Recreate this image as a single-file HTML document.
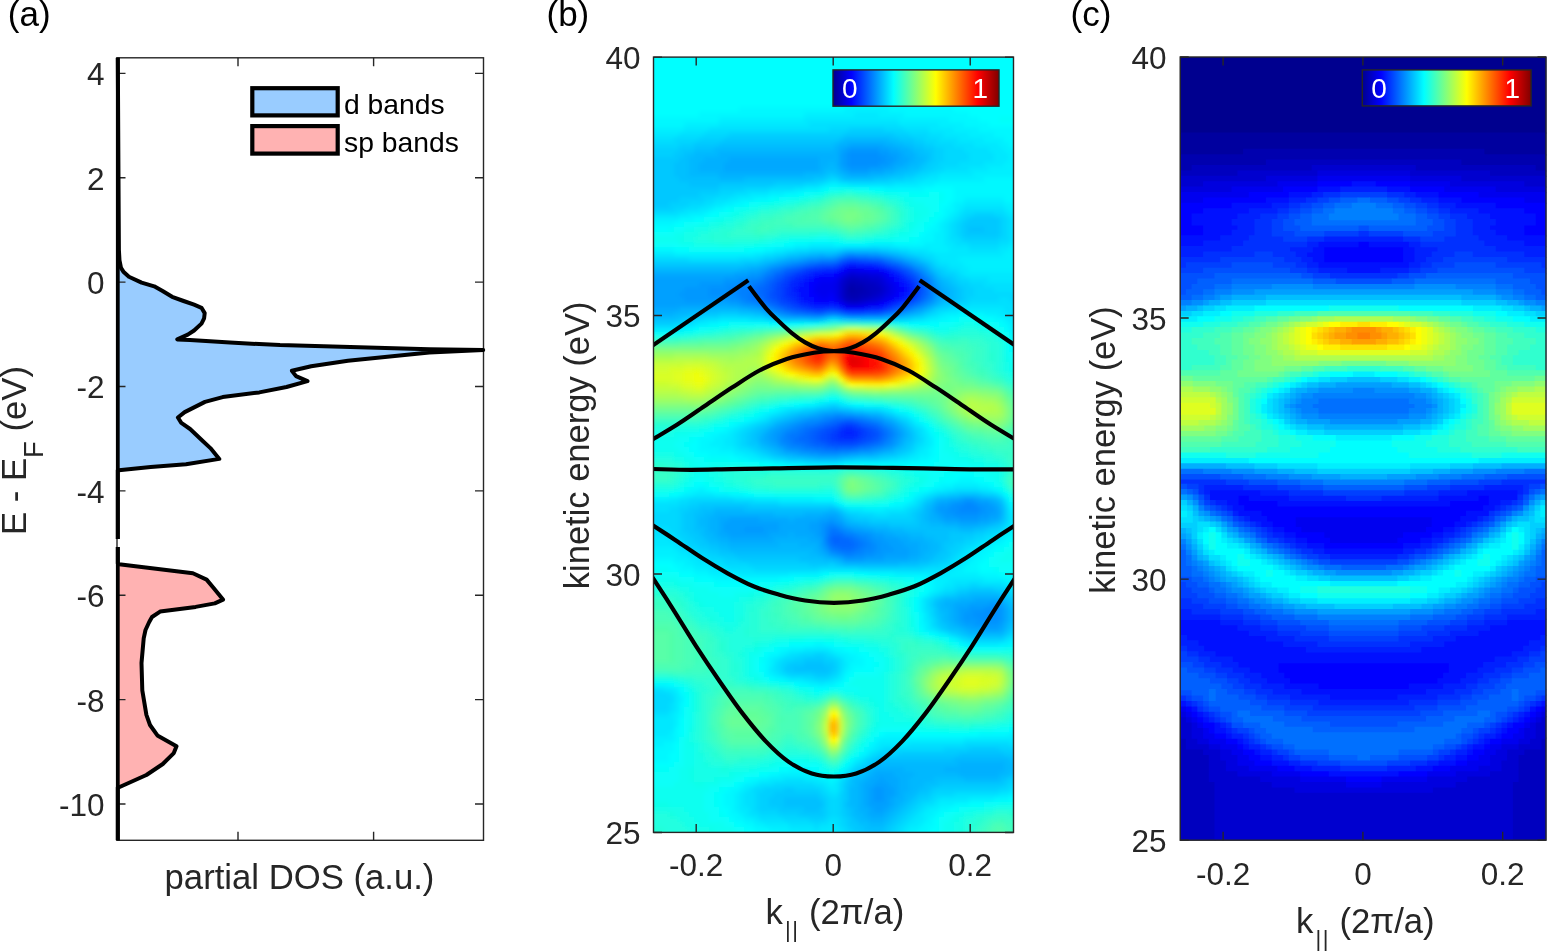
<!DOCTYPE html><html><head><meta charset="utf-8"><style>html,body{margin:0;padding:0;background:#fff;width:1547px;height:951px;overflow:hidden}svg{display:block}</style></head><body>
<svg width="1547" height="951" viewBox="0 0 1547 951">
<defs><clipPath id="cb"><rect x="653.5" y="57.1" width="360" height="775.3"/></clipPath><clipPath id="cc"><rect x="1180.2" y="57" width="366" height="783.2"/></clipPath><filter id="blb" x="0" y="0" width="1" height="1"><feGaussianBlur stdDeviation="2"/></filter><linearGradient id="jet"><stop offset="0" stop-color="#000090"/><stop offset="0.111" stop-color="#0000ff"/><stop offset="0.365" stop-color="#00ffff"/><stop offset="0.619" stop-color="#ffff00"/><stop offset="0.873" stop-color="#ff0000"/><stop offset="1" stop-color="#800000"/></linearGradient></defs>
<g clip-path="url(#cb)"><g filter="url(#blb)"><path fill="#00ffff" d="M644.0 47.0h380.0v5.0h-380.0zM644.0 52.0h380.0v5.0h-380.0zM644.0 57.0h380.0v5.0h-380.0zM644.0 62.0h380.0v5.0h-380.0zM644.0 67.0h380.0v5.0h-380.0zM644.0 72.0h380.0v5.0h-380.0zM644.0 77.0h380.0v5.0h-380.0zM644.0 82.0h380.0v5.0h-380.0zM644.0 87.0h380.0v5.0h-380.0zM644.0 92.0h380.0v5.0h-380.0zM644.0 97.0h380.0v5.0h-380.0zM644.0 102.0h190.0v5.0h-190.0zM909.0 102.0h115.0v5.0h-115.0zM644.0 107.0h95.0v5.0h-95.0zM954.0 107.0h70.0v5.0h-70.0zM644.0 112.0h55.0v5.0h-55.0zM969.0 112.0h55.0v5.0h-55.0zM979.0 117.0h20.0v5.0h-20.0zM989.0 122.0h35.0v5.0h-35.0zM824.0 187.0h5.0v5.0h-5.0zM869.0 187.0h15.0v5.0h-15.0zM924.0 187.0h30.0v5.0h-30.0zM799.0 192.0h5.0v5.0h-5.0zM944.0 192.0h10.0v5.0h-10.0zM769.0 197.0h5.0v5.0h-5.0zM944.0 197.0h10.0v5.0h-10.0zM744.0 202.0h5.0v5.0h-5.0zM939.0 202.0h10.0v5.0h-10.0zM724.0 207.0h5.0v5.0h-5.0zM939.0 207.0h5.0v5.0h-5.0zM709.0 212.0h10.0v5.0h-10.0zM939.0 212.0h5.0v5.0h-5.0zM694.0 217.0h10.0v5.0h-10.0zM934.0 217.0h5.0v5.0h-5.0zM674.0 222.0h10.0v5.0h-10.0zM929.0 222.0h5.0v5.0h-5.0zM644.0 227.0h25.0v5.0h-25.0zM924.0 227.0h5.0v5.0h-5.0zM919.0 232.0h5.0v5.0h-5.0zM914.0 237.0h5.0v5.0h-5.0zM784.0 242.0h10.0v5.0h-10.0zM674.0 247.0h15.0v5.0h-15.0zM749.0 247.0h15.0v5.0h-15.0zM949.0 317.0h10.0v5.0h-10.0zM984.0 317.0h10.0v5.0h-10.0zM719.0 322.0h10.0v5.0h-10.0zM769.0 322.0h15.0v5.0h-15.0zM789.0 322.0h10.0v5.0h-10.0zM909.0 322.0h30.0v5.0h-30.0zM999.0 322.0h5.0v5.0h-5.0zM694.0 327.0h5.0v5.0h-5.0zM1004.0 327.0h5.0v5.0h-5.0zM1009.0 337.0h5.0v5.0h-5.0zM1009.0 342.0h5.0v5.0h-5.0zM1009.0 347.0h5.0v5.0h-5.0zM1014.0 352.0h10.0v5.0h-10.0zM829.0 397.0h5.0v5.0h-5.0zM794.0 402.0h10.0v5.0h-10.0zM854.0 402.0h10.0v5.0h-10.0zM769.0 407.0h5.0v5.0h-5.0zM894.0 407.0h5.0v5.0h-5.0zM909.0 412.0h5.0v5.0h-5.0zM744.0 417.0h5.0v5.0h-5.0zM729.0 422.0h5.0v5.0h-5.0zM924.0 422.0h5.0v5.0h-5.0zM714.0 427.0h10.0v5.0h-10.0zM929.0 427.0h5.0v5.0h-5.0zM704.0 432.0h5.0v5.0h-5.0zM694.0 437.0h5.0v5.0h-5.0zM934.0 437.0h5.0v5.0h-5.0zM689.0 442.0h10.0v5.0h-10.0zM934.0 442.0h5.0v5.0h-5.0zM689.0 447.0h10.0v5.0h-10.0zM934.0 447.0h5.0v5.0h-5.0zM694.0 452.0h15.0v5.0h-15.0zM934.0 452.0h5.0v5.0h-5.0zM729.0 457.0h10.0v5.0h-10.0zM929.0 457.0h10.0v5.0h-10.0zM764.0 462.0h10.0v5.0h-10.0zM909.0 462.0h25.0v5.0h-25.0zM954.0 472.0h20.0v5.0h-20.0zM944.0 477.0h15.0v5.0h-15.0zM974.0 477.0h10.0v5.0h-10.0zM694.0 482.0h10.0v5.0h-10.0zM934.0 482.0h5.0v5.0h-5.0zM989.0 482.0h5.0v5.0h-5.0zM709.0 487.0h10.0v5.0h-10.0zM924.0 487.0h5.0v5.0h-5.0zM669.0 492.0h10.0v5.0h-10.0zM744.0 492.0h10.0v5.0h-10.0zM1004.0 492.0h5.0v5.0h-5.0zM904.0 497.0h5.0v5.0h-5.0zM889.0 502.0h5.0v5.0h-5.0zM1019.0 507.0h5.0v5.0h-5.0zM1014.0 532.0h10.0v5.0h-10.0zM1009.0 537.0h5.0v5.0h-5.0zM1004.0 542.0h5.0v5.0h-5.0zM994.0 547.0h5.0v5.0h-5.0zM989.0 552.0h5.0v5.0h-5.0zM984.0 557.0h5.0v5.0h-5.0zM644.0 562.0h30.0v5.0h-30.0zM979.0 562.0h10.0v5.0h-10.0zM669.0 567.0h10.0v5.0h-10.0zM979.0 567.0h15.0v5.0h-15.0zM679.0 572.0h15.0v5.0h-15.0zM824.0 572.0h5.0v5.0h-5.0zM859.0 572.0h10.0v5.0h-10.0zM999.0 572.0h25.0v5.0h-25.0zM699.0 577.0h15.0v5.0h-15.0zM779.0 577.0h15.0v5.0h-15.0zM914.0 577.0h10.0v5.0h-10.0zM719.0 582.0h40.0v5.0h-40.0zM924.0 582.0h5.0v5.0h-5.0zM924.0 587.0h5.0v5.0h-5.0zM919.0 592.0h5.0v5.0h-5.0zM914.0 597.0h5.0v5.0h-5.0zM914.0 602.0h5.0v5.0h-5.0zM914.0 607.0h5.0v5.0h-5.0zM919.0 627.0h5.0v5.0h-5.0zM929.0 632.0h5.0v5.0h-5.0zM789.0 642.0h25.0v5.0h-25.0zM824.0 642.0h10.0v5.0h-10.0zM774.0 647.0h5.0v5.0h-5.0zM844.0 647.0h10.0v5.0h-10.0zM764.0 652.0h5.0v5.0h-5.0zM859.0 652.0h10.0v5.0h-10.0zM864.0 657.0h10.0v5.0h-10.0zM759.0 662.0h5.0v5.0h-5.0zM864.0 662.0h10.0v5.0h-10.0zM759.0 667.0h5.0v5.0h-5.0zM854.0 667.0h20.0v5.0h-20.0zM849.0 672.0h5.0v5.0h-5.0zM769.0 677.0h5.0v5.0h-5.0zM844.0 677.0h5.0v5.0h-5.0zM669.0 682.0h5.0v5.0h-5.0zM794.0 682.0h5.0v5.0h-5.0zM839.0 682.0h5.0v5.0h-5.0zM679.0 687.0h5.0v5.0h-5.0zM814.0 687.0h15.0v5.0h-15.0zM684.0 697.0h5.0v5.0h-5.0zM684.0 702.0h5.0v5.0h-5.0zM679.0 717.0h5.0v5.0h-5.0zM679.0 722.0h5.0v5.0h-5.0zM679.0 727.0h5.0v5.0h-5.0zM1009.0 727.0h15.0v5.0h-15.0zM679.0 732.0h5.0v5.0h-5.0zM879.0 732.0h5.0v5.0h-5.0zM909.0 732.0h70.0v5.0h-70.0zM674.0 742.0h5.0v5.0h-5.0zM674.0 747.0h5.0v5.0h-5.0zM669.0 752.0h10.0v5.0h-10.0zM669.0 757.0h10.0v5.0h-10.0zM849.0 757.0h5.0v5.0h-5.0zM644.0 762.0h30.0v5.0h-30.0zM844.0 762.0h5.0v5.0h-5.0zM779.0 767.0h10.0v5.0h-10.0zM809.0 767.0h10.0v5.0h-10.0zM839.0 767.0h5.0v5.0h-5.0zM759.0 772.0h10.0v5.0h-10.0zM824.0 772.0h5.0v5.0h-5.0zM834.0 772.0h5.0v5.0h-5.0zM744.0 777.0h5.0v5.0h-5.0zM734.0 782.0h5.0v5.0h-5.0zM724.0 787.0h5.0v5.0h-5.0zM719.0 792.0h5.0v5.0h-5.0zM719.0 797.0h5.0v5.0h-5.0zM1009.0 797.0h15.0v5.0h-15.0zM719.0 802.0h5.0v5.0h-5.0zM969.0 802.0h15.0v5.0h-15.0zM719.0 807.0h10.0v5.0h-10.0zM949.0 807.0h10.0v5.0h-10.0zM724.0 812.0h5.0v5.0h-5.0zM939.0 812.0h5.0v5.0h-5.0zM729.0 817.0h5.0v5.0h-5.0zM934.0 817.0h5.0v5.0h-5.0zM734.0 822.0h10.0v5.0h-10.0zM934.0 822.0h5.0v5.0h-5.0zM744.0 827.0h10.0v5.0h-10.0zM929.0 827.0h10.0v5.0h-10.0zM749.0 832.0h5.0v5.0h-5.0zM929.0 832.0h10.0v5.0h-10.0zM749.0 837.0h5.0v5.0h-5.0zM929.0 837.0h5.0v5.0h-5.0z"/><path fill="#00f8ff" d="M834.0 102.0h75.0v5.0h-75.0zM739.0 107.0h105.0v5.0h-105.0zM889.0 107.0h65.0v5.0h-65.0zM699.0 112.0h105.0v5.0h-105.0zM904.0 112.0h65.0v5.0h-65.0zM644.0 117.0h75.0v5.0h-75.0zM949.0 117.0h30.0v5.0h-30.0zM644.0 122.0h40.0v5.0h-40.0zM964.0 122.0h25.0v5.0h-25.0zM979.0 127.0h45.0v5.0h-45.0zM994.0 132.0h30.0v5.0h-30.0zM1004.0 137.0h20.0v5.0h-20.0zM1009.0 142.0h15.0v5.0h-15.0zM984.0 177.0h40.0v5.0h-40.0zM934.0 182.0h90.0v5.0h-90.0zM819.0 187.0h5.0v5.0h-5.0zM884.0 187.0h40.0v5.0h-40.0zM954.0 187.0h70.0v5.0h-70.0zM784.0 192.0h15.0v5.0h-15.0zM954.0 192.0h70.0v5.0h-70.0zM754.0 197.0h15.0v5.0h-15.0zM954.0 197.0h10.0v5.0h-10.0zM1004.0 197.0h20.0v5.0h-20.0zM734.0 202.0h10.0v5.0h-10.0zM949.0 202.0h5.0v5.0h-5.0zM1014.0 202.0h10.0v5.0h-10.0zM714.0 207.0h10.0v5.0h-10.0zM944.0 207.0h10.0v5.0h-10.0zM704.0 212.0h5.0v5.0h-5.0zM944.0 212.0h5.0v5.0h-5.0zM679.0 217.0h15.0v5.0h-15.0zM939.0 217.0h5.0v5.0h-5.0zM644.0 222.0h30.0v5.0h-30.0zM934.0 222.0h5.0v5.0h-5.0zM929.0 227.0h10.0v5.0h-10.0zM924.0 232.0h10.0v5.0h-10.0zM919.0 237.0h15.0v5.0h-15.0zM794.0 242.0h15.0v5.0h-15.0zM834.0 242.0h35.0v5.0h-35.0zM894.0 242.0h30.0v5.0h-30.0zM644.0 247.0h30.0v5.0h-30.0zM764.0 247.0h10.0v5.0h-10.0zM959.0 312.0h25.0v5.0h-25.0zM939.0 317.0h10.0v5.0h-10.0zM994.0 317.0h10.0v5.0h-10.0zM709.0 322.0h10.0v5.0h-10.0zM784.0 322.0h5.0v5.0h-5.0zM1004.0 322.0h5.0v5.0h-5.0zM684.0 327.0h10.0v5.0h-10.0zM1009.0 332.0h10.0v5.0h-10.0zM1014.0 337.0h10.0v5.0h-10.0zM1014.0 342.0h10.0v5.0h-10.0zM1014.0 347.0h10.0v5.0h-10.0zM804.0 402.0h10.0v5.0h-10.0zM849.0 402.0h5.0v5.0h-5.0zM774.0 407.0h5.0v5.0h-5.0zM759.0 412.0h5.0v5.0h-5.0zM749.0 417.0h5.0v5.0h-5.0zM914.0 417.0h5.0v5.0h-5.0zM734.0 422.0h5.0v5.0h-5.0zM724.0 427.0h5.0v5.0h-5.0zM709.0 432.0h10.0v5.0h-10.0zM929.0 432.0h5.0v5.0h-5.0zM699.0 437.0h15.0v5.0h-15.0zM699.0 442.0h10.0v5.0h-10.0zM699.0 447.0h20.0v5.0h-20.0zM929.0 447.0h5.0v5.0h-5.0zM709.0 452.0h25.0v5.0h-25.0zM929.0 452.0h5.0v5.0h-5.0zM739.0 457.0h10.0v5.0h-10.0zM919.0 457.0h10.0v5.0h-10.0zM774.0 462.0h10.0v5.0h-10.0zM844.0 462.0h65.0v5.0h-65.0zM959.0 477.0h15.0v5.0h-15.0zM939.0 482.0h15.0v5.0h-15.0zM979.0 482.0h10.0v5.0h-10.0zM689.0 487.0h10.0v5.0h-10.0zM704.0 487.0h5.0v5.0h-5.0zM929.0 487.0h5.0v5.0h-5.0zM994.0 487.0h5.0v5.0h-5.0zM679.0 492.0h5.0v5.0h-5.0zM729.0 492.0h15.0v5.0h-15.0zM914.0 492.0h5.0v5.0h-5.0zM814.0 497.0h20.0v5.0h-20.0zM909.0 497.0h5.0v5.0h-5.0zM839.0 502.0h5.0v5.0h-5.0zM894.0 502.0h10.0v5.0h-10.0zM1009.0 502.0h5.0v5.0h-5.0zM1014.0 507.0h5.0v5.0h-5.0zM1014.0 512.0h10.0v5.0h-10.0zM1019.0 522.0h5.0v5.0h-5.0zM1014.0 527.0h10.0v5.0h-10.0zM1009.0 532.0h5.0v5.0h-5.0zM1004.0 537.0h5.0v5.0h-5.0zM994.0 542.0h10.0v5.0h-10.0zM984.0 547.0h10.0v5.0h-10.0zM979.0 552.0h10.0v5.0h-10.0zM644.0 557.0h30.0v5.0h-30.0zM974.0 557.0h10.0v5.0h-10.0zM674.0 562.0h10.0v5.0h-10.0zM969.0 562.0h10.0v5.0h-10.0zM679.0 567.0h15.0v5.0h-15.0zM964.0 567.0h15.0v5.0h-15.0zM694.0 572.0h15.0v5.0h-15.0zM819.0 572.0h5.0v5.0h-5.0zM869.0 572.0h25.0v5.0h-25.0zM979.0 572.0h20.0v5.0h-20.0zM714.0 577.0h65.0v5.0h-65.0zM924.0 577.0h10.0v5.0h-10.0zM1004.0 577.0h20.0v5.0h-20.0zM929.0 582.0h5.0v5.0h-5.0zM929.0 587.0h5.0v5.0h-5.0zM924.0 592.0h5.0v5.0h-5.0zM919.0 612.0h5.0v5.0h-5.0zM919.0 617.0h5.0v5.0h-5.0zM919.0 622.0h5.0v5.0h-5.0zM934.0 632.0h5.0v5.0h-5.0zM949.0 637.0h5.0v5.0h-5.0zM814.0 642.0h10.0v5.0h-10.0zM959.0 642.0h5.0v5.0h-5.0zM1009.0 642.0h15.0v5.0h-15.0zM779.0 647.0h10.0v5.0h-10.0zM834.0 647.0h10.0v5.0h-10.0zM769.0 652.0h10.0v5.0h-10.0zM849.0 652.0h10.0v5.0h-10.0zM764.0 657.0h5.0v5.0h-5.0zM854.0 657.0h10.0v5.0h-10.0zM764.0 662.0h5.0v5.0h-5.0zM849.0 662.0h15.0v5.0h-15.0zM764.0 667.0h5.0v5.0h-5.0zM849.0 667.0h5.0v5.0h-5.0zM764.0 672.0h5.0v5.0h-5.0zM844.0 672.0h5.0v5.0h-5.0zM774.0 677.0h10.0v5.0h-10.0zM644.0 682.0h25.0v5.0h-25.0zM799.0 682.0h10.0v5.0h-10.0zM834.0 682.0h5.0v5.0h-5.0zM679.0 692.0h5.0v5.0h-5.0zM679.0 702.0h5.0v5.0h-5.0zM679.0 707.0h5.0v5.0h-5.0zM679.0 712.0h5.0v5.0h-5.0zM674.0 727.0h5.0v5.0h-5.0zM674.0 732.0h5.0v5.0h-5.0zM884.0 732.0h25.0v5.0h-25.0zM979.0 732.0h30.0v5.0h-30.0zM674.0 737.0h5.0v5.0h-5.0zM874.0 737.0h5.0v5.0h-5.0zM664.0 742.0h10.0v5.0h-10.0zM869.0 742.0h5.0v5.0h-5.0zM644.0 747.0h30.0v5.0h-30.0zM864.0 747.0h5.0v5.0h-5.0zM644.0 752.0h25.0v5.0h-25.0zM859.0 752.0h5.0v5.0h-5.0zM644.0 757.0h25.0v5.0h-25.0zM789.0 767.0h20.0v5.0h-20.0zM769.0 772.0h10.0v5.0h-10.0zM819.0 772.0h5.0v5.0h-5.0zM749.0 777.0h10.0v5.0h-10.0zM829.0 777.0h5.0v5.0h-5.0zM739.0 782.0h5.0v5.0h-5.0zM729.0 787.0h10.0v5.0h-10.0zM724.0 792.0h10.0v5.0h-10.0zM724.0 797.0h10.0v5.0h-10.0zM994.0 797.0h15.0v5.0h-15.0zM724.0 802.0h10.0v5.0h-10.0zM954.0 802.0h15.0v5.0h-15.0zM729.0 807.0h5.0v5.0h-5.0zM939.0 807.0h10.0v5.0h-10.0zM729.0 812.0h10.0v5.0h-10.0zM934.0 812.0h5.0v5.0h-5.0zM734.0 817.0h10.0v5.0h-10.0zM929.0 817.0h5.0v5.0h-5.0zM744.0 822.0h10.0v5.0h-10.0zM924.0 822.0h10.0v5.0h-10.0zM754.0 827.0h15.0v5.0h-15.0zM919.0 827.0h10.0v5.0h-10.0zM754.0 832.0h25.0v5.0h-25.0zM914.0 832.0h15.0v5.0h-15.0zM754.0 837.0h25.0v5.0h-25.0zM914.0 837.0h15.0v5.0h-15.0z"/><path fill="#00f0ff" d="M844.0 107.0h45.0v5.0h-45.0zM804.0 112.0h50.0v5.0h-50.0zM879.0 112.0h25.0v5.0h-25.0zM719.0 117.0h85.0v5.0h-85.0zM899.0 117.0h50.0v5.0h-50.0zM684.0 122.0h35.0v5.0h-35.0zM939.0 122.0h25.0v5.0h-25.0zM644.0 127.0h40.0v5.0h-40.0zM954.0 127.0h25.0v5.0h-25.0zM969.0 132.0h25.0v5.0h-25.0zM984.0 137.0h20.0v5.0h-20.0zM999.0 142.0h10.0v5.0h-10.0zM1004.0 147.0h20.0v5.0h-20.0zM1009.0 152.0h15.0v5.0h-15.0zM1009.0 157.0h15.0v5.0h-15.0zM1004.0 162.0h20.0v5.0h-20.0zM989.0 167.0h35.0v5.0h-35.0zM974.0 172.0h50.0v5.0h-50.0zM939.0 177.0h45.0v5.0h-45.0zM829.0 182.0h10.0v5.0h-10.0zM919.0 182.0h15.0v5.0h-15.0zM804.0 187.0h15.0v5.0h-15.0zM769.0 192.0h15.0v5.0h-15.0zM739.0 197.0h15.0v5.0h-15.0zM964.0 197.0h40.0v5.0h-40.0zM724.0 202.0h10.0v5.0h-10.0zM954.0 202.0h10.0v5.0h-10.0zM1004.0 202.0h10.0v5.0h-10.0zM709.0 207.0h5.0v5.0h-5.0zM954.0 207.0h5.0v5.0h-5.0zM1009.0 207.0h15.0v5.0h-15.0zM689.0 212.0h15.0v5.0h-15.0zM949.0 212.0h5.0v5.0h-5.0zM644.0 217.0h35.0v5.0h-35.0zM944.0 217.0h5.0v5.0h-5.0zM939.0 222.0h5.0v5.0h-5.0zM939.0 227.0h5.0v5.0h-5.0zM934.0 232.0h10.0v5.0h-10.0zM934.0 237.0h10.0v5.0h-10.0zM809.0 242.0h25.0v5.0h-25.0zM869.0 242.0h25.0v5.0h-25.0zM924.0 242.0h20.0v5.0h-20.0zM774.0 247.0h10.0v5.0h-10.0zM929.0 247.0h20.0v5.0h-20.0zM1009.0 247.0h15.0v5.0h-15.0zM674.0 252.0h80.0v5.0h-80.0zM1004.0 252.0h20.0v5.0h-20.0zM959.0 257.0h65.0v5.0h-65.0zM964.0 262.0h60.0v5.0h-60.0zM969.0 267.0h55.0v5.0h-55.0zM944.0 312.0h15.0v5.0h-15.0zM984.0 312.0h15.0v5.0h-15.0zM929.0 317.0h10.0v5.0h-10.0zM1004.0 317.0h5.0v5.0h-5.0zM699.0 322.0h10.0v5.0h-10.0zM1009.0 322.0h5.0v5.0h-5.0zM679.0 327.0h5.0v5.0h-5.0zM1009.0 327.0h15.0v5.0h-15.0zM1019.0 332.0h5.0v5.0h-5.0zM814.0 402.0h5.0v5.0h-5.0zM844.0 402.0h5.0v5.0h-5.0zM779.0 407.0h5.0v5.0h-5.0zM889.0 407.0h5.0v5.0h-5.0zM764.0 412.0h5.0v5.0h-5.0zM904.0 412.0h5.0v5.0h-5.0zM754.0 417.0h5.0v5.0h-5.0zM739.0 422.0h5.0v5.0h-5.0zM919.0 422.0h5.0v5.0h-5.0zM729.0 427.0h5.0v5.0h-5.0zM924.0 427.0h5.0v5.0h-5.0zM719.0 432.0h10.0v5.0h-10.0zM714.0 437.0h10.0v5.0h-10.0zM929.0 437.0h5.0v5.0h-5.0zM709.0 442.0h15.0v5.0h-15.0zM929.0 442.0h5.0v5.0h-5.0zM719.0 447.0h15.0v5.0h-15.0zM924.0 447.0h5.0v5.0h-5.0zM734.0 452.0h10.0v5.0h-10.0zM919.0 452.0h10.0v5.0h-10.0zM749.0 457.0h10.0v5.0h-10.0zM909.0 457.0h10.0v5.0h-10.0zM784.0 462.0h20.0v5.0h-20.0zM839.0 462.0h5.0v5.0h-5.0zM954.0 482.0h25.0v5.0h-25.0zM699.0 487.0h5.0v5.0h-5.0zM934.0 487.0h10.0v5.0h-10.0zM989.0 487.0h5.0v5.0h-5.0zM684.0 492.0h10.0v5.0h-10.0zM714.0 492.0h15.0v5.0h-15.0zM919.0 492.0h5.0v5.0h-5.0zM644.0 497.0h25.0v5.0h-25.0zM779.0 497.0h35.0v5.0h-35.0zM904.0 502.0h5.0v5.0h-5.0zM864.0 507.0h20.0v5.0h-20.0zM1009.0 507.0h5.0v5.0h-5.0zM1014.0 517.0h10.0v5.0h-10.0zM1014.0 522.0h5.0v5.0h-5.0zM1009.0 527.0h5.0v5.0h-5.0zM1004.0 532.0h5.0v5.0h-5.0zM999.0 537.0h5.0v5.0h-5.0zM989.0 542.0h5.0v5.0h-5.0zM644.0 547.0h30.0v5.0h-30.0zM979.0 547.0h5.0v5.0h-5.0zM644.0 552.0h35.0v5.0h-35.0zM974.0 552.0h5.0v5.0h-5.0zM674.0 557.0h15.0v5.0h-15.0zM969.0 557.0h5.0v5.0h-5.0zM684.0 562.0h10.0v5.0h-10.0zM964.0 562.0h5.0v5.0h-5.0zM694.0 567.0h15.0v5.0h-15.0zM954.0 567.0h10.0v5.0h-10.0zM709.0 572.0h30.0v5.0h-30.0zM789.0 572.0h30.0v5.0h-30.0zM894.0 572.0h35.0v5.0h-35.0zM949.0 572.0h30.0v5.0h-30.0zM934.0 577.0h15.0v5.0h-15.0zM984.0 577.0h20.0v5.0h-20.0zM934.0 582.0h10.0v5.0h-10.0zM1009.0 582.0h15.0v5.0h-15.0zM934.0 587.0h5.0v5.0h-5.0zM919.0 597.0h5.0v5.0h-5.0zM919.0 602.0h5.0v5.0h-5.0zM919.0 607.0h5.0v5.0h-5.0zM924.0 622.0h5.0v5.0h-5.0zM924.0 627.0h5.0v5.0h-5.0zM939.0 632.0h5.0v5.0h-5.0zM954.0 637.0h5.0v5.0h-5.0zM1014.0 637.0h10.0v5.0h-10.0zM964.0 642.0h5.0v5.0h-5.0zM999.0 642.0h10.0v5.0h-10.0zM789.0 647.0h15.0v5.0h-15.0zM829.0 647.0h5.0v5.0h-5.0zM779.0 652.0h5.0v5.0h-5.0zM839.0 652.0h10.0v5.0h-10.0zM769.0 657.0h5.0v5.0h-5.0zM844.0 657.0h10.0v5.0h-10.0zM769.0 662.0h5.0v5.0h-5.0zM844.0 667.0h5.0v5.0h-5.0zM769.0 672.0h5.0v5.0h-5.0zM784.0 677.0h5.0v5.0h-5.0zM839.0 677.0h5.0v5.0h-5.0zM809.0 682.0h10.0v5.0h-10.0zM824.0 682.0h10.0v5.0h-10.0zM674.0 687.0h5.0v5.0h-5.0zM679.0 697.0h5.0v5.0h-5.0zM674.0 712.0h5.0v5.0h-5.0zM674.0 717.0h5.0v5.0h-5.0zM674.0 722.0h5.0v5.0h-5.0zM669.0 732.0h5.0v5.0h-5.0zM1009.0 732.0h15.0v5.0h-15.0zM644.0 737.0h30.0v5.0h-30.0zM879.0 737.0h85.0v5.0h-85.0zM644.0 742.0h20.0v5.0h-20.0zM874.0 742.0h5.0v5.0h-5.0zM869.0 747.0h5.0v5.0h-5.0zM864.0 752.0h5.0v5.0h-5.0zM854.0 757.0h5.0v5.0h-5.0zM849.0 762.0h5.0v5.0h-5.0zM844.0 767.0h5.0v5.0h-5.0zM779.0 772.0h40.0v5.0h-40.0zM839.0 772.0h5.0v5.0h-5.0zM759.0 777.0h10.0v5.0h-10.0zM819.0 777.0h10.0v5.0h-10.0zM834.0 777.0h5.0v5.0h-5.0zM744.0 782.0h10.0v5.0h-10.0zM829.0 782.0h5.0v5.0h-5.0zM739.0 787.0h5.0v5.0h-5.0zM734.0 792.0h5.0v5.0h-5.0zM1009.0 792.0h15.0v5.0h-15.0zM734.0 797.0h5.0v5.0h-5.0zM969.0 797.0h25.0v5.0h-25.0zM734.0 802.0h5.0v5.0h-5.0zM939.0 802.0h15.0v5.0h-15.0zM734.0 807.0h5.0v5.0h-5.0zM929.0 807.0h10.0v5.0h-10.0zM739.0 812.0h5.0v5.0h-5.0zM924.0 812.0h10.0v5.0h-10.0zM744.0 817.0h10.0v5.0h-10.0zM924.0 817.0h5.0v5.0h-5.0zM754.0 822.0h10.0v5.0h-10.0zM919.0 822.0h5.0v5.0h-5.0zM769.0 827.0h20.0v5.0h-20.0zM909.0 827.0h10.0v5.0h-10.0zM779.0 832.0h20.0v5.0h-20.0zM829.0 832.0h5.0v5.0h-5.0zM909.0 832.0h5.0v5.0h-5.0zM779.0 837.0h20.0v5.0h-20.0zM829.0 837.0h5.0v5.0h-5.0zM909.0 837.0h5.0v5.0h-5.0z"/><path fill="#00e8ff" d="M854.0 112.0h25.0v5.0h-25.0zM804.0 117.0h95.0v5.0h-95.0zM719.0 122.0h90.0v5.0h-90.0zM899.0 122.0h40.0v5.0h-40.0zM684.0 127.0h25.0v5.0h-25.0zM929.0 127.0h25.0v5.0h-25.0zM644.0 132.0h35.0v5.0h-35.0zM944.0 132.0h25.0v5.0h-25.0zM959.0 137.0h25.0v5.0h-25.0zM974.0 142.0h25.0v5.0h-25.0zM989.0 147.0h15.0v5.0h-15.0zM994.0 152.0h15.0v5.0h-15.0zM994.0 157.0h15.0v5.0h-15.0zM984.0 162.0h20.0v5.0h-20.0zM969.0 167.0h20.0v5.0h-20.0zM939.0 172.0h35.0v5.0h-35.0zM924.0 177.0h15.0v5.0h-15.0zM824.0 182.0h5.0v5.0h-5.0zM839.0 182.0h10.0v5.0h-10.0zM894.0 182.0h25.0v5.0h-25.0zM794.0 187.0h10.0v5.0h-10.0zM749.0 192.0h20.0v5.0h-20.0zM729.0 197.0h10.0v5.0h-10.0zM714.0 202.0h10.0v5.0h-10.0zM964.0 202.0h40.0v5.0h-40.0zM699.0 207.0h10.0v5.0h-10.0zM959.0 207.0h5.0v5.0h-5.0zM1004.0 207.0h5.0v5.0h-5.0zM679.0 212.0h10.0v5.0h-10.0zM954.0 212.0h5.0v5.0h-5.0zM1009.0 212.0h15.0v5.0h-15.0zM949.0 217.0h5.0v5.0h-5.0zM1014.0 217.0h10.0v5.0h-10.0zM944.0 222.0h5.0v5.0h-5.0zM1014.0 222.0h10.0v5.0h-10.0zM944.0 227.0h5.0v5.0h-5.0zM1014.0 227.0h10.0v5.0h-10.0zM944.0 232.0h5.0v5.0h-5.0zM1014.0 232.0h10.0v5.0h-10.0zM944.0 237.0h5.0v5.0h-5.0zM1014.0 237.0h10.0v5.0h-10.0zM944.0 242.0h10.0v5.0h-10.0zM1009.0 242.0h15.0v5.0h-15.0zM784.0 247.0h10.0v5.0h-10.0zM909.0 247.0h20.0v5.0h-20.0zM949.0 247.0h20.0v5.0h-20.0zM999.0 247.0h10.0v5.0h-10.0zM644.0 252.0h30.0v5.0h-30.0zM754.0 252.0h10.0v5.0h-10.0zM934.0 252.0h70.0v5.0h-70.0zM939.0 257.0h20.0v5.0h-20.0zM949.0 262.0h15.0v5.0h-15.0zM959.0 267.0h10.0v5.0h-10.0zM964.0 272.0h60.0v5.0h-60.0zM989.0 277.0h35.0v5.0h-35.0zM959.0 307.0h45.0v5.0h-45.0zM939.0 312.0h5.0v5.0h-5.0zM999.0 312.0h10.0v5.0h-10.0zM719.0 317.0h30.0v5.0h-30.0zM924.0 317.0h5.0v5.0h-5.0zM1009.0 317.0h15.0v5.0h-15.0zM694.0 322.0h5.0v5.0h-5.0zM1014.0 322.0h10.0v5.0h-10.0zM644.0 327.0h35.0v5.0h-35.0zM819.0 402.0h5.0v5.0h-5.0zM839.0 402.0h5.0v5.0h-5.0zM784.0 407.0h5.0v5.0h-5.0zM884.0 407.0h5.0v5.0h-5.0zM769.0 412.0h5.0v5.0h-5.0zM899.0 412.0h5.0v5.0h-5.0zM759.0 417.0h5.0v5.0h-5.0zM909.0 417.0h5.0v5.0h-5.0zM744.0 422.0h5.0v5.0h-5.0zM914.0 422.0h5.0v5.0h-5.0zM734.0 427.0h5.0v5.0h-5.0zM729.0 432.0h5.0v5.0h-5.0zM924.0 432.0h5.0v5.0h-5.0zM724.0 437.0h10.0v5.0h-10.0zM924.0 437.0h5.0v5.0h-5.0zM724.0 442.0h10.0v5.0h-10.0zM924.0 442.0h5.0v5.0h-5.0zM734.0 447.0h5.0v5.0h-5.0zM919.0 447.0h5.0v5.0h-5.0zM744.0 452.0h10.0v5.0h-10.0zM914.0 452.0h5.0v5.0h-5.0zM759.0 457.0h10.0v5.0h-10.0zM899.0 457.0h10.0v5.0h-10.0zM804.0 462.0h35.0v5.0h-35.0zM944.0 487.0h10.0v5.0h-10.0zM979.0 487.0h10.0v5.0h-10.0zM694.0 492.0h20.0v5.0h-20.0zM924.0 492.0h5.0v5.0h-5.0zM999.0 492.0h5.0v5.0h-5.0zM669.0 497.0h10.0v5.0h-10.0zM754.0 497.0h25.0v5.0h-25.0zM914.0 497.0h5.0v5.0h-5.0zM1004.0 497.0h5.0v5.0h-5.0zM834.0 502.0h5.0v5.0h-5.0zM909.0 502.0h5.0v5.0h-5.0zM849.0 507.0h15.0v5.0h-15.0zM884.0 507.0h20.0v5.0h-20.0zM1009.0 512.0h5.0v5.0h-5.0zM1009.0 517.0h5.0v5.0h-5.0zM1009.0 522.0h5.0v5.0h-5.0zM1004.0 527.0h5.0v5.0h-5.0zM999.0 532.0h5.0v5.0h-5.0zM644.0 537.0h25.0v5.0h-25.0zM989.0 537.0h10.0v5.0h-10.0zM644.0 542.0h30.0v5.0h-30.0zM979.0 542.0h10.0v5.0h-10.0zM674.0 547.0h5.0v5.0h-5.0zM969.0 547.0h10.0v5.0h-10.0zM679.0 552.0h10.0v5.0h-10.0zM964.0 552.0h10.0v5.0h-10.0zM689.0 557.0h10.0v5.0h-10.0zM959.0 557.0h10.0v5.0h-10.0zM694.0 562.0h15.0v5.0h-15.0zM954.0 562.0h10.0v5.0h-10.0zM709.0 567.0h20.0v5.0h-20.0zM944.0 567.0h10.0v5.0h-10.0zM739.0 572.0h50.0v5.0h-50.0zM929.0 572.0h20.0v5.0h-20.0zM949.0 577.0h35.0v5.0h-35.0zM944.0 582.0h10.0v5.0h-10.0zM1004.0 582.0h5.0v5.0h-5.0zM939.0 587.0h5.0v5.0h-5.0zM1014.0 587.0h10.0v5.0h-10.0zM929.0 592.0h5.0v5.0h-5.0zM924.0 612.0h5.0v5.0h-5.0zM924.0 617.0h5.0v5.0h-5.0zM929.0 627.0h5.0v5.0h-5.0zM944.0 632.0h5.0v5.0h-5.0zM1009.0 637.0h5.0v5.0h-5.0zM969.0 642.0h30.0v5.0h-30.0zM804.0 647.0h25.0v5.0h-25.0zM784.0 652.0h5.0v5.0h-5.0zM834.0 652.0h5.0v5.0h-5.0zM774.0 657.0h5.0v5.0h-5.0zM844.0 662.0h5.0v5.0h-5.0zM769.0 667.0h5.0v5.0h-5.0zM774.0 672.0h5.0v5.0h-5.0zM839.0 672.0h5.0v5.0h-5.0zM789.0 677.0h15.0v5.0h-15.0zM834.0 677.0h5.0v5.0h-5.0zM819.0 682.0h5.0v5.0h-5.0zM664.0 687.0h10.0v5.0h-10.0zM674.0 692.0h5.0v5.0h-5.0zM674.0 697.0h5.0v5.0h-5.0zM674.0 702.0h5.0v5.0h-5.0zM674.0 707.0h5.0v5.0h-5.0zM669.0 712.0h5.0v5.0h-5.0zM644.0 717.0h30.0v5.0h-30.0zM644.0 722.0h30.0v5.0h-30.0zM644.0 727.0h30.0v5.0h-30.0zM644.0 732.0h25.0v5.0h-25.0zM964.0 737.0h60.0v5.0h-60.0zM879.0 742.0h30.0v5.0h-30.0zM874.0 747.0h5.0v5.0h-5.0zM859.0 757.0h5.0v5.0h-5.0zM769.0 777.0h15.0v5.0h-15.0zM804.0 777.0h15.0v5.0h-15.0zM754.0 782.0h5.0v5.0h-5.0zM824.0 782.0h5.0v5.0h-5.0zM834.0 782.0h5.0v5.0h-5.0zM744.0 787.0h5.0v5.0h-5.0zM829.0 787.0h10.0v5.0h-10.0zM1014.0 787.0h10.0v5.0h-10.0zM739.0 792.0h5.0v5.0h-5.0zM999.0 792.0h10.0v5.0h-10.0zM739.0 797.0h5.0v5.0h-5.0zM939.0 797.0h30.0v5.0h-30.0zM739.0 802.0h5.0v5.0h-5.0zM934.0 802.0h5.0v5.0h-5.0zM739.0 807.0h10.0v5.0h-10.0zM924.0 807.0h5.0v5.0h-5.0zM744.0 812.0h5.0v5.0h-5.0zM919.0 812.0h5.0v5.0h-5.0zM754.0 817.0h5.0v5.0h-5.0zM914.0 817.0h10.0v5.0h-10.0zM764.0 822.0h25.0v5.0h-25.0zM829.0 822.0h5.0v5.0h-5.0zM909.0 822.0h10.0v5.0h-10.0zM789.0 827.0h25.0v5.0h-25.0zM819.0 827.0h20.0v5.0h-20.0zM904.0 827.0h5.0v5.0h-5.0zM799.0 832.0h30.0v5.0h-30.0zM834.0 832.0h5.0v5.0h-5.0zM904.0 832.0h5.0v5.0h-5.0zM799.0 837.0h30.0v5.0h-30.0zM834.0 837.0h5.0v5.0h-5.0zM904.0 837.0h5.0v5.0h-5.0z"/><path fill="#00fff8" d="M999.0 117.0h25.0v5.0h-25.0zM909.0 192.0h20.0v5.0h-20.0zM939.0 192.0h5.0v5.0h-5.0zM774.0 197.0h5.0v5.0h-5.0zM939.0 197.0h5.0v5.0h-5.0zM729.0 207.0h5.0v5.0h-5.0zM934.0 212.0h5.0v5.0h-5.0zM929.0 217.0h5.0v5.0h-5.0zM924.0 222.0h5.0v5.0h-5.0zM669.0 227.0h5.0v5.0h-5.0zM909.0 237.0h5.0v5.0h-5.0zM744.0 247.0h5.0v5.0h-5.0zM979.0 317.0h5.0v5.0h-5.0zM799.0 322.0h5.0v5.0h-5.0zM1019.0 357.0h5.0v5.0h-5.0zM834.0 397.0h5.0v5.0h-5.0zM754.0 412.0h5.0v5.0h-5.0zM934.0 432.0h5.0v5.0h-5.0zM689.0 437.0h5.0v5.0h-5.0zM684.0 442.0h5.0v5.0h-5.0zM704.0 457.0h25.0v5.0h-25.0zM759.0 462.0h5.0v5.0h-5.0zM944.0 472.0h10.0v5.0h-10.0zM939.0 477.0h5.0v5.0h-5.0zM704.0 482.0h5.0v5.0h-5.0zM684.0 487.0h5.0v5.0h-5.0zM919.0 487.0h5.0v5.0h-5.0zM999.0 487.0h5.0v5.0h-5.0zM909.0 492.0h5.0v5.0h-5.0zM1014.0 537.0h10.0v5.0h-10.0zM999.0 547.0h5.0v5.0h-5.0zM644.0 567.0h25.0v5.0h-25.0zM994.0 567.0h5.0v5.0h-5.0zM854.0 572.0h5.0v5.0h-5.0zM694.0 577.0h5.0v5.0h-5.0zM714.0 582.0h5.0v5.0h-5.0zM854.0 647.0h5.0v5.0h-5.0zM759.0 657.0h5.0v5.0h-5.0zM874.0 662.0h5.0v5.0h-5.0zM684.0 692.0h5.0v5.0h-5.0zM644.0 767.0h25.0v5.0h-25.0zM719.0 787.0h5.0v5.0h-5.0zM714.0 792.0h5.0v5.0h-5.0zM714.0 797.0h5.0v5.0h-5.0zM714.0 802.0h5.0v5.0h-5.0zM719.0 812.0h5.0v5.0h-5.0zM744.0 832.0h5.0v5.0h-5.0zM744.0 837.0h5.0v5.0h-5.0zM934.0 837.0h5.0v5.0h-5.0z"/><path fill="#00e0ff" d="M809.0 122.0h90.0v5.0h-90.0zM709.0 127.0h120.0v5.0h-120.0zM904.0 127.0h25.0v5.0h-25.0zM679.0 132.0h25.0v5.0h-25.0zM929.0 132.0h15.0v5.0h-15.0zM644.0 137.0h30.0v5.0h-30.0zM939.0 137.0h20.0v5.0h-20.0zM954.0 142.0h20.0v5.0h-20.0zM964.0 147.0h25.0v5.0h-25.0zM969.0 152.0h25.0v5.0h-25.0zM969.0 157.0h25.0v5.0h-25.0zM959.0 162.0h25.0v5.0h-25.0zM944.0 167.0h25.0v5.0h-25.0zM929.0 172.0h10.0v5.0h-10.0zM914.0 177.0h10.0v5.0h-10.0zM819.0 182.0h5.0v5.0h-5.0zM849.0 182.0h45.0v5.0h-45.0zM769.0 187.0h25.0v5.0h-25.0zM734.0 192.0h15.0v5.0h-15.0zM714.0 197.0h15.0v5.0h-15.0zM704.0 202.0h10.0v5.0h-10.0zM684.0 207.0h15.0v5.0h-15.0zM964.0 207.0h40.0v5.0h-40.0zM644.0 212.0h35.0v5.0h-35.0zM959.0 212.0h5.0v5.0h-5.0zM1004.0 212.0h5.0v5.0h-5.0zM954.0 217.0h5.0v5.0h-5.0zM1009.0 217.0h5.0v5.0h-5.0zM949.0 222.0h5.0v5.0h-5.0zM1009.0 222.0h5.0v5.0h-5.0zM949.0 227.0h5.0v5.0h-5.0zM1009.0 227.0h5.0v5.0h-5.0zM949.0 232.0h5.0v5.0h-5.0zM1009.0 232.0h5.0v5.0h-5.0zM949.0 237.0h10.0v5.0h-10.0zM1009.0 237.0h5.0v5.0h-5.0zM954.0 242.0h15.0v5.0h-15.0zM999.0 242.0h10.0v5.0h-10.0zM794.0 247.0h15.0v5.0h-15.0zM899.0 247.0h10.0v5.0h-10.0zM969.0 247.0h30.0v5.0h-30.0zM764.0 252.0h10.0v5.0h-10.0zM924.0 252.0h10.0v5.0h-10.0zM689.0 257.0h50.0v5.0h-50.0zM934.0 257.0h5.0v5.0h-5.0zM939.0 262.0h10.0v5.0h-10.0zM949.0 267.0h10.0v5.0h-10.0zM959.0 272.0h5.0v5.0h-5.0zM969.0 277.0h20.0v5.0h-20.0zM984.0 282.0h40.0v5.0h-40.0zM994.0 287.0h30.0v5.0h-30.0zM999.0 297.0h10.0v5.0h-10.0zM969.0 302.0h45.0v5.0h-45.0zM949.0 307.0h10.0v5.0h-10.0zM1004.0 307.0h20.0v5.0h-20.0zM934.0 312.0h5.0v5.0h-5.0zM1009.0 312.0h15.0v5.0h-15.0zM704.0 317.0h15.0v5.0h-15.0zM749.0 317.0h15.0v5.0h-15.0zM914.0 317.0h10.0v5.0h-10.0zM684.0 322.0h10.0v5.0h-10.0zM824.0 402.0h5.0v5.0h-5.0zM789.0 407.0h10.0v5.0h-10.0zM879.0 407.0h5.0v5.0h-5.0zM774.0 412.0h5.0v5.0h-5.0zM894.0 412.0h5.0v5.0h-5.0zM764.0 417.0h5.0v5.0h-5.0zM749.0 422.0h5.0v5.0h-5.0zM739.0 427.0h5.0v5.0h-5.0zM919.0 427.0h5.0v5.0h-5.0zM734.0 432.0h5.0v5.0h-5.0zM919.0 432.0h5.0v5.0h-5.0zM734.0 437.0h5.0v5.0h-5.0zM734.0 442.0h5.0v5.0h-5.0zM919.0 442.0h5.0v5.0h-5.0zM739.0 447.0h10.0v5.0h-10.0zM914.0 447.0h5.0v5.0h-5.0zM754.0 452.0h5.0v5.0h-5.0zM909.0 452.0h5.0v5.0h-5.0zM769.0 457.0h5.0v5.0h-5.0zM889.0 457.0h10.0v5.0h-10.0zM954.0 487.0h25.0v5.0h-25.0zM929.0 492.0h5.0v5.0h-5.0zM679.0 497.0h10.0v5.0h-10.0zM734.0 497.0h20.0v5.0h-20.0zM919.0 497.0h5.0v5.0h-5.0zM644.0 502.0h35.0v5.0h-35.0zM914.0 502.0h5.0v5.0h-5.0zM644.0 507.0h25.0v5.0h-25.0zM844.0 507.0h5.0v5.0h-5.0zM904.0 507.0h5.0v5.0h-5.0zM874.0 512.0h15.0v5.0h-15.0zM644.0 527.0h25.0v5.0h-25.0zM644.0 532.0h30.0v5.0h-30.0zM994.0 532.0h5.0v5.0h-5.0zM669.0 537.0h10.0v5.0h-10.0zM984.0 537.0h5.0v5.0h-5.0zM674.0 542.0h10.0v5.0h-10.0zM974.0 542.0h5.0v5.0h-5.0zM679.0 547.0h10.0v5.0h-10.0zM964.0 547.0h5.0v5.0h-5.0zM689.0 552.0h10.0v5.0h-10.0zM959.0 552.0h5.0v5.0h-5.0zM699.0 557.0h10.0v5.0h-10.0zM954.0 557.0h5.0v5.0h-5.0zM709.0 562.0h15.0v5.0h-15.0zM949.0 562.0h5.0v5.0h-5.0zM729.0 567.0h25.0v5.0h-25.0zM819.0 567.0h40.0v5.0h-40.0zM924.0 567.0h20.0v5.0h-20.0zM954.0 582.0h15.0v5.0h-15.0zM979.0 582.0h25.0v5.0h-25.0zM944.0 587.0h10.0v5.0h-10.0zM1009.0 587.0h5.0v5.0h-5.0zM934.0 592.0h5.0v5.0h-5.0zM1014.0 592.0h10.0v5.0h-10.0zM924.0 597.0h5.0v5.0h-5.0zM924.0 602.0h5.0v5.0h-5.0zM924.0 607.0h5.0v5.0h-5.0zM929.0 617.0h5.0v5.0h-5.0zM929.0 622.0h5.0v5.0h-5.0zM934.0 627.0h5.0v5.0h-5.0zM1014.0 632.0h10.0v5.0h-10.0zM959.0 637.0h5.0v5.0h-5.0zM1004.0 637.0h5.0v5.0h-5.0zM789.0 652.0h10.0v5.0h-10.0zM829.0 652.0h5.0v5.0h-5.0zM779.0 657.0h5.0v5.0h-5.0zM839.0 657.0h5.0v5.0h-5.0zM774.0 662.0h5.0v5.0h-5.0zM839.0 662.0h5.0v5.0h-5.0zM774.0 667.0h5.0v5.0h-5.0zM839.0 667.0h5.0v5.0h-5.0zM779.0 672.0h5.0v5.0h-5.0zM804.0 677.0h10.0v5.0h-10.0zM829.0 677.0h5.0v5.0h-5.0zM644.0 687.0h20.0v5.0h-20.0zM669.0 692.0h5.0v5.0h-5.0zM669.0 702.0h5.0v5.0h-5.0zM669.0 707.0h5.0v5.0h-5.0zM644.0 712.0h25.0v5.0h-25.0zM909.0 742.0h55.0v5.0h-55.0zM1009.0 742.0h15.0v5.0h-15.0zM879.0 747.0h5.0v5.0h-5.0zM869.0 752.0h5.0v5.0h-5.0zM854.0 762.0h5.0v5.0h-5.0zM849.0 767.0h5.0v5.0h-5.0zM844.0 772.0h5.0v5.0h-5.0zM784.0 777.0h20.0v5.0h-20.0zM839.0 777.0h5.0v5.0h-5.0zM759.0 782.0h15.0v5.0h-15.0zM814.0 782.0h10.0v5.0h-10.0zM749.0 787.0h5.0v5.0h-5.0zM824.0 787.0h5.0v5.0h-5.0zM1009.0 787.0h5.0v5.0h-5.0zM744.0 792.0h10.0v5.0h-10.0zM829.0 792.0h10.0v5.0h-10.0zM954.0 792.0h45.0v5.0h-45.0zM744.0 797.0h10.0v5.0h-10.0zM934.0 797.0h5.0v5.0h-5.0zM744.0 802.0h10.0v5.0h-10.0zM924.0 802.0h10.0v5.0h-10.0zM749.0 807.0h5.0v5.0h-5.0zM919.0 807.0h5.0v5.0h-5.0zM749.0 812.0h10.0v5.0h-10.0zM914.0 812.0h5.0v5.0h-5.0zM759.0 817.0h25.0v5.0h-25.0zM829.0 817.0h10.0v5.0h-10.0zM909.0 817.0h5.0v5.0h-5.0zM789.0 822.0h25.0v5.0h-25.0zM819.0 822.0h10.0v5.0h-10.0zM834.0 822.0h5.0v5.0h-5.0zM904.0 822.0h5.0v5.0h-5.0zM814.0 827.0h5.0v5.0h-5.0zM839.0 827.0h5.0v5.0h-5.0zM899.0 827.0h5.0v5.0h-5.0zM839.0 832.0h5.0v5.0h-5.0zM899.0 832.0h5.0v5.0h-5.0zM839.0 837.0h5.0v5.0h-5.0zM899.0 837.0h5.0v5.0h-5.0z"/><path fill="#00d8ff" d="M829.0 127.0h20.0v5.0h-20.0zM884.0 127.0h20.0v5.0h-20.0zM704.0 132.0h25.0v5.0h-25.0zM909.0 132.0h20.0v5.0h-20.0zM674.0 137.0h25.0v5.0h-25.0zM924.0 137.0h15.0v5.0h-15.0zM644.0 142.0h35.0v5.0h-35.0zM934.0 142.0h20.0v5.0h-20.0zM944.0 147.0h20.0v5.0h-20.0zM944.0 152.0h25.0v5.0h-25.0zM944.0 157.0h25.0v5.0h-25.0zM939.0 162.0h20.0v5.0h-20.0zM934.0 167.0h10.0v5.0h-10.0zM919.0 172.0h10.0v5.0h-10.0zM829.0 177.0h10.0v5.0h-10.0zM904.0 177.0h10.0v5.0h-10.0zM804.0 182.0h15.0v5.0h-15.0zM744.0 187.0h25.0v5.0h-25.0zM719.0 192.0h15.0v5.0h-15.0zM704.0 197.0h10.0v5.0h-10.0zM689.0 202.0h15.0v5.0h-15.0zM674.0 207.0h10.0v5.0h-10.0zM964.0 212.0h10.0v5.0h-10.0zM994.0 212.0h10.0v5.0h-10.0zM959.0 217.0h5.0v5.0h-5.0zM1004.0 217.0h5.0v5.0h-5.0zM954.0 222.0h5.0v5.0h-5.0zM1004.0 222.0h5.0v5.0h-5.0zM954.0 227.0h5.0v5.0h-5.0zM1004.0 227.0h5.0v5.0h-5.0zM954.0 232.0h5.0v5.0h-5.0zM1004.0 232.0h5.0v5.0h-5.0zM959.0 237.0h5.0v5.0h-5.0zM999.0 237.0h10.0v5.0h-10.0zM969.0 242.0h30.0v5.0h-30.0zM809.0 247.0h30.0v5.0h-30.0zM889.0 247.0h10.0v5.0h-10.0zM774.0 252.0h10.0v5.0h-10.0zM914.0 252.0h10.0v5.0h-10.0zM644.0 257.0h45.0v5.0h-45.0zM739.0 257.0h20.0v5.0h-20.0zM929.0 257.0h5.0v5.0h-5.0zM934.0 262.0h5.0v5.0h-5.0zM944.0 267.0h5.0v5.0h-5.0zM954.0 272.0h5.0v5.0h-5.0zM959.0 277.0h10.0v5.0h-10.0zM969.0 282.0h15.0v5.0h-15.0zM974.0 287.0h20.0v5.0h-20.0zM974.0 292.0h50.0v5.0h-50.0zM969.0 297.0h30.0v5.0h-30.0zM1009.0 297.0h15.0v5.0h-15.0zM959.0 302.0h10.0v5.0h-10.0zM1014.0 302.0h10.0v5.0h-10.0zM939.0 307.0h10.0v5.0h-10.0zM929.0 312.0h5.0v5.0h-5.0zM694.0 317.0h10.0v5.0h-10.0zM764.0 317.0h5.0v5.0h-5.0zM829.0 317.0h10.0v5.0h-10.0zM909.0 317.0h5.0v5.0h-5.0zM674.0 322.0h10.0v5.0h-10.0zM829.0 402.0h10.0v5.0h-10.0zM799.0 407.0h5.0v5.0h-5.0zM864.0 407.0h15.0v5.0h-15.0zM779.0 412.0h5.0v5.0h-5.0zM904.0 417.0h5.0v5.0h-5.0zM754.0 422.0h5.0v5.0h-5.0zM909.0 422.0h5.0v5.0h-5.0zM744.0 427.0h5.0v5.0h-5.0zM914.0 427.0h5.0v5.0h-5.0zM739.0 432.0h5.0v5.0h-5.0zM739.0 437.0h5.0v5.0h-5.0zM919.0 437.0h5.0v5.0h-5.0zM739.0 442.0h5.0v5.0h-5.0zM914.0 442.0h5.0v5.0h-5.0zM749.0 447.0h5.0v5.0h-5.0zM759.0 452.0h5.0v5.0h-5.0zM904.0 452.0h5.0v5.0h-5.0zM774.0 457.0h10.0v5.0h-10.0zM879.0 457.0h10.0v5.0h-10.0zM934.0 492.0h5.0v5.0h-5.0zM994.0 492.0h5.0v5.0h-5.0zM689.0 497.0h45.0v5.0h-45.0zM679.0 502.0h10.0v5.0h-10.0zM779.0 502.0h55.0v5.0h-55.0zM1004.0 502.0h5.0v5.0h-5.0zM669.0 507.0h10.0v5.0h-10.0zM909.0 507.0h5.0v5.0h-5.0zM644.0 512.0h35.0v5.0h-35.0zM859.0 512.0h15.0v5.0h-15.0zM889.0 512.0h20.0v5.0h-20.0zM644.0 517.0h35.0v5.0h-35.0zM644.0 522.0h35.0v5.0h-35.0zM1004.0 522.0h5.0v5.0h-5.0zM669.0 527.0h10.0v5.0h-10.0zM999.0 527.0h5.0v5.0h-5.0zM674.0 532.0h5.0v5.0h-5.0zM984.0 532.0h10.0v5.0h-10.0zM679.0 537.0h5.0v5.0h-5.0zM974.0 537.0h10.0v5.0h-10.0zM684.0 542.0h5.0v5.0h-5.0zM964.0 542.0h10.0v5.0h-10.0zM689.0 547.0h10.0v5.0h-10.0zM959.0 547.0h5.0v5.0h-5.0zM699.0 552.0h10.0v5.0h-10.0zM954.0 552.0h5.0v5.0h-5.0zM709.0 557.0h15.0v5.0h-15.0zM949.0 557.0h5.0v5.0h-5.0zM724.0 562.0h25.0v5.0h-25.0zM939.0 562.0h10.0v5.0h-10.0zM754.0 567.0h65.0v5.0h-65.0zM859.0 567.0h65.0v5.0h-65.0zM969.0 582.0h10.0v5.0h-10.0zM954.0 587.0h5.0v5.0h-5.0zM1004.0 587.0h5.0v5.0h-5.0zM939.0 592.0h5.0v5.0h-5.0zM1009.0 592.0h5.0v5.0h-5.0zM929.0 597.0h5.0v5.0h-5.0zM929.0 607.0h5.0v5.0h-5.0zM929.0 612.0h5.0v5.0h-5.0zM949.0 632.0h5.0v5.0h-5.0zM1009.0 632.0h5.0v5.0h-5.0zM964.0 637.0h5.0v5.0h-5.0zM799.0 652.0h15.0v5.0h-15.0zM824.0 652.0h5.0v5.0h-5.0zM784.0 657.0h10.0v5.0h-10.0zM834.0 657.0h5.0v5.0h-5.0zM779.0 662.0h5.0v5.0h-5.0zM779.0 667.0h5.0v5.0h-5.0zM784.0 672.0h5.0v5.0h-5.0zM834.0 672.0h5.0v5.0h-5.0zM814.0 677.0h15.0v5.0h-15.0zM644.0 692.0h25.0v5.0h-25.0zM644.0 697.0h30.0v5.0h-30.0zM644.0 702.0h25.0v5.0h-25.0zM644.0 707.0h25.0v5.0h-25.0zM964.0 742.0h45.0v5.0h-45.0zM884.0 747.0h60.0v5.0h-60.0zM874.0 752.0h5.0v5.0h-5.0zM864.0 757.0h5.0v5.0h-5.0zM859.0 762.0h5.0v5.0h-5.0zM774.0 782.0h40.0v5.0h-40.0zM839.0 782.0h5.0v5.0h-5.0zM1009.0 782.0h15.0v5.0h-15.0zM754.0 787.0h10.0v5.0h-10.0zM819.0 787.0h5.0v5.0h-5.0zM839.0 787.0h5.0v5.0h-5.0zM999.0 787.0h10.0v5.0h-10.0zM754.0 792.0h5.0v5.0h-5.0zM824.0 792.0h5.0v5.0h-5.0zM934.0 792.0h20.0v5.0h-20.0zM754.0 797.0h5.0v5.0h-5.0zM829.0 797.0h10.0v5.0h-10.0zM929.0 797.0h5.0v5.0h-5.0zM754.0 802.0h5.0v5.0h-5.0zM829.0 802.0h10.0v5.0h-10.0zM919.0 802.0h5.0v5.0h-5.0zM754.0 807.0h5.0v5.0h-5.0zM829.0 807.0h10.0v5.0h-10.0zM914.0 807.0h5.0v5.0h-5.0zM759.0 812.0h20.0v5.0h-20.0zM829.0 812.0h10.0v5.0h-10.0zM909.0 812.0h5.0v5.0h-5.0zM784.0 817.0h25.0v5.0h-25.0zM824.0 817.0h5.0v5.0h-5.0zM839.0 817.0h5.0v5.0h-5.0zM904.0 817.0h5.0v5.0h-5.0zM814.0 822.0h5.0v5.0h-5.0zM839.0 822.0h5.0v5.0h-5.0zM899.0 822.0h5.0v5.0h-5.0zM844.0 827.0h5.0v5.0h-5.0zM894.0 827.0h5.0v5.0h-5.0zM844.0 832.0h5.0v5.0h-5.0zM894.0 832.0h5.0v5.0h-5.0zM844.0 837.0h5.0v5.0h-5.0zM894.0 837.0h5.0v5.0h-5.0z"/><path fill="#00d0ff" d="M849.0 127.0h35.0v5.0h-35.0zM729.0 132.0h115.0v5.0h-115.0zM894.0 132.0h15.0v5.0h-15.0zM699.0 137.0h25.0v5.0h-25.0zM914.0 137.0h10.0v5.0h-10.0zM679.0 142.0h15.0v5.0h-15.0zM924.0 142.0h10.0v5.0h-10.0zM644.0 147.0h35.0v5.0h-35.0zM934.0 147.0h10.0v5.0h-10.0zM644.0 152.0h30.0v5.0h-30.0zM934.0 152.0h10.0v5.0h-10.0zM934.0 157.0h10.0v5.0h-10.0zM929.0 162.0h10.0v5.0h-10.0zM924.0 167.0h10.0v5.0h-10.0zM914.0 172.0h5.0v5.0h-5.0zM824.0 177.0h5.0v5.0h-5.0zM889.0 177.0h15.0v5.0h-15.0zM774.0 182.0h30.0v5.0h-30.0zM719.0 187.0h25.0v5.0h-25.0zM699.0 192.0h20.0v5.0h-20.0zM679.0 197.0h25.0v5.0h-25.0zM669.0 202.0h20.0v5.0h-20.0zM644.0 207.0h30.0v5.0h-30.0zM974.0 212.0h20.0v5.0h-20.0zM964.0 217.0h5.0v5.0h-5.0zM999.0 217.0h5.0v5.0h-5.0zM959.0 222.0h5.0v5.0h-5.0zM999.0 222.0h5.0v5.0h-5.0zM959.0 227.0h5.0v5.0h-5.0zM999.0 227.0h5.0v5.0h-5.0zM959.0 232.0h5.0v5.0h-5.0zM999.0 232.0h5.0v5.0h-5.0zM964.0 237.0h35.0v5.0h-35.0zM839.0 247.0h5.0v5.0h-5.0zM879.0 247.0h10.0v5.0h-10.0zM784.0 252.0h5.0v5.0h-5.0zM909.0 252.0h5.0v5.0h-5.0zM759.0 257.0h5.0v5.0h-5.0zM924.0 257.0h5.0v5.0h-5.0zM939.0 267.0h5.0v5.0h-5.0zM944.0 272.0h10.0v5.0h-10.0zM954.0 277.0h5.0v5.0h-5.0zM959.0 282.0h10.0v5.0h-10.0zM964.0 287.0h10.0v5.0h-10.0zM964.0 292.0h10.0v5.0h-10.0zM964.0 297.0h5.0v5.0h-5.0zM954.0 302.0h5.0v5.0h-5.0zM934.0 307.0h5.0v5.0h-5.0zM719.0 312.0h20.0v5.0h-20.0zM924.0 312.0h5.0v5.0h-5.0zM684.0 317.0h10.0v5.0h-10.0zM769.0 317.0h5.0v5.0h-5.0zM899.0 317.0h10.0v5.0h-10.0zM644.0 322.0h30.0v5.0h-30.0zM804.0 407.0h10.0v5.0h-10.0zM854.0 407.0h10.0v5.0h-10.0zM784.0 412.0h5.0v5.0h-5.0zM889.0 412.0h5.0v5.0h-5.0zM769.0 417.0h5.0v5.0h-5.0zM899.0 417.0h5.0v5.0h-5.0zM759.0 422.0h5.0v5.0h-5.0zM749.0 427.0h5.0v5.0h-5.0zM744.0 432.0h5.0v5.0h-5.0zM914.0 432.0h5.0v5.0h-5.0zM744.0 437.0h5.0v5.0h-5.0zM914.0 437.0h5.0v5.0h-5.0zM744.0 442.0h5.0v5.0h-5.0zM754.0 447.0h5.0v5.0h-5.0zM909.0 447.0h5.0v5.0h-5.0zM764.0 452.0h5.0v5.0h-5.0zM899.0 452.0h5.0v5.0h-5.0zM784.0 457.0h5.0v5.0h-5.0zM854.0 457.0h25.0v5.0h-25.0zM939.0 492.0h10.0v5.0h-10.0zM984.0 492.0h10.0v5.0h-10.0zM924.0 497.0h5.0v5.0h-5.0zM689.0 502.0h10.0v5.0h-10.0zM749.0 502.0h30.0v5.0h-30.0zM919.0 502.0h5.0v5.0h-5.0zM679.0 507.0h10.0v5.0h-10.0zM839.0 507.0h5.0v5.0h-5.0zM914.0 507.0h5.0v5.0h-5.0zM1004.0 507.0h5.0v5.0h-5.0zM679.0 512.0h5.0v5.0h-5.0zM849.0 512.0h10.0v5.0h-10.0zM909.0 512.0h5.0v5.0h-5.0zM1004.0 512.0h5.0v5.0h-5.0zM679.0 517.0h5.0v5.0h-5.0zM869.0 517.0h45.0v5.0h-45.0zM1004.0 517.0h5.0v5.0h-5.0zM679.0 522.0h5.0v5.0h-5.0zM679.0 527.0h5.0v5.0h-5.0zM989.0 527.0h10.0v5.0h-10.0zM679.0 532.0h10.0v5.0h-10.0zM974.0 532.0h10.0v5.0h-10.0zM684.0 537.0h10.0v5.0h-10.0zM964.0 537.0h10.0v5.0h-10.0zM689.0 542.0h10.0v5.0h-10.0zM954.0 542.0h10.0v5.0h-10.0zM699.0 547.0h10.0v5.0h-10.0zM949.0 547.0h10.0v5.0h-10.0zM709.0 552.0h10.0v5.0h-10.0zM949.0 552.0h5.0v5.0h-5.0zM724.0 557.0h15.0v5.0h-15.0zM944.0 557.0h5.0v5.0h-5.0zM749.0 562.0h60.0v5.0h-60.0zM829.0 562.0h5.0v5.0h-5.0zM929.0 562.0h10.0v5.0h-10.0zM959.0 587.0h10.0v5.0h-10.0zM994.0 587.0h10.0v5.0h-10.0zM944.0 592.0h10.0v5.0h-10.0zM1014.0 597.0h10.0v5.0h-10.0zM929.0 602.0h5.0v5.0h-5.0zM934.0 617.0h5.0v5.0h-5.0zM934.0 622.0h5.0v5.0h-5.0zM939.0 627.0h5.0v5.0h-5.0zM1014.0 627.0h10.0v5.0h-10.0zM954.0 632.0h5.0v5.0h-5.0zM969.0 637.0h35.0v5.0h-35.0zM814.0 652.0h10.0v5.0h-10.0zM794.0 657.0h10.0v5.0h-10.0zM824.0 657.0h10.0v5.0h-10.0zM784.0 662.0h5.0v5.0h-5.0zM834.0 662.0h5.0v5.0h-5.0zM834.0 667.0h5.0v5.0h-5.0zM789.0 672.0h25.0v5.0h-25.0zM829.0 672.0h5.0v5.0h-5.0zM944.0 747.0h25.0v5.0h-25.0zM999.0 747.0h25.0v5.0h-25.0zM879.0 752.0h20.0v5.0h-20.0zM869.0 757.0h5.0v5.0h-5.0zM864.0 762.0h5.0v5.0h-5.0zM854.0 767.0h5.0v5.0h-5.0zM849.0 772.0h5.0v5.0h-5.0zM844.0 777.0h5.0v5.0h-5.0zM1009.0 777.0h15.0v5.0h-15.0zM1004.0 782.0h5.0v5.0h-5.0zM764.0 787.0h20.0v5.0h-20.0zM794.0 787.0h25.0v5.0h-25.0zM934.0 787.0h65.0v5.0h-65.0zM759.0 792.0h15.0v5.0h-15.0zM819.0 792.0h5.0v5.0h-5.0zM839.0 792.0h5.0v5.0h-5.0zM929.0 792.0h5.0v5.0h-5.0zM759.0 797.0h10.0v5.0h-10.0zM824.0 797.0h5.0v5.0h-5.0zM839.0 797.0h5.0v5.0h-5.0zM919.0 797.0h10.0v5.0h-10.0zM759.0 802.0h10.0v5.0h-10.0zM824.0 802.0h5.0v5.0h-5.0zM839.0 802.0h5.0v5.0h-5.0zM914.0 802.0h5.0v5.0h-5.0zM759.0 807.0h20.0v5.0h-20.0zM824.0 807.0h5.0v5.0h-5.0zM839.0 807.0h5.0v5.0h-5.0zM909.0 807.0h5.0v5.0h-5.0zM779.0 812.0h20.0v5.0h-20.0zM824.0 812.0h5.0v5.0h-5.0zM839.0 812.0h5.0v5.0h-5.0zM904.0 812.0h5.0v5.0h-5.0zM809.0 817.0h15.0v5.0h-15.0zM844.0 817.0h5.0v5.0h-5.0zM899.0 817.0h5.0v5.0h-5.0zM844.0 822.0h5.0v5.0h-5.0zM894.0 822.0h5.0v5.0h-5.0zM849.0 827.0h5.0v5.0h-5.0zM889.0 827.0h5.0v5.0h-5.0zM849.0 832.0h10.0v5.0h-10.0zM889.0 832.0h5.0v5.0h-5.0zM849.0 837.0h10.0v5.0h-10.0zM889.0 837.0h5.0v5.0h-5.0z"/><path fill="#00c8ff" d="M844.0 132.0h50.0v5.0h-50.0zM724.0 137.0h115.0v5.0h-115.0zM899.0 137.0h15.0v5.0h-15.0zM694.0 142.0h25.0v5.0h-25.0zM914.0 142.0h10.0v5.0h-10.0zM679.0 147.0h15.0v5.0h-15.0zM924.0 147.0h10.0v5.0h-10.0zM674.0 152.0h10.0v5.0h-10.0zM929.0 152.0h5.0v5.0h-5.0zM644.0 157.0h35.0v5.0h-35.0zM929.0 157.0h5.0v5.0h-5.0zM644.0 162.0h30.0v5.0h-30.0zM924.0 162.0h5.0v5.0h-5.0zM644.0 167.0h30.0v5.0h-30.0zM919.0 167.0h5.0v5.0h-5.0zM644.0 172.0h30.0v5.0h-30.0zM829.0 172.0h5.0v5.0h-5.0zM904.0 172.0h10.0v5.0h-10.0zM644.0 177.0h35.0v5.0h-35.0zM814.0 177.0h10.0v5.0h-10.0zM839.0 177.0h5.0v5.0h-5.0zM874.0 177.0h15.0v5.0h-15.0zM644.0 182.0h45.0v5.0h-45.0zM719.0 182.0h55.0v5.0h-55.0zM644.0 187.0h75.0v5.0h-75.0zM644.0 192.0h55.0v5.0h-55.0zM644.0 197.0h35.0v5.0h-35.0zM644.0 202.0h25.0v5.0h-25.0zM969.0 217.0h30.0v5.0h-30.0zM964.0 222.0h35.0v5.0h-35.0zM964.0 227.0h5.0v5.0h-5.0zM984.0 227.0h15.0v5.0h-15.0zM964.0 232.0h35.0v5.0h-35.0zM844.0 247.0h35.0v5.0h-35.0zM789.0 252.0h10.0v5.0h-10.0zM904.0 252.0h5.0v5.0h-5.0zM764.0 257.0h10.0v5.0h-10.0zM919.0 257.0h5.0v5.0h-5.0zM644.0 262.0h100.0v5.0h-100.0zM929.0 262.0h5.0v5.0h-5.0zM934.0 267.0h5.0v5.0h-5.0zM939.0 272.0h5.0v5.0h-5.0zM949.0 277.0h5.0v5.0h-5.0zM954.0 282.0h5.0v5.0h-5.0zM959.0 287.0h5.0v5.0h-5.0zM959.0 292.0h5.0v5.0h-5.0zM959.0 297.0h5.0v5.0h-5.0zM944.0 302.0h10.0v5.0h-10.0zM699.0 312.0h20.0v5.0h-20.0zM739.0 312.0h15.0v5.0h-15.0zM679.0 317.0h5.0v5.0h-5.0zM774.0 317.0h5.0v5.0h-5.0zM824.0 317.0h5.0v5.0h-5.0zM839.0 317.0h5.0v5.0h-5.0zM894.0 317.0h5.0v5.0h-5.0zM814.0 407.0h5.0v5.0h-5.0zM849.0 407.0h5.0v5.0h-5.0zM789.0 412.0h5.0v5.0h-5.0zM884.0 412.0h5.0v5.0h-5.0zM774.0 417.0h5.0v5.0h-5.0zM764.0 422.0h5.0v5.0h-5.0zM904.0 422.0h5.0v5.0h-5.0zM754.0 427.0h5.0v5.0h-5.0zM909.0 427.0h5.0v5.0h-5.0zM749.0 432.0h5.0v5.0h-5.0zM749.0 437.0h5.0v5.0h-5.0zM749.0 442.0h10.0v5.0h-10.0zM909.0 442.0h5.0v5.0h-5.0zM759.0 447.0h5.0v5.0h-5.0zM904.0 447.0h5.0v5.0h-5.0zM769.0 452.0h5.0v5.0h-5.0zM894.0 452.0h5.0v5.0h-5.0zM789.0 457.0h15.0v5.0h-15.0zM844.0 457.0h10.0v5.0h-10.0zM949.0 492.0h10.0v5.0h-10.0zM979.0 492.0h5.0v5.0h-5.0zM929.0 497.0h5.0v5.0h-5.0zM999.0 497.0h5.0v5.0h-5.0zM699.0 502.0h50.0v5.0h-50.0zM689.0 507.0h10.0v5.0h-10.0zM919.0 507.0h5.0v5.0h-5.0zM684.0 512.0h10.0v5.0h-10.0zM844.0 512.0h5.0v5.0h-5.0zM914.0 512.0h5.0v5.0h-5.0zM684.0 517.0h10.0v5.0h-10.0zM854.0 517.0h15.0v5.0h-15.0zM914.0 517.0h5.0v5.0h-5.0zM684.0 522.0h10.0v5.0h-10.0zM889.0 522.0h30.0v5.0h-30.0zM999.0 522.0h5.0v5.0h-5.0zM684.0 527.0h10.0v5.0h-10.0zM984.0 527.0h5.0v5.0h-5.0zM689.0 532.0h10.0v5.0h-10.0zM949.0 532.0h25.0v5.0h-25.0zM694.0 537.0h10.0v5.0h-10.0zM949.0 537.0h15.0v5.0h-15.0zM699.0 542.0h10.0v5.0h-10.0zM944.0 542.0h10.0v5.0h-10.0zM709.0 547.0h10.0v5.0h-10.0zM944.0 547.0h5.0v5.0h-5.0zM719.0 552.0h15.0v5.0h-15.0zM939.0 552.0h10.0v5.0h-10.0zM739.0 557.0h60.0v5.0h-60.0zM934.0 557.0h10.0v5.0h-10.0zM809.0 562.0h20.0v5.0h-20.0zM834.0 562.0h5.0v5.0h-5.0zM919.0 562.0h10.0v5.0h-10.0zM969.0 587.0h25.0v5.0h-25.0zM954.0 592.0h5.0v5.0h-5.0zM1004.0 592.0h5.0v5.0h-5.0zM934.0 597.0h5.0v5.0h-5.0zM1009.0 597.0h5.0v5.0h-5.0zM1014.0 602.0h10.0v5.0h-10.0zM934.0 607.0h5.0v5.0h-5.0zM934.0 612.0h5.0v5.0h-5.0zM939.0 622.0h5.0v5.0h-5.0zM1014.0 622.0h10.0v5.0h-10.0zM944.0 627.0h5.0v5.0h-5.0zM1009.0 627.0h5.0v5.0h-5.0zM959.0 632.0h5.0v5.0h-5.0zM1004.0 632.0h5.0v5.0h-5.0zM804.0 657.0h20.0v5.0h-20.0zM789.0 662.0h15.0v5.0h-15.0zM824.0 662.0h10.0v5.0h-10.0zM784.0 667.0h10.0v5.0h-10.0zM829.0 667.0h5.0v5.0h-5.0zM814.0 672.0h15.0v5.0h-15.0zM969.0 747.0h30.0v5.0h-30.0zM899.0 752.0h60.0v5.0h-60.0zM1004.0 752.0h20.0v5.0h-20.0zM874.0 757.0h5.0v5.0h-5.0zM869.0 762.0h5.0v5.0h-5.0zM859.0 767.0h5.0v5.0h-5.0zM854.0 772.0h5.0v5.0h-5.0zM1014.0 772.0h10.0v5.0h-10.0zM1004.0 777.0h5.0v5.0h-5.0zM844.0 782.0h5.0v5.0h-5.0zM939.0 782.0h65.0v5.0h-65.0zM784.0 787.0h10.0v5.0h-10.0zM844.0 787.0h5.0v5.0h-5.0zM929.0 787.0h5.0v5.0h-5.0zM774.0 792.0h45.0v5.0h-45.0zM844.0 792.0h5.0v5.0h-5.0zM919.0 792.0h10.0v5.0h-10.0zM769.0 797.0h15.0v5.0h-15.0zM819.0 797.0h5.0v5.0h-5.0zM844.0 797.0h5.0v5.0h-5.0zM914.0 797.0h5.0v5.0h-5.0zM769.0 802.0h15.0v5.0h-15.0zM909.0 802.0h5.0v5.0h-5.0zM779.0 807.0h25.0v5.0h-25.0zM819.0 807.0h5.0v5.0h-5.0zM844.0 807.0h5.0v5.0h-5.0zM904.0 807.0h5.0v5.0h-5.0zM799.0 812.0h25.0v5.0h-25.0zM844.0 812.0h5.0v5.0h-5.0zM899.0 812.0h5.0v5.0h-5.0zM849.0 817.0h5.0v5.0h-5.0zM894.0 817.0h5.0v5.0h-5.0zM849.0 822.0h10.0v5.0h-10.0zM889.0 822.0h5.0v5.0h-5.0zM854.0 827.0h10.0v5.0h-10.0zM884.0 827.0h5.0v5.0h-5.0zM859.0 832.0h10.0v5.0h-10.0zM884.0 832.0h5.0v5.0h-5.0zM859.0 837.0h10.0v5.0h-10.0zM884.0 837.0h5.0v5.0h-5.0z"/><path fill="#00c0ff" d="M839.0 137.0h5.0v5.0h-5.0zM889.0 137.0h10.0v5.0h-10.0zM719.0 142.0h115.0v5.0h-115.0zM904.0 142.0h10.0v5.0h-10.0zM694.0 147.0h20.0v5.0h-20.0zM914.0 147.0h10.0v5.0h-10.0zM684.0 152.0h10.0v5.0h-10.0zM919.0 152.0h10.0v5.0h-10.0zM679.0 157.0h10.0v5.0h-10.0zM924.0 157.0h5.0v5.0h-5.0zM674.0 162.0h15.0v5.0h-15.0zM919.0 162.0h5.0v5.0h-5.0zM674.0 167.0h15.0v5.0h-15.0zM909.0 167.0h10.0v5.0h-10.0zM674.0 172.0h15.0v5.0h-15.0zM824.0 172.0h5.0v5.0h-5.0zM834.0 172.0h5.0v5.0h-5.0zM894.0 172.0h10.0v5.0h-10.0zM679.0 177.0h40.0v5.0h-40.0zM744.0 177.0h70.0v5.0h-70.0zM844.0 177.0h30.0v5.0h-30.0zM689.0 182.0h30.0v5.0h-30.0zM969.0 227.0h15.0v5.0h-15.0zM799.0 252.0h10.0v5.0h-10.0zM899.0 252.0h5.0v5.0h-5.0zM774.0 257.0h5.0v5.0h-5.0zM744.0 262.0h15.0v5.0h-15.0zM944.0 277.0h5.0v5.0h-5.0zM949.0 282.0h5.0v5.0h-5.0zM954.0 287.0h5.0v5.0h-5.0zM954.0 292.0h5.0v5.0h-5.0zM954.0 297.0h5.0v5.0h-5.0zM939.0 302.0h5.0v5.0h-5.0zM929.0 307.0h5.0v5.0h-5.0zM689.0 312.0h10.0v5.0h-10.0zM754.0 312.0h10.0v5.0h-10.0zM919.0 312.0h5.0v5.0h-5.0zM644.0 317.0h35.0v5.0h-35.0zM779.0 317.0h5.0v5.0h-5.0zM844.0 317.0h5.0v5.0h-5.0zM884.0 317.0h10.0v5.0h-10.0zM819.0 407.0h10.0v5.0h-10.0zM839.0 407.0h10.0v5.0h-10.0zM794.0 412.0h5.0v5.0h-5.0zM779.0 417.0h5.0v5.0h-5.0zM894.0 417.0h5.0v5.0h-5.0zM769.0 422.0h5.0v5.0h-5.0zM759.0 427.0h5.0v5.0h-5.0zM754.0 432.0h5.0v5.0h-5.0zM909.0 432.0h5.0v5.0h-5.0zM754.0 437.0h5.0v5.0h-5.0zM909.0 437.0h5.0v5.0h-5.0zM904.0 442.0h5.0v5.0h-5.0zM764.0 447.0h5.0v5.0h-5.0zM899.0 447.0h5.0v5.0h-5.0zM774.0 452.0h5.0v5.0h-5.0zM884.0 452.0h10.0v5.0h-10.0zM804.0 457.0h10.0v5.0h-10.0zM839.0 457.0h5.0v5.0h-5.0zM959.0 492.0h20.0v5.0h-20.0zM924.0 502.0h5.0v5.0h-5.0zM699.0 507.0h15.0v5.0h-15.0zM744.0 507.0h85.0v5.0h-85.0zM834.0 507.0h5.0v5.0h-5.0zM694.0 512.0h10.0v5.0h-10.0zM919.0 512.0h5.0v5.0h-5.0zM694.0 517.0h5.0v5.0h-5.0zM849.0 517.0h5.0v5.0h-5.0zM919.0 517.0h5.0v5.0h-5.0zM694.0 522.0h5.0v5.0h-5.0zM869.0 522.0h20.0v5.0h-20.0zM919.0 522.0h10.0v5.0h-10.0zM994.0 522.0h5.0v5.0h-5.0zM694.0 527.0h10.0v5.0h-10.0zM904.0 527.0h55.0v5.0h-55.0zM974.0 527.0h10.0v5.0h-10.0zM699.0 532.0h5.0v5.0h-5.0zM924.0 532.0h25.0v5.0h-25.0zM704.0 537.0h5.0v5.0h-5.0zM934.0 537.0h15.0v5.0h-15.0zM709.0 542.0h10.0v5.0h-10.0zM939.0 542.0h5.0v5.0h-5.0zM719.0 547.0h10.0v5.0h-10.0zM939.0 547.0h5.0v5.0h-5.0zM734.0 552.0h75.0v5.0h-75.0zM934.0 552.0h5.0v5.0h-5.0zM799.0 557.0h25.0v5.0h-25.0zM929.0 557.0h5.0v5.0h-5.0zM839.0 562.0h5.0v5.0h-5.0zM899.0 562.0h20.0v5.0h-20.0zM959.0 592.0h10.0v5.0h-10.0zM999.0 592.0h5.0v5.0h-5.0zM939.0 597.0h5.0v5.0h-5.0zM1004.0 597.0h5.0v5.0h-5.0zM934.0 602.0h5.0v5.0h-5.0zM1009.0 602.0h5.0v5.0h-5.0zM1014.0 607.0h10.0v5.0h-10.0zM939.0 612.0h5.0v5.0h-5.0zM1014.0 612.0h10.0v5.0h-10.0zM939.0 617.0h5.0v5.0h-5.0zM1014.0 617.0h10.0v5.0h-10.0zM944.0 622.0h5.0v5.0h-5.0zM1009.0 622.0h5.0v5.0h-5.0zM949.0 627.0h10.0v5.0h-10.0zM964.0 632.0h5.0v5.0h-5.0zM804.0 662.0h20.0v5.0h-20.0zM794.0 667.0h35.0v5.0h-35.0zM959.0 752.0h45.0v5.0h-45.0zM879.0 757.0h75.0v5.0h-75.0zM1009.0 757.0h15.0v5.0h-15.0zM1014.0 762.0h10.0v5.0h-10.0zM864.0 767.0h5.0v5.0h-5.0zM1014.0 767.0h10.0v5.0h-10.0zM859.0 772.0h5.0v5.0h-5.0zM1009.0 772.0h5.0v5.0h-5.0zM849.0 777.0h5.0v5.0h-5.0zM934.0 777.0h30.0v5.0h-30.0zM999.0 777.0h5.0v5.0h-5.0zM849.0 782.0h5.0v5.0h-5.0zM924.0 782.0h15.0v5.0h-15.0zM919.0 787.0h10.0v5.0h-10.0zM914.0 792.0h5.0v5.0h-5.0zM784.0 797.0h35.0v5.0h-35.0zM909.0 797.0h5.0v5.0h-5.0zM784.0 802.0h40.0v5.0h-40.0zM844.0 802.0h5.0v5.0h-5.0zM904.0 802.0h5.0v5.0h-5.0zM804.0 807.0h15.0v5.0h-15.0zM849.0 807.0h5.0v5.0h-5.0zM899.0 807.0h5.0v5.0h-5.0zM849.0 812.0h5.0v5.0h-5.0zM894.0 812.0h5.0v5.0h-5.0zM854.0 817.0h5.0v5.0h-5.0zM889.0 817.0h5.0v5.0h-5.0zM859.0 822.0h10.0v5.0h-10.0zM884.0 822.0h5.0v5.0h-5.0zM864.0 827.0h20.0v5.0h-20.0zM869.0 832.0h15.0v5.0h-15.0zM869.0 837.0h15.0v5.0h-15.0z"/><path fill="#00b8ff" d="M844.0 137.0h45.0v5.0h-45.0zM834.0 142.0h5.0v5.0h-5.0zM894.0 142.0h10.0v5.0h-10.0zM714.0 147.0h120.0v5.0h-120.0zM909.0 147.0h5.0v5.0h-5.0zM694.0 152.0h25.0v5.0h-25.0zM914.0 152.0h5.0v5.0h-5.0zM689.0 157.0h15.0v5.0h-15.0zM914.0 157.0h10.0v5.0h-10.0zM689.0 162.0h10.0v5.0h-10.0zM829.0 162.0h5.0v5.0h-5.0zM909.0 162.0h10.0v5.0h-10.0zM689.0 167.0h10.0v5.0h-10.0zM824.0 167.0h15.0v5.0h-15.0zM899.0 167.0h10.0v5.0h-10.0zM689.0 172.0h30.0v5.0h-30.0zM804.0 172.0h20.0v5.0h-20.0zM839.0 172.0h5.0v5.0h-5.0zM884.0 172.0h10.0v5.0h-10.0zM719.0 177.0h25.0v5.0h-25.0zM809.0 252.0h10.0v5.0h-10.0zM824.0 252.0h10.0v5.0h-10.0zM894.0 252.0h5.0v5.0h-5.0zM779.0 257.0h5.0v5.0h-5.0zM914.0 257.0h5.0v5.0h-5.0zM759.0 262.0h5.0v5.0h-5.0zM924.0 262.0h5.0v5.0h-5.0zM644.0 267.0h95.0v5.0h-95.0zM929.0 267.0h5.0v5.0h-5.0zM934.0 272.0h5.0v5.0h-5.0zM939.0 277.0h5.0v5.0h-5.0zM944.0 282.0h5.0v5.0h-5.0zM949.0 287.0h5.0v5.0h-5.0zM949.0 292.0h5.0v5.0h-5.0zM944.0 297.0h10.0v5.0h-10.0zM709.0 307.0h30.0v5.0h-30.0zM674.0 312.0h15.0v5.0h-15.0zM914.0 312.0h5.0v5.0h-5.0zM784.0 317.0h25.0v5.0h-25.0zM819.0 317.0h5.0v5.0h-5.0zM849.0 317.0h35.0v5.0h-35.0zM829.0 407.0h10.0v5.0h-10.0zM799.0 412.0h10.0v5.0h-10.0zM879.0 412.0h5.0v5.0h-5.0zM784.0 417.0h5.0v5.0h-5.0zM899.0 422.0h5.0v5.0h-5.0zM764.0 427.0h5.0v5.0h-5.0zM904.0 427.0h5.0v5.0h-5.0zM759.0 432.0h5.0v5.0h-5.0zM904.0 437.0h5.0v5.0h-5.0zM759.0 442.0h5.0v5.0h-5.0zM769.0 447.0h5.0v5.0h-5.0zM894.0 447.0h5.0v5.0h-5.0zM779.0 452.0h5.0v5.0h-5.0zM879.0 452.0h5.0v5.0h-5.0zM814.0 457.0h25.0v5.0h-25.0zM934.0 497.0h5.0v5.0h-5.0zM994.0 497.0h5.0v5.0h-5.0zM929.0 502.0h5.0v5.0h-5.0zM999.0 502.0h5.0v5.0h-5.0zM714.0 507.0h30.0v5.0h-30.0zM829.0 507.0h5.0v5.0h-5.0zM924.0 507.0h5.0v5.0h-5.0zM704.0 512.0h10.0v5.0h-10.0zM774.0 512.0h30.0v5.0h-30.0zM839.0 512.0h5.0v5.0h-5.0zM924.0 512.0h5.0v5.0h-5.0zM699.0 517.0h10.0v5.0h-10.0zM844.0 517.0h5.0v5.0h-5.0zM924.0 517.0h5.0v5.0h-5.0zM999.0 517.0h5.0v5.0h-5.0zM699.0 522.0h10.0v5.0h-10.0zM859.0 522.0h10.0v5.0h-10.0zM929.0 522.0h15.0v5.0h-15.0zM989.0 522.0h5.0v5.0h-5.0zM704.0 527.0h5.0v5.0h-5.0zM889.0 527.0h15.0v5.0h-15.0zM959.0 527.0h15.0v5.0h-15.0zM704.0 532.0h10.0v5.0h-10.0zM909.0 532.0h15.0v5.0h-15.0zM709.0 537.0h10.0v5.0h-10.0zM924.0 537.0h10.0v5.0h-10.0zM719.0 542.0h10.0v5.0h-10.0zM779.0 542.0h20.0v5.0h-20.0zM929.0 542.0h10.0v5.0h-10.0zM729.0 547.0h85.0v5.0h-85.0zM929.0 547.0h10.0v5.0h-10.0zM809.0 552.0h10.0v5.0h-10.0zM924.0 552.0h10.0v5.0h-10.0zM824.0 557.0h10.0v5.0h-10.0zM919.0 557.0h10.0v5.0h-10.0zM844.0 562.0h55.0v5.0h-55.0zM969.0 592.0h30.0v5.0h-30.0zM944.0 597.0h15.0v5.0h-15.0zM939.0 602.0h5.0v5.0h-5.0zM939.0 607.0h10.0v5.0h-10.0zM1009.0 607.0h5.0v5.0h-5.0zM944.0 612.0h5.0v5.0h-5.0zM1009.0 612.0h5.0v5.0h-5.0zM944.0 617.0h5.0v5.0h-5.0zM1009.0 617.0h5.0v5.0h-5.0zM949.0 622.0h5.0v5.0h-5.0zM959.0 627.0h5.0v5.0h-5.0zM1004.0 627.0h5.0v5.0h-5.0zM969.0 632.0h35.0v5.0h-35.0zM954.0 757.0h55.0v5.0h-55.0zM874.0 762.0h85.0v5.0h-85.0zM1004.0 762.0h10.0v5.0h-10.0zM869.0 767.0h5.0v5.0h-5.0zM904.0 767.0h40.0v5.0h-40.0zM1004.0 767.0h10.0v5.0h-10.0zM864.0 772.0h5.0v5.0h-5.0zM914.0 772.0h45.0v5.0h-45.0zM999.0 772.0h10.0v5.0h-10.0zM854.0 777.0h10.0v5.0h-10.0zM909.0 777.0h25.0v5.0h-25.0zM964.0 777.0h35.0v5.0h-35.0zM854.0 782.0h5.0v5.0h-5.0zM909.0 782.0h15.0v5.0h-15.0zM849.0 787.0h10.0v5.0h-10.0zM909.0 787.0h10.0v5.0h-10.0zM849.0 792.0h10.0v5.0h-10.0zM904.0 792.0h10.0v5.0h-10.0zM849.0 797.0h10.0v5.0h-10.0zM904.0 797.0h5.0v5.0h-5.0zM849.0 802.0h10.0v5.0h-10.0zM899.0 802.0h5.0v5.0h-5.0zM854.0 807.0h5.0v5.0h-5.0zM894.0 807.0h5.0v5.0h-5.0zM854.0 812.0h10.0v5.0h-10.0zM889.0 812.0h5.0v5.0h-5.0zM859.0 817.0h10.0v5.0h-10.0zM884.0 817.0h5.0v5.0h-5.0zM869.0 822.0h15.0v5.0h-15.0z"/><path fill="#00b0ff" d="M839.0 142.0h10.0v5.0h-10.0zM884.0 142.0h10.0v5.0h-10.0zM834.0 147.0h5.0v5.0h-5.0zM899.0 147.0h10.0v5.0h-10.0zM719.0 152.0h120.0v5.0h-120.0zM904.0 152.0h10.0v5.0h-10.0zM704.0 157.0h25.0v5.0h-25.0zM819.0 157.0h20.0v5.0h-20.0zM909.0 157.0h5.0v5.0h-5.0zM699.0 162.0h25.0v5.0h-25.0zM819.0 162.0h10.0v5.0h-10.0zM834.0 162.0h5.0v5.0h-5.0zM904.0 162.0h5.0v5.0h-5.0zM699.0 167.0h25.0v5.0h-25.0zM819.0 167.0h5.0v5.0h-5.0zM894.0 167.0h5.0v5.0h-5.0zM719.0 172.0h85.0v5.0h-85.0zM844.0 172.0h5.0v5.0h-5.0zM869.0 172.0h15.0v5.0h-15.0zM819.0 252.0h5.0v5.0h-5.0zM834.0 252.0h5.0v5.0h-5.0zM889.0 252.0h5.0v5.0h-5.0zM784.0 257.0h5.0v5.0h-5.0zM909.0 257.0h5.0v5.0h-5.0zM764.0 262.0h5.0v5.0h-5.0zM739.0 267.0h10.0v5.0h-10.0zM939.0 282.0h5.0v5.0h-5.0zM944.0 287.0h5.0v5.0h-5.0zM944.0 292.0h5.0v5.0h-5.0zM939.0 297.0h5.0v5.0h-5.0zM934.0 302.0h5.0v5.0h-5.0zM679.0 307.0h30.0v5.0h-30.0zM739.0 307.0h10.0v5.0h-10.0zM924.0 307.0h5.0v5.0h-5.0zM644.0 312.0h30.0v5.0h-30.0zM764.0 312.0h5.0v5.0h-5.0zM909.0 312.0h5.0v5.0h-5.0zM809.0 317.0h10.0v5.0h-10.0zM809.0 412.0h5.0v5.0h-5.0zM869.0 412.0h10.0v5.0h-10.0zM789.0 417.0h5.0v5.0h-5.0zM889.0 417.0h5.0v5.0h-5.0zM774.0 422.0h5.0v5.0h-5.0zM904.0 432.0h5.0v5.0h-5.0zM759.0 437.0h5.0v5.0h-5.0zM764.0 442.0h5.0v5.0h-5.0zM899.0 442.0h5.0v5.0h-5.0zM774.0 447.0h5.0v5.0h-5.0zM784.0 452.0h10.0v5.0h-10.0zM874.0 452.0h5.0v5.0h-5.0zM939.0 497.0h10.0v5.0h-10.0zM989.0 497.0h5.0v5.0h-5.0zM929.0 507.0h5.0v5.0h-5.0zM999.0 507.0h5.0v5.0h-5.0zM714.0 512.0h60.0v5.0h-60.0zM804.0 512.0h20.0v5.0h-20.0zM929.0 512.0h5.0v5.0h-5.0zM999.0 512.0h5.0v5.0h-5.0zM709.0 517.0h10.0v5.0h-10.0zM789.0 517.0h5.0v5.0h-5.0zM929.0 517.0h10.0v5.0h-10.0zM709.0 522.0h10.0v5.0h-10.0zM849.0 522.0h10.0v5.0h-10.0zM944.0 522.0h15.0v5.0h-15.0zM979.0 522.0h10.0v5.0h-10.0zM709.0 527.0h10.0v5.0h-10.0zM874.0 527.0h15.0v5.0h-15.0zM714.0 532.0h5.0v5.0h-5.0zM789.0 532.0h5.0v5.0h-5.0zM894.0 532.0h15.0v5.0h-15.0zM719.0 537.0h10.0v5.0h-10.0zM774.0 537.0h35.0v5.0h-35.0zM909.0 537.0h15.0v5.0h-15.0zM729.0 542.0h50.0v5.0h-50.0zM799.0 542.0h20.0v5.0h-20.0zM919.0 542.0h10.0v5.0h-10.0zM814.0 547.0h5.0v5.0h-5.0zM919.0 547.0h10.0v5.0h-10.0zM819.0 552.0h5.0v5.0h-5.0zM919.0 552.0h5.0v5.0h-5.0zM834.0 557.0h5.0v5.0h-5.0zM909.0 557.0h10.0v5.0h-10.0zM959.0 597.0h15.0v5.0h-15.0zM999.0 597.0h5.0v5.0h-5.0zM944.0 602.0h10.0v5.0h-10.0zM1004.0 602.0h5.0v5.0h-5.0zM949.0 607.0h5.0v5.0h-5.0zM949.0 612.0h5.0v5.0h-5.0zM949.0 617.0h5.0v5.0h-5.0zM954.0 622.0h5.0v5.0h-5.0zM1004.0 622.0h5.0v5.0h-5.0zM964.0 627.0h5.0v5.0h-5.0zM959.0 762.0h45.0v5.0h-45.0zM874.0 767.0h30.0v5.0h-30.0zM944.0 767.0h60.0v5.0h-60.0zM869.0 772.0h5.0v5.0h-5.0zM894.0 772.0h20.0v5.0h-20.0zM959.0 772.0h40.0v5.0h-40.0zM864.0 777.0h5.0v5.0h-5.0zM899.0 777.0h10.0v5.0h-10.0zM859.0 782.0h5.0v5.0h-5.0zM899.0 782.0h10.0v5.0h-10.0zM859.0 787.0h5.0v5.0h-5.0zM899.0 787.0h10.0v5.0h-10.0zM859.0 792.0h5.0v5.0h-5.0zM899.0 792.0h5.0v5.0h-5.0zM859.0 797.0h5.0v5.0h-5.0zM894.0 797.0h10.0v5.0h-10.0zM859.0 802.0h5.0v5.0h-5.0zM894.0 802.0h5.0v5.0h-5.0zM859.0 807.0h10.0v5.0h-10.0zM889.0 807.0h5.0v5.0h-5.0zM864.0 812.0h5.0v5.0h-5.0zM884.0 812.0h5.0v5.0h-5.0zM869.0 817.0h15.0v5.0h-15.0z"/><path fill="#00a8ff" d="M849.0 142.0h35.0v5.0h-35.0zM839.0 147.0h5.0v5.0h-5.0zM889.0 147.0h10.0v5.0h-10.0zM899.0 152.0h5.0v5.0h-5.0zM729.0 157.0h90.0v5.0h-90.0zM899.0 157.0h10.0v5.0h-10.0zM724.0 162.0h95.0v5.0h-95.0zM894.0 162.0h10.0v5.0h-10.0zM724.0 167.0h95.0v5.0h-95.0zM839.0 167.0h5.0v5.0h-5.0zM884.0 167.0h10.0v5.0h-10.0zM849.0 172.0h20.0v5.0h-20.0zM884.0 252.0h5.0v5.0h-5.0zM789.0 257.0h10.0v5.0h-10.0zM904.0 257.0h5.0v5.0h-5.0zM769.0 262.0h5.0v5.0h-5.0zM919.0 262.0h5.0v5.0h-5.0zM749.0 267.0h10.0v5.0h-10.0zM644.0 272.0h90.0v5.0h-90.0zM934.0 277.0h5.0v5.0h-5.0zM939.0 287.0h5.0v5.0h-5.0zM939.0 292.0h5.0v5.0h-5.0zM714.0 302.0h15.0v5.0h-15.0zM644.0 307.0h35.0v5.0h-35.0zM749.0 307.0h10.0v5.0h-10.0zM769.0 312.0h5.0v5.0h-5.0zM904.0 312.0h5.0v5.0h-5.0zM814.0 412.0h5.0v5.0h-5.0zM864.0 412.0h5.0v5.0h-5.0zM794.0 417.0h5.0v5.0h-5.0zM884.0 417.0h5.0v5.0h-5.0zM779.0 422.0h5.0v5.0h-5.0zM894.0 422.0h5.0v5.0h-5.0zM769.0 427.0h5.0v5.0h-5.0zM899.0 427.0h5.0v5.0h-5.0zM764.0 432.0h5.0v5.0h-5.0zM764.0 437.0h5.0v5.0h-5.0zM899.0 437.0h5.0v5.0h-5.0zM769.0 442.0h5.0v5.0h-5.0zM779.0 447.0h5.0v5.0h-5.0zM889.0 447.0h5.0v5.0h-5.0zM794.0 452.0h5.0v5.0h-5.0zM859.0 452.0h15.0v5.0h-15.0zM949.0 497.0h10.0v5.0h-10.0zM979.0 497.0h10.0v5.0h-10.0zM934.0 502.0h5.0v5.0h-5.0zM994.0 502.0h5.0v5.0h-5.0zM824.0 512.0h15.0v5.0h-15.0zM934.0 512.0h5.0v5.0h-5.0zM719.0 517.0h10.0v5.0h-10.0zM759.0 517.0h30.0v5.0h-30.0zM794.0 517.0h25.0v5.0h-25.0zM839.0 517.0h5.0v5.0h-5.0zM939.0 517.0h5.0v5.0h-5.0zM989.0 517.0h10.0v5.0h-10.0zM719.0 522.0h5.0v5.0h-5.0zM779.0 522.0h30.0v5.0h-30.0zM844.0 522.0h5.0v5.0h-5.0zM959.0 522.0h20.0v5.0h-20.0zM719.0 527.0h5.0v5.0h-5.0zM779.0 527.0h30.0v5.0h-30.0zM864.0 527.0h10.0v5.0h-10.0zM719.0 532.0h10.0v5.0h-10.0zM769.0 532.0h20.0v5.0h-20.0zM794.0 532.0h20.0v5.0h-20.0zM884.0 532.0h10.0v5.0h-10.0zM729.0 537.0h45.0v5.0h-45.0zM809.0 537.0h10.0v5.0h-10.0zM899.0 537.0h10.0v5.0h-10.0zM904.0 542.0h15.0v5.0h-15.0zM819.0 547.0h5.0v5.0h-5.0zM909.0 547.0h10.0v5.0h-10.0zM824.0 552.0h5.0v5.0h-5.0zM909.0 552.0h10.0v5.0h-10.0zM839.0 557.0h5.0v5.0h-5.0zM884.0 557.0h25.0v5.0h-25.0zM974.0 597.0h25.0v5.0h-25.0zM954.0 602.0h15.0v5.0h-15.0zM954.0 607.0h5.0v5.0h-5.0zM1004.0 607.0h5.0v5.0h-5.0zM954.0 612.0h5.0v5.0h-5.0zM1004.0 612.0h5.0v5.0h-5.0zM954.0 617.0h5.0v5.0h-5.0zM1004.0 617.0h5.0v5.0h-5.0zM959.0 622.0h5.0v5.0h-5.0zM969.0 627.0h15.0v5.0h-15.0zM999.0 627.0h5.0v5.0h-5.0zM874.0 772.0h20.0v5.0h-20.0zM869.0 777.0h10.0v5.0h-10.0zM884.0 777.0h15.0v5.0h-15.0zM864.0 782.0h10.0v5.0h-10.0zM889.0 782.0h10.0v5.0h-10.0zM864.0 787.0h5.0v5.0h-5.0zM894.0 787.0h5.0v5.0h-5.0zM864.0 792.0h5.0v5.0h-5.0zM894.0 792.0h5.0v5.0h-5.0zM864.0 797.0h5.0v5.0h-5.0zM889.0 797.0h5.0v5.0h-5.0zM864.0 802.0h5.0v5.0h-5.0zM889.0 802.0h5.0v5.0h-5.0zM869.0 807.0h5.0v5.0h-5.0zM884.0 807.0h5.0v5.0h-5.0zM869.0 812.0h15.0v5.0h-15.0z"/><path fill="#00a0ff" d="M844.0 147.0h5.0v5.0h-5.0zM879.0 147.0h10.0v5.0h-10.0zM839.0 152.0h5.0v5.0h-5.0zM889.0 152.0h10.0v5.0h-10.0zM839.0 157.0h5.0v5.0h-5.0zM894.0 157.0h5.0v5.0h-5.0zM839.0 162.0h5.0v5.0h-5.0zM889.0 162.0h5.0v5.0h-5.0zM844.0 167.0h5.0v5.0h-5.0zM869.0 167.0h15.0v5.0h-15.0zM839.0 252.0h5.0v5.0h-5.0zM879.0 252.0h5.0v5.0h-5.0zM799.0 257.0h5.0v5.0h-5.0zM774.0 262.0h5.0v5.0h-5.0zM914.0 262.0h5.0v5.0h-5.0zM759.0 267.0h5.0v5.0h-5.0zM924.0 267.0h5.0v5.0h-5.0zM734.0 272.0h15.0v5.0h-15.0zM929.0 272.0h5.0v5.0h-5.0zM644.0 277.0h80.0v5.0h-80.0zM644.0 282.0h55.0v5.0h-55.0zM934.0 282.0h5.0v5.0h-5.0zM644.0 287.0h40.0v5.0h-40.0zM644.0 292.0h35.0v5.0h-35.0zM644.0 297.0h40.0v5.0h-40.0zM934.0 297.0h5.0v5.0h-5.0zM644.0 302.0h70.0v5.0h-70.0zM729.0 302.0h10.0v5.0h-10.0zM929.0 302.0h5.0v5.0h-5.0zM759.0 307.0h5.0v5.0h-5.0zM919.0 307.0h5.0v5.0h-5.0zM774.0 312.0h5.0v5.0h-5.0zM819.0 412.0h5.0v5.0h-5.0zM854.0 412.0h10.0v5.0h-10.0zM799.0 417.0h5.0v5.0h-5.0zM784.0 422.0h5.0v5.0h-5.0zM774.0 427.0h5.0v5.0h-5.0zM769.0 432.0h5.0v5.0h-5.0zM899.0 432.0h5.0v5.0h-5.0zM769.0 437.0h5.0v5.0h-5.0zM774.0 442.0h5.0v5.0h-5.0zM894.0 442.0h5.0v5.0h-5.0zM884.0 447.0h5.0v5.0h-5.0zM799.0 452.0h10.0v5.0h-10.0zM849.0 452.0h10.0v5.0h-10.0zM959.0 497.0h5.0v5.0h-5.0zM974.0 497.0h5.0v5.0h-5.0zM939.0 502.0h10.0v5.0h-10.0zM989.0 502.0h5.0v5.0h-5.0zM934.0 507.0h5.0v5.0h-5.0zM994.0 507.0h5.0v5.0h-5.0zM939.0 512.0h5.0v5.0h-5.0zM989.0 512.0h10.0v5.0h-10.0zM729.0 517.0h30.0v5.0h-30.0zM819.0 517.0h10.0v5.0h-10.0zM834.0 517.0h5.0v5.0h-5.0zM944.0 517.0h15.0v5.0h-15.0zM979.0 517.0h10.0v5.0h-10.0zM724.0 522.0h55.0v5.0h-55.0zM809.0 522.0h10.0v5.0h-10.0zM724.0 527.0h20.0v5.0h-20.0zM764.0 527.0h15.0v5.0h-15.0zM809.0 527.0h10.0v5.0h-10.0zM854.0 527.0h10.0v5.0h-10.0zM729.0 532.0h40.0v5.0h-40.0zM814.0 532.0h5.0v5.0h-5.0zM874.0 532.0h10.0v5.0h-10.0zM819.0 537.0h5.0v5.0h-5.0zM884.0 537.0h15.0v5.0h-15.0zM819.0 542.0h5.0v5.0h-5.0zM889.0 542.0h15.0v5.0h-15.0zM894.0 547.0h15.0v5.0h-15.0zM884.0 552.0h25.0v5.0h-25.0zM864.0 557.0h20.0v5.0h-20.0zM969.0 602.0h20.0v5.0h-20.0zM999.0 602.0h5.0v5.0h-5.0zM959.0 607.0h10.0v5.0h-10.0zM959.0 612.0h5.0v5.0h-5.0zM959.0 617.0h5.0v5.0h-5.0zM964.0 622.0h10.0v5.0h-10.0zM999.0 622.0h5.0v5.0h-5.0zM984.0 627.0h15.0v5.0h-15.0zM879.0 777.0h5.0v5.0h-5.0zM874.0 782.0h15.0v5.0h-15.0zM869.0 787.0h5.0v5.0h-5.0zM884.0 787.0h10.0v5.0h-10.0zM869.0 792.0h5.0v5.0h-5.0zM884.0 792.0h10.0v5.0h-10.0zM869.0 797.0h5.0v5.0h-5.0zM884.0 797.0h5.0v5.0h-5.0zM869.0 802.0h20.0v5.0h-20.0zM874.0 807.0h10.0v5.0h-10.0z"/><path fill="#0098ff" d="M849.0 147.0h30.0v5.0h-30.0zM844.0 152.0h5.0v5.0h-5.0zM879.0 152.0h10.0v5.0h-10.0zM844.0 157.0h5.0v5.0h-5.0zM884.0 157.0h10.0v5.0h-10.0zM844.0 162.0h5.0v5.0h-5.0zM879.0 162.0h10.0v5.0h-10.0zM849.0 167.0h20.0v5.0h-20.0zM869.0 252.0h10.0v5.0h-10.0zM804.0 257.0h5.0v5.0h-5.0zM899.0 257.0h5.0v5.0h-5.0zM779.0 262.0h5.0v5.0h-5.0zM764.0 267.0h5.0v5.0h-5.0zM749.0 272.0h10.0v5.0h-10.0zM724.0 277.0h15.0v5.0h-15.0zM699.0 282.0h25.0v5.0h-25.0zM684.0 287.0h25.0v5.0h-25.0zM934.0 287.0h5.0v5.0h-5.0zM679.0 292.0h30.0v5.0h-30.0zM934.0 292.0h5.0v5.0h-5.0zM684.0 297.0h45.0v5.0h-45.0zM739.0 302.0h5.0v5.0h-5.0zM914.0 307.0h5.0v5.0h-5.0zM899.0 312.0h5.0v5.0h-5.0zM824.0 412.0h10.0v5.0h-10.0zM844.0 412.0h10.0v5.0h-10.0zM804.0 417.0h5.0v5.0h-5.0zM879.0 417.0h5.0v5.0h-5.0zM789.0 422.0h5.0v5.0h-5.0zM889.0 422.0h5.0v5.0h-5.0zM779.0 427.0h5.0v5.0h-5.0zM894.0 427.0h5.0v5.0h-5.0zM774.0 432.0h5.0v5.0h-5.0zM774.0 437.0h5.0v5.0h-5.0zM894.0 437.0h5.0v5.0h-5.0zM784.0 447.0h5.0v5.0h-5.0zM879.0 447.0h5.0v5.0h-5.0zM809.0 452.0h10.0v5.0h-10.0zM839.0 452.0h10.0v5.0h-10.0zM964.0 497.0h10.0v5.0h-10.0zM949.0 502.0h5.0v5.0h-5.0zM979.0 502.0h10.0v5.0h-10.0zM939.0 507.0h10.0v5.0h-10.0zM984.0 507.0h10.0v5.0h-10.0zM944.0 512.0h10.0v5.0h-10.0zM979.0 512.0h10.0v5.0h-10.0zM829.0 517.0h5.0v5.0h-5.0zM959.0 517.0h20.0v5.0h-20.0zM819.0 522.0h5.0v5.0h-5.0zM839.0 522.0h5.0v5.0h-5.0zM744.0 527.0h20.0v5.0h-20.0zM819.0 527.0h5.0v5.0h-5.0zM849.0 527.0h5.0v5.0h-5.0zM819.0 532.0h5.0v5.0h-5.0zM869.0 532.0h5.0v5.0h-5.0zM874.0 537.0h10.0v5.0h-10.0zM879.0 542.0h10.0v5.0h-10.0zM824.0 547.0h5.0v5.0h-5.0zM879.0 547.0h15.0v5.0h-15.0zM829.0 552.0h5.0v5.0h-5.0zM874.0 552.0h10.0v5.0h-10.0zM844.0 557.0h20.0v5.0h-20.0zM989.0 602.0h10.0v5.0h-10.0zM969.0 607.0h15.0v5.0h-15.0zM999.0 607.0h5.0v5.0h-5.0zM964.0 612.0h10.0v5.0h-10.0zM999.0 612.0h5.0v5.0h-5.0zM964.0 617.0h15.0v5.0h-15.0zM999.0 617.0h5.0v5.0h-5.0zM974.0 622.0h25.0v5.0h-25.0zM874.0 787.0h10.0v5.0h-10.0zM874.0 792.0h10.0v5.0h-10.0zM874.0 797.0h10.0v5.0h-10.0z"/><path fill="#0090ff" d="M849.0 152.0h30.0v5.0h-30.0zM849.0 157.0h35.0v5.0h-35.0zM849.0 162.0h30.0v5.0h-30.0zM844.0 252.0h5.0v5.0h-5.0zM854.0 252.0h15.0v5.0h-15.0zM809.0 257.0h10.0v5.0h-10.0zM894.0 257.0h5.0v5.0h-5.0zM784.0 262.0h5.0v5.0h-5.0zM909.0 262.0h5.0v5.0h-5.0zM919.0 267.0h5.0v5.0h-5.0zM759.0 272.0h5.0v5.0h-5.0zM924.0 272.0h5.0v5.0h-5.0zM739.0 277.0h10.0v5.0h-10.0zM929.0 277.0h5.0v5.0h-5.0zM724.0 282.0h15.0v5.0h-15.0zM709.0 287.0h20.0v5.0h-20.0zM709.0 292.0h25.0v5.0h-25.0zM729.0 297.0h10.0v5.0h-10.0zM744.0 302.0h10.0v5.0h-10.0zM924.0 302.0h5.0v5.0h-5.0zM764.0 307.0h5.0v5.0h-5.0zM779.0 312.0h5.0v5.0h-5.0zM894.0 312.0h5.0v5.0h-5.0zM834.0 412.0h10.0v5.0h-10.0zM809.0 417.0h10.0v5.0h-10.0zM874.0 417.0h5.0v5.0h-5.0zM794.0 422.0h5.0v5.0h-5.0zM884.0 422.0h5.0v5.0h-5.0zM784.0 427.0h5.0v5.0h-5.0zM779.0 432.0h5.0v5.0h-5.0zM894.0 432.0h5.0v5.0h-5.0zM779.0 442.0h5.0v5.0h-5.0zM889.0 442.0h5.0v5.0h-5.0zM789.0 447.0h10.0v5.0h-10.0zM874.0 447.0h5.0v5.0h-5.0zM819.0 452.0h20.0v5.0h-20.0zM954.0 502.0h10.0v5.0h-10.0zM974.0 502.0h5.0v5.0h-5.0zM949.0 507.0h10.0v5.0h-10.0zM979.0 507.0h5.0v5.0h-5.0zM954.0 512.0h25.0v5.0h-25.0zM824.0 522.0h5.0v5.0h-5.0zM834.0 522.0h5.0v5.0h-5.0zM844.0 527.0h5.0v5.0h-5.0zM859.0 532.0h10.0v5.0h-10.0zM869.0 537.0h5.0v5.0h-5.0zM874.0 542.0h5.0v5.0h-5.0zM874.0 547.0h5.0v5.0h-5.0zM834.0 552.0h5.0v5.0h-5.0zM864.0 552.0h10.0v5.0h-10.0zM984.0 607.0h15.0v5.0h-15.0zM974.0 612.0h25.0v5.0h-25.0zM979.0 617.0h20.0v5.0h-20.0z"/><path fill="#08fff8" d="M829.0 187.0h10.0v5.0h-10.0zM854.0 187.0h15.0v5.0h-15.0zM804.0 192.0h10.0v5.0h-10.0zM899.0 192.0h10.0v5.0h-10.0zM929.0 192.0h10.0v5.0h-10.0zM779.0 197.0h10.0v5.0h-10.0zM914.0 197.0h25.0v5.0h-25.0zM749.0 202.0h10.0v5.0h-10.0zM924.0 202.0h15.0v5.0h-15.0zM734.0 207.0h5.0v5.0h-5.0zM929.0 207.0h10.0v5.0h-10.0zM719.0 212.0h10.0v5.0h-10.0zM929.0 212.0h5.0v5.0h-5.0zM704.0 217.0h10.0v5.0h-10.0zM924.0 217.0h5.0v5.0h-5.0zM684.0 222.0h15.0v5.0h-15.0zM919.0 222.0h5.0v5.0h-5.0zM674.0 227.0h10.0v5.0h-10.0zM914.0 227.0h10.0v5.0h-10.0zM644.0 232.0h30.0v5.0h-30.0zM909.0 232.0h10.0v5.0h-10.0zM814.0 237.0h15.0v5.0h-15.0zM894.0 237.0h15.0v5.0h-15.0zM644.0 242.0h35.0v5.0h-35.0zM769.0 242.0h15.0v5.0h-15.0zM689.0 247.0h55.0v5.0h-55.0zM959.0 317.0h20.0v5.0h-20.0zM729.0 322.0h40.0v5.0h-40.0zM804.0 322.0h10.0v5.0h-10.0zM904.0 322.0h5.0v5.0h-5.0zM939.0 322.0h15.0v5.0h-15.0zM989.0 322.0h10.0v5.0h-10.0zM699.0 327.0h10.0v5.0h-10.0zM999.0 327.0h5.0v5.0h-5.0zM644.0 332.0h30.0v5.0h-30.0zM1004.0 332.0h5.0v5.0h-5.0zM1009.0 352.0h5.0v5.0h-5.0zM1009.0 357.0h10.0v5.0h-10.0zM1014.0 362.0h10.0v5.0h-10.0zM824.0 397.0h5.0v5.0h-5.0zM784.0 402.0h10.0v5.0h-10.0zM864.0 402.0h10.0v5.0h-10.0zM764.0 407.0h5.0v5.0h-5.0zM899.0 407.0h5.0v5.0h-5.0zM739.0 417.0h5.0v5.0h-5.0zM919.0 417.0h5.0v5.0h-5.0zM724.0 422.0h5.0v5.0h-5.0zM709.0 427.0h5.0v5.0h-5.0zM689.0 432.0h15.0v5.0h-15.0zM679.0 437.0h10.0v5.0h-10.0zM939.0 437.0h5.0v5.0h-5.0zM674.0 442.0h10.0v5.0h-10.0zM939.0 442.0h5.0v5.0h-5.0zM679.0 447.0h10.0v5.0h-10.0zM939.0 447.0h5.0v5.0h-5.0zM684.0 452.0h10.0v5.0h-10.0zM939.0 452.0h10.0v5.0h-10.0zM694.0 457.0h10.0v5.0h-10.0zM939.0 457.0h15.0v5.0h-15.0zM699.0 462.0h10.0v5.0h-10.0zM744.0 462.0h15.0v5.0h-15.0zM934.0 462.0h35.0v5.0h-35.0zM909.0 467.0h75.0v5.0h-75.0zM929.0 472.0h15.0v5.0h-15.0zM974.0 472.0h15.0v5.0h-15.0zM694.0 477.0h10.0v5.0h-10.0zM929.0 477.0h10.0v5.0h-10.0zM984.0 477.0h10.0v5.0h-10.0zM689.0 482.0h5.0v5.0h-5.0zM709.0 482.0h5.0v5.0h-5.0zM924.0 482.0h10.0v5.0h-10.0zM994.0 482.0h5.0v5.0h-5.0zM679.0 487.0h5.0v5.0h-5.0zM719.0 487.0h5.0v5.0h-5.0zM914.0 487.0h5.0v5.0h-5.0zM644.0 492.0h25.0v5.0h-25.0zM754.0 492.0h20.0v5.0h-20.0zM834.0 497.0h5.0v5.0h-5.0zM899.0 497.0h5.0v5.0h-5.0zM1009.0 497.0h5.0v5.0h-5.0zM844.0 502.0h5.0v5.0h-5.0zM879.0 502.0h10.0v5.0h-10.0zM1014.0 502.0h10.0v5.0h-10.0zM1009.0 542.0h15.0v5.0h-15.0zM1004.0 547.0h5.0v5.0h-5.0zM994.0 552.0h10.0v5.0h-10.0zM989.0 557.0h10.0v5.0h-10.0zM989.0 562.0h35.0v5.0h-35.0zM999.0 567.0h25.0v5.0h-25.0zM644.0 572.0h35.0v5.0h-35.0zM829.0 572.0h25.0v5.0h-25.0zM679.0 577.0h15.0v5.0h-15.0zM794.0 577.0h10.0v5.0h-10.0zM904.0 577.0h10.0v5.0h-10.0zM694.0 582.0h20.0v5.0h-20.0zM759.0 582.0h15.0v5.0h-15.0zM919.0 582.0h5.0v5.0h-5.0zM709.0 587.0h45.0v5.0h-45.0zM919.0 587.0h5.0v5.0h-5.0zM719.0 592.0h15.0v5.0h-15.0zM914.0 612.0h5.0v5.0h-5.0zM914.0 617.0h5.0v5.0h-5.0zM914.0 622.0h5.0v5.0h-5.0zM924.0 632.0h5.0v5.0h-5.0zM944.0 637.0h5.0v5.0h-5.0zM779.0 642.0h10.0v5.0h-10.0zM834.0 642.0h10.0v5.0h-10.0zM954.0 642.0h5.0v5.0h-5.0zM764.0 647.0h10.0v5.0h-10.0zM859.0 647.0h10.0v5.0h-10.0zM969.0 647.0h35.0v5.0h-35.0zM759.0 652.0h5.0v5.0h-5.0zM869.0 652.0h10.0v5.0h-10.0zM754.0 657.0h5.0v5.0h-5.0zM874.0 657.0h10.0v5.0h-10.0zM754.0 662.0h5.0v5.0h-5.0zM879.0 662.0h5.0v5.0h-5.0zM754.0 667.0h5.0v5.0h-5.0zM874.0 667.0h10.0v5.0h-10.0zM759.0 672.0h5.0v5.0h-5.0zM854.0 672.0h25.0v5.0h-25.0zM764.0 677.0h5.0v5.0h-5.0zM849.0 677.0h5.0v5.0h-5.0zM674.0 682.0h5.0v5.0h-5.0zM789.0 682.0h5.0v5.0h-5.0zM844.0 682.0h5.0v5.0h-5.0zM684.0 687.0h5.0v5.0h-5.0zM809.0 687.0h5.0v5.0h-5.0zM829.0 687.0h30.0v5.0h-30.0zM684.0 707.0h5.0v5.0h-5.0zM684.0 712.0h5.0v5.0h-5.0zM684.0 717.0h5.0v5.0h-5.0zM684.0 722.0h5.0v5.0h-5.0zM684.0 727.0h5.0v5.0h-5.0zM879.0 727.0h40.0v5.0h-40.0zM994.0 727.0h15.0v5.0h-15.0zM684.0 732.0h5.0v5.0h-5.0zM874.0 732.0h5.0v5.0h-5.0zM679.0 737.0h5.0v5.0h-5.0zM869.0 737.0h5.0v5.0h-5.0zM679.0 742.0h5.0v5.0h-5.0zM864.0 742.0h5.0v5.0h-5.0zM679.0 747.0h5.0v5.0h-5.0zM859.0 747.0h5.0v5.0h-5.0zM679.0 752.0h5.0v5.0h-5.0zM854.0 752.0h5.0v5.0h-5.0zM679.0 757.0h5.0v5.0h-5.0zM674.0 762.0h10.0v5.0h-10.0zM784.0 762.0h35.0v5.0h-35.0zM669.0 767.0h10.0v5.0h-10.0zM769.0 767.0h10.0v5.0h-10.0zM819.0 767.0h5.0v5.0h-5.0zM644.0 772.0h35.0v5.0h-35.0zM744.0 772.0h15.0v5.0h-15.0zM829.0 772.0h5.0v5.0h-5.0zM644.0 777.0h35.0v5.0h-35.0zM734.0 777.0h10.0v5.0h-10.0zM644.0 782.0h30.0v5.0h-30.0zM719.0 782.0h15.0v5.0h-15.0zM709.0 787.0h10.0v5.0h-10.0zM704.0 792.0h10.0v5.0h-10.0zM704.0 797.0h10.0v5.0h-10.0zM704.0 802.0h10.0v5.0h-10.0zM984.0 802.0h15.0v5.0h-15.0zM704.0 807.0h15.0v5.0h-15.0zM959.0 807.0h10.0v5.0h-10.0zM709.0 812.0h10.0v5.0h-10.0zM944.0 812.0h10.0v5.0h-10.0zM709.0 817.0h20.0v5.0h-20.0zM939.0 817.0h10.0v5.0h-10.0zM724.0 822.0h10.0v5.0h-10.0zM939.0 822.0h5.0v5.0h-5.0zM734.0 827.0h10.0v5.0h-10.0zM939.0 827.0h5.0v5.0h-5.0zM734.0 832.0h10.0v5.0h-10.0zM939.0 832.0h5.0v5.0h-5.0zM734.0 837.0h10.0v5.0h-10.0zM939.0 837.0h5.0v5.0h-5.0z"/><path fill="#10fff0" d="M839.0 187.0h15.0v5.0h-15.0zM814.0 192.0h10.0v5.0h-10.0zM889.0 192.0h10.0v5.0h-10.0zM789.0 197.0h10.0v5.0h-10.0zM904.0 197.0h10.0v5.0h-10.0zM759.0 202.0h10.0v5.0h-10.0zM909.0 202.0h15.0v5.0h-15.0zM739.0 207.0h10.0v5.0h-10.0zM914.0 207.0h15.0v5.0h-15.0zM729.0 212.0h5.0v5.0h-5.0zM919.0 212.0h5.0v5.0h-5.0zM714.0 217.0h10.0v5.0h-10.0zM914.0 217.0h10.0v5.0h-10.0zM699.0 222.0h10.0v5.0h-10.0zM914.0 222.0h5.0v5.0h-5.0zM684.0 227.0h10.0v5.0h-10.0zM909.0 227.0h5.0v5.0h-5.0zM674.0 232.0h10.0v5.0h-10.0zM899.0 232.0h10.0v5.0h-10.0zM669.0 237.0h10.0v5.0h-10.0zM789.0 237.0h25.0v5.0h-25.0zM834.0 237.0h5.0v5.0h-5.0zM874.0 237.0h15.0v5.0h-15.0zM679.0 242.0h15.0v5.0h-15.0zM759.0 242.0h10.0v5.0h-10.0zM814.0 322.0h5.0v5.0h-5.0zM899.0 322.0h5.0v5.0h-5.0zM954.0 322.0h10.0v5.0h-10.0zM974.0 322.0h10.0v5.0h-10.0zM709.0 327.0h10.0v5.0h-10.0zM934.0 327.0h15.0v5.0h-15.0zM989.0 327.0h10.0v5.0h-10.0zM674.0 332.0h10.0v5.0h-10.0zM999.0 332.0h5.0v5.0h-5.0zM1004.0 337.0h5.0v5.0h-5.0zM1004.0 342.0h5.0v5.0h-5.0zM1004.0 347.0h5.0v5.0h-5.0zM1004.0 352.0h5.0v5.0h-5.0zM1009.0 362.0h5.0v5.0h-5.0zM1009.0 367.0h15.0v5.0h-15.0zM839.0 397.0h5.0v5.0h-5.0zM779.0 402.0h5.0v5.0h-5.0zM874.0 402.0h10.0v5.0h-10.0zM759.0 407.0h5.0v5.0h-5.0zM904.0 407.0h5.0v5.0h-5.0zM914.0 412.0h5.0v5.0h-5.0zM729.0 417.0h5.0v5.0h-5.0zM714.0 422.0h10.0v5.0h-10.0zM929.0 422.0h5.0v5.0h-5.0zM699.0 427.0h10.0v5.0h-10.0zM934.0 427.0h5.0v5.0h-5.0zM674.0 432.0h15.0v5.0h-15.0zM939.0 432.0h5.0v5.0h-5.0zM644.0 437.0h35.0v5.0h-35.0zM944.0 437.0h5.0v5.0h-5.0zM644.0 442.0h30.0v5.0h-30.0zM944.0 442.0h5.0v5.0h-5.0zM644.0 447.0h30.0v5.0h-30.0zM944.0 447.0h10.0v5.0h-10.0zM674.0 452.0h10.0v5.0h-10.0zM949.0 452.0h10.0v5.0h-10.0zM684.0 457.0h5.0v5.0h-5.0zM954.0 457.0h15.0v5.0h-15.0zM689.0 462.0h10.0v5.0h-10.0zM709.0 462.0h35.0v5.0h-35.0zM969.0 462.0h15.0v5.0h-15.0zM694.0 467.0h15.0v5.0h-15.0zM894.0 467.0h15.0v5.0h-15.0zM984.0 467.0h15.0v5.0h-15.0zM694.0 472.0h15.0v5.0h-15.0zM914.0 472.0h15.0v5.0h-15.0zM994.0 472.0h5.0v5.0h-5.0zM689.0 477.0h5.0v5.0h-5.0zM709.0 477.0h5.0v5.0h-5.0zM924.0 477.0h5.0v5.0h-5.0zM994.0 477.0h5.0v5.0h-5.0zM684.0 482.0h5.0v5.0h-5.0zM714.0 482.0h10.0v5.0h-10.0zM919.0 482.0h5.0v5.0h-5.0zM999.0 482.0h5.0v5.0h-5.0zM674.0 487.0h5.0v5.0h-5.0zM729.0 487.0h10.0v5.0h-10.0zM909.0 487.0h5.0v5.0h-5.0zM774.0 492.0h60.0v5.0h-60.0zM904.0 492.0h5.0v5.0h-5.0zM894.0 497.0h5.0v5.0h-5.0zM849.0 502.0h25.0v5.0h-25.0zM1014.0 547.0h10.0v5.0h-10.0zM1009.0 552.0h15.0v5.0h-15.0zM999.0 557.0h25.0v5.0h-25.0zM644.0 577.0h30.0v5.0h-30.0zM809.0 577.0h10.0v5.0h-10.0zM894.0 577.0h10.0v5.0h-10.0zM679.0 582.0h15.0v5.0h-15.0zM774.0 582.0h10.0v5.0h-10.0zM914.0 582.0h5.0v5.0h-5.0zM689.0 587.0h15.0v5.0h-15.0zM754.0 587.0h10.0v5.0h-10.0zM914.0 587.0h5.0v5.0h-5.0zM694.0 592.0h20.0v5.0h-20.0zM734.0 592.0h15.0v5.0h-15.0zM699.0 597.0h40.0v5.0h-40.0zM909.0 597.0h5.0v5.0h-5.0zM704.0 602.0h30.0v5.0h-30.0zM909.0 602.0h5.0v5.0h-5.0zM714.0 607.0h20.0v5.0h-20.0zM909.0 607.0h5.0v5.0h-5.0zM719.0 612.0h15.0v5.0h-15.0zM909.0 612.0h5.0v5.0h-5.0zM724.0 617.0h10.0v5.0h-10.0zM919.0 632.0h5.0v5.0h-5.0zM804.0 637.0h20.0v5.0h-20.0zM939.0 637.0h5.0v5.0h-5.0zM769.0 642.0h10.0v5.0h-10.0zM849.0 642.0h15.0v5.0h-15.0zM949.0 642.0h5.0v5.0h-5.0zM759.0 647.0h5.0v5.0h-5.0zM869.0 647.0h10.0v5.0h-10.0zM964.0 647.0h5.0v5.0h-5.0zM1009.0 647.0h15.0v5.0h-15.0zM749.0 652.0h10.0v5.0h-10.0zM879.0 652.0h5.0v5.0h-5.0zM749.0 657.0h5.0v5.0h-5.0zM884.0 657.0h5.0v5.0h-5.0zM749.0 662.0h5.0v5.0h-5.0zM884.0 662.0h5.0v5.0h-5.0zM749.0 667.0h5.0v5.0h-5.0zM884.0 667.0h5.0v5.0h-5.0zM749.0 672.0h10.0v5.0h-10.0zM879.0 672.0h5.0v5.0h-5.0zM759.0 677.0h5.0v5.0h-5.0zM864.0 677.0h20.0v5.0h-20.0zM679.0 682.0h5.0v5.0h-5.0zM779.0 682.0h5.0v5.0h-5.0zM859.0 682.0h25.0v5.0h-25.0zM799.0 687.0h5.0v5.0h-5.0zM864.0 687.0h20.0v5.0h-20.0zM689.0 692.0h5.0v5.0h-5.0zM814.0 692.0h5.0v5.0h-5.0zM854.0 692.0h30.0v5.0h-30.0zM689.0 697.0h5.0v5.0h-5.0zM874.0 697.0h10.0v5.0h-10.0zM689.0 702.0h5.0v5.0h-5.0zM879.0 702.0h5.0v5.0h-5.0zM689.0 707.0h5.0v5.0h-5.0zM879.0 707.0h5.0v5.0h-5.0zM689.0 712.0h5.0v5.0h-5.0zM879.0 712.0h10.0v5.0h-10.0zM689.0 717.0h5.0v5.0h-5.0zM879.0 717.0h15.0v5.0h-15.0zM689.0 722.0h5.0v5.0h-5.0zM879.0 722.0h35.0v5.0h-35.0zM1009.0 722.0h15.0v5.0h-15.0zM874.0 727.0h5.0v5.0h-5.0zM919.0 727.0h20.0v5.0h-20.0zM974.0 727.0h20.0v5.0h-20.0zM869.0 732.0h5.0v5.0h-5.0zM684.0 737.0h5.0v5.0h-5.0zM864.0 737.0h5.0v5.0h-5.0zM684.0 742.0h5.0v5.0h-5.0zM684.0 747.0h10.0v5.0h-10.0zM689.0 752.0h5.0v5.0h-5.0zM684.0 757.0h10.0v5.0h-10.0zM789.0 757.0h15.0v5.0h-15.0zM684.0 762.0h10.0v5.0h-10.0zM774.0 762.0h10.0v5.0h-10.0zM819.0 762.0h5.0v5.0h-5.0zM684.0 767.0h5.0v5.0h-5.0zM754.0 767.0h10.0v5.0h-10.0zM824.0 767.0h5.0v5.0h-5.0zM679.0 772.0h10.0v5.0h-10.0zM734.0 772.0h10.0v5.0h-10.0zM679.0 777.0h10.0v5.0h-10.0zM719.0 777.0h15.0v5.0h-15.0zM679.0 782.0h15.0v5.0h-15.0zM704.0 782.0h15.0v5.0h-15.0zM644.0 787.0h65.0v5.0h-65.0zM644.0 792.0h60.0v5.0h-60.0zM644.0 797.0h60.0v5.0h-60.0zM669.0 802.0h35.0v5.0h-35.0zM1004.0 802.0h20.0v5.0h-20.0zM684.0 807.0h20.0v5.0h-20.0zM969.0 807.0h15.0v5.0h-15.0zM689.0 812.0h15.0v5.0h-15.0zM954.0 812.0h10.0v5.0h-10.0zM694.0 817.0h15.0v5.0h-15.0zM949.0 817.0h5.0v5.0h-5.0zM699.0 822.0h20.0v5.0h-20.0zM949.0 822.0h5.0v5.0h-5.0zM714.0 827.0h15.0v5.0h-15.0zM949.0 827.0h5.0v5.0h-5.0zM719.0 832.0h15.0v5.0h-15.0zM949.0 832.0h5.0v5.0h-5.0zM719.0 837.0h15.0v5.0h-15.0zM949.0 837.0h5.0v5.0h-5.0z"/><path fill="#18ffe0" d="M824.0 192.0h5.0v5.0h-5.0zM874.0 192.0h5.0v5.0h-5.0zM804.0 197.0h5.0v5.0h-5.0zM719.0 222.0h5.0v5.0h-5.0zM899.0 227.0h5.0v5.0h-5.0zM889.0 232.0h5.0v5.0h-5.0zM719.0 242.0h15.0v5.0h-15.0zM724.0 327.0h5.0v5.0h-5.0zM674.0 427.0h5.0v5.0h-5.0zM949.0 437.0h5.0v5.0h-5.0zM759.0 467.0h5.0v5.0h-5.0zM729.0 482.0h5.0v5.0h-5.0zM794.0 582.0h5.0v5.0h-5.0zM684.0 592.0h5.0v5.0h-5.0zM749.0 597.0h5.0v5.0h-5.0zM709.0 617.0h5.0v5.0h-5.0zM739.0 617.0h5.0v5.0h-5.0zM724.0 627.0h5.0v5.0h-5.0zM844.0 637.0h5.0v5.0h-5.0zM754.0 642.0h5.0v5.0h-5.0zM944.0 642.0h5.0v5.0h-5.0zM739.0 652.0h5.0v5.0h-5.0zM674.0 677.0h5.0v5.0h-5.0zM694.0 692.0h5.0v5.0h-5.0zM804.0 692.0h5.0v5.0h-5.0zM694.0 697.0h5.0v5.0h-5.0zM694.0 702.0h5.0v5.0h-5.0zM889.0 702.0h5.0v5.0h-5.0zM694.0 707.0h5.0v5.0h-5.0zM894.0 707.0h5.0v5.0h-5.0zM909.0 717.0h5.0v5.0h-5.0zM699.0 752.0h5.0v5.0h-5.0zM704.0 762.0h5.0v5.0h-5.0zM719.0 767.0h10.0v5.0h-10.0zM669.0 812.0h5.0v5.0h-5.0zM959.0 827.0h5.0v5.0h-5.0zM689.0 832.0h5.0v5.0h-5.0zM959.0 832.0h5.0v5.0h-5.0zM689.0 837.0h5.0v5.0h-5.0zM959.0 837.0h5.0v5.0h-5.0z"/><path fill="#20ffd8" d="M829.0 192.0h5.0v5.0h-5.0zM864.0 192.0h5.0v5.0h-5.0zM709.0 232.0h5.0v5.0h-5.0zM809.0 232.0h10.0v5.0h-10.0zM829.0 232.0h5.0v5.0h-5.0zM709.0 237.0h5.0v5.0h-5.0zM759.0 237.0h5.0v5.0h-5.0zM919.0 327.0h5.0v5.0h-5.0zM949.0 332.0h5.0v5.0h-5.0zM979.0 332.0h5.0v5.0h-5.0zM799.0 397.0h5.0v5.0h-5.0zM894.0 402.0h5.0v5.0h-5.0zM959.0 442.0h5.0v5.0h-5.0zM979.0 452.0h5.0v5.0h-5.0zM994.0 457.0h5.0v5.0h-5.0zM674.0 462.0h5.0v5.0h-5.0zM729.0 472.0h5.0v5.0h-5.0zM904.0 477.0h5.0v5.0h-5.0zM764.0 487.0h5.0v5.0h-5.0zM819.0 487.0h5.0v5.0h-5.0zM864.0 577.0h5.0v5.0h-5.0zM759.0 597.0h5.0v5.0h-5.0zM749.0 607.0h5.0v5.0h-5.0zM744.0 627.0h5.0v5.0h-5.0zM899.0 627.0h5.0v5.0h-5.0zM744.0 632.0h5.0v5.0h-5.0zM754.0 637.0h5.0v5.0h-5.0zM869.0 637.0h5.0v5.0h-5.0zM734.0 662.0h5.0v5.0h-5.0zM734.0 667.0h5.0v5.0h-5.0zM904.0 707.0h5.0v5.0h-5.0zM869.0 717.0h5.0v5.0h-5.0zM984.0 722.0h5.0v5.0h-5.0zM724.0 762.0h5.0v5.0h-5.0zM644.0 827.0h20.0v5.0h-20.0zM644.0 832.0h20.0v5.0h-20.0zM644.0 837.0h20.0v5.0h-20.0z"/><path fill="#28ffd8" d="M834.0 192.0h5.0v5.0h-5.0zM859.0 192.0h5.0v5.0h-5.0zM814.0 197.0h5.0v5.0h-5.0zM884.0 197.0h5.0v5.0h-5.0zM794.0 202.0h5.0v5.0h-5.0zM894.0 202.0h5.0v5.0h-5.0zM769.0 207.0h10.0v5.0h-10.0zM899.0 207.0h5.0v5.0h-5.0zM754.0 212.0h5.0v5.0h-5.0zM744.0 217.0h5.0v5.0h-5.0zM899.0 217.0h5.0v5.0h-5.0zM734.0 222.0h5.0v5.0h-5.0zM899.0 222.0h5.0v5.0h-5.0zM719.0 227.0h15.0v5.0h-15.0zM889.0 227.0h5.0v5.0h-5.0zM714.0 232.0h10.0v5.0h-10.0zM779.0 232.0h30.0v5.0h-30.0zM834.0 232.0h5.0v5.0h-5.0zM874.0 232.0h10.0v5.0h-10.0zM714.0 237.0h45.0v5.0h-45.0zM884.0 322.0h5.0v5.0h-5.0zM739.0 327.0h15.0v5.0h-15.0zM914.0 327.0h5.0v5.0h-5.0zM704.0 332.0h10.0v5.0h-10.0zM934.0 332.0h5.0v5.0h-5.0zM954.0 332.0h25.0v5.0h-25.0zM984.0 337.0h10.0v5.0h-10.0zM989.0 342.0h10.0v5.0h-10.0zM989.0 347.0h10.0v5.0h-10.0zM994.0 352.0h5.0v5.0h-5.0zM994.0 357.0h5.0v5.0h-5.0zM994.0 362.0h5.0v5.0h-5.0zM994.0 367.0h5.0v5.0h-5.0zM999.0 372.0h5.0v5.0h-5.0zM1004.0 377.0h5.0v5.0h-5.0zM1014.0 382.0h10.0v5.0h-10.0zM829.0 392.0h10.0v5.0h-10.0zM789.0 397.0h10.0v5.0h-10.0zM759.0 402.0h10.0v5.0h-10.0zM899.0 402.0h5.0v5.0h-5.0zM744.0 407.0h5.0v5.0h-5.0zM914.0 407.0h5.0v5.0h-5.0zM729.0 412.0h5.0v5.0h-5.0zM924.0 412.0h5.0v5.0h-5.0zM714.0 417.0h5.0v5.0h-5.0zM674.0 422.0h30.0v5.0h-30.0zM944.0 427.0h5.0v5.0h-5.0zM949.0 432.0h5.0v5.0h-5.0zM954.0 437.0h5.0v5.0h-5.0zM964.0 442.0h5.0v5.0h-5.0zM969.0 447.0h10.0v5.0h-10.0zM984.0 452.0h10.0v5.0h-10.0zM999.0 457.0h5.0v5.0h-5.0zM664.0 462.0h10.0v5.0h-10.0zM1004.0 462.0h5.0v5.0h-5.0zM674.0 467.0h10.0v5.0h-10.0zM844.0 467.0h20.0v5.0h-20.0zM1004.0 467.0h5.0v5.0h-5.0zM679.0 472.0h5.0v5.0h-5.0zM734.0 472.0h30.0v5.0h-30.0zM889.0 472.0h10.0v5.0h-10.0zM1004.0 472.0h5.0v5.0h-5.0zM674.0 477.0h5.0v5.0h-5.0zM734.0 477.0h10.0v5.0h-10.0zM899.0 477.0h5.0v5.0h-5.0zM644.0 482.0h30.0v5.0h-30.0zM744.0 482.0h10.0v5.0h-10.0zM899.0 482.0h5.0v5.0h-5.0zM1004.0 482.0h5.0v5.0h-5.0zM769.0 487.0h50.0v5.0h-50.0zM889.0 492.0h5.0v5.0h-5.0zM1014.0 492.0h10.0v5.0h-10.0zM874.0 497.0h10.0v5.0h-10.0zM829.0 577.0h5.0v5.0h-5.0zM854.0 577.0h10.0v5.0h-10.0zM804.0 582.0h10.0v5.0h-10.0zM889.0 582.0h10.0v5.0h-10.0zM784.0 587.0h10.0v5.0h-10.0zM899.0 587.0h5.0v5.0h-5.0zM664.0 592.0h15.0v5.0h-15.0zM769.0 592.0h10.0v5.0h-10.0zM679.0 597.0h5.0v5.0h-5.0zM764.0 597.0h5.0v5.0h-5.0zM899.0 597.0h5.0v5.0h-5.0zM684.0 602.0h5.0v5.0h-5.0zM754.0 602.0h10.0v5.0h-10.0zM899.0 602.0h5.0v5.0h-5.0zM684.0 607.0h5.0v5.0h-5.0zM754.0 607.0h5.0v5.0h-5.0zM899.0 607.0h5.0v5.0h-5.0zM689.0 612.0h5.0v5.0h-5.0zM749.0 612.0h10.0v5.0h-10.0zM899.0 612.0h5.0v5.0h-5.0zM694.0 617.0h5.0v5.0h-5.0zM749.0 617.0h10.0v5.0h-10.0zM899.0 617.0h5.0v5.0h-5.0zM699.0 622.0h10.0v5.0h-10.0zM749.0 622.0h10.0v5.0h-10.0zM899.0 622.0h5.0v5.0h-5.0zM709.0 627.0h10.0v5.0h-10.0zM749.0 627.0h10.0v5.0h-10.0zM894.0 627.0h5.0v5.0h-5.0zM714.0 632.0h10.0v5.0h-10.0zM749.0 632.0h90.0v5.0h-90.0zM894.0 632.0h15.0v5.0h-15.0zM719.0 637.0h10.0v5.0h-10.0zM874.0 637.0h20.0v5.0h-20.0zM919.0 637.0h5.0v5.0h-5.0zM724.0 642.0h5.0v5.0h-5.0zM889.0 642.0h10.0v5.0h-10.0zM939.0 642.0h5.0v5.0h-5.0zM724.0 647.0h5.0v5.0h-5.0zM894.0 647.0h5.0v5.0h-5.0zM949.0 647.0h5.0v5.0h-5.0zM724.0 652.0h10.0v5.0h-10.0zM894.0 652.0h5.0v5.0h-5.0zM999.0 652.0h10.0v5.0h-10.0zM729.0 657.0h5.0v5.0h-5.0zM899.0 657.0h5.0v5.0h-5.0zM729.0 662.0h5.0v5.0h-5.0zM899.0 662.0h5.0v5.0h-5.0zM729.0 667.0h5.0v5.0h-5.0zM899.0 667.0h5.0v5.0h-5.0zM729.0 672.0h10.0v5.0h-10.0zM894.0 672.0h5.0v5.0h-5.0zM684.0 677.0h10.0v5.0h-10.0zM734.0 677.0h5.0v5.0h-5.0zM894.0 677.0h5.0v5.0h-5.0zM694.0 682.0h10.0v5.0h-10.0zM749.0 682.0h10.0v5.0h-10.0zM894.0 682.0h5.0v5.0h-5.0zM699.0 687.0h10.0v5.0h-10.0zM779.0 687.0h10.0v5.0h-10.0zM894.0 687.0h5.0v5.0h-5.0zM699.0 692.0h5.0v5.0h-5.0zM794.0 692.0h5.0v5.0h-5.0zM894.0 692.0h5.0v5.0h-5.0zM699.0 697.0h5.0v5.0h-5.0zM804.0 697.0h15.0v5.0h-15.0zM849.0 697.0h5.0v5.0h-5.0zM894.0 697.0h5.0v5.0h-5.0zM699.0 702.0h5.0v5.0h-5.0zM859.0 702.0h5.0v5.0h-5.0zM899.0 702.0h5.0v5.0h-5.0zM699.0 707.0h5.0v5.0h-5.0zM864.0 707.0h5.0v5.0h-5.0zM909.0 707.0h5.0v5.0h-5.0zM699.0 712.0h5.0v5.0h-5.0zM914.0 712.0h5.0v5.0h-5.0zM1009.0 712.0h15.0v5.0h-15.0zM699.0 717.0h5.0v5.0h-5.0zM919.0 717.0h5.0v5.0h-5.0zM1004.0 717.0h5.0v5.0h-5.0zM699.0 722.0h5.0v5.0h-5.0zM934.0 722.0h25.0v5.0h-25.0zM974.0 722.0h10.0v5.0h-10.0zM699.0 727.0h5.0v5.0h-5.0zM864.0 727.0h5.0v5.0h-5.0zM699.0 732.0h5.0v5.0h-5.0zM699.0 737.0h5.0v5.0h-5.0zM704.0 742.0h5.0v5.0h-5.0zM704.0 747.0h10.0v5.0h-10.0zM784.0 747.0h15.0v5.0h-15.0zM849.0 747.0h5.0v5.0h-5.0zM709.0 752.0h5.0v5.0h-5.0zM769.0 752.0h10.0v5.0h-10.0zM809.0 752.0h5.0v5.0h-5.0zM714.0 757.0h10.0v5.0h-10.0zM744.0 757.0h20.0v5.0h-20.0zM819.0 757.0h5.0v5.0h-5.0zM729.0 762.0h5.0v5.0h-5.0zM984.0 812.0h10.0v5.0h-10.0zM1019.0 812.0h5.0v5.0h-5.0zM974.0 817.0h5.0v5.0h-5.0zM969.0 822.0h5.0v5.0h-5.0zM969.0 827.0h5.0v5.0h-5.0zM969.0 832.0h5.0v5.0h-5.0zM969.0 837.0h5.0v5.0h-5.0z"/><path fill="#28ffd0" d="M839.0 192.0h5.0v5.0h-5.0zM854.0 192.0h5.0v5.0h-5.0zM819.0 197.0h5.0v5.0h-5.0zM799.0 202.0h5.0v5.0h-5.0zM899.0 212.0h5.0v5.0h-5.0zM739.0 222.0h5.0v5.0h-5.0zM724.0 232.0h5.0v5.0h-5.0zM989.0 352.0h5.0v5.0h-5.0zM989.0 357.0h5.0v5.0h-5.0zM644.0 422.0h30.0v5.0h-30.0zM939.0 422.0h5.0v5.0h-5.0zM644.0 462.0h20.0v5.0h-20.0zM764.0 472.0h5.0v5.0h-5.0zM744.0 477.0h5.0v5.0h-5.0zM644.0 592.0h20.0v5.0h-20.0zM899.0 592.0h5.0v5.0h-5.0zM674.0 597.0h5.0v5.0h-5.0zM679.0 602.0h5.0v5.0h-5.0zM894.0 622.0h5.0v5.0h-5.0zM889.0 632.0h5.0v5.0h-5.0zM914.0 637.0h5.0v5.0h-5.0zM719.0 642.0h5.0v5.0h-5.0zM934.0 642.0h5.0v5.0h-5.0zM719.0 647.0h5.0v5.0h-5.0zM944.0 647.0h5.0v5.0h-5.0zM899.0 652.0h5.0v5.0h-5.0zM969.0 652.0h30.0v5.0h-30.0zM744.0 682.0h5.0v5.0h-5.0zM829.0 692.0h5.0v5.0h-5.0zM899.0 697.0h5.0v5.0h-5.0zM904.0 702.0h5.0v5.0h-5.0zM924.0 717.0h5.0v5.0h-5.0zM959.0 722.0h5.0v5.0h-5.0zM969.0 722.0h5.0v5.0h-5.0zM859.0 732.0h5.0v5.0h-5.0zM714.0 752.0h5.0v5.0h-5.0zM844.0 752.0h5.0v5.0h-5.0zM739.0 757.0h5.0v5.0h-5.0zM1009.0 812.0h10.0v5.0h-10.0zM979.0 817.0h5.0v5.0h-5.0zM974.0 822.0h5.0v5.0h-5.0z"/><path fill="#30ffd0" d="M844.0 192.0h10.0v5.0h-10.0zM879.0 197.0h5.0v5.0h-5.0zM804.0 202.0h5.0v5.0h-5.0zM889.0 202.0h5.0v5.0h-5.0zM779.0 207.0h10.0v5.0h-10.0zM759.0 212.0h15.0v5.0h-15.0zM749.0 217.0h10.0v5.0h-10.0zM744.0 222.0h5.0v5.0h-5.0zM894.0 222.0h5.0v5.0h-5.0zM734.0 227.0h10.0v5.0h-10.0zM884.0 227.0h5.0v5.0h-5.0zM729.0 232.0h25.0v5.0h-25.0zM764.0 232.0h15.0v5.0h-15.0zM839.0 232.0h5.0v5.0h-5.0zM864.0 232.0h10.0v5.0h-10.0zM829.0 322.0h5.0v5.0h-5.0zM874.0 322.0h10.0v5.0h-10.0zM754.0 327.0h10.0v5.0h-10.0zM909.0 327.0h5.0v5.0h-5.0zM714.0 332.0h10.0v5.0h-10.0zM644.0 337.0h30.0v5.0h-30.0zM969.0 337.0h15.0v5.0h-15.0zM979.0 342.0h10.0v5.0h-10.0zM984.0 347.0h5.0v5.0h-5.0zM984.0 352.0h5.0v5.0h-5.0zM984.0 357.0h5.0v5.0h-5.0zM984.0 362.0h10.0v5.0h-10.0zM989.0 367.0h5.0v5.0h-5.0zM994.0 372.0h5.0v5.0h-5.0zM1009.0 382.0h5.0v5.0h-5.0zM824.0 392.0h5.0v5.0h-5.0zM779.0 397.0h10.0v5.0h-10.0zM849.0 397.0h10.0v5.0h-10.0zM754.0 402.0h5.0v5.0h-5.0zM904.0 402.0h5.0v5.0h-5.0zM739.0 407.0h5.0v5.0h-5.0zM919.0 407.0h5.0v5.0h-5.0zM724.0 412.0h5.0v5.0h-5.0zM709.0 417.0h5.0v5.0h-5.0zM934.0 417.0h5.0v5.0h-5.0zM949.0 427.0h5.0v5.0h-5.0zM954.0 432.0h5.0v5.0h-5.0zM959.0 437.0h5.0v5.0h-5.0zM969.0 442.0h5.0v5.0h-5.0zM979.0 447.0h10.0v5.0h-10.0zM994.0 452.0h10.0v5.0h-10.0zM1004.0 457.0h5.0v5.0h-5.0zM1009.0 462.0h5.0v5.0h-5.0zM669.0 467.0h5.0v5.0h-5.0zM1009.0 467.0h5.0v5.0h-5.0zM674.0 472.0h5.0v5.0h-5.0zM769.0 472.0h65.0v5.0h-65.0zM884.0 472.0h5.0v5.0h-5.0zM669.0 477.0h5.0v5.0h-5.0zM749.0 477.0h15.0v5.0h-15.0zM894.0 477.0h5.0v5.0h-5.0zM1004.0 477.0h5.0v5.0h-5.0zM754.0 482.0h20.0v5.0h-20.0zM819.0 482.0h15.0v5.0h-15.0zM834.0 487.0h5.0v5.0h-5.0zM894.0 487.0h5.0v5.0h-5.0zM1009.0 487.0h5.0v5.0h-5.0zM844.0 497.0h5.0v5.0h-5.0zM864.0 497.0h10.0v5.0h-10.0zM834.0 577.0h20.0v5.0h-20.0zM814.0 582.0h5.0v5.0h-5.0zM884.0 582.0h5.0v5.0h-5.0zM794.0 587.0h5.0v5.0h-5.0zM894.0 587.0h5.0v5.0h-5.0zM779.0 592.0h5.0v5.0h-5.0zM669.0 597.0h5.0v5.0h-5.0zM769.0 597.0h5.0v5.0h-5.0zM674.0 602.0h5.0v5.0h-5.0zM764.0 602.0h5.0v5.0h-5.0zM894.0 602.0h5.0v5.0h-5.0zM679.0 607.0h5.0v5.0h-5.0zM759.0 607.0h10.0v5.0h-10.0zM894.0 607.0h5.0v5.0h-5.0zM684.0 612.0h5.0v5.0h-5.0zM759.0 612.0h5.0v5.0h-5.0zM894.0 612.0h5.0v5.0h-5.0zM689.0 617.0h5.0v5.0h-5.0zM759.0 617.0h10.0v5.0h-10.0zM894.0 617.0h5.0v5.0h-5.0zM694.0 622.0h5.0v5.0h-5.0zM759.0 622.0h10.0v5.0h-10.0zM889.0 622.0h5.0v5.0h-5.0zM699.0 627.0h10.0v5.0h-10.0zM759.0 627.0h20.0v5.0h-20.0zM884.0 627.0h10.0v5.0h-10.0zM709.0 632.0h5.0v5.0h-5.0zM839.0 632.0h50.0v5.0h-50.0zM714.0 637.0h5.0v5.0h-5.0zM894.0 637.0h20.0v5.0h-20.0zM714.0 642.0h5.0v5.0h-5.0zM899.0 642.0h5.0v5.0h-5.0zM919.0 642.0h15.0v5.0h-15.0zM714.0 647.0h5.0v5.0h-5.0zM899.0 647.0h5.0v5.0h-5.0zM939.0 647.0h5.0v5.0h-5.0zM714.0 652.0h10.0v5.0h-10.0zM904.0 652.0h5.0v5.0h-5.0zM959.0 652.0h10.0v5.0h-10.0zM719.0 657.0h10.0v5.0h-10.0zM904.0 657.0h5.0v5.0h-5.0zM719.0 662.0h10.0v5.0h-10.0zM904.0 662.0h5.0v5.0h-5.0zM719.0 667.0h10.0v5.0h-10.0zM644.0 672.0h25.0v5.0h-25.0zM714.0 672.0h15.0v5.0h-15.0zM899.0 672.0h5.0v5.0h-5.0zM694.0 677.0h40.0v5.0h-40.0zM899.0 677.0h5.0v5.0h-5.0zM704.0 682.0h20.0v5.0h-20.0zM734.0 682.0h10.0v5.0h-10.0zM899.0 682.0h5.0v5.0h-5.0zM709.0 687.0h5.0v5.0h-5.0zM769.0 687.0h10.0v5.0h-10.0zM899.0 687.0h5.0v5.0h-5.0zM704.0 692.0h10.0v5.0h-10.0zM784.0 692.0h10.0v5.0h-10.0zM834.0 692.0h5.0v5.0h-5.0zM899.0 692.0h5.0v5.0h-5.0zM704.0 697.0h5.0v5.0h-5.0zM794.0 697.0h10.0v5.0h-10.0zM819.0 697.0h5.0v5.0h-5.0zM844.0 697.0h5.0v5.0h-5.0zM904.0 697.0h5.0v5.0h-5.0zM704.0 702.0h5.0v5.0h-5.0zM854.0 702.0h5.0v5.0h-5.0zM909.0 702.0h5.0v5.0h-5.0zM704.0 707.0h5.0v5.0h-5.0zM914.0 707.0h5.0v5.0h-5.0zM1014.0 707.0h10.0v5.0h-10.0zM704.0 712.0h5.0v5.0h-5.0zM864.0 712.0h5.0v5.0h-5.0zM919.0 712.0h5.0v5.0h-5.0zM1004.0 712.0h5.0v5.0h-5.0zM704.0 717.0h5.0v5.0h-5.0zM864.0 717.0h5.0v5.0h-5.0zM929.0 717.0h5.0v5.0h-5.0zM994.0 717.0h10.0v5.0h-10.0zM704.0 722.0h5.0v5.0h-5.0zM864.0 722.0h5.0v5.0h-5.0zM964.0 722.0h5.0v5.0h-5.0zM704.0 727.0h5.0v5.0h-5.0zM704.0 732.0h5.0v5.0h-5.0zM704.0 737.0h5.0v5.0h-5.0zM854.0 737.0h5.0v5.0h-5.0zM709.0 742.0h5.0v5.0h-5.0zM784.0 742.0h10.0v5.0h-10.0zM714.0 747.0h5.0v5.0h-5.0zM774.0 747.0h10.0v5.0h-10.0zM799.0 747.0h10.0v5.0h-10.0zM719.0 752.0h5.0v5.0h-5.0zM764.0 752.0h5.0v5.0h-5.0zM814.0 752.0h5.0v5.0h-5.0zM724.0 757.0h15.0v5.0h-15.0zM839.0 757.0h5.0v5.0h-5.0zM829.0 762.0h10.0v5.0h-10.0zM994.0 812.0h15.0v5.0h-15.0zM984.0 817.0h5.0v5.0h-5.0zM979.0 822.0h5.0v5.0h-5.0zM974.0 827.0h5.0v5.0h-5.0zM974.0 832.0h5.0v5.0h-5.0zM974.0 837.0h5.0v5.0h-5.0z"/><path fill="#20ffe0" d="M869.0 192.0h5.0v5.0h-5.0zM809.0 197.0h5.0v5.0h-5.0zM889.0 197.0h10.0v5.0h-10.0zM784.0 202.0h10.0v5.0h-10.0zM899.0 202.0h5.0v5.0h-5.0zM759.0 207.0h10.0v5.0h-10.0zM904.0 207.0h5.0v5.0h-5.0zM744.0 212.0h10.0v5.0h-10.0zM904.0 212.0h5.0v5.0h-5.0zM734.0 217.0h10.0v5.0h-10.0zM904.0 217.0h5.0v5.0h-5.0zM724.0 222.0h10.0v5.0h-10.0zM709.0 227.0h10.0v5.0h-10.0zM894.0 227.0h5.0v5.0h-5.0zM699.0 232.0h10.0v5.0h-10.0zM819.0 232.0h10.0v5.0h-10.0zM884.0 232.0h5.0v5.0h-5.0zM694.0 237.0h15.0v5.0h-15.0zM764.0 237.0h10.0v5.0h-10.0zM844.0 237.0h20.0v5.0h-20.0zM824.0 322.0h5.0v5.0h-5.0zM889.0 322.0h5.0v5.0h-5.0zM729.0 327.0h10.0v5.0h-10.0zM924.0 327.0h5.0v5.0h-5.0zM959.0 327.0h20.0v5.0h-20.0zM694.0 332.0h10.0v5.0h-10.0zM939.0 332.0h10.0v5.0h-10.0zM984.0 332.0h10.0v5.0h-10.0zM994.0 337.0h5.0v5.0h-5.0zM999.0 342.0h5.0v5.0h-5.0zM999.0 347.0h5.0v5.0h-5.0zM999.0 352.0h5.0v5.0h-5.0zM999.0 357.0h5.0v5.0h-5.0zM999.0 362.0h5.0v5.0h-5.0zM999.0 367.0h5.0v5.0h-5.0zM1004.0 372.0h5.0v5.0h-5.0zM1009.0 377.0h5.0v5.0h-5.0zM804.0 397.0h10.0v5.0h-10.0zM844.0 397.0h5.0v5.0h-5.0zM769.0 402.0h5.0v5.0h-5.0zM889.0 402.0h5.0v5.0h-5.0zM749.0 407.0h5.0v5.0h-5.0zM734.0 412.0h5.0v5.0h-5.0zM719.0 417.0h5.0v5.0h-5.0zM929.0 417.0h5.0v5.0h-5.0zM704.0 422.0h5.0v5.0h-5.0zM934.0 422.0h5.0v5.0h-5.0zM644.0 427.0h30.0v5.0h-30.0zM954.0 442.0h5.0v5.0h-5.0zM959.0 447.0h10.0v5.0h-10.0zM969.0 452.0h10.0v5.0h-10.0zM644.0 457.0h30.0v5.0h-30.0zM984.0 457.0h10.0v5.0h-10.0zM679.0 462.0h5.0v5.0h-5.0zM999.0 462.0h5.0v5.0h-5.0zM684.0 467.0h5.0v5.0h-5.0zM724.0 467.0h35.0v5.0h-35.0zM839.0 467.0h5.0v5.0h-5.0zM864.0 467.0h15.0v5.0h-15.0zM684.0 472.0h5.0v5.0h-5.0zM719.0 472.0h10.0v5.0h-10.0zM899.0 472.0h5.0v5.0h-5.0zM679.0 477.0h5.0v5.0h-5.0zM724.0 477.0h10.0v5.0h-10.0zM909.0 477.0h5.0v5.0h-5.0zM674.0 482.0h5.0v5.0h-5.0zM734.0 482.0h10.0v5.0h-10.0zM904.0 482.0h5.0v5.0h-5.0zM749.0 487.0h15.0v5.0h-15.0zM824.0 487.0h10.0v5.0h-10.0zM899.0 487.0h5.0v5.0h-5.0zM834.0 492.0h5.0v5.0h-5.0zM894.0 492.0h5.0v5.0h-5.0zM839.0 497.0h5.0v5.0h-5.0zM884.0 497.0h5.0v5.0h-5.0zM824.0 577.0h5.0v5.0h-5.0zM869.0 577.0h10.0v5.0h-10.0zM799.0 582.0h5.0v5.0h-5.0zM899.0 582.0h5.0v5.0h-5.0zM644.0 587.0h35.0v5.0h-35.0zM774.0 587.0h10.0v5.0h-10.0zM904.0 587.0h5.0v5.0h-5.0zM679.0 592.0h5.0v5.0h-5.0zM764.0 592.0h5.0v5.0h-5.0zM904.0 592.0h5.0v5.0h-5.0zM684.0 597.0h5.0v5.0h-5.0zM754.0 597.0h5.0v5.0h-5.0zM689.0 602.0h5.0v5.0h-5.0zM744.0 602.0h10.0v5.0h-10.0zM689.0 607.0h10.0v5.0h-10.0zM744.0 607.0h5.0v5.0h-5.0zM904.0 607.0h5.0v5.0h-5.0zM694.0 612.0h10.0v5.0h-10.0zM744.0 612.0h5.0v5.0h-5.0zM904.0 612.0h5.0v5.0h-5.0zM699.0 617.0h10.0v5.0h-10.0zM744.0 617.0h5.0v5.0h-5.0zM904.0 617.0h5.0v5.0h-5.0zM709.0 622.0h10.0v5.0h-10.0zM739.0 622.0h10.0v5.0h-10.0zM904.0 622.0h5.0v5.0h-5.0zM719.0 627.0h5.0v5.0h-5.0zM734.0 627.0h10.0v5.0h-10.0zM904.0 627.0h5.0v5.0h-5.0zM724.0 632.0h20.0v5.0h-20.0zM909.0 632.0h5.0v5.0h-5.0zM729.0 637.0h25.0v5.0h-25.0zM759.0 637.0h15.0v5.0h-15.0zM849.0 637.0h20.0v5.0h-20.0zM924.0 637.0h10.0v5.0h-10.0zM729.0 642.0h25.0v5.0h-25.0zM879.0 642.0h10.0v5.0h-10.0zM729.0 647.0h15.0v5.0h-15.0zM889.0 647.0h5.0v5.0h-5.0zM954.0 647.0h5.0v5.0h-5.0zM734.0 652.0h5.0v5.0h-5.0zM889.0 652.0h5.0v5.0h-5.0zM1009.0 652.0h15.0v5.0h-15.0zM734.0 657.0h10.0v5.0h-10.0zM894.0 657.0h5.0v5.0h-5.0zM739.0 662.0h5.0v5.0h-5.0zM894.0 662.0h5.0v5.0h-5.0zM739.0 667.0h5.0v5.0h-5.0zM894.0 667.0h5.0v5.0h-5.0zM739.0 672.0h5.0v5.0h-5.0zM889.0 672.0h5.0v5.0h-5.0zM679.0 677.0h5.0v5.0h-5.0zM739.0 677.0h10.0v5.0h-10.0zM889.0 677.0h5.0v5.0h-5.0zM689.0 682.0h5.0v5.0h-5.0zM759.0 682.0h10.0v5.0h-10.0zM889.0 682.0h5.0v5.0h-5.0zM694.0 687.0h5.0v5.0h-5.0zM789.0 687.0h5.0v5.0h-5.0zM889.0 687.0h5.0v5.0h-5.0zM799.0 692.0h5.0v5.0h-5.0zM824.0 692.0h5.0v5.0h-5.0zM839.0 692.0h5.0v5.0h-5.0zM889.0 692.0h5.0v5.0h-5.0zM854.0 697.0h5.0v5.0h-5.0zM889.0 697.0h5.0v5.0h-5.0zM864.0 702.0h5.0v5.0h-5.0zM894.0 702.0h5.0v5.0h-5.0zM869.0 707.0h5.0v5.0h-5.0zM899.0 707.0h5.0v5.0h-5.0zM694.0 712.0h5.0v5.0h-5.0zM869.0 712.0h5.0v5.0h-5.0zM904.0 712.0h10.0v5.0h-10.0zM694.0 717.0h5.0v5.0h-5.0zM914.0 717.0h5.0v5.0h-5.0zM1009.0 717.0h5.0v5.0h-5.0zM694.0 722.0h5.0v5.0h-5.0zM869.0 722.0h5.0v5.0h-5.0zM924.0 722.0h10.0v5.0h-10.0zM989.0 722.0h10.0v5.0h-10.0zM694.0 727.0h5.0v5.0h-5.0zM694.0 732.0h5.0v5.0h-5.0zM864.0 732.0h5.0v5.0h-5.0zM694.0 737.0h5.0v5.0h-5.0zM859.0 737.0h5.0v5.0h-5.0zM699.0 742.0h5.0v5.0h-5.0zM854.0 742.0h5.0v5.0h-5.0zM699.0 747.0h5.0v5.0h-5.0zM704.0 752.0h5.0v5.0h-5.0zM779.0 752.0h30.0v5.0h-30.0zM704.0 757.0h10.0v5.0h-10.0zM764.0 757.0h10.0v5.0h-10.0zM709.0 762.0h15.0v5.0h-15.0zM734.0 762.0h25.0v5.0h-25.0zM824.0 762.0h5.0v5.0h-5.0zM994.0 807.0h30.0v5.0h-30.0zM644.0 812.0h25.0v5.0h-25.0zM974.0 812.0h10.0v5.0h-10.0zM644.0 817.0h35.0v5.0h-35.0zM964.0 817.0h10.0v5.0h-10.0zM644.0 822.0h40.0v5.0h-40.0zM964.0 822.0h5.0v5.0h-5.0zM664.0 827.0h25.0v5.0h-25.0zM964.0 827.0h5.0v5.0h-5.0zM664.0 832.0h25.0v5.0h-25.0zM964.0 832.0h5.0v5.0h-5.0zM664.0 837.0h25.0v5.0h-25.0zM964.0 837.0h5.0v5.0h-5.0z"/><path fill="#18ffe8" d="M879.0 192.0h5.0v5.0h-5.0zM799.0 197.0h5.0v5.0h-5.0zM899.0 197.0h5.0v5.0h-5.0zM774.0 202.0h10.0v5.0h-10.0zM904.0 202.0h5.0v5.0h-5.0zM749.0 207.0h10.0v5.0h-10.0zM909.0 207.0h5.0v5.0h-5.0zM739.0 212.0h5.0v5.0h-5.0zM909.0 212.0h5.0v5.0h-5.0zM724.0 217.0h10.0v5.0h-10.0zM909.0 217.0h5.0v5.0h-5.0zM709.0 222.0h10.0v5.0h-10.0zM904.0 222.0h5.0v5.0h-5.0zM694.0 227.0h15.0v5.0h-15.0zM904.0 227.0h5.0v5.0h-5.0zM684.0 232.0h15.0v5.0h-15.0zM894.0 232.0h5.0v5.0h-5.0zM684.0 237.0h10.0v5.0h-10.0zM774.0 237.0h15.0v5.0h-15.0zM839.0 237.0h5.0v5.0h-5.0zM864.0 237.0h10.0v5.0h-10.0zM694.0 242.0h25.0v5.0h-25.0zM734.0 242.0h20.0v5.0h-20.0zM819.0 322.0h5.0v5.0h-5.0zM894.0 322.0h5.0v5.0h-5.0zM964.0 322.0h10.0v5.0h-10.0zM719.0 327.0h5.0v5.0h-5.0zM929.0 327.0h5.0v5.0h-5.0zM949.0 327.0h10.0v5.0h-10.0zM979.0 327.0h10.0v5.0h-10.0zM684.0 332.0h10.0v5.0h-10.0zM994.0 332.0h5.0v5.0h-5.0zM999.0 337.0h5.0v5.0h-5.0zM1004.0 362.0h5.0v5.0h-5.0zM1004.0 367.0h5.0v5.0h-5.0zM1009.0 372.0h5.0v5.0h-5.0zM1014.0 377.0h10.0v5.0h-10.0zM814.0 397.0h5.0v5.0h-5.0zM774.0 402.0h5.0v5.0h-5.0zM884.0 402.0h5.0v5.0h-5.0zM754.0 407.0h5.0v5.0h-5.0zM909.0 407.0h5.0v5.0h-5.0zM739.0 412.0h5.0v5.0h-5.0zM919.0 412.0h5.0v5.0h-5.0zM724.0 417.0h5.0v5.0h-5.0zM924.0 417.0h5.0v5.0h-5.0zM709.0 422.0h5.0v5.0h-5.0zM679.0 427.0h20.0v5.0h-20.0zM939.0 427.0h5.0v5.0h-5.0zM644.0 432.0h30.0v5.0h-30.0zM944.0 432.0h5.0v5.0h-5.0zM949.0 442.0h5.0v5.0h-5.0zM954.0 447.0h5.0v5.0h-5.0zM644.0 452.0h30.0v5.0h-30.0zM959.0 452.0h10.0v5.0h-10.0zM674.0 457.0h10.0v5.0h-10.0zM974.0 457.0h10.0v5.0h-10.0zM684.0 462.0h5.0v5.0h-5.0zM984.0 462.0h15.0v5.0h-15.0zM689.0 467.0h5.0v5.0h-5.0zM714.0 467.0h10.0v5.0h-10.0zM764.0 467.0h55.0v5.0h-55.0zM829.0 467.0h10.0v5.0h-10.0zM879.0 467.0h15.0v5.0h-15.0zM999.0 467.0h5.0v5.0h-5.0zM689.0 472.0h5.0v5.0h-5.0zM709.0 472.0h10.0v5.0h-10.0zM904.0 472.0h10.0v5.0h-10.0zM999.0 472.0h5.0v5.0h-5.0zM684.0 477.0h5.0v5.0h-5.0zM714.0 477.0h10.0v5.0h-10.0zM914.0 477.0h5.0v5.0h-5.0zM999.0 477.0h5.0v5.0h-5.0zM679.0 482.0h5.0v5.0h-5.0zM724.0 482.0h5.0v5.0h-5.0zM909.0 482.0h5.0v5.0h-5.0zM644.0 487.0h30.0v5.0h-30.0zM739.0 487.0h10.0v5.0h-10.0zM904.0 487.0h5.0v5.0h-5.0zM1004.0 487.0h5.0v5.0h-5.0zM899.0 492.0h5.0v5.0h-5.0zM1009.0 492.0h5.0v5.0h-5.0zM889.0 497.0h5.0v5.0h-5.0zM1019.0 497.0h5.0v5.0h-5.0zM819.0 577.0h5.0v5.0h-5.0zM879.0 577.0h10.0v5.0h-10.0zM644.0 582.0h30.0v5.0h-30.0zM789.0 582.0h5.0v5.0h-5.0zM904.0 582.0h10.0v5.0h-10.0zM679.0 587.0h10.0v5.0h-10.0zM769.0 587.0h5.0v5.0h-5.0zM909.0 587.0h5.0v5.0h-5.0zM689.0 592.0h5.0v5.0h-5.0zM754.0 592.0h10.0v5.0h-10.0zM909.0 592.0h5.0v5.0h-5.0zM689.0 597.0h5.0v5.0h-5.0zM739.0 597.0h10.0v5.0h-10.0zM904.0 597.0h5.0v5.0h-5.0zM694.0 602.0h5.0v5.0h-5.0zM734.0 602.0h10.0v5.0h-10.0zM904.0 602.0h5.0v5.0h-5.0zM699.0 607.0h15.0v5.0h-15.0zM734.0 607.0h10.0v5.0h-10.0zM704.0 612.0h15.0v5.0h-15.0zM734.0 612.0h10.0v5.0h-10.0zM714.0 617.0h10.0v5.0h-10.0zM734.0 617.0h5.0v5.0h-5.0zM719.0 622.0h20.0v5.0h-20.0zM729.0 627.0h5.0v5.0h-5.0zM909.0 627.0h5.0v5.0h-5.0zM914.0 632.0h5.0v5.0h-5.0zM774.0 637.0h15.0v5.0h-15.0zM834.0 637.0h10.0v5.0h-10.0zM934.0 637.0h5.0v5.0h-5.0zM759.0 642.0h10.0v5.0h-10.0zM864.0 642.0h15.0v5.0h-15.0zM744.0 647.0h10.0v5.0h-10.0zM879.0 647.0h10.0v5.0h-10.0zM959.0 647.0h5.0v5.0h-5.0zM744.0 652.0h5.0v5.0h-5.0zM884.0 652.0h5.0v5.0h-5.0zM744.0 657.0h5.0v5.0h-5.0zM889.0 657.0h5.0v5.0h-5.0zM744.0 662.0h5.0v5.0h-5.0zM889.0 662.0h5.0v5.0h-5.0zM744.0 667.0h5.0v5.0h-5.0zM889.0 667.0h5.0v5.0h-5.0zM744.0 672.0h5.0v5.0h-5.0zM884.0 672.0h5.0v5.0h-5.0zM644.0 677.0h30.0v5.0h-30.0zM749.0 677.0h5.0v5.0h-5.0zM884.0 677.0h5.0v5.0h-5.0zM684.0 682.0h5.0v5.0h-5.0zM769.0 682.0h10.0v5.0h-10.0zM884.0 682.0h5.0v5.0h-5.0zM794.0 687.0h5.0v5.0h-5.0zM884.0 687.0h5.0v5.0h-5.0zM809.0 692.0h5.0v5.0h-5.0zM819.0 692.0h5.0v5.0h-5.0zM844.0 692.0h10.0v5.0h-10.0zM884.0 692.0h5.0v5.0h-5.0zM859.0 697.0h10.0v5.0h-10.0zM884.0 697.0h5.0v5.0h-5.0zM869.0 702.0h5.0v5.0h-5.0zM884.0 702.0h5.0v5.0h-5.0zM874.0 707.0h5.0v5.0h-5.0zM884.0 707.0h10.0v5.0h-10.0zM874.0 712.0h5.0v5.0h-5.0zM889.0 712.0h15.0v5.0h-15.0zM874.0 717.0h5.0v5.0h-5.0zM894.0 717.0h15.0v5.0h-15.0zM1014.0 717.0h10.0v5.0h-10.0zM914.0 722.0h10.0v5.0h-10.0zM999.0 722.0h10.0v5.0h-10.0zM869.0 727.0h5.0v5.0h-5.0zM949.0 727.0h20.0v5.0h-20.0zM689.0 732.0h5.0v5.0h-5.0zM689.0 737.0h5.0v5.0h-5.0zM694.0 742.0h5.0v5.0h-5.0zM694.0 747.0h5.0v5.0h-5.0zM854.0 747.0h5.0v5.0h-5.0zM694.0 752.0h5.0v5.0h-5.0zM849.0 752.0h5.0v5.0h-5.0zM694.0 757.0h10.0v5.0h-10.0zM774.0 757.0h10.0v5.0h-10.0zM809.0 757.0h10.0v5.0h-10.0zM844.0 757.0h5.0v5.0h-5.0zM694.0 762.0h10.0v5.0h-10.0zM759.0 762.0h10.0v5.0h-10.0zM839.0 762.0h5.0v5.0h-5.0zM694.0 767.0h25.0v5.0h-25.0zM729.0 767.0h20.0v5.0h-20.0zM829.0 767.0h5.0v5.0h-5.0zM694.0 772.0h35.0v5.0h-35.0zM694.0 777.0h20.0v5.0h-20.0zM644.0 807.0h40.0v5.0h-40.0zM984.0 807.0h10.0v5.0h-10.0zM674.0 812.0h15.0v5.0h-15.0zM964.0 812.0h10.0v5.0h-10.0zM679.0 817.0h15.0v5.0h-15.0zM959.0 817.0h5.0v5.0h-5.0zM684.0 822.0h15.0v5.0h-15.0zM954.0 822.0h10.0v5.0h-10.0zM689.0 827.0h20.0v5.0h-20.0zM954.0 827.0h5.0v5.0h-5.0zM694.0 832.0h20.0v5.0h-20.0zM954.0 832.0h5.0v5.0h-5.0zM694.0 837.0h20.0v5.0h-20.0zM954.0 837.0h5.0v5.0h-5.0z"/><path fill="#10ffe8" d="M884.0 192.0h5.0v5.0h-5.0zM769.0 202.0h5.0v5.0h-5.0zM734.0 212.0h5.0v5.0h-5.0zM914.0 212.0h5.0v5.0h-5.0zM909.0 222.0h5.0v5.0h-5.0zM679.0 237.0h5.0v5.0h-5.0zM754.0 242.0h5.0v5.0h-5.0zM1004.0 357.0h5.0v5.0h-5.0zM1014.0 372.0h10.0v5.0h-10.0zM819.0 397.0h5.0v5.0h-5.0zM744.0 412.0h5.0v5.0h-5.0zM969.0 457.0h5.0v5.0h-5.0zM709.0 467.0h5.0v5.0h-5.0zM819.0 467.0h10.0v5.0h-10.0zM919.0 477.0h5.0v5.0h-5.0zM914.0 482.0h5.0v5.0h-5.0zM1014.0 497.0h5.0v5.0h-5.0zM889.0 577.0h5.0v5.0h-5.0zM674.0 582.0h5.0v5.0h-5.0zM784.0 582.0h5.0v5.0h-5.0zM764.0 587.0h5.0v5.0h-5.0zM749.0 592.0h5.0v5.0h-5.0zM694.0 597.0h5.0v5.0h-5.0zM699.0 602.0h5.0v5.0h-5.0zM909.0 617.0h5.0v5.0h-5.0zM909.0 622.0h5.0v5.0h-5.0zM789.0 637.0h15.0v5.0h-15.0zM824.0 637.0h10.0v5.0h-10.0zM754.0 647.0h5.0v5.0h-5.0zM754.0 677.0h5.0v5.0h-5.0zM689.0 687.0h5.0v5.0h-5.0zM869.0 697.0h5.0v5.0h-5.0zM874.0 702.0h5.0v5.0h-5.0zM874.0 722.0h5.0v5.0h-5.0zM689.0 727.0h5.0v5.0h-5.0zM939.0 727.0h10.0v5.0h-10.0zM969.0 727.0h5.0v5.0h-5.0zM689.0 742.0h5.0v5.0h-5.0zM859.0 742.0h5.0v5.0h-5.0zM784.0 757.0h5.0v5.0h-5.0zM804.0 757.0h5.0v5.0h-5.0zM769.0 762.0h5.0v5.0h-5.0zM689.0 767.0h5.0v5.0h-5.0zM749.0 767.0h5.0v5.0h-5.0zM834.0 767.0h5.0v5.0h-5.0zM689.0 772.0h5.0v5.0h-5.0zM729.0 772.0h5.0v5.0h-5.0zM689.0 777.0h5.0v5.0h-5.0zM714.0 777.0h5.0v5.0h-5.0zM694.0 782.0h10.0v5.0h-10.0zM644.0 802.0h25.0v5.0h-25.0zM954.0 817.0h5.0v5.0h-5.0zM709.0 827.0h5.0v5.0h-5.0zM714.0 832.0h5.0v5.0h-5.0zM714.0 837.0h5.0v5.0h-5.0z"/><path fill="#38ffc8" d="M824.0 197.0h5.0v5.0h-5.0zM869.0 197.0h10.0v5.0h-10.0zM809.0 202.0h10.0v5.0h-10.0zM884.0 202.0h5.0v5.0h-5.0zM794.0 207.0h5.0v5.0h-5.0zM774.0 212.0h10.0v5.0h-10.0zM894.0 212.0h5.0v5.0h-5.0zM759.0 217.0h10.0v5.0h-10.0zM894.0 217.0h5.0v5.0h-5.0zM749.0 222.0h10.0v5.0h-10.0zM889.0 222.0h5.0v5.0h-5.0zM744.0 227.0h10.0v5.0h-10.0zM774.0 227.0h55.0v5.0h-55.0zM879.0 227.0h5.0v5.0h-5.0zM844.0 232.0h5.0v5.0h-5.0zM854.0 232.0h10.0v5.0h-10.0zM834.0 322.0h10.0v5.0h-10.0zM859.0 322.0h15.0v5.0h-15.0zM764.0 327.0h10.0v5.0h-10.0zM724.0 332.0h10.0v5.0h-10.0zM679.0 337.0h10.0v5.0h-10.0zM939.0 337.0h5.0v5.0h-5.0zM959.0 337.0h10.0v5.0h-10.0zM969.0 342.0h10.0v5.0h-10.0zM974.0 347.0h10.0v5.0h-10.0zM974.0 352.0h10.0v5.0h-10.0zM974.0 357.0h10.0v5.0h-10.0zM979.0 362.0h5.0v5.0h-5.0zM984.0 367.0h5.0v5.0h-5.0zM989.0 372.0h5.0v5.0h-5.0zM1004.0 382.0h5.0v5.0h-5.0zM1014.0 387.0h10.0v5.0h-10.0zM769.0 397.0h10.0v5.0h-10.0zM859.0 397.0h10.0v5.0h-10.0zM749.0 402.0h5.0v5.0h-5.0zM909.0 402.0h5.0v5.0h-5.0zM734.0 407.0h5.0v5.0h-5.0zM924.0 407.0h5.0v5.0h-5.0zM719.0 412.0h5.0v5.0h-5.0zM929.0 412.0h5.0v5.0h-5.0zM699.0 417.0h5.0v5.0h-5.0zM944.0 422.0h5.0v5.0h-5.0zM959.0 432.0h5.0v5.0h-5.0zM964.0 437.0h5.0v5.0h-5.0zM1014.0 437.0h10.0v5.0h-10.0zM979.0 442.0h10.0v5.0h-10.0zM1009.0 442.0h15.0v5.0h-15.0zM994.0 447.0h30.0v5.0h-30.0zM1009.0 452.0h15.0v5.0h-15.0zM1009.0 457.0h15.0v5.0h-15.0zM1014.0 462.0h10.0v5.0h-10.0zM1014.0 467.0h10.0v5.0h-10.0zM644.0 472.0h25.0v5.0h-25.0zM874.0 472.0h10.0v5.0h-10.0zM1009.0 472.0h5.0v5.0h-5.0zM644.0 477.0h25.0v5.0h-25.0zM764.0 477.0h70.0v5.0h-70.0zM889.0 477.0h5.0v5.0h-5.0zM774.0 482.0h45.0v5.0h-45.0zM889.0 487.0h5.0v5.0h-5.0zM1014.0 487.0h10.0v5.0h-10.0zM839.0 492.0h5.0v5.0h-5.0zM849.0 497.0h15.0v5.0h-15.0zM819.0 582.0h5.0v5.0h-5.0zM874.0 582.0h10.0v5.0h-10.0zM799.0 587.0h5.0v5.0h-5.0zM889.0 587.0h5.0v5.0h-5.0zM784.0 592.0h5.0v5.0h-5.0zM894.0 592.0h5.0v5.0h-5.0zM644.0 597.0h25.0v5.0h-25.0zM774.0 597.0h5.0v5.0h-5.0zM664.0 602.0h10.0v5.0h-10.0zM769.0 602.0h5.0v5.0h-5.0zM674.0 607.0h5.0v5.0h-5.0zM769.0 607.0h5.0v5.0h-5.0zM679.0 612.0h5.0v5.0h-5.0zM769.0 612.0h5.0v5.0h-5.0zM889.0 612.0h5.0v5.0h-5.0zM679.0 617.0h5.0v5.0h-5.0zM769.0 617.0h10.0v5.0h-10.0zM889.0 617.0h5.0v5.0h-5.0zM684.0 622.0h10.0v5.0h-10.0zM774.0 622.0h10.0v5.0h-10.0zM884.0 622.0h5.0v5.0h-5.0zM694.0 627.0h5.0v5.0h-5.0zM784.0 627.0h35.0v5.0h-35.0zM874.0 627.0h10.0v5.0h-10.0zM699.0 632.0h10.0v5.0h-10.0zM704.0 637.0h5.0v5.0h-5.0zM704.0 642.0h10.0v5.0h-10.0zM909.0 642.0h5.0v5.0h-5.0zM704.0 647.0h10.0v5.0h-10.0zM909.0 647.0h30.0v5.0h-30.0zM709.0 652.0h5.0v5.0h-5.0zM909.0 652.0h10.0v5.0h-10.0zM949.0 652.0h10.0v5.0h-10.0zM709.0 657.0h10.0v5.0h-10.0zM909.0 657.0h5.0v5.0h-5.0zM1009.0 657.0h5.0v5.0h-5.0zM709.0 662.0h10.0v5.0h-10.0zM709.0 667.0h10.0v5.0h-10.0zM674.0 672.0h40.0v5.0h-40.0zM904.0 672.0h5.0v5.0h-5.0zM904.0 677.0h5.0v5.0h-5.0zM904.0 682.0h5.0v5.0h-5.0zM719.0 687.0h5.0v5.0h-5.0zM754.0 687.0h15.0v5.0h-15.0zM904.0 687.0h5.0v5.0h-5.0zM714.0 692.0h5.0v5.0h-5.0zM779.0 692.0h5.0v5.0h-5.0zM709.0 697.0h5.0v5.0h-5.0zM784.0 697.0h10.0v5.0h-10.0zM909.0 697.0h5.0v5.0h-5.0zM709.0 702.0h5.0v5.0h-5.0zM914.0 702.0h5.0v5.0h-5.0zM1014.0 702.0h10.0v5.0h-10.0zM709.0 707.0h5.0v5.0h-5.0zM859.0 707.0h5.0v5.0h-5.0zM919.0 707.0h5.0v5.0h-5.0zM1009.0 707.0h5.0v5.0h-5.0zM924.0 712.0h5.0v5.0h-5.0zM934.0 717.0h10.0v5.0h-10.0zM984.0 717.0h10.0v5.0h-10.0zM859.0 727.0h5.0v5.0h-5.0zM709.0 732.0h5.0v5.0h-5.0zM709.0 737.0h5.0v5.0h-5.0zM784.0 737.0h10.0v5.0h-10.0zM714.0 742.0h5.0v5.0h-5.0zM779.0 742.0h5.0v5.0h-5.0zM794.0 742.0h10.0v5.0h-10.0zM849.0 742.0h5.0v5.0h-5.0zM719.0 747.0h5.0v5.0h-5.0zM769.0 747.0h5.0v5.0h-5.0zM809.0 747.0h5.0v5.0h-5.0zM724.0 752.0h35.0v5.0h-35.0zM819.0 752.0h5.0v5.0h-5.0zM824.0 757.0h5.0v5.0h-5.0zM989.0 817.0h10.0v5.0h-10.0zM1004.0 817.0h20.0v5.0h-20.0zM984.0 822.0h5.0v5.0h-5.0zM979.0 827.0h5.0v5.0h-5.0zM979.0 832.0h5.0v5.0h-5.0zM979.0 837.0h5.0v5.0h-5.0z"/><path fill="#40ffc0" d="M829.0 197.0h5.0v5.0h-5.0zM859.0 197.0h10.0v5.0h-10.0zM819.0 202.0h5.0v5.0h-5.0zM799.0 207.0h10.0v5.0h-10.0zM889.0 207.0h5.0v5.0h-5.0zM784.0 212.0h10.0v5.0h-10.0zM889.0 212.0h5.0v5.0h-5.0zM774.0 217.0h10.0v5.0h-10.0zM889.0 217.0h5.0v5.0h-5.0zM764.0 222.0h25.0v5.0h-25.0zM884.0 222.0h5.0v5.0h-5.0zM759.0 227.0h10.0v5.0h-10.0zM829.0 227.0h10.0v5.0h-10.0zM874.0 227.0h5.0v5.0h-5.0zM849.0 232.0h5.0v5.0h-5.0zM844.0 322.0h15.0v5.0h-15.0zM774.0 327.0h10.0v5.0h-10.0zM904.0 327.0h5.0v5.0h-5.0zM734.0 332.0h5.0v5.0h-5.0zM924.0 332.0h5.0v5.0h-5.0zM689.0 337.0h10.0v5.0h-10.0zM934.0 337.0h5.0v5.0h-5.0zM949.0 342.0h20.0v5.0h-20.0zM964.0 347.0h10.0v5.0h-10.0zM969.0 352.0h5.0v5.0h-5.0zM969.0 357.0h5.0v5.0h-5.0zM974.0 362.0h5.0v5.0h-5.0zM974.0 367.0h5.0v5.0h-5.0zM984.0 372.0h5.0v5.0h-5.0zM989.0 377.0h5.0v5.0h-5.0zM1009.0 387.0h5.0v5.0h-5.0zM819.0 392.0h5.0v5.0h-5.0zM839.0 392.0h5.0v5.0h-5.0zM764.0 397.0h5.0v5.0h-5.0zM874.0 397.0h10.0v5.0h-10.0zM744.0 402.0h5.0v5.0h-5.0zM914.0 402.0h5.0v5.0h-5.0zM729.0 407.0h5.0v5.0h-5.0zM714.0 412.0h5.0v5.0h-5.0zM934.0 412.0h5.0v5.0h-5.0zM644.0 417.0h55.0v5.0h-55.0zM939.0 417.0h5.0v5.0h-5.0zM954.0 427.0h5.0v5.0h-5.0zM964.0 432.0h5.0v5.0h-5.0zM1009.0 432.0h15.0v5.0h-15.0zM974.0 437.0h10.0v5.0h-10.0zM1009.0 437.0h5.0v5.0h-5.0zM989.0 442.0h20.0v5.0h-20.0zM839.0 472.0h5.0v5.0h-5.0zM869.0 472.0h5.0v5.0h-5.0zM1014.0 472.0h5.0v5.0h-5.0zM834.0 477.0h5.0v5.0h-5.0zM884.0 477.0h5.0v5.0h-5.0zM1009.0 477.0h5.0v5.0h-5.0zM834.0 482.0h5.0v5.0h-5.0zM889.0 482.0h5.0v5.0h-5.0zM1009.0 482.0h5.0v5.0h-5.0zM884.0 487.0h5.0v5.0h-5.0zM879.0 492.0h5.0v5.0h-5.0zM869.0 582.0h5.0v5.0h-5.0zM804.0 587.0h5.0v5.0h-5.0zM884.0 587.0h5.0v5.0h-5.0zM794.0 592.0h5.0v5.0h-5.0zM889.0 592.0h5.0v5.0h-5.0zM779.0 597.0h10.0v5.0h-10.0zM889.0 597.0h5.0v5.0h-5.0zM779.0 602.0h5.0v5.0h-5.0zM889.0 602.0h5.0v5.0h-5.0zM644.0 607.0h30.0v5.0h-30.0zM774.0 607.0h10.0v5.0h-10.0zM889.0 607.0h5.0v5.0h-5.0zM669.0 612.0h5.0v5.0h-5.0zM779.0 612.0h5.0v5.0h-5.0zM674.0 617.0h5.0v5.0h-5.0zM779.0 617.0h10.0v5.0h-10.0zM884.0 617.0h5.0v5.0h-5.0zM679.0 622.0h5.0v5.0h-5.0zM789.0 622.0h10.0v5.0h-10.0zM879.0 622.0h5.0v5.0h-5.0zM684.0 627.0h10.0v5.0h-10.0zM824.0 627.0h20.0v5.0h-20.0zM854.0 627.0h20.0v5.0h-20.0zM689.0 632.0h10.0v5.0h-10.0zM694.0 637.0h10.0v5.0h-10.0zM699.0 642.0h5.0v5.0h-5.0zM699.0 647.0h5.0v5.0h-5.0zM699.0 652.0h5.0v5.0h-5.0zM919.0 652.0h30.0v5.0h-30.0zM699.0 657.0h10.0v5.0h-10.0zM914.0 657.0h5.0v5.0h-5.0zM1004.0 657.0h5.0v5.0h-5.0zM694.0 662.0h15.0v5.0h-15.0zM689.0 667.0h15.0v5.0h-15.0zM909.0 667.0h5.0v5.0h-5.0zM724.0 687.0h25.0v5.0h-25.0zM909.0 687.0h5.0v5.0h-5.0zM719.0 692.0h5.0v5.0h-5.0zM769.0 692.0h5.0v5.0h-5.0zM909.0 692.0h5.0v5.0h-5.0zM714.0 697.0h5.0v5.0h-5.0zM774.0 697.0h10.0v5.0h-10.0zM824.0 697.0h5.0v5.0h-5.0zM839.0 697.0h5.0v5.0h-5.0zM714.0 702.0h5.0v5.0h-5.0zM784.0 702.0h5.0v5.0h-5.0zM809.0 702.0h10.0v5.0h-10.0zM1009.0 702.0h5.0v5.0h-5.0zM784.0 707.0h10.0v5.0h-10.0zM854.0 707.0h5.0v5.0h-5.0zM924.0 707.0h5.0v5.0h-5.0zM1004.0 707.0h5.0v5.0h-5.0zM709.0 712.0h5.0v5.0h-5.0zM859.0 712.0h5.0v5.0h-5.0zM929.0 712.0h5.0v5.0h-5.0zM994.0 712.0h5.0v5.0h-5.0zM709.0 717.0h5.0v5.0h-5.0zM859.0 717.0h5.0v5.0h-5.0zM944.0 717.0h20.0v5.0h-20.0zM969.0 717.0h15.0v5.0h-15.0zM709.0 722.0h5.0v5.0h-5.0zM859.0 722.0h5.0v5.0h-5.0zM714.0 732.0h5.0v5.0h-5.0zM784.0 732.0h10.0v5.0h-10.0zM854.0 732.0h5.0v5.0h-5.0zM714.0 737.0h5.0v5.0h-5.0zM779.0 737.0h5.0v5.0h-5.0zM794.0 737.0h5.0v5.0h-5.0zM719.0 742.0h5.0v5.0h-5.0zM769.0 742.0h10.0v5.0h-10.0zM804.0 742.0h5.0v5.0h-5.0zM724.0 747.0h10.0v5.0h-10.0zM739.0 747.0h25.0v5.0h-25.0zM814.0 747.0h5.0v5.0h-5.0zM844.0 747.0h5.0v5.0h-5.0zM989.0 822.0h5.0v5.0h-5.0zM1004.0 822.0h10.0v5.0h-10.0zM984.0 827.0h5.0v5.0h-5.0zM1009.0 827.0h15.0v5.0h-15.0zM984.0 832.0h5.0v5.0h-5.0zM1014.0 832.0h10.0v5.0h-10.0zM984.0 837.0h5.0v5.0h-5.0zM1014.0 837.0h10.0v5.0h-10.0z"/><path fill="#48ffb8" d="M834.0 197.0h10.0v5.0h-10.0zM854.0 197.0h5.0v5.0h-5.0zM824.0 202.0h5.0v5.0h-5.0zM874.0 202.0h5.0v5.0h-5.0zM809.0 207.0h5.0v5.0h-5.0zM884.0 207.0h5.0v5.0h-5.0zM794.0 212.0h10.0v5.0h-10.0zM784.0 217.0h15.0v5.0h-15.0zM794.0 222.0h30.0v5.0h-30.0zM879.0 222.0h5.0v5.0h-5.0zM839.0 227.0h5.0v5.0h-5.0zM864.0 227.0h5.0v5.0h-5.0zM784.0 327.0h10.0v5.0h-10.0zM744.0 332.0h5.0v5.0h-5.0zM699.0 337.0h20.0v5.0h-20.0zM939.0 342.0h10.0v5.0h-10.0zM954.0 347.0h10.0v5.0h-10.0zM964.0 352.0h5.0v5.0h-5.0zM964.0 357.0h5.0v5.0h-5.0zM964.0 362.0h5.0v5.0h-5.0zM969.0 367.0h5.0v5.0h-5.0zM974.0 372.0h5.0v5.0h-5.0zM984.0 377.0h5.0v5.0h-5.0zM999.0 382.0h5.0v5.0h-5.0zM799.0 392.0h20.0v5.0h-20.0zM1014.0 392.0h5.0v5.0h-5.0zM754.0 397.0h5.0v5.0h-5.0zM884.0 397.0h15.0v5.0h-15.0zM919.0 402.0h5.0v5.0h-5.0zM724.0 407.0h5.0v5.0h-5.0zM929.0 407.0h5.0v5.0h-5.0zM709.0 412.0h5.0v5.0h-5.0zM949.0 422.0h5.0v5.0h-5.0zM959.0 427.0h5.0v5.0h-5.0zM1014.0 427.0h10.0v5.0h-10.0zM969.0 432.0h5.0v5.0h-5.0zM984.0 437.0h10.0v5.0h-10.0zM999.0 437.0h5.0v5.0h-5.0zM859.0 472.0h10.0v5.0h-10.0zM879.0 477.0h5.0v5.0h-5.0zM884.0 482.0h5.0v5.0h-5.0zM1014.0 482.0h10.0v5.0h-10.0zM869.0 492.0h10.0v5.0h-10.0zM824.0 582.0h5.0v5.0h-5.0zM859.0 582.0h10.0v5.0h-10.0zM814.0 587.0h5.0v5.0h-5.0zM879.0 587.0h5.0v5.0h-5.0zM799.0 592.0h5.0v5.0h-5.0zM884.0 592.0h5.0v5.0h-5.0zM789.0 597.0h5.0v5.0h-5.0zM784.0 602.0h5.0v5.0h-5.0zM884.0 602.0h5.0v5.0h-5.0zM784.0 607.0h5.0v5.0h-5.0zM884.0 607.0h5.0v5.0h-5.0zM644.0 612.0h25.0v5.0h-25.0zM784.0 612.0h10.0v5.0h-10.0zM884.0 612.0h5.0v5.0h-5.0zM644.0 617.0h30.0v5.0h-30.0zM789.0 617.0h10.0v5.0h-10.0zM879.0 617.0h5.0v5.0h-5.0zM674.0 622.0h5.0v5.0h-5.0zM799.0 622.0h15.0v5.0h-15.0zM869.0 622.0h10.0v5.0h-10.0zM679.0 627.0h5.0v5.0h-5.0zM849.0 627.0h5.0v5.0h-5.0zM679.0 632.0h10.0v5.0h-10.0zM684.0 637.0h10.0v5.0h-10.0zM684.0 642.0h10.0v5.0h-10.0zM684.0 647.0h10.0v5.0h-10.0zM684.0 652.0h10.0v5.0h-10.0zM684.0 657.0h10.0v5.0h-10.0zM924.0 657.0h5.0v5.0h-5.0zM679.0 662.0h15.0v5.0h-15.0zM914.0 662.0h5.0v5.0h-5.0zM1014.0 662.0h10.0v5.0h-10.0zM644.0 667.0h40.0v5.0h-40.0zM909.0 677.0h5.0v5.0h-5.0zM909.0 682.0h5.0v5.0h-5.0zM724.0 692.0h40.0v5.0h-40.0zM719.0 697.0h5.0v5.0h-5.0zM769.0 697.0h5.0v5.0h-5.0zM914.0 697.0h5.0v5.0h-5.0zM719.0 702.0h5.0v5.0h-5.0zM774.0 702.0h5.0v5.0h-5.0zM714.0 707.0h5.0v5.0h-5.0zM779.0 707.0h5.0v5.0h-5.0zM794.0 707.0h10.0v5.0h-10.0zM929.0 707.0h5.0v5.0h-5.0zM999.0 707.0h5.0v5.0h-5.0zM714.0 712.0h5.0v5.0h-5.0zM779.0 712.0h20.0v5.0h-20.0zM934.0 712.0h10.0v5.0h-10.0zM984.0 712.0h10.0v5.0h-10.0zM714.0 717.0h5.0v5.0h-5.0zM784.0 717.0h15.0v5.0h-15.0zM714.0 722.0h5.0v5.0h-5.0zM779.0 722.0h20.0v5.0h-20.0zM714.0 727.0h5.0v5.0h-5.0zM779.0 727.0h20.0v5.0h-20.0zM854.0 727.0h5.0v5.0h-5.0zM774.0 732.0h10.0v5.0h-10.0zM794.0 732.0h5.0v5.0h-5.0zM719.0 737.0h5.0v5.0h-5.0zM769.0 737.0h10.0v5.0h-10.0zM799.0 737.0h10.0v5.0h-10.0zM849.0 737.0h5.0v5.0h-5.0zM724.0 742.0h5.0v5.0h-5.0zM759.0 742.0h10.0v5.0h-10.0zM809.0 742.0h5.0v5.0h-5.0zM839.0 752.0h5.0v5.0h-5.0zM994.0 822.0h10.0v5.0h-10.0zM989.0 827.0h5.0v5.0h-5.0zM1004.0 827.0h5.0v5.0h-5.0zM989.0 832.0h5.0v5.0h-5.0zM1009.0 832.0h5.0v5.0h-5.0zM989.0 837.0h5.0v5.0h-5.0zM1009.0 837.0h5.0v5.0h-5.0z"/><path fill="#48ffb0" d="M844.0 197.0h10.0v5.0h-10.0zM814.0 207.0h5.0v5.0h-5.0zM804.0 212.0h5.0v5.0h-5.0zM799.0 217.0h5.0v5.0h-5.0zM959.0 352.0h5.0v5.0h-5.0zM794.0 392.0h5.0v5.0h-5.0zM739.0 402.0h5.0v5.0h-5.0zM704.0 412.0h5.0v5.0h-5.0zM884.0 597.0h5.0v5.0h-5.0zM999.0 657.0h5.0v5.0h-5.0zM764.0 697.0h5.0v5.0h-5.0zM1009.0 697.0h5.0v5.0h-5.0zM924.0 702.0h5.0v5.0h-5.0zM1004.0 702.0h5.0v5.0h-5.0zM854.0 712.0h5.0v5.0h-5.0zM779.0 717.0h5.0v5.0h-5.0zM799.0 732.0h5.0v5.0h-5.0zM1004.0 832.0h5.0v5.0h-5.0zM1004.0 837.0h5.0v5.0h-5.0z"/><path fill="#50ffb0" d="M829.0 202.0h5.0v5.0h-5.0zM869.0 202.0h5.0v5.0h-5.0zM819.0 207.0h5.0v5.0h-5.0zM809.0 212.0h10.0v5.0h-10.0zM884.0 212.0h5.0v5.0h-5.0zM804.0 217.0h15.0v5.0h-15.0zM884.0 217.0h5.0v5.0h-5.0zM824.0 222.0h5.0v5.0h-5.0zM874.0 222.0h5.0v5.0h-5.0zM844.0 227.0h5.0v5.0h-5.0zM854.0 227.0h10.0v5.0h-10.0zM794.0 327.0h5.0v5.0h-5.0zM749.0 332.0h5.0v5.0h-5.0zM919.0 332.0h5.0v5.0h-5.0zM719.0 337.0h10.0v5.0h-10.0zM929.0 337.0h5.0v5.0h-5.0zM949.0 347.0h5.0v5.0h-5.0zM954.0 352.0h5.0v5.0h-5.0zM959.0 357.0h5.0v5.0h-5.0zM964.0 367.0h5.0v5.0h-5.0zM969.0 372.0h5.0v5.0h-5.0zM979.0 377.0h5.0v5.0h-5.0zM994.0 382.0h5.0v5.0h-5.0zM829.0 387.0h5.0v5.0h-5.0zM1004.0 387.0h5.0v5.0h-5.0zM774.0 392.0h20.0v5.0h-20.0zM844.0 392.0h5.0v5.0h-5.0zM1009.0 392.0h5.0v5.0h-5.0zM749.0 397.0h5.0v5.0h-5.0zM899.0 397.0h15.0v5.0h-15.0zM1014.0 397.0h10.0v5.0h-10.0zM924.0 402.0h5.0v5.0h-5.0zM719.0 407.0h5.0v5.0h-5.0zM934.0 407.0h5.0v5.0h-5.0zM699.0 412.0h5.0v5.0h-5.0zM939.0 412.0h5.0v5.0h-5.0zM944.0 417.0h5.0v5.0h-5.0zM954.0 422.0h5.0v5.0h-5.0zM1019.0 422.0h5.0v5.0h-5.0zM1009.0 427.0h5.0v5.0h-5.0zM974.0 432.0h10.0v5.0h-10.0zM1004.0 432.0h5.0v5.0h-5.0zM994.0 437.0h5.0v5.0h-5.0zM844.0 472.0h5.0v5.0h-5.0zM854.0 472.0h5.0v5.0h-5.0zM874.0 477.0h5.0v5.0h-5.0zM1014.0 477.0h10.0v5.0h-10.0zM879.0 482.0h5.0v5.0h-5.0zM839.0 487.0h5.0v5.0h-5.0zM879.0 487.0h5.0v5.0h-5.0zM864.0 492.0h5.0v5.0h-5.0zM829.0 582.0h5.0v5.0h-5.0zM854.0 582.0h5.0v5.0h-5.0zM874.0 587.0h5.0v5.0h-5.0zM804.0 592.0h5.0v5.0h-5.0zM794.0 597.0h5.0v5.0h-5.0zM789.0 602.0h5.0v5.0h-5.0zM789.0 607.0h5.0v5.0h-5.0zM879.0 607.0h5.0v5.0h-5.0zM794.0 612.0h5.0v5.0h-5.0zM879.0 612.0h5.0v5.0h-5.0zM799.0 617.0h5.0v5.0h-5.0zM874.0 617.0h5.0v5.0h-5.0zM644.0 622.0h30.0v5.0h-30.0zM814.0 622.0h15.0v5.0h-15.0zM859.0 622.0h10.0v5.0h-10.0zM669.0 627.0h10.0v5.0h-10.0zM674.0 632.0h5.0v5.0h-5.0zM674.0 637.0h10.0v5.0h-10.0zM674.0 642.0h10.0v5.0h-10.0zM674.0 647.0h10.0v5.0h-10.0zM674.0 652.0h10.0v5.0h-10.0zM674.0 657.0h10.0v5.0h-10.0zM929.0 657.0h10.0v5.0h-10.0zM954.0 657.0h45.0v5.0h-45.0zM644.0 662.0h35.0v5.0h-35.0zM919.0 662.0h5.0v5.0h-5.0zM1009.0 662.0h5.0v5.0h-5.0zM914.0 667.0h5.0v5.0h-5.0zM914.0 692.0h5.0v5.0h-5.0zM1014.0 692.0h10.0v5.0h-10.0zM724.0 697.0h40.0v5.0h-40.0zM919.0 697.0h5.0v5.0h-5.0zM764.0 702.0h10.0v5.0h-10.0zM819.0 702.0h5.0v5.0h-5.0zM844.0 702.0h5.0v5.0h-5.0zM719.0 707.0h5.0v5.0h-5.0zM769.0 707.0h10.0v5.0h-10.0zM804.0 707.0h10.0v5.0h-10.0zM849.0 707.0h5.0v5.0h-5.0zM934.0 707.0h5.0v5.0h-5.0zM994.0 707.0h5.0v5.0h-5.0zM719.0 712.0h5.0v5.0h-5.0zM774.0 712.0h5.0v5.0h-5.0zM799.0 712.0h5.0v5.0h-5.0zM944.0 712.0h15.0v5.0h-15.0zM979.0 712.0h5.0v5.0h-5.0zM774.0 717.0h5.0v5.0h-5.0zM799.0 717.0h5.0v5.0h-5.0zM854.0 717.0h5.0v5.0h-5.0zM774.0 722.0h5.0v5.0h-5.0zM799.0 722.0h5.0v5.0h-5.0zM854.0 722.0h5.0v5.0h-5.0zM719.0 727.0h5.0v5.0h-5.0zM774.0 727.0h5.0v5.0h-5.0zM799.0 727.0h5.0v5.0h-5.0zM719.0 732.0h5.0v5.0h-5.0zM769.0 732.0h5.0v5.0h-5.0zM804.0 732.0h5.0v5.0h-5.0zM724.0 737.0h5.0v5.0h-5.0zM764.0 737.0h5.0v5.0h-5.0zM809.0 737.0h5.0v5.0h-5.0zM729.0 742.0h30.0v5.0h-30.0zM814.0 742.0h5.0v5.0h-5.0zM844.0 742.0h5.0v5.0h-5.0zM819.0 747.0h5.0v5.0h-5.0zM829.0 757.0h10.0v5.0h-10.0zM994.0 827.0h10.0v5.0h-10.0zM994.0 832.0h10.0v5.0h-10.0zM994.0 837.0h10.0v5.0h-10.0z"/><path fill="#58ffa8" d="M834.0 202.0h5.0v5.0h-5.0zM859.0 202.0h10.0v5.0h-10.0zM824.0 207.0h5.0v5.0h-5.0zM819.0 212.0h5.0v5.0h-5.0zM879.0 212.0h5.0v5.0h-5.0zM819.0 217.0h5.0v5.0h-5.0zM879.0 217.0h5.0v5.0h-5.0zM834.0 222.0h5.0v5.0h-5.0zM869.0 222.0h5.0v5.0h-5.0zM849.0 227.0h5.0v5.0h-5.0zM799.0 327.0h5.0v5.0h-5.0zM754.0 332.0h5.0v5.0h-5.0zM914.0 332.0h5.0v5.0h-5.0zM734.0 337.0h5.0v5.0h-5.0zM644.0 342.0h35.0v5.0h-35.0zM934.0 342.0h5.0v5.0h-5.0zM939.0 347.0h5.0v5.0h-5.0zM949.0 352.0h5.0v5.0h-5.0zM954.0 357.0h5.0v5.0h-5.0zM959.0 367.0h5.0v5.0h-5.0zM964.0 372.0h5.0v5.0h-5.0zM974.0 377.0h5.0v5.0h-5.0zM989.0 382.0h5.0v5.0h-5.0zM834.0 387.0h5.0v5.0h-5.0zM759.0 392.0h15.0v5.0h-15.0zM744.0 397.0h5.0v5.0h-5.0zM914.0 397.0h5.0v5.0h-5.0zM929.0 402.0h5.0v5.0h-5.0zM1014.0 402.0h10.0v5.0h-10.0zM714.0 407.0h5.0v5.0h-5.0zM644.0 412.0h55.0v5.0h-55.0zM949.0 417.0h5.0v5.0h-5.0zM964.0 427.0h5.0v5.0h-5.0zM1004.0 427.0h5.0v5.0h-5.0zM984.0 432.0h20.0v5.0h-20.0zM839.0 477.0h5.0v5.0h-5.0zM869.0 477.0h5.0v5.0h-5.0zM839.0 482.0h5.0v5.0h-5.0zM874.0 482.0h5.0v5.0h-5.0zM874.0 487.0h5.0v5.0h-5.0zM844.0 492.0h5.0v5.0h-5.0zM859.0 492.0h5.0v5.0h-5.0zM834.0 582.0h20.0v5.0h-20.0zM819.0 587.0h5.0v5.0h-5.0zM869.0 587.0h5.0v5.0h-5.0zM809.0 592.0h5.0v5.0h-5.0zM879.0 592.0h5.0v5.0h-5.0zM799.0 597.0h5.0v5.0h-5.0zM879.0 597.0h5.0v5.0h-5.0zM794.0 602.0h10.0v5.0h-10.0zM879.0 602.0h5.0v5.0h-5.0zM799.0 607.0h5.0v5.0h-5.0zM799.0 612.0h5.0v5.0h-5.0zM874.0 612.0h5.0v5.0h-5.0zM809.0 617.0h5.0v5.0h-5.0zM864.0 617.0h10.0v5.0h-10.0zM829.0 622.0h30.0v5.0h-30.0zM644.0 632.0h25.0v5.0h-25.0zM644.0 637.0h25.0v5.0h-25.0zM644.0 642.0h25.0v5.0h-25.0zM644.0 647.0h25.0v5.0h-25.0zM644.0 652.0h25.0v5.0h-25.0zM644.0 657.0h25.0v5.0h-25.0zM939.0 657.0h10.0v5.0h-10.0zM924.0 662.0h5.0v5.0h-5.0zM1014.0 667.0h10.0v5.0h-10.0zM914.0 672.0h5.0v5.0h-5.0zM914.0 687.0h5.0v5.0h-5.0zM1014.0 687.0h10.0v5.0h-10.0zM1009.0 692.0h5.0v5.0h-5.0zM924.0 697.0h5.0v5.0h-5.0zM729.0 702.0h35.0v5.0h-35.0zM929.0 702.0h5.0v5.0h-5.0zM999.0 702.0h5.0v5.0h-5.0zM724.0 707.0h5.0v5.0h-5.0zM764.0 707.0h5.0v5.0h-5.0zM939.0 707.0h5.0v5.0h-5.0zM984.0 707.0h10.0v5.0h-10.0zM769.0 712.0h5.0v5.0h-5.0zM804.0 712.0h5.0v5.0h-5.0zM959.0 712.0h15.0v5.0h-15.0zM719.0 717.0h5.0v5.0h-5.0zM769.0 717.0h5.0v5.0h-5.0zM804.0 717.0h5.0v5.0h-5.0zM769.0 722.0h5.0v5.0h-5.0zM804.0 722.0h5.0v5.0h-5.0zM724.0 727.0h5.0v5.0h-5.0zM764.0 727.0h5.0v5.0h-5.0zM804.0 727.0h5.0v5.0h-5.0zM724.0 732.0h10.0v5.0h-10.0zM759.0 732.0h10.0v5.0h-10.0zM729.0 737.0h30.0v5.0h-30.0z"/><path fill="#60ffa0" d="M839.0 202.0h20.0v5.0h-20.0zM829.0 207.0h5.0v5.0h-5.0zM869.0 207.0h5.0v5.0h-5.0zM824.0 212.0h5.0v5.0h-5.0zM874.0 212.0h5.0v5.0h-5.0zM824.0 217.0h5.0v5.0h-5.0zM874.0 217.0h5.0v5.0h-5.0zM839.0 222.0h5.0v5.0h-5.0zM859.0 222.0h5.0v5.0h-5.0zM804.0 327.0h5.0v5.0h-5.0zM739.0 337.0h5.0v5.0h-5.0zM679.0 342.0h20.0v5.0h-20.0zM944.0 352.0h5.0v5.0h-5.0zM949.0 357.0h5.0v5.0h-5.0zM954.0 362.0h5.0v5.0h-5.0zM959.0 372.0h5.0v5.0h-5.0zM964.0 377.0h10.0v5.0h-10.0zM979.0 382.0h10.0v5.0h-10.0zM824.0 387.0h5.0v5.0h-5.0zM999.0 387.0h5.0v5.0h-5.0zM754.0 392.0h5.0v5.0h-5.0zM849.0 392.0h5.0v5.0h-5.0zM739.0 397.0h5.0v5.0h-5.0zM924.0 397.0h5.0v5.0h-5.0zM1009.0 397.0h5.0v5.0h-5.0zM934.0 402.0h5.0v5.0h-5.0zM709.0 407.0h5.0v5.0h-5.0zM939.0 407.0h5.0v5.0h-5.0zM1014.0 407.0h10.0v5.0h-10.0zM944.0 412.0h5.0v5.0h-5.0zM1014.0 412.0h10.0v5.0h-10.0zM1014.0 417.0h10.0v5.0h-10.0zM959.0 422.0h5.0v5.0h-5.0zM969.0 427.0h10.0v5.0h-10.0zM864.0 477.0h5.0v5.0h-5.0zM869.0 482.0h5.0v5.0h-5.0zM869.0 487.0h5.0v5.0h-5.0zM849.0 492.0h10.0v5.0h-10.0zM864.0 587.0h5.0v5.0h-5.0zM814.0 592.0h5.0v5.0h-5.0zM874.0 592.0h5.0v5.0h-5.0zM804.0 597.0h5.0v5.0h-5.0zM874.0 597.0h5.0v5.0h-5.0zM804.0 602.0h5.0v5.0h-5.0zM874.0 602.0h5.0v5.0h-5.0zM804.0 607.0h5.0v5.0h-5.0zM809.0 612.0h5.0v5.0h-5.0zM869.0 612.0h5.0v5.0h-5.0zM814.0 617.0h10.0v5.0h-10.0zM859.0 617.0h5.0v5.0h-5.0zM929.0 662.0h5.0v5.0h-5.0zM1004.0 662.0h5.0v5.0h-5.0zM919.0 667.0h5.0v5.0h-5.0zM1019.0 672.0h5.0v5.0h-5.0zM914.0 677.0h5.0v5.0h-5.0zM1014.0 682.0h10.0v5.0h-10.0zM919.0 692.0h5.0v5.0h-5.0zM1004.0 697.0h5.0v5.0h-5.0zM934.0 702.0h5.0v5.0h-5.0zM994.0 702.0h5.0v5.0h-5.0zM729.0 707.0h30.0v5.0h-30.0zM814.0 707.0h5.0v5.0h-5.0zM949.0 707.0h10.0v5.0h-10.0zM979.0 707.0h5.0v5.0h-5.0zM724.0 712.0h10.0v5.0h-10.0zM759.0 712.0h5.0v5.0h-5.0zM809.0 712.0h5.0v5.0h-5.0zM849.0 712.0h5.0v5.0h-5.0zM724.0 717.0h5.0v5.0h-5.0zM764.0 717.0h5.0v5.0h-5.0zM809.0 717.0h5.0v5.0h-5.0zM724.0 722.0h5.0v5.0h-5.0zM759.0 722.0h10.0v5.0h-10.0zM729.0 727.0h35.0v5.0h-35.0zM809.0 727.0h5.0v5.0h-5.0zM849.0 727.0h5.0v5.0h-5.0zM809.0 732.0h5.0v5.0h-5.0zM814.0 737.0h5.0v5.0h-5.0z"/><path fill="#40ffb8" d="M879.0 202.0h5.0v5.0h-5.0zM789.0 222.0h5.0v5.0h-5.0zM869.0 227.0h5.0v5.0h-5.0zM739.0 332.0h5.0v5.0h-5.0zM969.0 362.0h5.0v5.0h-5.0zM979.0 372.0h5.0v5.0h-5.0zM1019.0 392.0h5.0v5.0h-5.0zM759.0 397.0h5.0v5.0h-5.0zM1004.0 437.0h5.0v5.0h-5.0zM1019.0 472.0h5.0v5.0h-5.0zM809.0 587.0h5.0v5.0h-5.0zM844.0 627.0h5.0v5.0h-5.0zM694.0 642.0h5.0v5.0h-5.0zM694.0 647.0h5.0v5.0h-5.0zM694.0 652.0h5.0v5.0h-5.0zM694.0 657.0h5.0v5.0h-5.0zM919.0 657.0h5.0v5.0h-5.0zM684.0 667.0h5.0v5.0h-5.0zM909.0 672.0h5.0v5.0h-5.0zM764.0 692.0h5.0v5.0h-5.0zM1014.0 697.0h10.0v5.0h-10.0zM779.0 702.0h5.0v5.0h-5.0zM919.0 702.0h5.0v5.0h-5.0zM964.0 717.0h5.0v5.0h-5.0zM734.0 747.0h5.0v5.0h-5.0z"/><path fill="#30ffc8" d="M789.0 207.0h5.0v5.0h-5.0zM894.0 207.0h5.0v5.0h-5.0zM754.0 232.0h10.0v5.0h-10.0zM929.0 332.0h5.0v5.0h-5.0zM674.0 337.0h5.0v5.0h-5.0zM944.0 337.0h15.0v5.0h-15.0zM999.0 377.0h5.0v5.0h-5.0zM704.0 417.0h5.0v5.0h-5.0zM974.0 442.0h5.0v5.0h-5.0zM989.0 447.0h5.0v5.0h-5.0zM1004.0 452.0h5.0v5.0h-5.0zM644.0 467.0h25.0v5.0h-25.0zM669.0 472.0h5.0v5.0h-5.0zM834.0 472.0h5.0v5.0h-5.0zM894.0 482.0h5.0v5.0h-5.0zM884.0 492.0h5.0v5.0h-5.0zM894.0 597.0h5.0v5.0h-5.0zM764.0 612.0h5.0v5.0h-5.0zM684.0 617.0h5.0v5.0h-5.0zM769.0 622.0h5.0v5.0h-5.0zM779.0 627.0h5.0v5.0h-5.0zM709.0 637.0h5.0v5.0h-5.0zM904.0 642.0h5.0v5.0h-5.0zM914.0 642.0h5.0v5.0h-5.0zM904.0 647.0h5.0v5.0h-5.0zM1014.0 657.0h10.0v5.0h-10.0zM904.0 667.0h5.0v5.0h-5.0zM669.0 672.0h5.0v5.0h-5.0zM724.0 682.0h10.0v5.0h-10.0zM714.0 687.0h5.0v5.0h-5.0zM904.0 692.0h5.0v5.0h-5.0zM759.0 752.0h5.0v5.0h-5.0z"/><path fill="#68ff98" d="M834.0 207.0h5.0v5.0h-5.0zM859.0 207.0h10.0v5.0h-10.0zM829.0 212.0h5.0v5.0h-5.0zM869.0 212.0h5.0v5.0h-5.0zM834.0 217.0h5.0v5.0h-5.0zM864.0 217.0h10.0v5.0h-10.0zM844.0 222.0h15.0v5.0h-15.0zM809.0 327.0h5.0v5.0h-5.0zM894.0 327.0h5.0v5.0h-5.0zM764.0 332.0h5.0v5.0h-5.0zM909.0 332.0h5.0v5.0h-5.0zM744.0 337.0h5.0v5.0h-5.0zM924.0 337.0h5.0v5.0h-5.0zM704.0 342.0h25.0v5.0h-25.0zM934.0 347.0h5.0v5.0h-5.0zM939.0 352.0h5.0v5.0h-5.0zM944.0 357.0h5.0v5.0h-5.0zM949.0 362.0h5.0v5.0h-5.0zM954.0 372.0h5.0v5.0h-5.0zM959.0 377.0h5.0v5.0h-5.0zM974.0 382.0h5.0v5.0h-5.0zM749.0 392.0h5.0v5.0h-5.0zM854.0 392.0h10.0v5.0h-10.0zM734.0 397.0h5.0v5.0h-5.0zM934.0 397.0h5.0v5.0h-5.0zM939.0 402.0h5.0v5.0h-5.0zM1009.0 402.0h5.0v5.0h-5.0zM704.0 407.0h5.0v5.0h-5.0zM954.0 417.0h5.0v5.0h-5.0zM1009.0 417.0h5.0v5.0h-5.0zM984.0 427.0h10.0v5.0h-10.0zM999.0 427.0h5.0v5.0h-5.0zM844.0 477.0h5.0v5.0h-5.0zM859.0 477.0h5.0v5.0h-5.0zM864.0 482.0h5.0v5.0h-5.0zM864.0 487.0h5.0v5.0h-5.0zM824.0 587.0h5.0v5.0h-5.0zM859.0 587.0h5.0v5.0h-5.0zM819.0 592.0h5.0v5.0h-5.0zM869.0 592.0h5.0v5.0h-5.0zM814.0 597.0h5.0v5.0h-5.0zM809.0 602.0h5.0v5.0h-5.0zM869.0 602.0h5.0v5.0h-5.0zM809.0 607.0h5.0v5.0h-5.0zM814.0 612.0h5.0v5.0h-5.0zM859.0 612.0h5.0v5.0h-5.0zM824.0 617.0h15.0v5.0h-15.0zM849.0 617.0h10.0v5.0h-10.0zM1009.0 667.0h5.0v5.0h-5.0zM919.0 672.0h5.0v5.0h-5.0zM1014.0 672.0h5.0v5.0h-5.0zM1014.0 677.0h10.0v5.0h-10.0zM919.0 687.0h5.0v5.0h-5.0zM1009.0 687.0h5.0v5.0h-5.0zM929.0 697.0h5.0v5.0h-5.0zM824.0 702.0h5.0v5.0h-5.0zM839.0 702.0h5.0v5.0h-5.0zM944.0 702.0h5.0v5.0h-5.0zM984.0 702.0h10.0v5.0h-10.0zM844.0 707.0h5.0v5.0h-5.0zM959.0 707.0h20.0v5.0h-20.0zM729.0 717.0h30.0v5.0h-30.0zM849.0 717.0h5.0v5.0h-5.0zM729.0 722.0h30.0v5.0h-30.0zM849.0 722.0h5.0v5.0h-5.0zM819.0 742.0h5.0v5.0h-5.0zM839.0 747.0h5.0v5.0h-5.0z"/><path fill="#70ff90" d="M839.0 207.0h10.0v5.0h-10.0zM854.0 207.0h5.0v5.0h-5.0zM834.0 212.0h10.0v5.0h-10.0zM859.0 212.0h5.0v5.0h-5.0zM839.0 217.0h5.0v5.0h-5.0zM859.0 217.0h5.0v5.0h-5.0zM814.0 327.0h5.0v5.0h-5.0zM769.0 332.0h5.0v5.0h-5.0zM749.0 337.0h5.0v5.0h-5.0zM729.0 342.0h5.0v5.0h-5.0zM929.0 342.0h5.0v5.0h-5.0zM939.0 357.0h5.0v5.0h-5.0zM944.0 362.0h5.0v5.0h-5.0zM949.0 367.0h5.0v5.0h-5.0zM949.0 372.0h5.0v5.0h-5.0zM954.0 377.0h5.0v5.0h-5.0zM964.0 382.0h10.0v5.0h-10.0zM754.0 387.0h40.0v5.0h-40.0zM819.0 387.0h5.0v5.0h-5.0zM839.0 387.0h5.0v5.0h-5.0zM989.0 387.0h10.0v5.0h-10.0zM744.0 392.0h5.0v5.0h-5.0zM869.0 392.0h10.0v5.0h-10.0zM889.0 392.0h55.0v5.0h-55.0zM939.0 397.0h5.0v5.0h-5.0zM644.0 407.0h60.0v5.0h-60.0zM944.0 407.0h5.0v5.0h-5.0zM1009.0 407.0h5.0v5.0h-5.0zM949.0 412.0h5.0v5.0h-5.0zM1009.0 412.0h5.0v5.0h-5.0zM1004.0 422.0h5.0v5.0h-5.0zM994.0 427.0h5.0v5.0h-5.0zM854.0 477.0h5.0v5.0h-5.0zM859.0 482.0h5.0v5.0h-5.0zM844.0 487.0h5.0v5.0h-5.0zM859.0 487.0h5.0v5.0h-5.0zM854.0 587.0h5.0v5.0h-5.0zM864.0 592.0h5.0v5.0h-5.0zM869.0 597.0h5.0v5.0h-5.0zM814.0 602.0h5.0v5.0h-5.0zM814.0 607.0h5.0v5.0h-5.0zM864.0 607.0h5.0v5.0h-5.0zM819.0 612.0h5.0v5.0h-5.0zM854.0 612.0h5.0v5.0h-5.0zM939.0 662.0h5.0v5.0h-5.0zM919.0 677.0h5.0v5.0h-5.0zM919.0 682.0h5.0v5.0h-5.0zM924.0 692.0h5.0v5.0h-5.0zM934.0 697.0h5.0v5.0h-5.0zM999.0 697.0h5.0v5.0h-5.0zM949.0 702.0h10.0v5.0h-10.0zM979.0 702.0h5.0v5.0h-5.0zM819.0 707.0h5.0v5.0h-5.0zM814.0 717.0h5.0v5.0h-5.0zM814.0 732.0h5.0v5.0h-5.0zM824.0 747.0h5.0v5.0h-5.0zM834.0 752.0h5.0v5.0h-5.0z"/><path fill="#70ff88" d="M849.0 207.0h5.0v5.0h-5.0zM854.0 217.0h5.0v5.0h-5.0zM734.0 342.0h5.0v5.0h-5.0zM959.0 382.0h5.0v5.0h-5.0zM794.0 387.0h5.0v5.0h-5.0zM879.0 392.0h10.0v5.0h-10.0zM729.0 397.0h5.0v5.0h-5.0zM1004.0 397.0h5.0v5.0h-5.0zM714.0 402.0h5.0v5.0h-5.0zM969.0 422.0h5.0v5.0h-5.0zM844.0 482.0h5.0v5.0h-5.0zM829.0 587.0h5.0v5.0h-5.0zM864.0 602.0h5.0v5.0h-5.0zM824.0 612.0h5.0v5.0h-5.0zM1009.0 672.0h5.0v5.0h-5.0zM1009.0 682.0h5.0v5.0h-5.0zM1004.0 692.0h5.0v5.0h-5.0z"/><path fill="#58ffa0" d="M874.0 207.0h5.0v5.0h-5.0zM864.0 222.0h5.0v5.0h-5.0zM759.0 332.0h5.0v5.0h-5.0zM919.0 397.0h5.0v5.0h-5.0zM729.0 402.0h5.0v5.0h-5.0zM1009.0 422.0h5.0v5.0h-5.0zM874.0 607.0h5.0v5.0h-5.0zM804.0 612.0h5.0v5.0h-5.0zM914.0 682.0h5.0v5.0h-5.0zM829.0 697.0h10.0v5.0h-10.0zM759.0 707.0h5.0v5.0h-5.0zM944.0 707.0h5.0v5.0h-5.0zM764.0 712.0h5.0v5.0h-5.0zM734.0 732.0h25.0v5.0h-25.0z"/><path fill="#50ffa8" d="M879.0 207.0h5.0v5.0h-5.0zM829.0 222.0h5.0v5.0h-5.0zM899.0 327.0h5.0v5.0h-5.0zM729.0 337.0h5.0v5.0h-5.0zM944.0 347.0h5.0v5.0h-5.0zM959.0 362.0h5.0v5.0h-5.0zM734.0 402.0h5.0v5.0h-5.0zM1014.0 422.0h5.0v5.0h-5.0zM849.0 472.0h5.0v5.0h-5.0zM794.0 607.0h5.0v5.0h-5.0zM804.0 617.0h5.0v5.0h-5.0zM644.0 627.0h25.0v5.0h-25.0zM669.0 632.0h5.0v5.0h-5.0zM669.0 637.0h5.0v5.0h-5.0zM669.0 642.0h5.0v5.0h-5.0zM669.0 647.0h5.0v5.0h-5.0zM669.0 652.0h5.0v5.0h-5.0zM669.0 657.0h5.0v5.0h-5.0zM949.0 657.0h5.0v5.0h-5.0zM724.0 702.0h5.0v5.0h-5.0zM974.0 712.0h5.0v5.0h-5.0zM719.0 722.0h5.0v5.0h-5.0zM769.0 727.0h5.0v5.0h-5.0zM849.0 732.0h5.0v5.0h-5.0zM759.0 737.0h5.0v5.0h-5.0zM824.0 752.0h5.0v5.0h-5.0z"/><path fill="#78ff88" d="M844.0 212.0h15.0v5.0h-15.0zM844.0 217.0h10.0v5.0h-10.0zM819.0 327.0h5.0v5.0h-5.0zM774.0 332.0h5.0v5.0h-5.0zM754.0 337.0h5.0v5.0h-5.0zM919.0 337.0h5.0v5.0h-5.0zM739.0 342.0h5.0v5.0h-5.0zM934.0 352.0h5.0v5.0h-5.0zM939.0 362.0h5.0v5.0h-5.0zM944.0 367.0h5.0v5.0h-5.0zM949.0 377.0h5.0v5.0h-5.0zM829.0 382.0h5.0v5.0h-5.0zM949.0 382.0h10.0v5.0h-10.0zM749.0 387.0h5.0v5.0h-5.0zM799.0 387.0h20.0v5.0h-20.0zM934.0 387.0h15.0v5.0h-15.0zM979.0 387.0h10.0v5.0h-10.0zM739.0 392.0h5.0v5.0h-5.0zM944.0 392.0h5.0v5.0h-5.0zM999.0 392.0h5.0v5.0h-5.0zM944.0 397.0h5.0v5.0h-5.0zM709.0 402.0h5.0v5.0h-5.0zM944.0 402.0h5.0v5.0h-5.0zM959.0 417.0h5.0v5.0h-5.0zM974.0 422.0h5.0v5.0h-5.0zM849.0 477.0h5.0v5.0h-5.0zM854.0 482.0h5.0v5.0h-5.0zM854.0 487.0h5.0v5.0h-5.0zM834.0 587.0h5.0v5.0h-5.0zM844.0 587.0h10.0v5.0h-10.0zM824.0 592.0h5.0v5.0h-5.0zM859.0 592.0h5.0v5.0h-5.0zM819.0 597.0h5.0v5.0h-5.0zM864.0 597.0h5.0v5.0h-5.0zM819.0 602.0h5.0v5.0h-5.0zM819.0 607.0h5.0v5.0h-5.0zM859.0 607.0h5.0v5.0h-5.0zM829.0 612.0h5.0v5.0h-5.0zM849.0 612.0h5.0v5.0h-5.0zM944.0 662.0h15.0v5.0h-15.0zM999.0 662.0h5.0v5.0h-5.0zM929.0 667.0h5.0v5.0h-5.0zM924.0 672.0h5.0v5.0h-5.0zM1009.0 677.0h5.0v5.0h-5.0zM939.0 697.0h5.0v5.0h-5.0zM994.0 697.0h5.0v5.0h-5.0zM959.0 702.0h20.0v5.0h-20.0zM844.0 712.0h5.0v5.0h-5.0zM814.0 722.0h5.0v5.0h-5.0zM814.0 727.0h5.0v5.0h-5.0zM844.0 732.0h5.0v5.0h-5.0zM819.0 737.0h5.0v5.0h-5.0zM829.0 752.0h5.0v5.0h-5.0z"/><path fill="#68ff90" d="M864.0 212.0h5.0v5.0h-5.0zM864.0 392.0h5.0v5.0h-5.0zM719.0 402.0h5.0v5.0h-5.0zM964.0 422.0h5.0v5.0h-5.0zM839.0 617.0h10.0v5.0h-10.0zM934.0 662.0h5.0v5.0h-5.0zM924.0 667.0h5.0v5.0h-5.0zM814.0 712.0h5.0v5.0h-5.0z"/><path fill="#08fff0" d="M924.0 212.0h5.0v5.0h-5.0zM644.0 237.0h25.0v5.0h-25.0zM829.0 237.0h5.0v5.0h-5.0zM889.0 237.0h5.0v5.0h-5.0zM984.0 322.0h5.0v5.0h-5.0zM749.0 412.0h5.0v5.0h-5.0zM734.0 417.0h5.0v5.0h-5.0zM674.0 447.0h5.0v5.0h-5.0zM689.0 457.0h5.0v5.0h-5.0zM989.0 472.0h5.0v5.0h-5.0zM704.0 477.0h5.0v5.0h-5.0zM724.0 487.0h5.0v5.0h-5.0zM874.0 502.0h5.0v5.0h-5.0zM1009.0 547.0h5.0v5.0h-5.0zM1004.0 552.0h5.0v5.0h-5.0zM674.0 577.0h5.0v5.0h-5.0zM804.0 577.0h5.0v5.0h-5.0zM704.0 587.0h5.0v5.0h-5.0zM714.0 592.0h5.0v5.0h-5.0zM914.0 592.0h5.0v5.0h-5.0zM914.0 627.0h5.0v5.0h-5.0zM844.0 642.0h5.0v5.0h-5.0zM1004.0 647.0h5.0v5.0h-5.0zM854.0 677.0h10.0v5.0h-10.0zM784.0 682.0h5.0v5.0h-5.0zM849.0 682.0h10.0v5.0h-10.0zM804.0 687.0h5.0v5.0h-5.0zM859.0 687.0h5.0v5.0h-5.0zM684.0 752.0h5.0v5.0h-5.0zM679.0 767.0h5.0v5.0h-5.0zM764.0 767.0h5.0v5.0h-5.0zM674.0 782.0h5.0v5.0h-5.0zM999.0 802.0h5.0v5.0h-5.0zM704.0 812.0h5.0v5.0h-5.0zM719.0 822.0h5.0v5.0h-5.0zM944.0 822.0h5.0v5.0h-5.0zM729.0 827.0h5.0v5.0h-5.0zM944.0 827.0h5.0v5.0h-5.0zM944.0 832.0h5.0v5.0h-5.0zM944.0 837.0h5.0v5.0h-5.0z"/><path fill="#38ffc0" d="M769.0 217.0h5.0v5.0h-5.0zM759.0 222.0h5.0v5.0h-5.0zM754.0 227.0h5.0v5.0h-5.0zM769.0 227.0h5.0v5.0h-5.0zM979.0 367.0h5.0v5.0h-5.0zM994.0 377.0h5.0v5.0h-5.0zM869.0 397.0h5.0v5.0h-5.0zM969.0 437.0h5.0v5.0h-5.0zM789.0 592.0h5.0v5.0h-5.0zM644.0 602.0h20.0v5.0h-20.0zM774.0 602.0h5.0v5.0h-5.0zM674.0 612.0h5.0v5.0h-5.0zM774.0 612.0h5.0v5.0h-5.0zM784.0 622.0h5.0v5.0h-5.0zM819.0 627.0h5.0v5.0h-5.0zM704.0 652.0h5.0v5.0h-5.0zM909.0 662.0h5.0v5.0h-5.0zM704.0 667.0h5.0v5.0h-5.0zM749.0 687.0h5.0v5.0h-5.0zM774.0 692.0h5.0v5.0h-5.0zM789.0 702.0h20.0v5.0h-20.0zM849.0 702.0h5.0v5.0h-5.0zM999.0 712.0h5.0v5.0h-5.0zM709.0 727.0h5.0v5.0h-5.0zM764.0 747.0h5.0v5.0h-5.0zM999.0 817.0h5.0v5.0h-5.0zM1014.0 822.0h10.0v5.0h-10.0z"/><path fill="#60ff98" d="M829.0 217.0h5.0v5.0h-5.0zM699.0 342.0h5.0v5.0h-5.0zM954.0 367.0h5.0v5.0h-5.0zM1004.0 392.0h5.0v5.0h-5.0zM929.0 397.0h5.0v5.0h-5.0zM724.0 402.0h5.0v5.0h-5.0zM979.0 427.0h5.0v5.0h-5.0zM809.0 597.0h5.0v5.0h-5.0zM869.0 607.0h5.0v5.0h-5.0zM864.0 612.0h5.0v5.0h-5.0zM939.0 702.0h5.0v5.0h-5.0zM734.0 712.0h25.0v5.0h-25.0zM759.0 717.0h5.0v5.0h-5.0zM809.0 722.0h5.0v5.0h-5.0zM844.0 737.0h5.0v5.0h-5.0z"/><path fill="#0088ff" d="M849.0 252.0h5.0v5.0h-5.0zM819.0 257.0h15.0v5.0h-15.0zM789.0 262.0h5.0v5.0h-5.0zM769.0 267.0h5.0v5.0h-5.0zM749.0 277.0h10.0v5.0h-10.0zM739.0 282.0h10.0v5.0h-10.0zM929.0 282.0h5.0v5.0h-5.0zM729.0 287.0h10.0v5.0h-10.0zM734.0 292.0h5.0v5.0h-5.0zM739.0 297.0h5.0v5.0h-5.0zM929.0 297.0h5.0v5.0h-5.0zM754.0 302.0h5.0v5.0h-5.0zM769.0 307.0h5.0v5.0h-5.0zM909.0 307.0h5.0v5.0h-5.0zM784.0 312.0h5.0v5.0h-5.0zM819.0 417.0h5.0v5.0h-5.0zM869.0 417.0h5.0v5.0h-5.0zM799.0 422.0h5.0v5.0h-5.0zM789.0 427.0h5.0v5.0h-5.0zM889.0 427.0h5.0v5.0h-5.0zM779.0 437.0h5.0v5.0h-5.0zM889.0 437.0h5.0v5.0h-5.0zM784.0 442.0h5.0v5.0h-5.0zM884.0 442.0h5.0v5.0h-5.0zM799.0 447.0h5.0v5.0h-5.0zM869.0 447.0h5.0v5.0h-5.0zM964.0 502.0h10.0v5.0h-10.0zM959.0 507.0h20.0v5.0h-20.0zM829.0 522.0h5.0v5.0h-5.0zM824.0 527.0h5.0v5.0h-5.0zM839.0 527.0h5.0v5.0h-5.0zM824.0 532.0h5.0v5.0h-5.0zM854.0 532.0h5.0v5.0h-5.0zM864.0 537.0h5.0v5.0h-5.0zM824.0 542.0h5.0v5.0h-5.0zM869.0 542.0h5.0v5.0h-5.0zM864.0 547.0h10.0v5.0h-10.0zM839.0 552.0h5.0v5.0h-5.0zM854.0 552.0h10.0v5.0h-10.0z"/><path fill="#0080ff" d="M834.0 257.0h5.0v5.0h-5.0zM889.0 257.0h5.0v5.0h-5.0zM794.0 262.0h5.0v5.0h-5.0zM904.0 262.0h5.0v5.0h-5.0zM774.0 267.0h5.0v5.0h-5.0zM914.0 267.0h5.0v5.0h-5.0zM764.0 272.0h5.0v5.0h-5.0zM759.0 277.0h5.0v5.0h-5.0zM749.0 282.0h5.0v5.0h-5.0zM739.0 287.0h10.0v5.0h-10.0zM929.0 287.0h5.0v5.0h-5.0zM739.0 292.0h10.0v5.0h-10.0zM929.0 292.0h5.0v5.0h-5.0zM744.0 297.0h5.0v5.0h-5.0zM759.0 302.0h5.0v5.0h-5.0zM919.0 302.0h5.0v5.0h-5.0zM789.0 312.0h5.0v5.0h-5.0zM829.0 312.0h10.0v5.0h-10.0zM889.0 312.0h5.0v5.0h-5.0zM824.0 417.0h5.0v5.0h-5.0zM864.0 417.0h5.0v5.0h-5.0zM804.0 422.0h10.0v5.0h-10.0zM879.0 422.0h5.0v5.0h-5.0zM794.0 427.0h5.0v5.0h-5.0zM784.0 432.0h5.0v5.0h-5.0zM889.0 432.0h5.0v5.0h-5.0zM784.0 437.0h5.0v5.0h-5.0zM789.0 442.0h5.0v5.0h-5.0zM804.0 447.0h10.0v5.0h-10.0zM859.0 447.0h10.0v5.0h-10.0zM844.0 532.0h10.0v5.0h-10.0zM824.0 537.0h5.0v5.0h-5.0zM859.0 537.0h5.0v5.0h-5.0zM864.0 542.0h5.0v5.0h-5.0zM829.0 547.0h5.0v5.0h-5.0zM859.0 547.0h5.0v5.0h-5.0zM844.0 552.0h10.0v5.0h-10.0z"/><path fill="#0068ff" d="M839.0 257.0h5.0v5.0h-5.0zM879.0 257.0h5.0v5.0h-5.0zM809.0 262.0h5.0v5.0h-5.0zM784.0 267.0h5.0v5.0h-5.0zM909.0 267.0h5.0v5.0h-5.0zM774.0 272.0h5.0v5.0h-5.0zM769.0 277.0h5.0v5.0h-5.0zM919.0 277.0h5.0v5.0h-5.0zM764.0 282.0h5.0v5.0h-5.0zM759.0 287.0h5.0v5.0h-5.0zM924.0 287.0h5.0v5.0h-5.0zM759.0 292.0h5.0v5.0h-5.0zM924.0 292.0h5.0v5.0h-5.0zM769.0 302.0h5.0v5.0h-5.0zM899.0 307.0h5.0v5.0h-5.0zM814.0 312.0h10.0v5.0h-10.0zM879.0 312.0h5.0v5.0h-5.0zM844.0 417.0h10.0v5.0h-10.0zM824.0 422.0h5.0v5.0h-5.0zM869.0 422.0h5.0v5.0h-5.0zM809.0 427.0h5.0v5.0h-5.0zM879.0 427.0h5.0v5.0h-5.0zM804.0 432.0h5.0v5.0h-5.0zM799.0 437.0h10.0v5.0h-10.0zM879.0 437.0h5.0v5.0h-5.0zM809.0 442.0h5.0v5.0h-5.0zM869.0 442.0h5.0v5.0h-5.0zM834.0 447.0h5.0v5.0h-5.0zM829.0 537.0h5.0v5.0h-5.0zM839.0 537.0h10.0v5.0h-10.0zM834.0 542.0h20.0v5.0h-20.0z"/><path fill="#0058ff" d="M844.0 257.0h5.0v5.0h-5.0zM859.0 257.0h10.0v5.0h-10.0zM819.0 262.0h15.0v5.0h-15.0zM889.0 262.0h5.0v5.0h-5.0zM794.0 267.0h5.0v5.0h-5.0zM904.0 267.0h5.0v5.0h-5.0zM774.0 277.0h5.0v5.0h-5.0zM769.0 282.0h5.0v5.0h-5.0zM919.0 282.0h5.0v5.0h-5.0zM769.0 287.0h5.0v5.0h-5.0zM919.0 292.0h5.0v5.0h-5.0zM769.0 297.0h5.0v5.0h-5.0zM789.0 307.0h5.0v5.0h-5.0zM894.0 307.0h5.0v5.0h-5.0zM849.0 312.0h15.0v5.0h-15.0zM834.0 422.0h5.0v5.0h-5.0zM859.0 422.0h5.0v5.0h-5.0zM819.0 427.0h5.0v5.0h-5.0zM874.0 427.0h5.0v5.0h-5.0zM814.0 432.0h5.0v5.0h-5.0zM814.0 437.0h5.0v5.0h-5.0zM874.0 437.0h5.0v5.0h-5.0zM824.0 442.0h5.0v5.0h-5.0zM859.0 442.0h5.0v5.0h-5.0z"/><path fill="#0050ff" d="M849.0 257.0h10.0v5.0h-10.0zM834.0 262.0h5.0v5.0h-5.0zM799.0 267.0h5.0v5.0h-5.0zM784.0 272.0h5.0v5.0h-5.0zM909.0 272.0h5.0v5.0h-5.0zM779.0 277.0h5.0v5.0h-5.0zM914.0 277.0h5.0v5.0h-5.0zM774.0 282.0h5.0v5.0h-5.0zM919.0 287.0h5.0v5.0h-5.0zM769.0 292.0h5.0v5.0h-5.0zM774.0 297.0h5.0v5.0h-5.0zM914.0 297.0h5.0v5.0h-5.0zM779.0 302.0h5.0v5.0h-5.0zM904.0 302.0h5.0v5.0h-5.0zM794.0 307.0h5.0v5.0h-5.0zM824.0 427.0h5.0v5.0h-5.0zM869.0 427.0h5.0v5.0h-5.0zM819.0 432.0h5.0v5.0h-5.0zM874.0 432.0h5.0v5.0h-5.0zM819.0 437.0h5.0v5.0h-5.0zM869.0 437.0h5.0v5.0h-5.0zM829.0 442.0h10.0v5.0h-10.0zM854.0 442.0h5.0v5.0h-5.0z"/><path fill="#0060ff" d="M869.0 257.0h10.0v5.0h-10.0zM814.0 262.0h5.0v5.0h-5.0zM894.0 262.0h5.0v5.0h-5.0zM789.0 267.0h5.0v5.0h-5.0zM779.0 272.0h5.0v5.0h-5.0zM914.0 272.0h5.0v5.0h-5.0zM764.0 287.0h5.0v5.0h-5.0zM764.0 292.0h5.0v5.0h-5.0zM764.0 297.0h5.0v5.0h-5.0zM919.0 297.0h5.0v5.0h-5.0zM774.0 302.0h5.0v5.0h-5.0zM909.0 302.0h5.0v5.0h-5.0zM784.0 307.0h5.0v5.0h-5.0zM844.0 312.0h5.0v5.0h-5.0zM864.0 312.0h15.0v5.0h-15.0zM829.0 422.0h5.0v5.0h-5.0zM864.0 422.0h5.0v5.0h-5.0zM814.0 427.0h5.0v5.0h-5.0zM809.0 432.0h5.0v5.0h-5.0zM879.0 432.0h5.0v5.0h-5.0zM809.0 437.0h5.0v5.0h-5.0zM814.0 442.0h10.0v5.0h-10.0zM864.0 442.0h5.0v5.0h-5.0zM834.0 537.0h5.0v5.0h-5.0z"/><path fill="#0078ff" d="M884.0 257.0h5.0v5.0h-5.0zM799.0 262.0h5.0v5.0h-5.0zM779.0 267.0h5.0v5.0h-5.0zM769.0 272.0h5.0v5.0h-5.0zM919.0 272.0h5.0v5.0h-5.0zM924.0 277.0h5.0v5.0h-5.0zM754.0 282.0h5.0v5.0h-5.0zM749.0 287.0h5.0v5.0h-5.0zM749.0 292.0h5.0v5.0h-5.0zM749.0 297.0h10.0v5.0h-10.0zM924.0 297.0h5.0v5.0h-5.0zM764.0 302.0h5.0v5.0h-5.0zM774.0 307.0h5.0v5.0h-5.0zM904.0 307.0h5.0v5.0h-5.0zM794.0 312.0h10.0v5.0h-10.0zM824.0 312.0h5.0v5.0h-5.0zM884.0 312.0h5.0v5.0h-5.0zM829.0 417.0h5.0v5.0h-5.0zM859.0 417.0h5.0v5.0h-5.0zM814.0 422.0h5.0v5.0h-5.0zM799.0 427.0h5.0v5.0h-5.0zM884.0 427.0h5.0v5.0h-5.0zM789.0 432.0h10.0v5.0h-10.0zM789.0 437.0h5.0v5.0h-5.0zM884.0 437.0h5.0v5.0h-5.0zM794.0 442.0h10.0v5.0h-10.0zM879.0 442.0h5.0v5.0h-5.0zM814.0 447.0h10.0v5.0h-10.0zM854.0 447.0h5.0v5.0h-5.0zM829.0 527.0h10.0v5.0h-10.0zM854.0 537.0h5.0v5.0h-5.0zM859.0 542.0h5.0v5.0h-5.0zM834.0 547.0h5.0v5.0h-5.0zM854.0 547.0h5.0v5.0h-5.0z"/><path fill="#0070ff" d="M804.0 262.0h5.0v5.0h-5.0zM899.0 262.0h5.0v5.0h-5.0zM764.0 277.0h5.0v5.0h-5.0zM759.0 282.0h5.0v5.0h-5.0zM924.0 282.0h5.0v5.0h-5.0zM754.0 287.0h5.0v5.0h-5.0zM754.0 292.0h5.0v5.0h-5.0zM759.0 297.0h5.0v5.0h-5.0zM914.0 302.0h5.0v5.0h-5.0zM779.0 307.0h5.0v5.0h-5.0zM804.0 312.0h10.0v5.0h-10.0zM839.0 312.0h5.0v5.0h-5.0zM834.0 417.0h10.0v5.0h-10.0zM854.0 417.0h5.0v5.0h-5.0zM819.0 422.0h5.0v5.0h-5.0zM874.0 422.0h5.0v5.0h-5.0zM804.0 427.0h5.0v5.0h-5.0zM799.0 432.0h5.0v5.0h-5.0zM884.0 432.0h5.0v5.0h-5.0zM794.0 437.0h5.0v5.0h-5.0zM804.0 442.0h5.0v5.0h-5.0zM874.0 442.0h5.0v5.0h-5.0zM824.0 447.0h10.0v5.0h-10.0zM839.0 447.0h15.0v5.0h-15.0zM829.0 532.0h15.0v5.0h-15.0zM849.0 537.0h5.0v5.0h-5.0zM829.0 542.0h5.0v5.0h-5.0zM854.0 542.0h5.0v5.0h-5.0zM839.0 547.0h15.0v5.0h-15.0z"/><path fill="#0038ff" d="M839.0 262.0h5.0v5.0h-5.0zM879.0 262.0h5.0v5.0h-5.0zM809.0 267.0h5.0v5.0h-5.0zM894.0 267.0h5.0v5.0h-5.0zM794.0 272.0h5.0v5.0h-5.0zM909.0 277.0h5.0v5.0h-5.0zM784.0 282.0h5.0v5.0h-5.0zM914.0 287.0h5.0v5.0h-5.0zM784.0 297.0h5.0v5.0h-5.0zM909.0 297.0h5.0v5.0h-5.0zM794.0 302.0h5.0v5.0h-5.0zM809.0 307.0h5.0v5.0h-5.0zM824.0 307.0h5.0v5.0h-5.0zM834.0 307.0h5.0v5.0h-5.0zM884.0 307.0h5.0v5.0h-5.0zM859.0 427.0h5.0v5.0h-5.0zM834.0 432.0h5.0v5.0h-5.0zM859.0 432.0h5.0v5.0h-5.0zM834.0 437.0h5.0v5.0h-5.0zM854.0 437.0h5.0v5.0h-5.0z"/><path fill="#0028ff" d="M844.0 262.0h5.0v5.0h-5.0zM864.0 262.0h10.0v5.0h-10.0zM824.0 267.0h10.0v5.0h-10.0zM889.0 267.0h5.0v5.0h-5.0zM804.0 272.0h5.0v5.0h-5.0zM899.0 272.0h5.0v5.0h-5.0zM794.0 277.0h5.0v5.0h-5.0zM904.0 277.0h5.0v5.0h-5.0zM789.0 282.0h5.0v5.0h-5.0zM909.0 282.0h5.0v5.0h-5.0zM789.0 287.0h5.0v5.0h-5.0zM789.0 292.0h5.0v5.0h-5.0zM909.0 292.0h5.0v5.0h-5.0zM794.0 297.0h5.0v5.0h-5.0zM904.0 297.0h5.0v5.0h-5.0zM799.0 302.0h5.0v5.0h-5.0zM839.0 307.0h5.0v5.0h-5.0zM879.0 307.0h5.0v5.0h-5.0zM844.0 427.0h10.0v5.0h-10.0zM839.0 432.0h5.0v5.0h-5.0zM854.0 432.0h5.0v5.0h-5.0z"/><path fill="#0018ff" d="M849.0 262.0h5.0v5.0h-5.0zM884.0 267.0h5.0v5.0h-5.0zM814.0 272.0h5.0v5.0h-5.0zM894.0 272.0h5.0v5.0h-5.0zM804.0 277.0h5.0v5.0h-5.0zM899.0 277.0h5.0v5.0h-5.0zM799.0 282.0h5.0v5.0h-5.0zM904.0 282.0h5.0v5.0h-5.0zM794.0 287.0h5.0v5.0h-5.0zM904.0 292.0h5.0v5.0h-5.0zM799.0 297.0h5.0v5.0h-5.0zM899.0 297.0h5.0v5.0h-5.0zM809.0 302.0h5.0v5.0h-5.0zM829.0 302.0h5.0v5.0h-5.0zM864.0 307.0h5.0v5.0h-5.0z"/><path fill="#0020ff" d="M854.0 262.0h10.0v5.0h-10.0zM834.0 267.0h5.0v5.0h-5.0zM809.0 272.0h5.0v5.0h-5.0zM799.0 277.0h5.0v5.0h-5.0zM794.0 282.0h5.0v5.0h-5.0zM909.0 287.0h5.0v5.0h-5.0zM794.0 292.0h5.0v5.0h-5.0zM804.0 302.0h5.0v5.0h-5.0zM889.0 302.0h5.0v5.0h-5.0zM869.0 307.0h10.0v5.0h-10.0zM844.0 432.0h10.0v5.0h-10.0z"/><path fill="#0030ff" d="M874.0 262.0h5.0v5.0h-5.0zM814.0 267.0h10.0v5.0h-10.0zM799.0 272.0h5.0v5.0h-5.0zM789.0 277.0h5.0v5.0h-5.0zM784.0 287.0h5.0v5.0h-5.0zM784.0 292.0h5.0v5.0h-5.0zM789.0 297.0h5.0v5.0h-5.0zM894.0 302.0h5.0v5.0h-5.0zM814.0 307.0h10.0v5.0h-10.0zM839.0 427.0h5.0v5.0h-5.0zM854.0 427.0h5.0v5.0h-5.0zM839.0 437.0h15.0v5.0h-15.0z"/><path fill="#0048ff" d="M884.0 262.0h5.0v5.0h-5.0zM899.0 267.0h5.0v5.0h-5.0zM789.0 272.0h5.0v5.0h-5.0zM774.0 287.0h5.0v5.0h-5.0zM774.0 292.0h5.0v5.0h-5.0zM784.0 302.0h5.0v5.0h-5.0zM799.0 307.0h5.0v5.0h-5.0zM889.0 307.0h5.0v5.0h-5.0zM839.0 422.0h5.0v5.0h-5.0zM854.0 422.0h5.0v5.0h-5.0zM829.0 427.0h5.0v5.0h-5.0zM864.0 427.0h5.0v5.0h-5.0zM824.0 432.0h5.0v5.0h-5.0zM869.0 432.0h5.0v5.0h-5.0zM824.0 437.0h5.0v5.0h-5.0zM864.0 437.0h5.0v5.0h-5.0zM839.0 442.0h15.0v5.0h-15.0z"/><path fill="#0040ff" d="M804.0 267.0h5.0v5.0h-5.0zM904.0 272.0h5.0v5.0h-5.0zM784.0 277.0h5.0v5.0h-5.0zM779.0 282.0h5.0v5.0h-5.0zM914.0 282.0h5.0v5.0h-5.0zM779.0 287.0h5.0v5.0h-5.0zM779.0 292.0h5.0v5.0h-5.0zM914.0 292.0h5.0v5.0h-5.0zM779.0 297.0h5.0v5.0h-5.0zM789.0 302.0h5.0v5.0h-5.0zM899.0 302.0h5.0v5.0h-5.0zM804.0 307.0h5.0v5.0h-5.0zM829.0 307.0h5.0v5.0h-5.0zM844.0 422.0h10.0v5.0h-10.0zM834.0 427.0h5.0v5.0h-5.0zM829.0 432.0h5.0v5.0h-5.0zM864.0 432.0h5.0v5.0h-5.0zM829.0 437.0h5.0v5.0h-5.0zM859.0 437.0h5.0v5.0h-5.0z"/><path fill="#0010ff" d="M839.0 267.0h5.0v5.0h-5.0zM819.0 272.0h15.0v5.0h-15.0zM799.0 287.0h5.0v5.0h-5.0zM904.0 287.0h5.0v5.0h-5.0zM799.0 292.0h5.0v5.0h-5.0zM804.0 297.0h5.0v5.0h-5.0zM814.0 302.0h15.0v5.0h-15.0zM834.0 302.0h5.0v5.0h-5.0zM884.0 302.0h5.0v5.0h-5.0zM844.0 307.0h5.0v5.0h-5.0zM854.0 307.0h10.0v5.0h-10.0z"/><path fill="#0000f8" d="M844.0 267.0h5.0v5.0h-5.0zM859.0 267.0h10.0v5.0h-10.0zM884.0 272.0h5.0v5.0h-5.0zM819.0 277.0h15.0v5.0h-15.0zM889.0 277.0h5.0v5.0h-5.0zM814.0 282.0h5.0v5.0h-5.0zM894.0 282.0h5.0v5.0h-5.0zM814.0 292.0h5.0v5.0h-5.0zM829.0 292.0h5.0v5.0h-5.0zM894.0 292.0h5.0v5.0h-5.0zM819.0 297.0h10.0v5.0h-10.0zM889.0 297.0h5.0v5.0h-5.0zM839.0 302.0h5.0v5.0h-5.0z"/><path fill="#0000f0" d="M849.0 267.0h10.0v5.0h-10.0zM839.0 272.0h5.0v5.0h-5.0zM834.0 277.0h5.0v5.0h-5.0zM819.0 282.0h15.0v5.0h-15.0zM814.0 287.0h20.0v5.0h-20.0zM894.0 287.0h5.0v5.0h-5.0zM819.0 292.0h10.0v5.0h-10.0zM834.0 297.0h5.0v5.0h-5.0zM884.0 297.0h5.0v5.0h-5.0zM869.0 302.0h10.0v5.0h-10.0z"/><path fill="#0000ff" d="M869.0 267.0h10.0v5.0h-10.0zM834.0 272.0h5.0v5.0h-5.0zM814.0 277.0h5.0v5.0h-5.0zM809.0 282.0h5.0v5.0h-5.0zM809.0 287.0h5.0v5.0h-5.0zM899.0 287.0h5.0v5.0h-5.0zM809.0 292.0h5.0v5.0h-5.0zM814.0 297.0h5.0v5.0h-5.0zM829.0 297.0h5.0v5.0h-5.0zM879.0 302.0h5.0v5.0h-5.0z"/><path fill="#0008ff" d="M879.0 267.0h5.0v5.0h-5.0zM889.0 272.0h5.0v5.0h-5.0zM809.0 277.0h5.0v5.0h-5.0zM894.0 277.0h5.0v5.0h-5.0zM804.0 282.0h5.0v5.0h-5.0zM899.0 282.0h5.0v5.0h-5.0zM804.0 287.0h5.0v5.0h-5.0zM804.0 292.0h5.0v5.0h-5.0zM899.0 292.0h5.0v5.0h-5.0zM809.0 297.0h5.0v5.0h-5.0zM894.0 297.0h5.0v5.0h-5.0zM849.0 307.0h5.0v5.0h-5.0z"/><path fill="#0000e0" d="M844.0 272.0h5.0v5.0h-5.0zM869.0 272.0h10.0v5.0h-10.0zM884.0 282.0h5.0v5.0h-5.0zM884.0 292.0h5.0v5.0h-5.0zM879.0 297.0h5.0v5.0h-5.0zM844.0 302.0h5.0v5.0h-5.0zM859.0 302.0h5.0v5.0h-5.0z"/><path fill="#0000d0" d="M849.0 272.0h5.0v5.0h-5.0zM869.0 277.0h10.0v5.0h-10.0zM839.0 282.0h5.0v5.0h-5.0zM879.0 282.0h5.0v5.0h-5.0zM839.0 287.0h5.0v5.0h-5.0zM839.0 292.0h5.0v5.0h-5.0zM879.0 292.0h5.0v5.0h-5.0zM869.0 297.0h5.0v5.0h-5.0z"/><path fill="#0000d8" d="M854.0 272.0h15.0v5.0h-15.0zM839.0 277.0h5.0v5.0h-5.0zM879.0 277.0h5.0v5.0h-5.0zM884.0 287.0h5.0v5.0h-5.0zM839.0 297.0h5.0v5.0h-5.0zM874.0 297.0h5.0v5.0h-5.0zM849.0 302.0h10.0v5.0h-10.0z"/><path fill="#0000e8" d="M879.0 272.0h5.0v5.0h-5.0zM884.0 277.0h5.0v5.0h-5.0zM834.0 282.0h5.0v5.0h-5.0zM889.0 282.0h5.0v5.0h-5.0zM834.0 287.0h5.0v5.0h-5.0zM889.0 287.0h5.0v5.0h-5.0zM834.0 292.0h5.0v5.0h-5.0zM889.0 292.0h5.0v5.0h-5.0zM864.0 302.0h5.0v5.0h-5.0z"/><path fill="#0000c8" d="M844.0 277.0h5.0v5.0h-5.0zM859.0 277.0h10.0v5.0h-10.0zM874.0 282.0h5.0v5.0h-5.0zM879.0 287.0h5.0v5.0h-5.0zM874.0 292.0h5.0v5.0h-5.0zM864.0 297.0h5.0v5.0h-5.0z"/><path fill="#0000c0" d="M849.0 277.0h10.0v5.0h-10.0zM844.0 282.0h5.0v5.0h-5.0zM864.0 282.0h10.0v5.0h-10.0zM869.0 287.0h10.0v5.0h-10.0zM869.0 292.0h5.0v5.0h-5.0zM844.0 297.0h5.0v5.0h-5.0zM859.0 297.0h5.0v5.0h-5.0z"/><path fill="#0000b0" d="M849.0 282.0h5.0v5.0h-5.0zM854.0 287.0h10.0v5.0h-10.0zM849.0 292.0h10.0v5.0h-10.0z"/><path fill="#0000b8" d="M854.0 282.0h10.0v5.0h-10.0zM844.0 287.0h5.0v5.0h-5.0zM864.0 287.0h5.0v5.0h-5.0zM844.0 292.0h5.0v5.0h-5.0zM859.0 292.0h10.0v5.0h-10.0zM849.0 297.0h10.0v5.0h-10.0z"/><path fill="#0000a8" d="M849.0 287.0h5.0v5.0h-5.0z"/><path fill="#80ff80" d="M824.0 327.0h5.0v5.0h-5.0zM889.0 327.0h5.0v5.0h-5.0zM779.0 332.0h5.0v5.0h-5.0zM904.0 332.0h5.0v5.0h-5.0zM759.0 337.0h5.0v5.0h-5.0zM744.0 342.0h5.0v5.0h-5.0zM644.0 347.0h85.0v5.0h-85.0zM939.0 367.0h5.0v5.0h-5.0zM944.0 377.0h5.0v5.0h-5.0zM754.0 382.0h15.0v5.0h-15.0zM939.0 382.0h5.0v5.0h-5.0zM744.0 387.0h5.0v5.0h-5.0zM929.0 387.0h5.0v5.0h-5.0zM954.0 387.0h25.0v5.0h-25.0zM734.0 392.0h5.0v5.0h-5.0zM949.0 392.0h5.0v5.0h-5.0zM704.0 402.0h5.0v5.0h-5.0zM1004.0 402.0h5.0v5.0h-5.0zM949.0 407.0h5.0v5.0h-5.0zM954.0 412.0h5.0v5.0h-5.0zM1004.0 417.0h5.0v5.0h-5.0zM984.0 422.0h10.0v5.0h-10.0zM999.0 422.0h5.0v5.0h-5.0zM849.0 482.0h5.0v5.0h-5.0zM854.0 592.0h5.0v5.0h-5.0zM824.0 597.0h5.0v5.0h-5.0zM859.0 597.0h5.0v5.0h-5.0zM859.0 602.0h5.0v5.0h-5.0zM824.0 607.0h5.0v5.0h-5.0zM854.0 607.0h5.0v5.0h-5.0zM959.0 662.0h40.0v5.0h-40.0zM1004.0 667.0h5.0v5.0h-5.0zM924.0 687.0h5.0v5.0h-5.0zM929.0 692.0h5.0v5.0h-5.0zM944.0 697.0h10.0v5.0h-10.0zM984.0 697.0h10.0v5.0h-10.0zM819.0 712.0h5.0v5.0h-5.0zM844.0 727.0h5.0v5.0h-5.0zM839.0 742.0h5.0v5.0h-5.0z"/><path fill="#88ff78" d="M829.0 327.0h5.0v5.0h-5.0zM749.0 342.0h5.0v5.0h-5.0zM924.0 342.0h5.0v5.0h-5.0zM734.0 347.0h5.0v5.0h-5.0zM929.0 347.0h5.0v5.0h-5.0zM934.0 357.0h5.0v5.0h-5.0zM939.0 372.0h5.0v5.0h-5.0zM939.0 377.0h5.0v5.0h-5.0zM749.0 382.0h5.0v5.0h-5.0zM769.0 382.0h5.0v5.0h-5.0zM834.0 382.0h5.0v5.0h-5.0zM934.0 382.0h5.0v5.0h-5.0zM739.0 387.0h5.0v5.0h-5.0zM919.0 387.0h10.0v5.0h-10.0zM729.0 392.0h5.0v5.0h-5.0zM954.0 392.0h5.0v5.0h-5.0zM989.0 392.0h10.0v5.0h-10.0zM719.0 397.0h5.0v5.0h-5.0zM949.0 397.0h5.0v5.0h-5.0zM644.0 402.0h45.0v5.0h-45.0zM699.0 402.0h5.0v5.0h-5.0zM949.0 402.0h5.0v5.0h-5.0zM1004.0 407.0h5.0v5.0h-5.0zM1004.0 412.0h5.0v5.0h-5.0zM994.0 422.0h5.0v5.0h-5.0zM829.0 592.0h5.0v5.0h-5.0zM849.0 592.0h5.0v5.0h-5.0zM854.0 597.0h5.0v5.0h-5.0zM854.0 602.0h5.0v5.0h-5.0zM829.0 607.0h25.0v5.0h-25.0zM934.0 667.0h5.0v5.0h-5.0zM924.0 677.0h5.0v5.0h-5.0zM924.0 682.0h5.0v5.0h-5.0zM1004.0 687.0h5.0v5.0h-5.0zM954.0 697.0h5.0v5.0h-5.0zM979.0 697.0h5.0v5.0h-5.0zM844.0 722.0h5.0v5.0h-5.0zM819.0 732.0h5.0v5.0h-5.0z"/><path fill="#98ff68" d="M834.0 327.0h5.0v5.0h-5.0zM789.0 332.0h5.0v5.0h-5.0zM899.0 332.0h5.0v5.0h-5.0zM749.0 347.0h5.0v5.0h-5.0zM709.0 352.0h30.0v5.0h-30.0zM929.0 352.0h5.0v5.0h-5.0zM934.0 367.0h5.0v5.0h-5.0zM934.0 372.0h5.0v5.0h-5.0zM749.0 377.0h5.0v5.0h-5.0zM764.0 377.0h5.0v5.0h-5.0zM739.0 382.0h5.0v5.0h-5.0zM784.0 382.0h5.0v5.0h-5.0zM929.0 382.0h5.0v5.0h-5.0zM729.0 387.0h5.0v5.0h-5.0zM904.0 387.0h10.0v5.0h-10.0zM719.0 392.0h5.0v5.0h-5.0zM964.0 392.0h15.0v5.0h-15.0zM709.0 397.0h5.0v5.0h-5.0zM994.0 397.0h5.0v5.0h-5.0zM999.0 402.0h5.0v5.0h-5.0zM984.0 417.0h15.0v5.0h-15.0zM834.0 597.0h15.0v5.0h-15.0zM944.0 667.0h5.0v5.0h-5.0zM929.0 677.0h5.0v5.0h-5.0zM1004.0 682.0h5.0v5.0h-5.0zM929.0 687.0h5.0v5.0h-5.0zM939.0 692.0h5.0v5.0h-5.0zM839.0 737.0h5.0v5.0h-5.0z"/><path fill="#b0ff50" d="M839.0 327.0h5.0v5.0h-5.0zM799.0 332.0h5.0v5.0h-5.0zM894.0 332.0h5.0v5.0h-5.0zM774.0 337.0h5.0v5.0h-5.0zM764.0 342.0h5.0v5.0h-5.0zM759.0 347.0h5.0v5.0h-5.0zM709.0 357.0h10.0v5.0h-10.0zM744.0 357.0h10.0v5.0h-10.0zM724.0 362.0h35.0v5.0h-35.0zM929.0 362.0h5.0v5.0h-5.0zM734.0 367.0h15.0v5.0h-15.0zM759.0 367.0h5.0v5.0h-5.0zM734.0 372.0h10.0v5.0h-10.0zM764.0 372.0h5.0v5.0h-5.0zM734.0 377.0h5.0v5.0h-5.0zM774.0 377.0h5.0v5.0h-5.0zM829.0 377.0h5.0v5.0h-5.0zM809.0 382.0h5.0v5.0h-5.0zM919.0 382.0h5.0v5.0h-5.0zM719.0 387.0h5.0v5.0h-5.0zM864.0 387.0h10.0v5.0h-10.0zM884.0 387.0h5.0v5.0h-5.0zM644.0 392.0h35.0v5.0h-35.0zM709.0 392.0h5.0v5.0h-5.0zM969.0 397.0h5.0v5.0h-5.0zM964.0 402.0h5.0v5.0h-5.0zM979.0 402.0h15.0v5.0h-15.0zM994.0 407.0h5.0v5.0h-5.0zM964.0 667.0h30.0v5.0h-30.0zM939.0 672.0h5.0v5.0h-5.0zM934.0 677.0h5.0v5.0h-5.0zM934.0 682.0h5.0v5.0h-5.0zM959.0 692.0h5.0v5.0h-5.0zM974.0 692.0h5.0v5.0h-5.0zM839.0 732.0h5.0v5.0h-5.0z"/><path fill="#c8ff38" d="M844.0 327.0h5.0v5.0h-5.0zM859.0 327.0h5.0v5.0h-5.0zM809.0 332.0h5.0v5.0h-5.0zM769.0 342.0h5.0v5.0h-5.0zM764.0 347.0h5.0v5.0h-5.0zM924.0 357.0h5.0v5.0h-5.0zM644.0 362.0h35.0v5.0h-35.0zM704.0 362.0h10.0v5.0h-10.0zM714.0 367.0h5.0v5.0h-5.0zM764.0 367.0h5.0v5.0h-5.0zM719.0 372.0h5.0v5.0h-5.0zM719.0 377.0h5.0v5.0h-5.0zM789.0 377.0h5.0v5.0h-5.0zM824.0 377.0h5.0v5.0h-5.0zM714.0 382.0h5.0v5.0h-5.0zM909.0 382.0h5.0v5.0h-5.0zM679.0 387.0h5.0v5.0h-5.0zM959.0 672.0h5.0v5.0h-5.0zM989.0 672.0h10.0v5.0h-10.0zM944.0 677.0h5.0v5.0h-5.0zM944.0 682.0h5.0v5.0h-5.0zM954.0 687.0h5.0v5.0h-5.0zM979.0 687.0h10.0v5.0h-10.0zM824.0 722.0h5.0v5.0h-5.0zM824.0 727.0h5.0v5.0h-5.0z"/><path fill="#d0ff30" d="M849.0 327.0h10.0v5.0h-10.0zM889.0 332.0h5.0v5.0h-5.0zM784.0 337.0h5.0v5.0h-5.0zM909.0 342.0h5.0v5.0h-5.0zM919.0 352.0h5.0v5.0h-5.0zM684.0 362.0h20.0v5.0h-20.0zM924.0 362.0h5.0v5.0h-5.0zM644.0 367.0h25.0v5.0h-25.0zM709.0 367.0h5.0v5.0h-5.0zM714.0 372.0h5.0v5.0h-5.0zM774.0 372.0h5.0v5.0h-5.0zM924.0 372.0h5.0v5.0h-5.0zM714.0 377.0h5.0v5.0h-5.0zM919.0 377.0h5.0v5.0h-5.0zM669.0 382.0h10.0v5.0h-10.0zM709.0 382.0h5.0v5.0h-5.0zM684.0 387.0h10.0v5.0h-10.0zM964.0 672.0h20.0v5.0h-20.0zM954.0 677.0h5.0v5.0h-5.0zM994.0 677.0h5.0v5.0h-5.0zM949.0 682.0h5.0v5.0h-5.0zM989.0 682.0h10.0v5.0h-10.0zM959.0 687.0h20.0v5.0h-20.0zM829.0 707.0h10.0v5.0h-10.0zM834.0 742.0h5.0v5.0h-5.0z"/><path fill="#c0ff40" d="M864.0 327.0h5.0v5.0h-5.0zM804.0 332.0h5.0v5.0h-5.0zM779.0 337.0h5.0v5.0h-5.0zM759.0 357.0h5.0v5.0h-5.0zM714.0 362.0h5.0v5.0h-5.0zM759.0 362.0h5.0v5.0h-5.0zM719.0 367.0h5.0v5.0h-5.0zM724.0 372.0h5.0v5.0h-5.0zM769.0 372.0h5.0v5.0h-5.0zM724.0 377.0h5.0v5.0h-5.0zM784.0 377.0h5.0v5.0h-5.0zM834.0 377.0h5.0v5.0h-5.0zM924.0 377.0h5.0v5.0h-5.0zM719.0 382.0h5.0v5.0h-5.0zM914.0 382.0h5.0v5.0h-5.0zM644.0 387.0h30.0v5.0h-30.0zM709.0 387.0h5.0v5.0h-5.0zM689.0 392.0h15.0v5.0h-15.0zM954.0 672.0h5.0v5.0h-5.0zM939.0 677.0h5.0v5.0h-5.0zM999.0 677.0h5.0v5.0h-5.0zM939.0 682.0h5.0v5.0h-5.0zM944.0 687.0h10.0v5.0h-10.0zM989.0 687.0h5.0v5.0h-5.0zM839.0 722.0h5.0v5.0h-5.0zM839.0 727.0h5.0v5.0h-5.0z"/><path fill="#b8ff40" d="M869.0 327.0h5.0v5.0h-5.0zM759.0 352.0h5.0v5.0h-5.0zM694.0 357.0h5.0v5.0h-5.0zM724.0 367.0h5.0v5.0h-5.0zM949.0 672.0h5.0v5.0h-5.0zM824.0 717.0h5.0v5.0h-5.0zM824.0 732.0h5.0v5.0h-5.0z"/><path fill="#b8ff48" d="M874.0 327.0h5.0v5.0h-5.0zM904.0 337.0h5.0v5.0h-5.0zM914.0 342.0h5.0v5.0h-5.0zM919.0 347.0h5.0v5.0h-5.0zM674.0 357.0h20.0v5.0h-20.0zM699.0 357.0h10.0v5.0h-10.0zM754.0 357.0h5.0v5.0h-5.0zM719.0 362.0h5.0v5.0h-5.0zM729.0 367.0h5.0v5.0h-5.0zM929.0 367.0h5.0v5.0h-5.0zM729.0 372.0h5.0v5.0h-5.0zM729.0 377.0h5.0v5.0h-5.0zM779.0 377.0h5.0v5.0h-5.0zM714.0 387.0h5.0v5.0h-5.0zM874.0 387.0h5.0v5.0h-5.0zM679.0 392.0h10.0v5.0h-10.0zM704.0 392.0h5.0v5.0h-5.0zM969.0 402.0h10.0v5.0h-10.0zM969.0 407.0h20.0v5.0h-20.0zM944.0 672.0h5.0v5.0h-5.0zM999.0 672.0h5.0v5.0h-5.0zM999.0 682.0h5.0v5.0h-5.0zM939.0 687.0h5.0v5.0h-5.0zM994.0 687.0h5.0v5.0h-5.0zM969.0 692.0h5.0v5.0h-5.0zM839.0 717.0h5.0v5.0h-5.0z"/><path fill="#a8ff58" d="M879.0 327.0h5.0v5.0h-5.0zM749.0 352.0h5.0v5.0h-5.0zM719.0 357.0h10.0v5.0h-10.0zM734.0 357.0h10.0v5.0h-10.0zM929.0 357.0h5.0v5.0h-5.0zM749.0 367.0h10.0v5.0h-10.0zM744.0 372.0h5.0v5.0h-5.0zM739.0 377.0h5.0v5.0h-5.0zM929.0 377.0h5.0v5.0h-5.0zM729.0 382.0h5.0v5.0h-5.0zM799.0 382.0h10.0v5.0h-10.0zM819.0 382.0h5.0v5.0h-5.0zM854.0 387.0h10.0v5.0h-10.0zM889.0 387.0h10.0v5.0h-10.0zM684.0 397.0h20.0v5.0h-20.0zM964.0 397.0h5.0v5.0h-5.0zM974.0 397.0h10.0v5.0h-10.0zM994.0 402.0h5.0v5.0h-5.0zM969.0 412.0h30.0v5.0h-30.0zM954.0 667.0h10.0v5.0h-10.0zM994.0 667.0h5.0v5.0h-5.0zM934.0 687.0h5.0v5.0h-5.0zM999.0 687.0h5.0v5.0h-5.0zM949.0 692.0h10.0v5.0h-10.0zM984.0 692.0h5.0v5.0h-5.0zM824.0 712.0h5.0v5.0h-5.0zM839.0 712.0h5.0v5.0h-5.0zM824.0 737.0h5.0v5.0h-5.0z"/><path fill="#90ff68" d="M884.0 327.0h5.0v5.0h-5.0zM744.0 347.0h5.0v5.0h-5.0zM934.0 377.0h5.0v5.0h-5.0zM979.0 417.0h5.0v5.0h-5.0zM839.0 602.0h5.0v5.0h-5.0zM939.0 667.0h5.0v5.0h-5.0zM1004.0 672.0h5.0v5.0h-5.0zM829.0 702.0h5.0v5.0h-5.0z"/><path fill="#88ff70" d="M784.0 332.0h5.0v5.0h-5.0zM999.0 397.0h5.0v5.0h-5.0zM689.0 402.0h5.0v5.0h-5.0zM959.0 697.0h5.0v5.0h-5.0zM839.0 707.0h5.0v5.0h-5.0zM819.0 717.0h5.0v5.0h-5.0z"/><path fill="#a0ff58" d="M794.0 332.0h5.0v5.0h-5.0zM729.0 357.0h5.0v5.0h-5.0zM724.0 387.0h5.0v5.0h-5.0zM714.0 392.0h5.0v5.0h-5.0zM999.0 407.0h5.0v5.0h-5.0z"/><path fill="#d8ff28" d="M814.0 332.0h5.0v5.0h-5.0zM899.0 337.0h5.0v5.0h-5.0zM764.0 352.0h5.0v5.0h-5.0zM764.0 362.0h5.0v5.0h-5.0zM669.0 367.0h15.0v5.0h-15.0zM704.0 367.0h5.0v5.0h-5.0zM924.0 367.0h5.0v5.0h-5.0zM644.0 372.0h30.0v5.0h-30.0zM709.0 372.0h5.0v5.0h-5.0zM644.0 377.0h30.0v5.0h-30.0zM709.0 377.0h5.0v5.0h-5.0zM679.0 382.0h5.0v5.0h-5.0zM904.0 382.0h5.0v5.0h-5.0zM694.0 387.0h10.0v5.0h-10.0zM959.0 677.0h5.0v5.0h-5.0zM984.0 677.0h10.0v5.0h-10.0zM959.0 682.0h5.0v5.0h-5.0zM979.0 682.0h10.0v5.0h-10.0z"/><path fill="#e0ff20" d="M819.0 332.0h10.0v5.0h-10.0zM789.0 337.0h5.0v5.0h-5.0zM769.0 347.0h5.0v5.0h-5.0zM764.0 357.0h5.0v5.0h-5.0zM684.0 367.0h10.0v5.0h-10.0zM699.0 367.0h5.0v5.0h-5.0zM769.0 367.0h5.0v5.0h-5.0zM674.0 372.0h10.0v5.0h-10.0zM704.0 372.0h5.0v5.0h-5.0zM779.0 372.0h5.0v5.0h-5.0zM674.0 377.0h10.0v5.0h-10.0zM799.0 377.0h5.0v5.0h-5.0zM684.0 382.0h10.0v5.0h-10.0zM844.0 382.0h5.0v5.0h-5.0zM899.0 382.0h5.0v5.0h-5.0zM964.0 677.0h15.0v5.0h-15.0zM964.0 682.0h15.0v5.0h-15.0z"/><path fill="#e8ff18" d="M829.0 332.0h5.0v5.0h-5.0zM884.0 332.0h5.0v5.0h-5.0zM904.0 342.0h5.0v5.0h-5.0zM919.0 357.0h5.0v5.0h-5.0zM684.0 372.0h10.0v5.0h-10.0zM699.0 372.0h5.0v5.0h-5.0zM829.0 372.0h5.0v5.0h-5.0zM684.0 377.0h10.0v5.0h-10.0zM704.0 377.0h5.0v5.0h-5.0zM804.0 377.0h5.0v5.0h-5.0zM914.0 377.0h5.0v5.0h-5.0zM694.0 382.0h10.0v5.0h-10.0z"/><path fill="#f8ff08" d="M834.0 332.0h5.0v5.0h-5.0zM919.0 367.0h5.0v5.0h-5.0zM814.0 377.0h5.0v5.0h-5.0zM889.0 382.0h5.0v5.0h-5.0z"/><path fill="#fff000" d="M839.0 332.0h5.0v5.0h-5.0zM889.0 337.0h5.0v5.0h-5.0zM904.0 347.0h5.0v5.0h-5.0zM774.0 352.0h5.0v5.0h-5.0zM909.0 352.0h5.0v5.0h-5.0zM774.0 362.0h5.0v5.0h-5.0zM794.0 372.0h5.0v5.0h-5.0zM824.0 372.0h5.0v5.0h-5.0zM904.0 377.0h5.0v5.0h-5.0zM864.0 382.0h20.0v5.0h-20.0z"/><path fill="#ffd000" d="M844.0 332.0h5.0v5.0h-5.0zM859.0 332.0h5.0v5.0h-5.0zM809.0 337.0h5.0v5.0h-5.0zM884.0 337.0h5.0v5.0h-5.0zM784.0 347.0h5.0v5.0h-5.0zM779.0 352.0h5.0v5.0h-5.0zM894.0 377.0h5.0v5.0h-5.0zM829.0 732.0h10.0v5.0h-10.0z"/><path fill="#ffc800" d="M849.0 332.0h10.0v5.0h-10.0zM794.0 342.0h5.0v5.0h-5.0zM779.0 357.0h5.0v5.0h-5.0zM909.0 362.0h5.0v5.0h-5.0zM789.0 367.0h5.0v5.0h-5.0zM909.0 367.0h5.0v5.0h-5.0zM809.0 372.0h5.0v5.0h-5.0zM819.0 372.0h5.0v5.0h-5.0zM844.0 377.0h5.0v5.0h-5.0z"/><path fill="#ffd800" d="M864.0 332.0h5.0v5.0h-5.0zM899.0 347.0h5.0v5.0h-5.0zM904.0 352.0h5.0v5.0h-5.0zM909.0 357.0h5.0v5.0h-5.0zM779.0 362.0h5.0v5.0h-5.0zM829.0 367.0h5.0v5.0h-5.0zM804.0 372.0h5.0v5.0h-5.0zM909.0 372.0h5.0v5.0h-5.0zM829.0 717.0h10.0v5.0h-10.0z"/><path fill="#ffe000" d="M869.0 332.0h5.0v5.0h-5.0zM789.0 342.0h5.0v5.0h-5.0zM894.0 342.0h5.0v5.0h-5.0zM784.0 367.0h5.0v5.0h-5.0zM799.0 372.0h5.0v5.0h-5.0zM899.0 377.0h5.0v5.0h-5.0z"/><path fill="#ffe800" d="M874.0 332.0h5.0v5.0h-5.0zM804.0 337.0h5.0v5.0h-5.0zM779.0 347.0h5.0v5.0h-5.0zM774.0 357.0h5.0v5.0h-5.0zM914.0 362.0h5.0v5.0h-5.0zM914.0 367.0h5.0v5.0h-5.0z"/><path fill="#fff800" d="M879.0 332.0h5.0v5.0h-5.0zM799.0 337.0h5.0v5.0h-5.0zM784.0 342.0h5.0v5.0h-5.0zM899.0 342.0h5.0v5.0h-5.0zM914.0 357.0h5.0v5.0h-5.0zM779.0 367.0h5.0v5.0h-5.0zM914.0 372.0h5.0v5.0h-5.0zM854.0 382.0h10.0v5.0h-10.0zM884.0 382.0h5.0v5.0h-5.0zM829.0 712.0h5.0v5.0h-5.0zM829.0 737.0h5.0v5.0h-5.0z"/><path fill="#90ff70" d="M764.0 337.0h5.0v5.0h-5.0zM914.0 337.0h5.0v5.0h-5.0zM754.0 342.0h5.0v5.0h-5.0zM739.0 347.0h5.0v5.0h-5.0zM934.0 362.0h5.0v5.0h-5.0zM754.0 377.0h10.0v5.0h-10.0zM744.0 382.0h5.0v5.0h-5.0zM774.0 382.0h10.0v5.0h-10.0zM824.0 382.0h5.0v5.0h-5.0zM734.0 387.0h5.0v5.0h-5.0zM844.0 387.0h5.0v5.0h-5.0zM914.0 387.0h5.0v5.0h-5.0zM724.0 392.0h5.0v5.0h-5.0zM959.0 392.0h5.0v5.0h-5.0zM979.0 392.0h10.0v5.0h-10.0zM714.0 397.0h5.0v5.0h-5.0zM954.0 397.0h5.0v5.0h-5.0zM694.0 402.0h5.0v5.0h-5.0zM954.0 402.0h5.0v5.0h-5.0zM954.0 407.0h5.0v5.0h-5.0zM959.0 412.0h5.0v5.0h-5.0zM969.0 417.0h10.0v5.0h-10.0zM999.0 417.0h5.0v5.0h-5.0zM834.0 592.0h15.0v5.0h-15.0zM829.0 597.0h5.0v5.0h-5.0zM849.0 597.0h5.0v5.0h-5.0zM829.0 602.0h10.0v5.0h-10.0zM844.0 602.0h10.0v5.0h-10.0zM929.0 672.0h5.0v5.0h-5.0zM934.0 692.0h5.0v5.0h-5.0zM999.0 692.0h5.0v5.0h-5.0zM964.0 697.0h15.0v5.0h-15.0zM834.0 702.0h5.0v5.0h-5.0zM824.0 707.0h5.0v5.0h-5.0zM819.0 722.0h5.0v5.0h-5.0zM819.0 727.0h5.0v5.0h-5.0zM824.0 742.0h5.0v5.0h-5.0z"/><path fill="#a0ff60" d="M769.0 337.0h5.0v5.0h-5.0zM909.0 337.0h5.0v5.0h-5.0zM759.0 342.0h5.0v5.0h-5.0zM919.0 342.0h5.0v5.0h-5.0zM754.0 347.0h5.0v5.0h-5.0zM924.0 347.0h5.0v5.0h-5.0zM674.0 352.0h35.0v5.0h-35.0zM739.0 352.0h10.0v5.0h-10.0zM749.0 372.0h15.0v5.0h-15.0zM744.0 377.0h5.0v5.0h-5.0zM769.0 377.0h5.0v5.0h-5.0zM734.0 382.0h5.0v5.0h-5.0zM794.0 382.0h5.0v5.0h-5.0zM924.0 382.0h5.0v5.0h-5.0zM849.0 387.0h5.0v5.0h-5.0zM899.0 387.0h5.0v5.0h-5.0zM644.0 397.0h40.0v5.0h-40.0zM704.0 397.0h5.0v5.0h-5.0zM959.0 397.0h5.0v5.0h-5.0zM984.0 397.0h10.0v5.0h-10.0zM959.0 402.0h5.0v5.0h-5.0zM959.0 407.0h5.0v5.0h-5.0zM999.0 412.0h5.0v5.0h-5.0zM949.0 667.0h5.0v5.0h-5.0zM999.0 667.0h5.0v5.0h-5.0zM934.0 672.0h5.0v5.0h-5.0zM929.0 682.0h5.0v5.0h-5.0zM944.0 692.0h5.0v5.0h-5.0zM989.0 692.0h5.0v5.0h-5.0zM829.0 747.0h10.0v5.0h-10.0z"/><path fill="#f0ff08" d="M794.0 337.0h5.0v5.0h-5.0zM769.0 352.0h5.0v5.0h-5.0zM919.0 362.0h5.0v5.0h-5.0z"/><path fill="#ffc000" d="M814.0 337.0h5.0v5.0h-5.0zM824.0 337.0h10.0v5.0h-10.0zM889.0 342.0h5.0v5.0h-5.0zM784.0 362.0h5.0v5.0h-5.0zM834.0 367.0h5.0v5.0h-5.0zM814.0 372.0h5.0v5.0h-5.0zM904.0 372.0h5.0v5.0h-5.0zM834.0 722.0h5.0v5.0h-5.0zM834.0 727.0h5.0v5.0h-5.0z"/><path fill="#ffb800" d="M819.0 337.0h5.0v5.0h-5.0zM834.0 337.0h5.0v5.0h-5.0zM879.0 337.0h5.0v5.0h-5.0zM799.0 342.0h5.0v5.0h-5.0zM894.0 347.0h5.0v5.0h-5.0zM784.0 352.0h5.0v5.0h-5.0zM899.0 352.0h5.0v5.0h-5.0zM904.0 357.0h5.0v5.0h-5.0zM794.0 367.0h5.0v5.0h-5.0zM839.0 372.0h5.0v5.0h-5.0zM889.0 377.0h5.0v5.0h-5.0zM829.0 722.0h5.0v5.0h-5.0zM829.0 727.0h5.0v5.0h-5.0z"/><path fill="#ffa000" d="M839.0 337.0h5.0v5.0h-5.0zM869.0 337.0h5.0v5.0h-5.0zM804.0 342.0h5.0v5.0h-5.0zM884.0 342.0h5.0v5.0h-5.0zM899.0 357.0h5.0v5.0h-5.0zM849.0 377.0h5.0v5.0h-5.0z"/><path fill="#ff8800" d="M844.0 337.0h5.0v5.0h-5.0zM859.0 337.0h5.0v5.0h-5.0zM809.0 342.0h5.0v5.0h-5.0zM829.0 342.0h5.0v5.0h-5.0zM879.0 342.0h5.0v5.0h-5.0zM809.0 367.0h5.0v5.0h-5.0zM819.0 367.0h5.0v5.0h-5.0z"/><path fill="#ff7800" d="M849.0 337.0h5.0v5.0h-5.0zM814.0 342.0h5.0v5.0h-5.0zM824.0 342.0h5.0v5.0h-5.0zM874.0 342.0h5.0v5.0h-5.0zM794.0 357.0h5.0v5.0h-5.0zM829.0 357.0h5.0v5.0h-5.0zM814.0 367.0h5.0v5.0h-5.0zM839.0 367.0h5.0v5.0h-5.0zM894.0 367.0h5.0v5.0h-5.0z"/><path fill="#ff8000" d="M854.0 337.0h5.0v5.0h-5.0zM834.0 342.0h5.0v5.0h-5.0zM799.0 347.0h5.0v5.0h-5.0zM884.0 347.0h5.0v5.0h-5.0zM794.0 352.0h5.0v5.0h-5.0zM889.0 352.0h5.0v5.0h-5.0zM894.0 357.0h5.0v5.0h-5.0zM799.0 362.0h5.0v5.0h-5.0zM824.0 362.0h5.0v5.0h-5.0zM889.0 372.0h5.0v5.0h-5.0z"/><path fill="#ff9000" d="M864.0 337.0h5.0v5.0h-5.0zM789.0 357.0h5.0v5.0h-5.0zM794.0 362.0h5.0v5.0h-5.0zM834.0 362.0h5.0v5.0h-5.0zM899.0 362.0h5.0v5.0h-5.0zM899.0 367.0h5.0v5.0h-5.0zM874.0 377.0h5.0v5.0h-5.0z"/><path fill="#ffa800" d="M874.0 337.0h5.0v5.0h-5.0zM784.0 357.0h5.0v5.0h-5.0zM789.0 362.0h5.0v5.0h-5.0zM829.0 362.0h5.0v5.0h-5.0zM904.0 362.0h5.0v5.0h-5.0zM799.0 367.0h5.0v5.0h-5.0zM904.0 367.0h5.0v5.0h-5.0zM884.0 377.0h5.0v5.0h-5.0z"/><path fill="#f0ff10" d="M894.0 337.0h5.0v5.0h-5.0zM779.0 342.0h5.0v5.0h-5.0zM909.0 347.0h5.0v5.0h-5.0zM914.0 352.0h5.0v5.0h-5.0zM769.0 362.0h5.0v5.0h-5.0zM774.0 367.0h5.0v5.0h-5.0zM694.0 372.0h5.0v5.0h-5.0zM784.0 372.0h5.0v5.0h-5.0zM694.0 377.0h10.0v5.0h-10.0zM809.0 377.0h5.0v5.0h-5.0zM894.0 382.0h5.0v5.0h-5.0z"/><path fill="#d8ff20" d="M774.0 342.0h5.0v5.0h-5.0zM704.0 382.0h5.0v5.0h-5.0zM979.0 677.0h5.0v5.0h-5.0z"/><path fill="#ff7000" d="M819.0 342.0h5.0v5.0h-5.0zM834.0 357.0h5.0v5.0h-5.0zM894.0 362.0h5.0v5.0h-5.0zM844.0 372.0h5.0v5.0h-5.0z"/><path fill="#ff6800" d="M839.0 342.0h5.0v5.0h-5.0zM869.0 342.0h5.0v5.0h-5.0zM804.0 347.0h5.0v5.0h-5.0zM799.0 352.0h5.0v5.0h-5.0zM799.0 357.0h5.0v5.0h-5.0zM889.0 357.0h5.0v5.0h-5.0zM804.0 362.0h5.0v5.0h-5.0zM884.0 372.0h5.0v5.0h-5.0z"/><path fill="#ff5000" d="M844.0 342.0h5.0v5.0h-5.0zM854.0 342.0h5.0v5.0h-5.0zM809.0 347.0h5.0v5.0h-5.0zM824.0 347.0h5.0v5.0h-5.0zM874.0 347.0h5.0v5.0h-5.0zM804.0 352.0h5.0v5.0h-5.0zM804.0 357.0h5.0v5.0h-5.0zM819.0 362.0h5.0v5.0h-5.0zM839.0 362.0h5.0v5.0h-5.0zM874.0 372.0h5.0v5.0h-5.0z"/><path fill="#ff4800" d="M849.0 342.0h5.0v5.0h-5.0zM839.0 347.0h5.0v5.0h-5.0zM869.0 347.0h5.0v5.0h-5.0zM824.0 352.0h5.0v5.0h-5.0zM884.0 357.0h5.0v5.0h-5.0zM814.0 362.0h5.0v5.0h-5.0zM849.0 372.0h25.0v5.0h-25.0z"/><path fill="#ff5800" d="M859.0 342.0h5.0v5.0h-5.0zM834.0 352.0h5.0v5.0h-5.0zM824.0 357.0h5.0v5.0h-5.0zM809.0 362.0h5.0v5.0h-5.0zM889.0 362.0h5.0v5.0h-5.0zM879.0 372.0h5.0v5.0h-5.0z"/><path fill="#ff6000" d="M864.0 342.0h5.0v5.0h-5.0zM829.0 347.0h10.0v5.0h-10.0zM879.0 347.0h5.0v5.0h-5.0zM829.0 352.0h5.0v5.0h-5.0zM884.0 352.0h5.0v5.0h-5.0zM889.0 367.0h5.0v5.0h-5.0z"/><path fill="#80ff78" d="M729.0 347.0h5.0v5.0h-5.0zM964.0 417.0h5.0v5.0h-5.0zM824.0 602.0h5.0v5.0h-5.0zM844.0 717.0h5.0v5.0h-5.0z"/><path fill="#ffff00" d="M774.0 347.0h5.0v5.0h-5.0zM789.0 372.0h5.0v5.0h-5.0zM834.0 372.0h5.0v5.0h-5.0zM909.0 377.0h5.0v5.0h-5.0zM849.0 382.0h5.0v5.0h-5.0zM834.0 712.0h5.0v5.0h-5.0zM834.0 737.0h5.0v5.0h-5.0z"/><path fill="#ffb000" d="M789.0 347.0h5.0v5.0h-5.0zM824.0 367.0h5.0v5.0h-5.0zM899.0 372.0h5.0v5.0h-5.0z"/><path fill="#ff9800" d="M794.0 347.0h5.0v5.0h-5.0zM889.0 347.0h5.0v5.0h-5.0zM789.0 352.0h5.0v5.0h-5.0zM894.0 352.0h5.0v5.0h-5.0zM804.0 367.0h5.0v5.0h-5.0zM894.0 372.0h5.0v5.0h-5.0zM854.0 377.0h20.0v5.0h-20.0zM879.0 377.0h5.0v5.0h-5.0z"/><path fill="#ff4000" d="M814.0 347.0h5.0v5.0h-5.0zM864.0 347.0h5.0v5.0h-5.0zM879.0 352.0h5.0v5.0h-5.0zM884.0 362.0h5.0v5.0h-5.0zM884.0 367.0h5.0v5.0h-5.0z"/><path fill="#ff3800" d="M819.0 347.0h5.0v5.0h-5.0zM809.0 352.0h5.0v5.0h-5.0zM839.0 352.0h5.0v5.0h-5.0zM809.0 357.0h5.0v5.0h-5.0zM839.0 357.0h5.0v5.0h-5.0z"/><path fill="#ff3000" d="M844.0 347.0h5.0v5.0h-5.0zM859.0 347.0h5.0v5.0h-5.0zM874.0 352.0h5.0v5.0h-5.0zM819.0 357.0h5.0v5.0h-5.0zM879.0 357.0h5.0v5.0h-5.0zM844.0 367.0h5.0v5.0h-5.0z"/><path fill="#ff2000" d="M849.0 347.0h5.0v5.0h-5.0zM874.0 367.0h5.0v5.0h-5.0z"/><path fill="#ff2800" d="M854.0 347.0h5.0v5.0h-5.0zM814.0 352.0h10.0v5.0h-10.0zM869.0 352.0h5.0v5.0h-5.0zM814.0 357.0h5.0v5.0h-5.0zM879.0 362.0h5.0v5.0h-5.0zM879.0 367.0h5.0v5.0h-5.0z"/><path fill="#d0ff28" d="M914.0 347.0h5.0v5.0h-5.0zM794.0 377.0h5.0v5.0h-5.0zM954.0 682.0h5.0v5.0h-5.0zM829.0 742.0h5.0v5.0h-5.0z"/><path fill="#98ff60" d="M644.0 352.0h30.0v5.0h-30.0zM789.0 382.0h5.0v5.0h-5.0zM964.0 412.0h5.0v5.0h-5.0zM1004.0 677.0h5.0v5.0h-5.0zM994.0 692.0h5.0v5.0h-5.0z"/><path fill="#a8ff50" d="M754.0 352.0h5.0v5.0h-5.0zM964.0 407.0h5.0v5.0h-5.0zM979.0 692.0h5.0v5.0h-5.0z"/><path fill="#ff1000" d="M844.0 352.0h5.0v5.0h-5.0zM859.0 352.0h5.0v5.0h-5.0zM869.0 357.0h5.0v5.0h-5.0zM874.0 362.0h5.0v5.0h-5.0zM864.0 367.0h5.0v5.0h-5.0z"/><path fill="#ff0000" d="M849.0 352.0h5.0v5.0h-5.0zM844.0 357.0h5.0v5.0h-5.0zM864.0 357.0h5.0v5.0h-5.0zM864.0 362.0h5.0v5.0h-5.0z"/><path fill="#ff0800" d="M854.0 352.0h5.0v5.0h-5.0zM844.0 362.0h5.0v5.0h-5.0zM869.0 362.0h5.0v5.0h-5.0zM849.0 367.0h15.0v5.0h-15.0z"/><path fill="#ff1800" d="M864.0 352.0h5.0v5.0h-5.0zM874.0 357.0h5.0v5.0h-5.0zM869.0 367.0h5.0v5.0h-5.0z"/><path fill="#b0ff48" d="M924.0 352.0h5.0v5.0h-5.0zM644.0 357.0h30.0v5.0h-30.0zM929.0 372.0h5.0v5.0h-5.0zM724.0 382.0h5.0v5.0h-5.0zM814.0 382.0h5.0v5.0h-5.0zM839.0 382.0h5.0v5.0h-5.0zM879.0 387.0h5.0v5.0h-5.0zM989.0 407.0h5.0v5.0h-5.0zM964.0 692.0h5.0v5.0h-5.0z"/><path fill="#f8ff00" d="M769.0 357.0h5.0v5.0h-5.0zM839.0 377.0h5.0v5.0h-5.0z"/><path fill="#e00000" d="M849.0 357.0h5.0v5.0h-5.0z"/><path fill="#e80000" d="M854.0 357.0h5.0v5.0h-5.0zM849.0 362.0h10.0v5.0h-10.0z"/><path fill="#f00000" d="M859.0 357.0h5.0v5.0h-5.0zM859.0 362.0h5.0v5.0h-5.0z"/><path fill="#c8ff30" d="M679.0 362.0h5.0v5.0h-5.0zM644.0 382.0h25.0v5.0h-25.0zM704.0 387.0h5.0v5.0h-5.0zM984.0 672.0h5.0v5.0h-5.0zM949.0 677.0h5.0v5.0h-5.0z"/><path fill="#e0ff18" d="M694.0 367.0h5.0v5.0h-5.0z"/><path fill="#e8ff10" d="M919.0 372.0h5.0v5.0h-5.0zM819.0 377.0h5.0v5.0h-5.0z"/><path fill="#78ff80" d="M944.0 372.0h5.0v5.0h-5.0zM944.0 382.0h5.0v5.0h-5.0zM949.0 387.0h5.0v5.0h-5.0zM724.0 397.0h5.0v5.0h-5.0zM979.0 422.0h5.0v5.0h-5.0zM849.0 487.0h5.0v5.0h-5.0zM839.0 587.0h5.0v5.0h-5.0zM834.0 612.0h15.0v5.0h-15.0z"/><path fill="#c0ff38" d="M674.0 387.0h5.0v5.0h-5.0z"/></g></g>
<g clip-path="url(#cc)"><rect x="1180" y="57" width="367" height="784" fill="#0000c0"/><path fill="#00008f" d="M1180.2 57.0h367.0v6.6h-367.0zM1180.2 62.4h367.0v6.6h-367.0zM1180.2 67.8h367.0v6.6h-367.0zM1180.2 73.2h367.0v6.6h-367.0zM1180.2 78.6h367.0v6.6h-367.0zM1180.2 84.0h367.0v6.6h-367.0zM1180.2 89.4h367.0v6.6h-367.0zM1180.2 94.8h367.0v6.6h-367.0zM1180.2 100.2h367.0v6.6h-367.0zM1180.2 105.6h367.0v6.6h-367.0zM1180.2 111.0h367.0v6.6h-367.0zM1180.2 116.4h367.0v6.6h-367.0zM1180.2 121.8h367.0v6.6h-367.0zM1180.2 127.2h367.0v6.6h-367.0z"/><path fill="#00009f" d="M1180.2 132.6h367.0v6.6h-367.0zM1180.2 138.0h367.0v6.6h-367.0zM1180.2 143.4h367.0v6.6h-367.0zM1180.2 148.8h64.1v6.6h-64.1zM1483.1 148.8h64.1v6.6h-64.1z"/><path fill="#0000af" d="M1243.1 148.8h241.3v6.6h-241.3zM1180.2 154.2h367.0v6.6h-367.0zM1180.2 159.6h86.9v6.6h-86.9zM1460.3 159.6h86.9v6.6h-86.9zM1180.2 165.0h12.6v6.6h-12.6zM1534.6 165.0h12.6v6.6h-12.6z"/><path fill="#0000bf" d="M1265.9 159.6h195.5v6.6h-195.5zM1191.6 165.0h121.2v6.6h-121.2zM1414.5 165.0h121.2v6.6h-121.2zM1180.2 170.4h58.4v6.6h-58.4zM1488.8 170.4h58.4v6.6h-58.4zM1180.2 737.6h6.9v6.6h-6.9zM1540.3 737.6h6.9v6.6h-6.9zM1180.2 743.0h6.9v6.6h-6.9zM1540.3 743.0h6.9v6.6h-6.9zM1180.2 748.4h24.1v6.6h-24.1zM1523.1 748.4h24.1v6.6h-24.1zM1180.2 753.8h29.8v6.6h-29.8zM1517.4 753.8h29.8v6.6h-29.8zM1180.2 759.2h29.8v6.6h-29.8zM1517.4 759.2h29.8v6.6h-29.8zM1180.2 764.6h29.8v6.6h-29.8zM1517.4 764.6h29.8v6.6h-29.8zM1180.2 770.0h29.8v6.6h-29.8zM1517.4 770.0h29.8v6.6h-29.8zM1180.2 775.4h29.8v6.6h-29.8zM1517.4 775.4h29.8v6.6h-29.8zM1180.2 780.8h35.5v6.6h-35.5zM1511.7 780.8h35.5v6.6h-35.5zM1180.2 786.2h35.5v6.6h-35.5zM1511.7 786.2h35.5v6.6h-35.5zM1180.2 791.6h35.5v6.6h-35.5zM1511.7 791.6h35.5v6.6h-35.5zM1180.2 797.0h35.5v6.6h-35.5zM1511.7 797.0h35.5v6.6h-35.5zM1180.2 802.4h35.5v6.6h-35.5zM1511.7 802.4h35.5v6.6h-35.5zM1180.2 807.8h35.5v6.6h-35.5zM1511.7 807.8h35.5v6.6h-35.5zM1180.2 813.2h35.5v6.6h-35.5zM1511.7 813.2h35.5v6.6h-35.5zM1180.2 818.6h35.5v6.6h-35.5zM1511.7 818.6h35.5v6.6h-35.5zM1180.2 824.0h35.5v6.6h-35.5zM1511.7 824.0h35.5v6.6h-35.5zM1180.2 829.4h35.5v6.6h-35.5zM1511.7 829.4h35.5v6.6h-35.5zM1180.2 834.8h35.5v6.6h-35.5zM1511.7 834.8h35.5v6.6h-35.5z"/><path fill="#0000cf" d="M1311.7 165.0h104.1v6.6h-104.1zM1237.4 170.4h81.2v6.6h-81.2zM1408.8 170.4h81.2v6.6h-81.2zM1180.2 175.8h86.9v6.6h-86.9zM1460.3 175.8h86.9v6.6h-86.9zM1180.2 181.2h24.1v6.6h-24.1zM1523.1 181.2h24.1v6.6h-24.1zM1180.2 716.0h6.9v6.6h-6.9zM1540.3 716.0h6.9v6.6h-6.9zM1180.2 721.4h12.6v6.6h-12.6zM1534.6 721.4h12.6v6.6h-12.6zM1180.2 726.8h12.6v6.6h-12.6zM1534.6 726.8h12.6v6.6h-12.6zM1180.2 732.2h12.6v6.6h-12.6zM1534.6 732.2h12.6v6.6h-12.6zM1185.9 737.6h12.6v6.6h-12.6zM1528.9 737.6h12.6v6.6h-12.6zM1185.9 743.0h24.1v6.6h-24.1zM1517.4 743.0h24.1v6.6h-24.1zM1203.1 748.4h18.3v6.6h-18.3zM1506.0 748.4h18.3v6.6h-18.3zM1208.8 753.8h12.6v6.6h-12.6zM1506.0 753.8h12.6v6.6h-12.6zM1208.8 759.2h18.3v6.6h-18.3zM1500.3 759.2h18.3v6.6h-18.3zM1208.8 764.6h18.3v6.6h-18.3zM1500.3 764.6h18.3v6.6h-18.3zM1208.8 770.0h29.8v6.6h-29.8zM1488.8 770.0h29.8v6.6h-29.8zM1208.8 775.4h52.6v6.6h-52.6zM1466.0 775.4h52.6v6.6h-52.6zM1214.5 780.8h58.4v6.6h-58.4zM1454.5 780.8h58.4v6.6h-58.4zM1214.5 786.2h81.2v6.6h-81.2zM1431.7 786.2h81.2v6.6h-81.2zM1214.5 791.6h298.4v6.6h-298.4zM1214.5 797.0h298.4v6.6h-298.4zM1214.5 802.4h298.4v6.6h-298.4zM1214.5 807.8h298.4v6.6h-298.4zM1214.5 813.2h298.4v6.6h-298.4zM1214.5 818.6h298.4v6.6h-298.4zM1214.5 824.0h298.4v6.6h-298.4zM1214.5 829.4h298.4v6.6h-298.4zM1214.5 834.8h298.4v6.6h-298.4z"/><path fill="#0000df" d="M1317.4 170.4h92.7v6.6h-92.7zM1265.9 175.8h52.6v6.6h-52.6zM1408.8 175.8h52.6v6.6h-52.6zM1203.1 181.2h75.5v6.6h-75.5zM1448.8 181.2h75.5v6.6h-75.5zM1180.2 186.6h52.6v6.6h-52.6zM1494.6 186.6h52.6v6.6h-52.6zM1180.2 710.6h6.9v6.6h-6.9zM1540.3 710.6h6.9v6.6h-6.9zM1185.9 716.0h6.9v6.6h-6.9zM1534.6 716.0h6.9v6.6h-6.9zM1191.6 721.4h6.9v6.6h-6.9zM1528.9 721.4h6.9v6.6h-6.9zM1191.6 726.8h12.6v6.6h-12.6zM1523.1 726.8h12.6v6.6h-12.6zM1191.6 732.2h12.6v6.6h-12.6zM1523.1 732.2h12.6v6.6h-12.6zM1197.3 737.6h12.6v6.6h-12.6zM1517.4 737.6h12.6v6.6h-12.6zM1208.8 743.0h12.6v6.6h-12.6zM1500.3 743.0h18.3v6.6h-18.3zM1220.2 748.4h12.6v6.6h-12.6zM1494.6 748.4h12.6v6.6h-12.6zM1220.2 753.8h18.3v6.6h-18.3zM1488.8 753.8h18.3v6.6h-18.3zM1225.9 759.2h12.6v6.6h-12.6zM1488.8 759.2h12.6v6.6h-12.6zM1225.9 764.6h24.1v6.6h-24.1zM1477.4 764.6h24.1v6.6h-24.1zM1237.4 770.0h35.5v6.6h-35.5zM1454.5 770.0h35.5v6.6h-35.5zM1260.2 775.4h41.2v6.6h-41.2zM1426.0 775.4h41.2v6.6h-41.2zM1271.7 780.8h75.5v6.6h-75.5zM1380.2 780.8h75.5v6.6h-75.5zM1294.5 786.2h138.4v6.6h-138.4z"/><path fill="#0000ef" d="M1317.4 175.8h92.7v6.6h-92.7zM1277.4 181.2h41.2v6.6h-41.2zM1408.8 181.2h41.2v6.6h-41.2zM1231.6 186.6h52.6v6.6h-52.6zM1443.1 186.6h52.6v6.6h-52.6zM1180.2 192.0h69.8v6.6h-69.8zM1477.4 192.0h69.8v6.6h-69.8zM1180.2 197.4h24.1v6.6h-24.1zM1523.1 197.4h24.1v6.6h-24.1zM1294.5 516.1h138.4v6.6h-138.4zM1294.5 521.5h138.4v6.6h-138.4zM1300.2 526.9h126.9v6.6h-126.9zM1323.1 532.3h81.2v6.6h-81.2zM1328.8 537.7h69.8v6.6h-69.8zM1180.2 705.2h6.9v6.6h-6.9zM1540.3 705.2h6.9v6.6h-6.9zM1185.9 710.6h6.9v6.6h-6.9zM1534.6 710.6h6.9v6.6h-6.9zM1191.6 716.0h6.9v6.6h-6.9zM1528.9 716.0h6.9v6.6h-6.9zM1197.3 721.4h6.9v6.6h-6.9zM1523.1 721.4h6.9v6.6h-6.9zM1203.1 726.8h6.9v6.6h-6.9zM1517.4 726.8h6.9v6.6h-6.9zM1203.1 732.2h12.6v6.6h-12.6zM1511.7 732.2h12.6v6.6h-12.6zM1208.8 737.6h18.3v6.6h-18.3zM1500.3 737.6h18.3v6.6h-18.3zM1220.2 743.0h18.3v6.6h-18.3zM1488.8 743.0h12.6v6.6h-12.6zM1231.6 748.4h12.6v6.6h-12.6zM1483.1 748.4h12.6v6.6h-12.6zM1237.4 753.8h12.6v6.6h-12.6zM1477.4 753.8h12.6v6.6h-12.6zM1237.4 759.2h18.3v6.6h-18.3zM1466.0 759.2h24.1v6.6h-24.1zM1248.8 764.6h29.8v6.6h-29.8zM1448.8 764.6h29.8v6.6h-29.8zM1271.7 770.0h29.8v6.6h-29.8zM1426.0 770.0h29.8v6.6h-29.8zM1300.2 775.4h46.9v6.6h-46.9zM1380.2 775.4h46.9v6.6h-46.9zM1346.0 780.8h35.5v6.6h-35.5z"/><path fill="#0000ff" d="M1317.4 181.2h35.5v6.6h-35.5zM1374.5 181.2h35.5v6.6h-35.5zM1283.1 186.6h35.5v6.6h-35.5zM1408.8 186.6h35.5v6.6h-35.5zM1248.8 192.0h41.2v6.6h-41.2zM1437.4 192.0h41.2v6.6h-41.2zM1203.1 197.4h64.1v6.6h-64.1zM1460.3 197.4h64.1v6.6h-64.1zM1180.2 202.8h52.6v6.6h-52.6zM1494.6 202.8h52.6v6.6h-52.6zM1180.2 208.2h24.1v6.6h-24.1zM1523.1 208.2h24.1v6.6h-24.1zM1180.2 213.6h12.6v6.6h-12.6zM1534.6 213.6h12.6v6.6h-12.6zM1180.2 219.0h12.6v6.6h-12.6zM1534.6 219.0h12.6v6.6h-12.6zM1180.2 224.4h24.1v6.6h-24.1zM1523.1 224.4h24.1v6.6h-24.1zM1180.2 229.8h24.1v6.6h-24.1zM1523.1 229.8h24.1v6.6h-24.1zM1357.4 240.6h12.6v6.6h-12.6zM1323.1 246.0h81.2v6.6h-81.2zM1323.1 251.4h81.2v6.6h-81.2zM1323.1 256.9h81.2v6.6h-81.2zM1237.4 494.5h12.6v6.6h-12.6zM1477.4 494.5h12.6v6.6h-12.6zM1237.4 499.9h41.2v6.6h-41.2zM1448.8 499.9h41.2v6.6h-41.2zM1243.1 505.3h241.3v6.6h-241.3zM1260.2 510.7h207.0v6.6h-207.0zM1265.9 516.1h29.8v6.6h-29.8zM1431.7 516.1h29.8v6.6h-29.8zM1271.7 521.5h24.1v6.6h-24.1zM1431.7 521.5h24.1v6.6h-24.1zM1283.1 526.9h18.3v6.6h-18.3zM1426.0 526.9h18.3v6.6h-18.3zM1294.5 532.3h29.8v6.6h-29.8zM1403.1 532.3h29.8v6.6h-29.8zM1305.9 537.7h24.1v6.6h-24.1zM1397.4 537.7h24.1v6.6h-24.1zM1323.1 543.1h81.2v6.6h-81.2zM1277.4 662.0h172.7v6.6h-172.7zM1277.4 667.4h172.7v6.6h-172.7zM1283.1 672.8h161.2v6.6h-161.2zM1288.8 678.2h149.8v6.6h-149.8zM1317.4 683.6h92.7v6.6h-92.7zM1185.9 705.2h6.9v6.6h-6.9zM1534.6 705.2h6.9v6.6h-6.9zM1191.6 710.6h6.9v6.6h-6.9zM1528.9 710.6h6.9v6.6h-6.9zM1197.3 716.0h6.9v6.6h-6.9zM1523.1 716.0h6.9v6.6h-6.9zM1203.1 721.4h12.6v6.6h-12.6zM1511.7 721.4h12.6v6.6h-12.6zM1208.8 726.8h6.9v6.6h-6.9zM1506.0 726.8h12.6v6.6h-12.6zM1214.5 732.2h12.6v6.6h-12.6zM1500.3 732.2h12.6v6.6h-12.6zM1225.9 737.6h12.6v6.6h-12.6zM1488.8 737.6h12.6v6.6h-12.6zM1237.4 743.0h6.9v6.6h-6.9zM1483.1 743.0h6.9v6.6h-6.9zM1243.1 748.4h12.6v6.6h-12.6zM1471.7 748.4h12.6v6.6h-12.6zM1248.8 753.8h12.6v6.6h-12.6zM1466.0 753.8h12.6v6.6h-12.6zM1254.5 759.2h18.3v6.6h-18.3zM1454.5 759.2h12.6v6.6h-12.6zM1277.4 764.6h18.3v6.6h-18.3zM1431.7 764.6h18.3v6.6h-18.3zM1300.2 770.0h29.8v6.6h-29.8zM1397.4 770.0h29.8v6.6h-29.8zM1346.0 775.4h35.5v6.6h-35.5z"/><path fill="#0010ff" d="M1351.7 181.2h24.1v6.6h-24.1zM1317.4 186.6h24.1v6.6h-24.1zM1386.0 186.6h24.1v6.6h-24.1zM1288.8 192.0h24.1v6.6h-24.1zM1414.5 192.0h24.1v6.6h-24.1zM1265.9 197.4h24.1v6.6h-24.1zM1437.4 197.4h24.1v6.6h-24.1zM1231.6 202.8h41.2v6.6h-41.2zM1454.5 202.8h41.2v6.6h-41.2zM1203.1 208.2h46.9v6.6h-46.9zM1477.4 208.2h46.9v6.6h-46.9zM1191.6 213.6h46.9v6.6h-46.9zM1488.8 213.6h46.9v6.6h-46.9zM1191.6 219.0h41.2v6.6h-41.2zM1494.6 219.0h41.2v6.6h-41.2zM1203.1 224.4h35.5v6.6h-35.5zM1488.8 224.4h35.5v6.6h-35.5zM1203.1 229.8h29.8v6.6h-29.8zM1494.6 229.8h29.8v6.6h-29.8zM1180.2 235.2h41.2v6.6h-41.2zM1506.0 235.2h41.2v6.6h-41.2zM1180.2 240.6h24.1v6.6h-24.1zM1317.4 240.6h41.2v6.6h-41.2zM1368.8 240.6h41.2v6.6h-41.2zM1523.1 240.6h24.1v6.6h-24.1zM1311.7 246.0h12.6v6.6h-12.6zM1403.1 246.0h12.6v6.6h-12.6zM1305.9 251.4h18.3v6.6h-18.3zM1403.1 251.4h12.6v6.6h-12.6zM1311.7 256.9h12.6v6.6h-12.6zM1403.1 256.9h12.6v6.6h-12.6zM1317.4 262.3h92.7v6.6h-92.7zM1346.0 267.7h35.5v6.6h-35.5zM1208.8 489.1h52.6v6.6h-52.6zM1466.0 489.1h52.6v6.6h-52.6zM1208.8 494.5h29.8v6.6h-29.8zM1248.8 494.5h41.2v6.6h-41.2zM1437.4 494.5h41.2v6.6h-41.2zM1488.8 494.5h29.8v6.6h-29.8zM1225.9 499.9h12.6v6.6h-12.6zM1277.4 499.9h172.7v6.6h-172.7zM1488.8 499.9h12.6v6.6h-12.6zM1231.6 505.3h12.6v6.6h-12.6zM1483.1 505.3h12.6v6.6h-12.6zM1237.4 510.7h24.1v6.6h-24.1zM1466.0 510.7h24.1v6.6h-24.1zM1248.8 516.1h18.3v6.6h-18.3zM1460.3 516.1h18.3v6.6h-18.3zM1260.2 521.5h12.6v6.6h-12.6zM1454.5 521.5h12.6v6.6h-12.6zM1271.7 526.9h12.6v6.6h-12.6zM1443.1 526.9h12.6v6.6h-12.6zM1283.1 532.3h12.6v6.6h-12.6zM1431.7 532.3h12.6v6.6h-12.6zM1294.5 537.7h12.6v6.6h-12.6zM1420.3 537.7h12.6v6.6h-12.6zM1305.9 543.1h18.3v6.6h-18.3zM1403.1 543.1h18.3v6.6h-18.3zM1323.1 548.5h81.2v6.6h-81.2zM1180.2 618.7h41.2v6.6h-41.2zM1506.0 618.7h41.2v6.6h-41.2zM1180.2 624.1h58.4v6.6h-58.4zM1488.8 624.1h58.4v6.6h-58.4zM1180.2 629.5h69.8v6.6h-69.8zM1477.4 629.5h69.8v6.6h-69.8zM1185.9 634.9h81.2v6.6h-81.2zM1454.5 634.9h86.9v6.6h-86.9zM1197.3 640.3h86.9v6.6h-86.9zM1443.1 640.3h86.9v6.6h-86.9zM1203.1 645.8h104.1v6.6h-104.1zM1420.3 645.8h104.1v6.6h-104.1zM1214.5 651.2h298.4v6.6h-298.4zM1231.6 656.6h264.1v6.6h-264.1zM1237.4 662.0h41.2v6.6h-41.2zM1448.8 662.0h35.5v6.6h-35.5zM1248.8 667.4h29.8v6.6h-29.8zM1448.8 667.4h29.8v6.6h-29.8zM1260.2 672.8h24.1v6.6h-24.1zM1443.1 672.8h24.1v6.6h-24.1zM1265.9 678.2h24.1v6.6h-24.1zM1437.4 678.2h24.1v6.6h-24.1zM1283.1 683.6h35.5v6.6h-35.5zM1408.8 683.6h35.5v6.6h-35.5zM1300.2 689.0h126.9v6.6h-126.9zM1328.8 694.4h69.8v6.6h-69.8zM1180.2 699.8h6.9v6.6h-6.9zM1540.3 699.8h6.9v6.6h-6.9zM1191.6 705.2h6.9v6.6h-6.9zM1528.9 705.2h6.9v6.6h-6.9zM1197.3 710.6h6.9v6.6h-6.9zM1523.1 710.6h6.9v6.6h-6.9zM1203.1 716.0h6.9v6.6h-6.9zM1517.4 716.0h6.9v6.6h-6.9zM1214.5 721.4h6.9v6.6h-6.9zM1506.0 721.4h6.9v6.6h-6.9zM1214.5 726.8h12.6v6.6h-12.6zM1500.3 726.8h6.9v6.6h-6.9zM1225.9 732.2h6.9v6.6h-6.9zM1494.6 732.2h6.9v6.6h-6.9zM1237.4 737.6h6.9v6.6h-6.9zM1483.1 737.6h6.9v6.6h-6.9zM1243.1 743.0h6.9v6.6h-6.9zM1471.7 743.0h12.6v6.6h-12.6zM1254.5 748.4h6.9v6.6h-6.9zM1466.0 748.4h6.9v6.6h-6.9zM1260.2 753.8h12.6v6.6h-12.6zM1454.5 753.8h12.6v6.6h-12.6zM1271.7 759.2h18.3v6.6h-18.3zM1437.4 759.2h18.3v6.6h-18.3zM1294.5 764.6h18.3v6.6h-18.3zM1414.5 764.6h18.3v6.6h-18.3zM1328.8 770.0h69.8v6.6h-69.8z"/><path fill="#0020ff" d="M1340.2 186.6h46.9v6.6h-46.9zM1311.7 192.0h12.6v6.6h-12.6zM1403.1 192.0h12.6v6.6h-12.6zM1288.8 197.4h18.3v6.6h-18.3zM1420.3 197.4h18.3v6.6h-18.3zM1271.7 202.8h18.3v6.6h-18.3zM1437.4 202.8h18.3v6.6h-18.3zM1248.8 208.2h29.8v6.6h-29.8zM1448.8 208.2h29.8v6.6h-29.8zM1237.4 213.6h24.1v6.6h-24.1zM1466.0 213.6h24.1v6.6h-24.1zM1231.6 219.0h24.1v6.6h-24.1zM1471.7 219.0h24.1v6.6h-24.1zM1237.4 224.4h18.3v6.6h-18.3zM1471.7 224.4h18.3v6.6h-18.3zM1231.6 229.8h24.1v6.6h-24.1zM1471.7 229.8h24.1v6.6h-24.1zM1220.2 235.2h29.8v6.6h-29.8zM1323.1 235.2h81.2v6.6h-81.2zM1477.4 235.2h29.8v6.6h-29.8zM1203.1 240.6h41.2v6.6h-41.2zM1305.9 240.6h12.6v6.6h-12.6zM1408.8 240.6h12.6v6.6h-12.6zM1483.1 240.6h41.2v6.6h-41.2zM1180.2 246.0h52.6v6.6h-52.6zM1288.8 246.0h24.1v6.6h-24.1zM1414.5 246.0h24.1v6.6h-24.1zM1494.6 246.0h52.6v6.6h-52.6zM1180.2 251.4h24.1v6.6h-24.1zM1294.5 251.4h12.6v6.6h-12.6zM1414.5 251.4h18.3v6.6h-18.3zM1523.1 251.4h24.1v6.6h-24.1zM1300.2 256.9h12.6v6.6h-12.6zM1414.5 256.9h12.6v6.6h-12.6zM1305.9 262.3h12.6v6.6h-12.6zM1408.8 262.3h12.6v6.6h-12.6zM1317.4 267.7h29.8v6.6h-29.8zM1380.2 267.7h29.8v6.6h-29.8zM1203.1 483.7h41.2v6.6h-41.2zM1483.1 483.7h41.2v6.6h-41.2zM1203.1 489.1h6.9v6.6h-6.9zM1260.2 489.1h29.8v6.6h-29.8zM1437.4 489.1h29.8v6.6h-29.8zM1517.4 489.1h6.9v6.6h-6.9zM1288.8 494.5h58.4v6.6h-58.4zM1380.2 494.5h58.4v6.6h-58.4zM1214.5 499.9h12.6v6.6h-12.6zM1500.3 499.9h12.6v6.6h-12.6zM1225.9 505.3h6.9v6.6h-6.9zM1494.6 505.3h6.9v6.6h-6.9zM1231.6 510.7h6.9v6.6h-6.9zM1243.1 516.1h6.9v6.6h-6.9zM1477.4 516.1h6.9v6.6h-6.9zM1254.5 521.5h6.9v6.6h-6.9zM1466.0 521.5h6.9v6.6h-6.9zM1265.9 526.9h6.9v6.6h-6.9zM1454.5 526.9h6.9v6.6h-6.9zM1271.7 532.3h12.6v6.6h-12.6zM1443.1 532.3h12.6v6.6h-12.6zM1283.1 537.7h12.6v6.6h-12.6zM1431.7 537.7h12.6v6.6h-12.6zM1294.5 543.1h12.6v6.6h-12.6zM1420.3 543.1h12.6v6.6h-12.6zM1311.7 548.5h12.6v6.6h-12.6zM1403.1 548.5h12.6v6.6h-12.6zM1328.8 553.9h69.8v6.6h-69.8zM1180.2 607.9h12.6v6.6h-12.6zM1534.6 607.9h12.6v6.6h-12.6zM1180.2 613.3h41.2v6.6h-41.2zM1506.0 613.3h41.2v6.6h-41.2zM1220.2 618.7h24.1v6.6h-24.1zM1483.1 618.7h24.1v6.6h-24.1zM1237.4 624.1h24.1v6.6h-24.1zM1466.0 624.1h24.1v6.6h-24.1zM1248.8 629.5h29.8v6.6h-29.8zM1448.8 629.5h29.8v6.6h-29.8zM1180.2 634.9h6.9v6.6h-6.9zM1265.9 634.9h29.8v6.6h-29.8zM1431.7 634.9h24.1v6.6h-24.1zM1540.3 634.9h6.9v6.6h-6.9zM1180.2 640.3h18.3v6.6h-18.3zM1283.1 640.3h35.5v6.6h-35.5zM1408.8 640.3h35.5v6.6h-35.5zM1528.9 640.3h18.3v6.6h-18.3zM1185.9 645.8h18.3v6.6h-18.3zM1305.9 645.8h115.5v6.6h-115.5zM1523.1 645.8h18.3v6.6h-18.3zM1197.3 651.2h18.3v6.6h-18.3zM1511.7 651.2h18.3v6.6h-18.3zM1208.8 656.6h24.1v6.6h-24.1zM1494.6 656.6h24.1v6.6h-24.1zM1220.2 662.0h18.3v6.6h-18.3zM1483.1 662.0h24.1v6.6h-24.1zM1231.6 667.4h18.3v6.6h-18.3zM1477.4 667.4h18.3v6.6h-18.3zM1243.1 672.8h18.3v6.6h-18.3zM1466.0 672.8h18.3v6.6h-18.3zM1248.8 678.2h18.3v6.6h-18.3zM1460.3 678.2h18.3v6.6h-18.3zM1260.2 683.6h24.1v6.6h-24.1zM1443.1 683.6h24.1v6.6h-24.1zM1271.7 689.0h29.8v6.6h-29.8zM1426.0 689.0h29.8v6.6h-29.8zM1288.8 694.4h41.2v6.6h-41.2zM1397.4 694.4h41.2v6.6h-41.2zM1185.9 699.8h6.9v6.6h-6.9zM1317.4 699.8h92.7v6.6h-92.7zM1534.6 699.8h6.9v6.6h-6.9zM1203.1 710.6h6.9v6.6h-6.9zM1517.4 710.6h6.9v6.6h-6.9zM1208.8 716.0h6.9v6.6h-6.9zM1511.7 716.0h6.9v6.6h-6.9zM1220.2 721.4h6.9v6.6h-6.9zM1500.3 721.4h6.9v6.6h-6.9zM1225.9 726.8h6.9v6.6h-6.9zM1494.6 726.8h6.9v6.6h-6.9zM1231.6 732.2h12.6v6.6h-12.6zM1483.1 732.2h12.6v6.6h-12.6zM1243.1 737.6h6.9v6.6h-6.9zM1477.4 737.6h6.9v6.6h-6.9zM1248.8 743.0h12.6v6.6h-12.6zM1466.0 743.0h6.9v6.6h-6.9zM1260.2 748.4h12.6v6.6h-12.6zM1454.5 748.4h12.6v6.6h-12.6zM1271.7 753.8h12.6v6.6h-12.6zM1443.1 753.8h12.6v6.6h-12.6zM1288.8 759.2h12.6v6.6h-12.6zM1426.0 759.2h12.6v6.6h-12.6zM1311.7 764.6h29.8v6.6h-29.8zM1386.0 764.6h29.8v6.6h-29.8z"/><path fill="#0030ff" d="M1323.1 192.0h18.3v6.6h-18.3zM1386.0 192.0h18.3v6.6h-18.3zM1305.9 197.4h12.6v6.6h-12.6zM1408.8 197.4h12.6v6.6h-12.6zM1288.8 202.8h12.6v6.6h-12.6zM1426.0 202.8h12.6v6.6h-12.6zM1277.4 208.2h12.6v6.6h-12.6zM1437.4 208.2h12.6v6.6h-12.6zM1260.2 213.6h18.3v6.6h-18.3zM1448.8 213.6h18.3v6.6h-18.3zM1254.5 219.0h18.3v6.6h-18.3zM1454.5 219.0h18.3v6.6h-18.3zM1254.5 224.4h18.3v6.6h-18.3zM1454.5 224.4h18.3v6.6h-18.3zM1254.5 229.8h18.3v6.6h-18.3zM1357.4 229.8h12.6v6.6h-12.6zM1454.5 229.8h18.3v6.6h-18.3zM1248.8 235.2h35.5v6.6h-35.5zM1305.9 235.2h18.3v6.6h-18.3zM1403.1 235.2h18.3v6.6h-18.3zM1443.1 235.2h35.5v6.6h-35.5zM1243.1 240.6h64.1v6.6h-64.1zM1420.3 240.6h64.1v6.6h-64.1zM1231.6 246.0h58.4v6.6h-58.4zM1437.4 246.0h58.4v6.6h-58.4zM1203.1 251.4h52.6v6.6h-52.6zM1271.7 251.4h24.1v6.6h-24.1zM1431.7 251.4h24.1v6.6h-24.1zM1471.7 251.4h52.6v6.6h-52.6zM1180.2 256.9h41.2v6.6h-41.2zM1283.1 256.9h18.3v6.6h-18.3zM1426.0 256.9h18.3v6.6h-18.3zM1506.0 256.9h41.2v6.6h-41.2zM1180.2 262.3h6.9v6.6h-6.9zM1294.5 262.3h12.6v6.6h-12.6zM1420.3 262.3h12.6v6.6h-12.6zM1540.3 262.3h6.9v6.6h-6.9zM1305.9 267.7h12.6v6.6h-12.6zM1408.8 267.7h12.6v6.6h-12.6zM1328.8 273.1h69.8v6.6h-69.8zM1180.2 478.3h46.9v6.6h-46.9zM1500.3 478.3h46.9v6.6h-46.9zM1197.3 483.7h6.9v6.6h-6.9zM1243.1 483.7h35.5v6.6h-35.5zM1448.8 483.7h35.5v6.6h-35.5zM1523.1 483.7h6.9v6.6h-6.9zM1197.3 489.1h6.9v6.6h-6.9zM1288.8 489.1h35.5v6.6h-35.5zM1403.1 489.1h35.5v6.6h-35.5zM1523.1 489.1h6.9v6.6h-6.9zM1203.1 494.5h6.9v6.6h-6.9zM1346.0 494.5h35.5v6.6h-35.5zM1517.4 494.5h6.9v6.6h-6.9zM1208.8 499.9h6.9v6.6h-6.9zM1511.7 499.9h6.9v6.6h-6.9zM1220.2 505.3h6.9v6.6h-6.9zM1500.3 505.3h6.9v6.6h-6.9zM1488.8 510.7h6.9v6.6h-6.9zM1237.4 516.1h6.9v6.6h-6.9zM1483.1 516.1h6.9v6.6h-6.9zM1248.8 521.5h6.9v6.6h-6.9zM1471.7 521.5h6.9v6.6h-6.9zM1260.2 526.9h6.9v6.6h-6.9zM1460.3 526.9h6.9v6.6h-6.9zM1265.9 532.3h6.9v6.6h-6.9zM1454.5 532.3h6.9v6.6h-6.9zM1277.4 537.7h6.9v6.6h-6.9zM1443.1 537.7h6.9v6.6h-6.9zM1288.8 543.1h6.9v6.6h-6.9zM1431.7 543.1h6.9v6.6h-6.9zM1300.2 548.5h12.6v6.6h-12.6zM1414.5 548.5h12.6v6.6h-12.6zM1317.4 553.9h12.6v6.6h-12.6zM1397.4 553.9h12.6v6.6h-12.6zM1180.2 597.1h12.6v6.6h-12.6zM1534.6 597.1h12.6v6.6h-12.6zM1180.2 602.5h24.1v6.6h-24.1zM1523.1 602.5h24.1v6.6h-24.1zM1191.6 607.9h29.8v6.6h-29.8zM1500.3 607.9h35.5v6.6h-35.5zM1220.2 613.3h24.1v6.6h-24.1zM1483.1 613.3h24.1v6.6h-24.1zM1243.1 618.7h18.3v6.6h-18.3zM1466.0 618.7h18.3v6.6h-18.3zM1260.2 624.1h18.3v6.6h-18.3zM1443.1 624.1h24.1v6.6h-24.1zM1277.4 629.5h24.1v6.6h-24.1zM1426.0 629.5h24.1v6.6h-24.1zM1294.5 634.9h35.5v6.6h-35.5zM1397.4 634.9h35.5v6.6h-35.5zM1317.4 640.3h92.7v6.6h-92.7zM1180.2 645.8h6.9v6.6h-6.9zM1540.3 645.8h6.9v6.6h-6.9zM1185.9 651.2h12.6v6.6h-12.6zM1528.9 651.2h12.6v6.6h-12.6zM1197.3 656.6h12.6v6.6h-12.6zM1517.4 656.6h12.6v6.6h-12.6zM1203.1 662.0h18.3v6.6h-18.3zM1506.0 662.0h18.3v6.6h-18.3zM1214.5 667.4h18.3v6.6h-18.3zM1494.6 667.4h18.3v6.6h-18.3zM1225.9 672.8h18.3v6.6h-18.3zM1483.1 672.8h18.3v6.6h-18.3zM1237.4 678.2h12.6v6.6h-12.6zM1477.4 678.2h12.6v6.6h-12.6zM1243.1 683.6h18.3v6.6h-18.3zM1466.0 683.6h12.6v6.6h-12.6zM1254.5 689.0h18.3v6.6h-18.3zM1454.5 689.0h18.3v6.6h-18.3zM1180.2 694.4h6.9v6.6h-6.9zM1265.9 694.4h24.1v6.6h-24.1zM1437.4 694.4h24.1v6.6h-24.1zM1540.3 694.4h6.9v6.6h-6.9zM1191.6 699.8h6.9v6.6h-6.9zM1288.8 699.8h29.8v6.6h-29.8zM1408.8 699.8h29.8v6.6h-29.8zM1528.9 699.8h6.9v6.6h-6.9zM1197.3 705.2h6.9v6.6h-6.9zM1311.7 705.2h104.1v6.6h-104.1zM1523.1 705.2h6.9v6.6h-6.9zM1208.8 710.6h6.9v6.6h-6.9zM1511.7 710.6h6.9v6.6h-6.9zM1214.5 716.0h6.9v6.6h-6.9zM1506.0 716.0h6.9v6.6h-6.9zM1225.9 721.4h6.9v6.6h-6.9zM1494.6 721.4h6.9v6.6h-6.9zM1231.6 726.8h6.9v6.6h-6.9zM1488.8 726.8h6.9v6.6h-6.9zM1243.1 732.2h6.9v6.6h-6.9zM1477.4 732.2h6.9v6.6h-6.9zM1248.8 737.6h6.9v6.6h-6.9zM1471.7 737.6h6.9v6.6h-6.9zM1260.2 743.0h6.9v6.6h-6.9zM1460.3 743.0h6.9v6.6h-6.9zM1271.7 748.4h6.9v6.6h-6.9zM1448.8 748.4h6.9v6.6h-6.9zM1283.1 753.8h6.9v6.6h-6.9zM1437.4 753.8h6.9v6.6h-6.9zM1300.2 759.2h18.3v6.6h-18.3zM1408.8 759.2h18.3v6.6h-18.3zM1340.2 764.6h46.9v6.6h-46.9z"/><path fill="#0040ff" d="M1340.2 192.0h46.9v6.6h-46.9zM1317.4 197.4h12.6v6.6h-12.6zM1397.4 197.4h12.6v6.6h-12.6zM1300.2 202.8h12.6v6.6h-12.6zM1414.5 202.8h12.6v6.6h-12.6zM1288.8 208.2h12.6v6.6h-12.6zM1426.0 208.2h12.6v6.6h-12.6zM1277.4 213.6h12.6v6.6h-12.6zM1437.4 213.6h12.6v6.6h-12.6zM1271.7 219.0h12.6v6.6h-12.6zM1443.1 219.0h12.6v6.6h-12.6zM1271.7 224.4h12.6v6.6h-12.6zM1443.1 224.4h12.6v6.6h-12.6zM1271.7 229.8h24.1v6.6h-24.1zM1323.1 229.8h35.5v6.6h-35.5zM1368.8 229.8h35.5v6.6h-35.5zM1431.7 229.8h24.1v6.6h-24.1zM1283.1 235.2h24.1v6.6h-24.1zM1420.3 235.2h24.1v6.6h-24.1zM1254.5 251.4h18.3v6.6h-18.3zM1454.5 251.4h18.3v6.6h-18.3zM1220.2 256.9h64.1v6.6h-64.1zM1443.1 256.9h64.1v6.6h-64.1zM1185.9 262.3h46.9v6.6h-46.9zM1271.7 262.3h24.1v6.6h-24.1zM1431.7 262.3h24.1v6.6h-24.1zM1494.6 262.3h46.9v6.6h-46.9zM1180.2 267.7h24.1v6.6h-24.1zM1288.8 267.7h18.3v6.6h-18.3zM1420.3 267.7h18.3v6.6h-18.3zM1523.1 267.7h24.1v6.6h-24.1zM1311.7 273.1h18.3v6.6h-18.3zM1397.4 273.1h12.6v6.6h-12.6zM1225.9 478.3h24.1v6.6h-24.1zM1477.4 478.3h24.1v6.6h-24.1zM1185.9 483.7h12.6v6.6h-12.6zM1277.4 483.7h24.1v6.6h-24.1zM1426.0 483.7h24.1v6.6h-24.1zM1528.9 483.7h12.6v6.6h-12.6zM1323.1 489.1h81.2v6.6h-81.2zM1203.1 499.9h6.9v6.6h-6.9zM1517.4 499.9h6.9v6.6h-6.9zM1214.5 505.3h6.9v6.6h-6.9zM1506.0 505.3h6.9v6.6h-6.9zM1225.9 510.7h6.9v6.6h-6.9zM1494.6 510.7h6.9v6.6h-6.9zM1231.6 516.1h6.9v6.6h-6.9zM1488.8 516.1h6.9v6.6h-6.9zM1243.1 521.5h6.9v6.6h-6.9zM1477.4 521.5h6.9v6.6h-6.9zM1254.5 526.9h6.9v6.6h-6.9zM1466.0 526.9h6.9v6.6h-6.9zM1260.2 532.3h6.9v6.6h-6.9zM1460.3 532.3h6.9v6.6h-6.9zM1265.9 537.7h12.6v6.6h-12.6zM1448.8 537.7h6.9v6.6h-6.9zM1283.1 543.1h6.9v6.6h-6.9zM1437.4 543.1h6.9v6.6h-6.9zM1294.5 548.5h6.9v6.6h-6.9zM1426.0 548.5h6.9v6.6h-6.9zM1305.9 553.9h12.6v6.6h-12.6zM1408.8 553.9h6.9v6.6h-6.9zM1328.8 559.3h69.8v6.6h-69.8zM1180.2 580.9h6.9v6.6h-6.9zM1540.3 580.9h6.9v6.6h-6.9zM1180.2 586.3h12.6v6.6h-12.6zM1534.6 586.3h12.6v6.6h-12.6zM1180.2 591.7h18.3v6.6h-18.3zM1528.9 591.7h18.3v6.6h-18.3zM1191.6 597.1h18.3v6.6h-18.3zM1517.4 597.1h18.3v6.6h-18.3zM1203.1 602.5h24.1v6.6h-24.1zM1500.3 602.5h24.1v6.6h-24.1zM1220.2 607.9h24.1v6.6h-24.1zM1483.1 607.9h18.3v6.6h-18.3zM1243.1 613.3h18.3v6.6h-18.3zM1466.0 613.3h18.3v6.6h-18.3zM1260.2 618.7h18.3v6.6h-18.3zM1448.8 618.7h18.3v6.6h-18.3zM1277.4 624.1h29.8v6.6h-29.8zM1420.3 624.1h24.1v6.6h-24.1zM1300.2 629.5h29.8v6.6h-29.8zM1397.4 629.5h29.8v6.6h-29.8zM1328.8 634.9h69.8v6.6h-69.8zM1180.2 651.2h6.9v6.6h-6.9zM1540.3 651.2h6.9v6.6h-6.9zM1180.2 656.6h18.3v6.6h-18.3zM1528.9 656.6h18.3v6.6h-18.3zM1191.6 662.0h12.6v6.6h-12.6zM1523.1 662.0h12.6v6.6h-12.6zM1203.1 667.4h12.6v6.6h-12.6zM1511.7 667.4h12.6v6.6h-12.6zM1214.5 672.8h12.6v6.6h-12.6zM1500.3 672.8h12.6v6.6h-12.6zM1225.9 678.2h12.6v6.6h-12.6zM1488.8 678.2h12.6v6.6h-12.6zM1231.6 683.6h12.6v6.6h-12.6zM1477.4 683.6h18.3v6.6h-18.3zM1243.1 689.0h12.6v6.6h-12.6zM1471.7 689.0h12.6v6.6h-12.6zM1185.9 694.4h6.9v6.6h-6.9zM1254.5 694.4h12.6v6.6h-12.6zM1460.3 694.4h12.6v6.6h-12.6zM1534.6 694.4h6.9v6.6h-6.9zM1197.3 699.8h6.9v6.6h-6.9zM1265.9 699.8h24.1v6.6h-24.1zM1437.4 699.8h24.1v6.6h-24.1zM1523.1 699.8h6.9v6.6h-6.9zM1203.1 705.2h6.9v6.6h-6.9zM1283.1 705.2h29.8v6.6h-29.8zM1414.5 705.2h24.1v6.6h-24.1zM1517.4 705.2h6.9v6.6h-6.9zM1214.5 710.6h6.9v6.6h-6.9zM1305.9 710.6h115.5v6.6h-115.5zM1506.0 710.6h6.9v6.6h-6.9zM1220.2 716.0h6.9v6.6h-6.9zM1500.3 716.0h6.9v6.6h-6.9zM1488.8 721.4h6.9v6.6h-6.9zM1237.4 726.8h12.6v6.6h-12.6zM1477.4 726.8h12.6v6.6h-12.6zM1248.8 732.2h6.9v6.6h-6.9zM1471.7 732.2h6.9v6.6h-6.9zM1254.5 737.6h6.9v6.6h-6.9zM1466.0 737.6h6.9v6.6h-6.9zM1265.9 743.0h6.9v6.6h-6.9zM1454.5 743.0h6.9v6.6h-6.9zM1277.4 748.4h12.6v6.6h-12.6zM1437.4 748.4h12.6v6.6h-12.6zM1288.8 753.8h12.6v6.6h-12.6zM1426.0 753.8h12.6v6.6h-12.6zM1317.4 759.2h24.1v6.6h-24.1zM1386.0 759.2h24.1v6.6h-24.1z"/><path fill="#0050ff" d="M1328.8 197.4h12.6v6.6h-12.6zM1386.0 197.4h12.6v6.6h-12.6zM1311.7 202.8h12.6v6.6h-12.6zM1403.1 202.8h12.6v6.6h-12.6zM1300.2 208.2h12.6v6.6h-12.6zM1414.5 208.2h12.6v6.6h-12.6zM1288.8 213.6h12.6v6.6h-12.6zM1426.0 213.6h12.6v6.6h-12.6zM1283.1 219.0h12.6v6.6h-12.6zM1431.7 219.0h12.6v6.6h-12.6zM1283.1 224.4h18.3v6.6h-18.3zM1357.4 224.4h12.6v6.6h-12.6zM1426.0 224.4h18.3v6.6h-18.3zM1294.5 229.8h29.8v6.6h-29.8zM1403.1 229.8h29.8v6.6h-29.8zM1231.6 262.3h41.2v6.6h-41.2zM1454.5 262.3h41.2v6.6h-41.2zM1203.1 267.7h86.9v6.6h-86.9zM1437.4 267.7h86.9v6.6h-86.9zM1180.2 273.1h35.5v6.6h-35.5zM1300.2 273.1h12.6v6.6h-12.6zM1408.8 273.1h18.3v6.6h-18.3zM1511.7 273.1h35.5v6.6h-35.5zM1180.2 278.5h18.3v6.6h-18.3zM1334.5 278.5h58.4v6.6h-58.4zM1528.9 278.5h18.3v6.6h-18.3zM1180.2 283.9h12.6v6.6h-12.6zM1534.6 283.9h12.6v6.6h-12.6zM1180.2 289.3h6.9v6.6h-6.9zM1540.3 289.3h6.9v6.6h-6.9zM1180.2 472.9h41.2v6.6h-41.2zM1506.0 472.9h41.2v6.6h-41.2zM1248.8 478.3h29.8v6.6h-29.8zM1448.8 478.3h29.8v6.6h-29.8zM1180.2 483.7h6.9v6.6h-6.9zM1300.2 483.7h24.1v6.6h-24.1zM1403.1 483.7h24.1v6.6h-24.1zM1540.3 483.7h6.9v6.6h-6.9zM1191.6 489.1h6.9v6.6h-6.9zM1528.9 489.1h6.9v6.6h-6.9zM1197.3 494.5h6.9v6.6h-6.9zM1523.1 494.5h6.9v6.6h-6.9zM1208.8 505.3h6.9v6.6h-6.9zM1511.7 505.3h6.9v6.6h-6.9zM1220.2 510.7h6.9v6.6h-6.9zM1500.3 510.7h6.9v6.6h-6.9zM1237.4 521.5h6.9v6.6h-6.9zM1483.1 521.5h6.9v6.6h-6.9zM1248.8 526.9h6.9v6.6h-6.9zM1471.7 526.9h6.9v6.6h-6.9zM1254.5 532.3h6.9v6.6h-6.9zM1466.0 532.3h6.9v6.6h-6.9zM1454.5 537.7h6.9v6.6h-6.9zM1277.4 543.1h6.9v6.6h-6.9zM1443.1 543.1h6.9v6.6h-6.9zM1288.8 548.5h6.9v6.6h-6.9zM1431.7 548.5h6.9v6.6h-6.9zM1300.2 553.9h6.9v6.6h-6.9zM1414.5 553.9h12.6v6.6h-12.6zM1317.4 559.3h12.6v6.6h-12.6zM1397.4 559.3h12.6v6.6h-12.6zM1180.2 575.5h12.6v6.6h-12.6zM1534.6 575.5h12.6v6.6h-12.6zM1185.9 580.9h12.6v6.6h-12.6zM1528.9 580.9h12.6v6.6h-12.6zM1191.6 586.3h18.3v6.6h-18.3zM1517.4 586.3h18.3v6.6h-18.3zM1197.3 591.7h18.3v6.6h-18.3zM1511.7 591.7h18.3v6.6h-18.3zM1208.8 597.1h18.3v6.6h-18.3zM1500.3 597.1h18.3v6.6h-18.3zM1225.9 602.5h12.6v6.6h-12.6zM1488.8 602.5h12.6v6.6h-12.6zM1243.1 607.9h12.6v6.6h-12.6zM1471.7 607.9h12.6v6.6h-12.6zM1260.2 613.3h12.6v6.6h-12.6zM1454.5 613.3h12.6v6.6h-12.6zM1277.4 618.7h24.1v6.6h-24.1zM1426.0 618.7h24.1v6.6h-24.1zM1305.9 624.1h24.1v6.6h-24.1zM1397.4 624.1h24.1v6.6h-24.1zM1328.8 629.5h69.8v6.6h-69.8zM1180.2 662.0h12.6v6.6h-12.6zM1534.6 662.0h12.6v6.6h-12.6zM1185.9 667.4h18.3v6.6h-18.3zM1523.1 667.4h18.3v6.6h-18.3zM1197.3 672.8h18.3v6.6h-18.3zM1511.7 672.8h18.3v6.6h-18.3zM1208.8 678.2h18.3v6.6h-18.3zM1500.3 678.2h12.6v6.6h-12.6zM1220.2 683.6h12.6v6.6h-12.6zM1494.6 683.6h12.6v6.6h-12.6zM1180.2 689.0h12.6v6.6h-12.6zM1225.9 689.0h18.3v6.6h-18.3zM1483.1 689.0h18.3v6.6h-18.3zM1534.6 689.0h12.6v6.6h-12.6zM1191.6 694.4h12.6v6.6h-12.6zM1237.4 694.4h18.3v6.6h-18.3zM1471.7 694.4h18.3v6.6h-18.3zM1523.1 694.4h12.6v6.6h-12.6zM1203.1 699.8h6.9v6.6h-6.9zM1248.8 699.8h18.3v6.6h-18.3zM1460.3 699.8h18.3v6.6h-18.3zM1517.4 699.8h6.9v6.6h-6.9zM1208.8 705.2h12.6v6.6h-12.6zM1260.2 705.2h24.1v6.6h-24.1zM1437.4 705.2h29.8v6.6h-29.8zM1506.0 705.2h12.6v6.6h-12.6zM1220.2 710.6h12.6v6.6h-12.6zM1283.1 710.6h24.1v6.6h-24.1zM1420.3 710.6h24.1v6.6h-24.1zM1494.6 710.6h12.6v6.6h-12.6zM1225.9 716.0h6.9v6.6h-6.9zM1300.2 716.0h126.9v6.6h-126.9zM1494.6 716.0h6.9v6.6h-6.9zM1231.6 721.4h12.6v6.6h-12.6zM1328.8 721.4h69.8v6.6h-69.8zM1483.1 721.4h6.9v6.6h-6.9zM1248.8 726.8h6.9v6.6h-6.9zM1471.7 726.8h6.9v6.6h-6.9zM1254.5 732.2h6.9v6.6h-6.9zM1460.3 732.2h12.6v6.6h-12.6zM1260.2 737.6h6.9v6.6h-6.9zM1460.3 737.6h6.9v6.6h-6.9zM1271.7 743.0h12.6v6.6h-12.6zM1443.1 743.0h12.6v6.6h-12.6zM1288.8 748.4h6.9v6.6h-6.9zM1431.7 748.4h6.9v6.6h-6.9zM1300.2 753.8h29.8v6.6h-29.8zM1397.4 753.8h29.8v6.6h-29.8zM1340.2 759.2h46.9v6.6h-46.9z"/><path fill="#0060ff" d="M1340.2 197.4h18.3v6.6h-18.3zM1368.8 197.4h18.3v6.6h-18.3zM1323.1 202.8h12.6v6.6h-12.6zM1391.7 202.8h12.6v6.6h-12.6zM1311.7 208.2h12.6v6.6h-12.6zM1403.1 208.2h12.6v6.6h-12.6zM1300.2 213.6h12.6v6.6h-12.6zM1414.5 213.6h12.6v6.6h-12.6zM1294.5 219.0h18.3v6.6h-18.3zM1414.5 219.0h18.3v6.6h-18.3zM1300.2 224.4h58.4v6.6h-58.4zM1368.8 224.4h58.4v6.6h-58.4zM1214.5 273.1h86.9v6.6h-86.9zM1426.0 273.1h86.9v6.6h-86.9zM1197.3 278.5h35.5v6.6h-35.5zM1311.7 278.5h24.1v6.6h-24.1zM1391.7 278.5h24.1v6.6h-24.1zM1494.6 278.5h35.5v6.6h-35.5zM1191.6 283.9h24.1v6.6h-24.1zM1511.7 283.9h24.1v6.6h-24.1zM1185.9 289.3h18.3v6.6h-18.3zM1523.1 289.3h18.3v6.6h-18.3zM1180.2 294.7h12.6v6.6h-12.6zM1534.6 294.7h12.6v6.6h-12.6zM1220.2 472.9h24.1v6.6h-24.1zM1483.1 472.9h24.1v6.6h-24.1zM1277.4 478.3h24.1v6.6h-24.1zM1426.0 478.3h24.1v6.6h-24.1zM1323.1 483.7h81.2v6.6h-81.2zM1185.9 489.1h6.9v6.6h-6.9zM1534.6 489.1h6.9v6.6h-6.9zM1197.3 499.9h6.9v6.6h-6.9zM1523.1 499.9h6.9v6.6h-6.9zM1203.1 505.3h6.9v6.6h-6.9zM1517.4 505.3h6.9v6.6h-6.9zM1214.5 510.7h6.9v6.6h-6.9zM1506.0 510.7h6.9v6.6h-6.9zM1225.9 516.1h6.9v6.6h-6.9zM1494.6 516.1h6.9v6.6h-6.9zM1231.6 521.5h6.9v6.6h-6.9zM1488.8 521.5h6.9v6.6h-6.9zM1243.1 526.9h6.9v6.6h-6.9zM1477.4 526.9h6.9v6.6h-6.9zM1260.2 537.7h6.9v6.6h-6.9zM1460.3 537.7h6.9v6.6h-6.9zM1271.7 543.1h6.9v6.6h-6.9zM1448.8 543.1h6.9v6.6h-6.9zM1180.2 548.5h6.9v6.6h-6.9zM1283.1 548.5h6.9v6.6h-6.9zM1437.4 548.5h6.9v6.6h-6.9zM1540.3 548.5h6.9v6.6h-6.9zM1180.2 553.9h6.9v6.6h-6.9zM1294.5 553.9h6.9v6.6h-6.9zM1426.0 553.9h6.9v6.6h-6.9zM1540.3 553.9h6.9v6.6h-6.9zM1180.2 559.3h6.9v6.6h-6.9zM1311.7 559.3h6.9v6.6h-6.9zM1408.8 559.3h6.9v6.6h-6.9zM1540.3 559.3h6.9v6.6h-6.9zM1180.2 564.7h12.6v6.6h-12.6zM1340.2 564.7h46.9v6.6h-46.9zM1534.6 564.7h12.6v6.6h-12.6zM1180.2 570.1h12.6v6.6h-12.6zM1534.6 570.1h12.6v6.6h-12.6zM1191.6 575.5h12.6v6.6h-12.6zM1523.1 575.5h12.6v6.6h-12.6zM1197.3 580.9h12.6v6.6h-12.6zM1517.4 580.9h12.6v6.6h-12.6zM1208.8 586.3h6.9v6.6h-6.9zM1511.7 586.3h6.9v6.6h-6.9zM1214.5 591.7h12.6v6.6h-12.6zM1500.3 591.7h12.6v6.6h-12.6zM1225.9 597.1h12.6v6.6h-12.6zM1488.8 597.1h12.6v6.6h-12.6zM1237.4 602.5h12.6v6.6h-12.6zM1477.4 602.5h12.6v6.6h-12.6zM1254.5 607.9h12.6v6.6h-12.6zM1460.3 607.9h12.6v6.6h-12.6zM1271.7 613.3h24.1v6.6h-24.1zM1431.7 613.3h24.1v6.6h-24.1zM1300.2 618.7h29.8v6.6h-29.8zM1397.4 618.7h29.8v6.6h-29.8zM1328.8 624.1h69.8v6.6h-69.8zM1180.2 667.4h6.9v6.6h-6.9zM1540.3 667.4h6.9v6.6h-6.9zM1180.2 672.8h18.3v6.6h-18.3zM1528.9 672.8h18.3v6.6h-18.3zM1180.2 678.2h29.8v6.6h-29.8zM1511.7 678.2h35.5v6.6h-35.5zM1180.2 683.6h41.2v6.6h-41.2zM1506.0 683.6h41.2v6.6h-41.2zM1191.6 689.0h18.3v6.6h-18.3zM1214.5 689.0h12.6v6.6h-12.6zM1500.3 689.0h12.6v6.6h-12.6zM1517.4 689.0h18.3v6.6h-18.3zM1203.1 694.4h6.9v6.6h-6.9zM1214.5 694.4h24.1v6.6h-24.1zM1488.8 694.4h24.1v6.6h-24.1zM1517.4 694.4h6.9v6.6h-6.9zM1208.8 699.8h41.2v6.6h-41.2zM1477.4 699.8h41.2v6.6h-41.2zM1220.2 705.2h41.2v6.6h-41.2zM1466.0 705.2h41.2v6.6h-41.2zM1231.6 710.6h6.9v6.6h-6.9zM1248.8 710.6h35.5v6.6h-35.5zM1443.1 710.6h35.5v6.6h-35.5zM1488.8 710.6h6.9v6.6h-6.9zM1231.6 716.0h12.6v6.6h-12.6zM1271.7 716.0h29.8v6.6h-29.8zM1426.0 716.0h29.8v6.6h-29.8zM1483.1 716.0h12.6v6.6h-12.6zM1243.1 721.4h18.3v6.6h-18.3zM1283.1 721.4h46.9v6.6h-46.9zM1397.4 721.4h46.9v6.6h-46.9zM1466.0 721.4h18.3v6.6h-18.3zM1254.5 726.8h12.6v6.6h-12.6zM1311.7 726.8h104.1v6.6h-104.1zM1460.3 726.8h12.6v6.6h-12.6zM1260.2 732.2h12.6v6.6h-12.6zM1454.5 732.2h6.9v6.6h-6.9zM1265.9 737.6h18.3v6.6h-18.3zM1443.1 737.6h18.3v6.6h-18.3zM1283.1 743.0h12.6v6.6h-12.6zM1431.7 743.0h12.6v6.6h-12.6zM1294.5 748.4h35.5v6.6h-35.5zM1397.4 748.4h35.5v6.6h-35.5zM1328.8 753.8h29.8v6.6h-29.8zM1368.8 753.8h29.8v6.6h-29.8z"/><path fill="#0070ff" d="M1357.4 197.4h12.6v6.6h-12.6zM1334.5 202.8h18.3v6.6h-18.3zM1374.5 202.8h18.3v6.6h-18.3zM1323.1 208.2h12.6v6.6h-12.6zM1391.7 208.2h12.6v6.6h-12.6zM1311.7 213.6h18.3v6.6h-18.3zM1397.4 213.6h18.3v6.6h-18.3zM1311.7 219.0h104.1v6.6h-104.1zM1231.6 278.5h81.2v6.6h-81.2zM1414.5 278.5h81.2v6.6h-81.2zM1214.5 283.9h18.3v6.6h-18.3zM1494.6 283.9h18.3v6.6h-18.3zM1203.1 289.3h12.6v6.6h-12.6zM1511.7 289.3h12.6v6.6h-12.6zM1191.6 294.7h12.6v6.6h-12.6zM1523.1 294.7h12.6v6.6h-12.6zM1317.4 397.3h92.7v6.6h-92.7zM1311.7 402.7h104.1v6.6h-104.1zM1317.4 408.1h92.7v6.6h-92.7zM1180.2 467.5h24.1v6.6h-24.1zM1523.1 467.5h24.1v6.6h-24.1zM1243.1 472.9h24.1v6.6h-24.1zM1460.3 472.9h24.1v6.6h-24.1zM1300.2 478.3h24.1v6.6h-24.1zM1403.1 478.3h24.1v6.6h-24.1zM1180.2 489.1h6.9v6.6h-6.9zM1540.3 489.1h6.9v6.6h-6.9zM1191.6 494.5h6.9v6.6h-6.9zM1528.9 494.5h6.9v6.6h-6.9zM1208.8 510.7h6.9v6.6h-6.9zM1220.2 516.1h6.9v6.6h-6.9zM1500.3 516.1h6.9v6.6h-6.9zM1237.4 526.9h6.9v6.6h-6.9zM1483.1 526.9h6.9v6.6h-6.9zM1248.8 532.3h6.9v6.6h-6.9zM1471.7 532.3h6.9v6.6h-6.9zM1254.5 537.7h6.9v6.6h-6.9zM1466.0 537.7h6.9v6.6h-6.9zM1180.2 543.1h6.9v6.6h-6.9zM1265.9 543.1h6.9v6.6h-6.9zM1454.5 543.1h6.9v6.6h-6.9zM1540.3 543.1h6.9v6.6h-6.9zM1277.4 548.5h6.9v6.6h-6.9zM1443.1 548.5h6.9v6.6h-6.9zM1185.9 553.9h6.9v6.6h-6.9zM1288.8 553.9h6.9v6.6h-6.9zM1431.7 553.9h6.9v6.6h-6.9zM1534.6 553.9h6.9v6.6h-6.9zM1185.9 559.3h6.9v6.6h-6.9zM1305.9 559.3h6.9v6.6h-6.9zM1414.5 559.3h6.9v6.6h-6.9zM1534.6 559.3h6.9v6.6h-6.9zM1191.6 564.7h6.9v6.6h-6.9zM1323.1 564.7h18.3v6.6h-18.3zM1386.0 564.7h18.3v6.6h-18.3zM1528.9 564.7h6.9v6.6h-6.9zM1191.6 570.1h12.6v6.6h-12.6zM1523.1 570.1h12.6v6.6h-12.6zM1203.1 575.5h6.9v6.6h-6.9zM1517.4 575.5h6.9v6.6h-6.9zM1208.8 580.9h12.6v6.6h-12.6zM1506.0 580.9h12.6v6.6h-12.6zM1214.5 586.3h12.6v6.6h-12.6zM1500.3 586.3h12.6v6.6h-12.6zM1225.9 591.7h12.6v6.6h-12.6zM1488.8 591.7h12.6v6.6h-12.6zM1237.4 597.1h12.6v6.6h-12.6zM1477.4 597.1h12.6v6.6h-12.6zM1248.8 602.5h12.6v6.6h-12.6zM1466.0 602.5h12.6v6.6h-12.6zM1265.9 607.9h18.3v6.6h-18.3zM1443.1 607.9h18.3v6.6h-18.3zM1294.5 613.3h24.1v6.6h-24.1zM1408.8 613.3h24.1v6.6h-24.1zM1328.8 618.7h69.8v6.6h-69.8zM1208.8 689.0h6.9v6.6h-6.9zM1511.7 689.0h6.9v6.6h-6.9zM1208.8 694.4h6.9v6.6h-6.9zM1511.7 694.4h6.9v6.6h-6.9zM1237.4 710.6h12.6v6.6h-12.6zM1477.4 710.6h12.6v6.6h-12.6zM1243.1 716.0h29.8v6.6h-29.8zM1454.5 716.0h29.8v6.6h-29.8zM1260.2 721.4h24.1v6.6h-24.1zM1443.1 721.4h24.1v6.6h-24.1zM1265.9 726.8h46.9v6.6h-46.9zM1414.5 726.8h46.9v6.6h-46.9zM1271.7 732.2h184.1v6.6h-184.1zM1283.1 737.6h161.2v6.6h-161.2zM1294.5 743.0h138.4v6.6h-138.4zM1328.8 748.4h69.8v6.6h-69.8zM1357.4 753.8h12.6v6.6h-12.6z"/><path fill="#0080ff" d="M1351.7 202.8h24.1v6.6h-24.1zM1334.5 208.2h58.4v6.6h-58.4zM1328.8 213.6h69.8v6.6h-69.8zM1231.6 283.9h41.2v6.6h-41.2zM1311.7 283.9h104.1v6.6h-104.1zM1454.5 283.9h41.2v6.6h-41.2zM1214.5 289.3h18.3v6.6h-18.3zM1494.6 289.3h18.3v6.6h-18.3zM1203.1 294.7h12.6v6.6h-12.6zM1511.7 294.7h12.6v6.6h-12.6zM1180.2 300.1h12.6v6.6h-12.6zM1534.6 300.1h12.6v6.6h-12.6zM1351.7 386.5h24.1v6.6h-24.1zM1311.7 391.9h104.1v6.6h-104.1zM1300.2 397.3h18.3v6.6h-18.3zM1408.8 397.3h18.3v6.6h-18.3zM1294.5 402.7h18.3v6.6h-18.3zM1414.5 402.7h18.3v6.6h-18.3zM1300.2 408.1h18.3v6.6h-18.3zM1408.8 408.1h18.3v6.6h-18.3zM1317.4 413.5h92.7v6.6h-92.7zM1203.1 467.5h29.8v6.6h-29.8zM1494.6 467.5h29.8v6.6h-29.8zM1265.9 472.9h24.1v6.6h-24.1zM1437.4 472.9h24.1v6.6h-24.1zM1323.1 478.3h81.2v6.6h-81.2zM1197.3 505.3h6.9v6.6h-6.9zM1511.7 510.7h6.9v6.6h-6.9zM1225.9 521.5h6.9v6.6h-6.9zM1494.6 521.5h6.9v6.6h-6.9zM1243.1 532.3h6.9v6.6h-6.9zM1477.4 532.3h6.9v6.6h-6.9zM1180.2 537.7h6.9v6.6h-6.9zM1540.3 537.7h6.9v6.6h-6.9zM1260.2 543.1h6.9v6.6h-6.9zM1460.3 543.1h6.9v6.6h-6.9zM1185.9 548.5h6.9v6.6h-6.9zM1271.7 548.5h6.9v6.6h-6.9zM1448.8 548.5h6.9v6.6h-6.9zM1534.6 548.5h6.9v6.6h-6.9zM1283.1 553.9h6.9v6.6h-6.9zM1437.4 553.9h6.9v6.6h-6.9zM1191.6 559.3h6.9v6.6h-6.9zM1300.2 559.3h6.9v6.6h-6.9zM1420.3 559.3h6.9v6.6h-6.9zM1528.9 559.3h6.9v6.6h-6.9zM1197.3 564.7h6.9v6.6h-6.9zM1317.4 564.7h6.9v6.6h-6.9zM1403.1 564.7h6.9v6.6h-6.9zM1523.1 564.7h6.9v6.6h-6.9zM1203.1 570.1h6.9v6.6h-6.9zM1517.4 570.1h6.9v6.6h-6.9zM1208.8 575.5h6.9v6.6h-6.9zM1506.0 575.5h12.6v6.6h-12.6zM1220.2 580.9h6.9v6.6h-6.9zM1500.3 580.9h6.9v6.6h-6.9zM1225.9 586.3h6.9v6.6h-6.9zM1488.8 586.3h12.6v6.6h-12.6zM1237.4 591.7h6.9v6.6h-6.9zM1483.1 591.7h6.9v6.6h-6.9zM1248.8 597.1h6.9v6.6h-6.9zM1471.7 597.1h6.9v6.6h-6.9zM1260.2 602.5h12.6v6.6h-12.6zM1454.5 602.5h12.6v6.6h-12.6zM1283.1 607.9h12.6v6.6h-12.6zM1431.7 607.9h12.6v6.6h-12.6zM1317.4 613.3h92.7v6.6h-92.7z"/><path fill="#008fff" d="M1271.7 283.9h41.2v6.6h-41.2zM1414.5 283.9h41.2v6.6h-41.2zM1231.6 289.3h24.1v6.6h-24.1zM1471.7 289.3h24.1v6.6h-24.1zM1214.5 294.7h6.9v6.6h-6.9zM1500.3 294.7h12.6v6.6h-12.6zM1191.6 300.1h12.6v6.6h-12.6zM1523.1 300.1h12.6v6.6h-12.6zM1317.4 386.5h35.5v6.6h-35.5zM1374.5 386.5h35.5v6.6h-35.5zM1300.2 391.9h12.6v6.6h-12.6zM1414.5 391.9h12.6v6.6h-12.6zM1294.5 397.3h6.9v6.6h-6.9zM1426.0 397.3h6.9v6.6h-6.9zM1288.8 402.7h6.9v6.6h-6.9zM1431.7 402.7h6.9v6.6h-6.9zM1294.5 408.1h6.9v6.6h-6.9zM1426.0 408.1h6.9v6.6h-6.9zM1300.2 413.5h18.3v6.6h-18.3zM1408.8 413.5h18.3v6.6h-18.3zM1328.8 418.9h69.8v6.6h-69.8zM1231.6 467.5h24.1v6.6h-24.1zM1471.7 467.5h24.1v6.6h-24.1zM1288.8 472.9h24.1v6.6h-24.1zM1414.5 472.9h24.1v6.6h-24.1zM1185.9 494.5h6.9v6.6h-6.9zM1534.6 494.5h6.9v6.6h-6.9zM1191.6 499.9h6.9v6.6h-6.9zM1528.9 499.9h6.9v6.6h-6.9zM1523.1 505.3h6.9v6.6h-6.9zM1203.1 510.7h6.9v6.6h-6.9zM1517.4 510.7h6.9v6.6h-6.9zM1214.5 516.1h6.9v6.6h-6.9zM1506.0 516.1h6.9v6.6h-6.9zM1231.6 526.9h6.9v6.6h-6.9zM1488.8 526.9h6.9v6.6h-6.9zM1237.4 532.3h6.9v6.6h-6.9zM1483.1 532.3h6.9v6.6h-6.9zM1248.8 537.7h6.9v6.6h-6.9zM1471.7 537.7h6.9v6.6h-6.9zM1185.9 543.1h6.9v6.6h-6.9zM1534.6 543.1h6.9v6.6h-6.9zM1265.9 548.5h6.9v6.6h-6.9zM1454.5 548.5h6.9v6.6h-6.9zM1191.6 553.9h6.9v6.6h-6.9zM1528.9 553.9h6.9v6.6h-6.9zM1197.3 559.3h6.9v6.6h-6.9zM1294.5 559.3h6.9v6.6h-6.9zM1426.0 559.3h6.9v6.6h-6.9zM1523.1 559.3h6.9v6.6h-6.9zM1203.1 564.7h6.9v6.6h-6.9zM1305.9 564.7h12.6v6.6h-12.6zM1408.8 564.7h6.9v6.6h-6.9zM1517.4 564.7h6.9v6.6h-6.9zM1208.8 570.1h6.9v6.6h-6.9zM1334.5 570.1h58.4v6.6h-58.4zM1511.7 570.1h6.9v6.6h-6.9zM1214.5 575.5h6.9v6.6h-6.9zM1500.3 575.5h6.9v6.6h-6.9zM1225.9 580.9h6.9v6.6h-6.9zM1494.6 580.9h6.9v6.6h-6.9zM1231.6 586.3h12.6v6.6h-12.6zM1483.1 586.3h6.9v6.6h-6.9zM1243.1 591.7h6.9v6.6h-6.9zM1477.4 591.7h6.9v6.6h-6.9zM1254.5 597.1h12.6v6.6h-12.6zM1460.3 597.1h12.6v6.6h-12.6zM1271.7 602.5h12.6v6.6h-12.6zM1443.1 602.5h12.6v6.6h-12.6zM1294.5 607.9h24.1v6.6h-24.1zM1408.8 607.9h24.1v6.6h-24.1z"/><path fill="#009fff" d="M1254.5 289.3h218.4v6.6h-218.4zM1220.2 294.7h12.6v6.6h-12.6zM1494.6 294.7h6.9v6.6h-6.9zM1203.1 300.1h6.9v6.6h-6.9zM1517.4 300.1h6.9v6.6h-6.9zM1180.2 305.5h6.9v6.6h-6.9zM1540.3 305.5h6.9v6.6h-6.9zM1334.5 381.1h58.4v6.6h-58.4zM1305.9 386.5h12.6v6.6h-12.6zM1408.8 386.5h12.6v6.6h-12.6zM1294.5 391.9h6.9v6.6h-6.9zM1426.0 391.9h6.9v6.6h-6.9zM1288.8 397.3h6.9v6.6h-6.9zM1431.7 397.3h6.9v6.6h-6.9zM1283.1 402.7h6.9v6.6h-6.9zM1288.8 408.1h6.9v6.6h-6.9zM1431.7 408.1h6.9v6.6h-6.9zM1294.5 413.5h6.9v6.6h-6.9zM1426.0 413.5h6.9v6.6h-6.9zM1305.9 418.9h24.1v6.6h-24.1zM1397.4 418.9h24.1v6.6h-24.1zM1254.5 467.5h24.1v6.6h-24.1zM1448.8 467.5h24.1v6.6h-24.1zM1311.7 472.9h29.8v6.6h-29.8zM1386.0 472.9h29.8v6.6h-29.8zM1180.2 494.5h6.9v6.6h-6.9zM1540.3 494.5h6.9v6.6h-6.9zM1197.3 510.7h6.9v6.6h-6.9zM1208.8 516.1h6.9v6.6h-6.9zM1220.2 521.5h6.9v6.6h-6.9zM1500.3 521.5h6.9v6.6h-6.9zM1225.9 526.9h6.9v6.6h-6.9zM1494.6 526.9h6.9v6.6h-6.9zM1180.2 532.3h6.9v6.6h-6.9zM1540.3 532.3h6.9v6.6h-6.9zM1185.9 537.7h6.9v6.6h-6.9zM1243.1 537.7h6.9v6.6h-6.9zM1477.4 537.7h6.9v6.6h-6.9zM1534.6 537.7h6.9v6.6h-6.9zM1254.5 543.1h6.9v6.6h-6.9zM1466.0 543.1h6.9v6.6h-6.9zM1191.6 548.5h6.9v6.6h-6.9zM1528.9 548.5h6.9v6.6h-6.9zM1277.4 553.9h6.9v6.6h-6.9zM1443.1 553.9h6.9v6.6h-6.9zM1523.1 553.9h6.9v6.6h-6.9zM1203.1 559.3h6.9v6.6h-6.9zM1288.8 559.3h6.9v6.6h-6.9zM1431.7 559.3h6.9v6.6h-6.9zM1517.4 559.3h6.9v6.6h-6.9zM1208.8 564.7h6.9v6.6h-6.9zM1300.2 564.7h6.9v6.6h-6.9zM1414.5 564.7h12.6v6.6h-12.6zM1511.7 564.7h6.9v6.6h-6.9zM1214.5 570.1h6.9v6.6h-6.9zM1323.1 570.1h12.6v6.6h-12.6zM1391.7 570.1h12.6v6.6h-12.6zM1506.0 570.1h6.9v6.6h-6.9zM1220.2 575.5h6.9v6.6h-6.9zM1494.6 575.5h6.9v6.6h-6.9zM1231.6 580.9h6.9v6.6h-6.9zM1488.8 580.9h6.9v6.6h-6.9zM1243.1 586.3h6.9v6.6h-6.9zM1477.4 586.3h6.9v6.6h-6.9zM1248.8 591.7h12.6v6.6h-12.6zM1466.0 591.7h12.6v6.6h-12.6zM1265.9 597.1h6.9v6.6h-6.9zM1454.5 597.1h6.9v6.6h-6.9zM1283.1 602.5h12.6v6.6h-12.6zM1431.7 602.5h12.6v6.6h-12.6zM1317.4 607.9h92.7v6.6h-92.7z"/><path fill="#00afff" d="M1231.6 294.7h35.5v6.6h-35.5zM1460.3 294.7h35.5v6.6h-35.5zM1208.8 300.1h12.6v6.6h-12.6zM1506.0 300.1h12.6v6.6h-12.6zM1185.9 305.5h12.6v6.6h-12.6zM1528.9 305.5h12.6v6.6h-12.6zM1317.4 381.1h18.3v6.6h-18.3zM1391.7 381.1h18.3v6.6h-18.3zM1294.5 386.5h12.6v6.6h-12.6zM1420.3 386.5h12.6v6.6h-12.6zM1288.8 391.9h6.9v6.6h-6.9zM1431.7 391.9h6.9v6.6h-6.9zM1283.1 397.3h6.9v6.6h-6.9zM1437.4 397.3h6.9v6.6h-6.9zM1437.4 402.7h6.9v6.6h-6.9zM1283.1 408.1h6.9v6.6h-6.9zM1437.4 408.1h6.9v6.6h-6.9zM1288.8 413.5h6.9v6.6h-6.9zM1431.7 413.5h6.9v6.6h-6.9zM1294.5 418.9h12.6v6.6h-12.6zM1420.3 418.9h12.6v6.6h-12.6zM1323.1 424.3h81.2v6.6h-81.2zM1180.2 462.1h46.9v6.6h-46.9zM1500.3 462.1h46.9v6.6h-46.9zM1277.4 467.5h18.3v6.6h-18.3zM1431.7 467.5h18.3v6.6h-18.3zM1340.2 472.9h46.9v6.6h-46.9zM1185.9 499.9h6.9v6.6h-6.9zM1534.6 499.9h6.9v6.6h-6.9zM1191.6 505.3h6.9v6.6h-6.9zM1528.9 505.3h6.9v6.6h-6.9zM1523.1 510.7h6.9v6.6h-6.9zM1203.1 516.1h6.9v6.6h-6.9zM1511.7 516.1h6.9v6.6h-6.9zM1180.2 526.9h6.9v6.6h-6.9zM1540.3 526.9h6.9v6.6h-6.9zM1185.9 532.3h6.9v6.6h-6.9zM1231.6 532.3h6.9v6.6h-6.9zM1488.8 532.3h6.9v6.6h-6.9zM1534.6 532.3h6.9v6.6h-6.9zM1191.6 543.1h6.9v6.6h-6.9zM1248.8 543.1h6.9v6.6h-6.9zM1471.7 543.1h6.9v6.6h-6.9zM1528.9 543.1h6.9v6.6h-6.9zM1260.2 548.5h6.9v6.6h-6.9zM1460.3 548.5h6.9v6.6h-6.9zM1197.3 553.9h6.9v6.6h-6.9zM1271.7 553.9h6.9v6.6h-6.9zM1448.8 553.9h6.9v6.6h-6.9zM1283.1 559.3h6.9v6.6h-6.9zM1437.4 559.3h6.9v6.6h-6.9zM1214.5 564.7h6.9v6.6h-6.9zM1294.5 564.7h6.9v6.6h-6.9zM1426.0 564.7h6.9v6.6h-6.9zM1506.0 564.7h6.9v6.6h-6.9zM1220.2 570.1h6.9v6.6h-6.9zM1311.7 570.1h12.6v6.6h-12.6zM1403.1 570.1h12.6v6.6h-12.6zM1500.3 570.1h6.9v6.6h-6.9zM1225.9 575.5h12.6v6.6h-12.6zM1488.8 575.5h6.9v6.6h-6.9zM1237.4 580.9h6.9v6.6h-6.9zM1483.1 580.9h6.9v6.6h-6.9zM1248.8 586.3h6.9v6.6h-6.9zM1471.7 586.3h6.9v6.6h-6.9zM1260.2 591.7h6.9v6.6h-6.9zM1460.3 591.7h6.9v6.6h-6.9zM1271.7 597.1h12.6v6.6h-12.6zM1443.1 597.1h12.6v6.6h-12.6zM1294.5 602.5h12.6v6.6h-12.6zM1420.3 602.5h12.6v6.6h-12.6z"/><path fill="#00bfff" d="M1265.9 294.7h195.5v6.6h-195.5zM1220.2 300.1h12.6v6.6h-12.6zM1494.6 300.1h12.6v6.6h-12.6zM1197.3 305.5h6.9v6.6h-6.9zM1523.1 305.5h6.9v6.6h-6.9zM1346.0 375.7h35.5v6.6h-35.5zM1305.9 381.1h12.6v6.6h-12.6zM1408.8 381.1h12.6v6.6h-12.6zM1288.8 386.5h6.9v6.6h-6.9zM1431.7 386.5h6.9v6.6h-6.9zM1283.1 391.9h6.9v6.6h-6.9zM1437.4 391.9h6.9v6.6h-6.9zM1277.4 397.3h6.9v6.6h-6.9zM1443.1 397.3h6.9v6.6h-6.9zM1277.4 402.7h6.9v6.6h-6.9zM1443.1 402.7h6.9v6.6h-6.9zM1277.4 408.1h6.9v6.6h-6.9zM1443.1 408.1h6.9v6.6h-6.9zM1283.1 413.5h6.9v6.6h-6.9zM1437.4 413.5h6.9v6.6h-6.9zM1288.8 418.9h6.9v6.6h-6.9zM1431.7 418.9h6.9v6.6h-6.9zM1305.9 424.3h18.3v6.6h-18.3zM1403.1 424.3h18.3v6.6h-18.3zM1225.9 462.1h29.8v6.6h-29.8zM1471.7 462.1h29.8v6.6h-29.8zM1294.5 467.5h24.1v6.6h-24.1zM1408.8 467.5h24.1v6.6h-24.1zM1191.6 510.7h6.9v6.6h-6.9zM1528.9 510.7h6.9v6.6h-6.9zM1197.3 516.1h6.9v6.6h-6.9zM1517.4 516.1h12.6v6.6h-12.6zM1214.5 521.5h6.9v6.6h-6.9zM1506.0 521.5h6.9v6.6h-6.9zM1185.9 526.9h6.9v6.6h-6.9zM1220.2 526.9h6.9v6.6h-6.9zM1500.3 526.9h6.9v6.6h-6.9zM1534.6 526.9h6.9v6.6h-6.9zM1225.9 532.3h6.9v6.6h-6.9zM1494.6 532.3h6.9v6.6h-6.9zM1191.6 537.7h6.9v6.6h-6.9zM1237.4 537.7h6.9v6.6h-6.9zM1483.1 537.7h6.9v6.6h-6.9zM1528.9 537.7h6.9v6.6h-6.9zM1197.3 548.5h6.9v6.6h-6.9zM1254.5 548.5h6.9v6.6h-6.9zM1466.0 548.5h6.9v6.6h-6.9zM1523.1 548.5h6.9v6.6h-6.9zM1203.1 553.9h6.9v6.6h-6.9zM1265.9 553.9h6.9v6.6h-6.9zM1454.5 553.9h6.9v6.6h-6.9zM1517.4 553.9h6.9v6.6h-6.9zM1208.8 559.3h6.9v6.6h-6.9zM1277.4 559.3h6.9v6.6h-6.9zM1443.1 559.3h6.9v6.6h-6.9zM1511.7 559.3h6.9v6.6h-6.9zM1220.2 564.7h6.9v6.6h-6.9zM1288.8 564.7h6.9v6.6h-6.9zM1431.7 564.7h6.9v6.6h-6.9zM1500.3 564.7h6.9v6.6h-6.9zM1225.9 570.1h6.9v6.6h-6.9zM1305.9 570.1h6.9v6.6h-6.9zM1414.5 570.1h6.9v6.6h-6.9zM1494.6 570.1h6.9v6.6h-6.9zM1237.4 575.5h6.9v6.6h-6.9zM1328.8 575.5h69.8v6.6h-69.8zM1483.1 575.5h6.9v6.6h-6.9zM1243.1 580.9h6.9v6.6h-6.9zM1477.4 580.9h6.9v6.6h-6.9zM1254.5 586.3h6.9v6.6h-6.9zM1466.0 586.3h6.9v6.6h-6.9zM1265.9 591.7h6.9v6.6h-6.9zM1454.5 591.7h6.9v6.6h-6.9zM1283.1 597.1h6.9v6.6h-6.9zM1437.4 597.1h6.9v6.6h-6.9zM1305.9 602.5h29.8v6.6h-29.8zM1391.7 602.5h29.8v6.6h-29.8z"/><path fill="#00cfff" d="M1231.6 300.1h35.5v6.6h-35.5zM1460.3 300.1h35.5v6.6h-35.5zM1203.1 305.5h12.6v6.6h-12.6zM1511.7 305.5h12.6v6.6h-12.6zM1180.2 310.9h12.6v6.6h-12.6zM1534.6 310.9h12.6v6.6h-12.6zM1328.8 375.7h18.3v6.6h-18.3zM1380.2 375.7h18.3v6.6h-18.3zM1300.2 381.1h6.9v6.6h-6.9zM1420.3 381.1h6.9v6.6h-6.9zM1277.4 391.9h6.9v6.6h-6.9zM1443.1 391.9h6.9v6.6h-6.9zM1271.7 397.3h6.9v6.6h-6.9zM1448.8 397.3h6.9v6.6h-6.9zM1271.7 402.7h6.9v6.6h-6.9zM1448.8 402.7h6.9v6.6h-6.9zM1271.7 408.1h6.9v6.6h-6.9zM1448.8 408.1h6.9v6.6h-6.9zM1277.4 413.5h6.9v6.6h-6.9zM1443.1 413.5h6.9v6.6h-6.9zM1283.1 418.9h6.9v6.6h-6.9zM1437.4 418.9h6.9v6.6h-6.9zM1294.5 424.3h12.6v6.6h-12.6zM1420.3 424.3h12.6v6.6h-12.6zM1323.1 429.7h81.2v6.6h-81.2zM1254.5 462.1h24.1v6.6h-24.1zM1448.8 462.1h24.1v6.6h-24.1zM1317.4 467.5h92.7v6.6h-92.7zM1180.2 499.9h6.9v6.6h-6.9zM1540.3 499.9h6.9v6.6h-6.9zM1185.9 505.3h6.9v6.6h-6.9zM1534.6 505.3h6.9v6.6h-6.9zM1191.6 516.1h6.9v6.6h-6.9zM1528.9 516.1h6.9v6.6h-6.9zM1180.2 521.5h18.3v6.6h-18.3zM1208.8 521.5h6.9v6.6h-6.9zM1511.7 521.5h6.9v6.6h-6.9zM1528.9 521.5h18.3v6.6h-18.3zM1191.6 526.9h6.9v6.6h-6.9zM1528.9 526.9h6.9v6.6h-6.9zM1191.6 532.3h6.9v6.6h-6.9zM1528.9 532.3h6.9v6.6h-6.9zM1231.6 537.7h6.9v6.6h-6.9zM1488.8 537.7h6.9v6.6h-6.9zM1197.3 543.1h6.9v6.6h-6.9zM1243.1 543.1h6.9v6.6h-6.9zM1477.4 543.1h6.9v6.6h-6.9zM1523.1 543.1h6.9v6.6h-6.9zM1248.8 548.5h6.9v6.6h-6.9zM1471.7 548.5h6.9v6.6h-6.9zM1260.2 553.9h6.9v6.6h-6.9zM1460.3 553.9h6.9v6.6h-6.9zM1511.7 553.9h6.9v6.6h-6.9zM1214.5 559.3h6.9v6.6h-6.9zM1271.7 559.3h6.9v6.6h-6.9zM1448.8 559.3h6.9v6.6h-6.9zM1506.0 559.3h6.9v6.6h-6.9zM1283.1 564.7h6.9v6.6h-6.9zM1437.4 564.7h6.9v6.6h-6.9zM1494.6 564.7h6.9v6.6h-6.9zM1231.6 570.1h6.9v6.6h-6.9zM1294.5 570.1h12.6v6.6h-12.6zM1420.3 570.1h12.6v6.6h-12.6zM1488.8 570.1h6.9v6.6h-6.9zM1243.1 575.5h6.9v6.6h-6.9zM1317.4 575.5h12.6v6.6h-12.6zM1397.4 575.5h12.6v6.6h-12.6zM1477.4 575.5h6.9v6.6h-6.9zM1248.8 580.9h6.9v6.6h-6.9zM1471.7 580.9h6.9v6.6h-6.9zM1260.2 586.3h6.9v6.6h-6.9zM1460.3 586.3h6.9v6.6h-6.9zM1271.7 591.7h12.6v6.6h-12.6zM1443.1 591.7h12.6v6.6h-12.6zM1288.8 597.1h12.6v6.6h-12.6zM1426.0 597.1h12.6v6.6h-12.6zM1334.5 602.5h58.4v6.6h-58.4z"/><path fill="#00dfff" d="M1265.9 300.1h195.5v6.6h-195.5zM1214.5 305.5h12.6v6.6h-12.6zM1500.3 305.5h12.6v6.6h-12.6zM1191.6 310.9h12.6v6.6h-12.6zM1523.1 310.9h12.6v6.6h-12.6zM1317.4 375.7h12.6v6.6h-12.6zM1397.4 375.7h12.6v6.6h-12.6zM1294.5 381.1h6.9v6.6h-6.9zM1426.0 381.1h6.9v6.6h-6.9zM1283.1 386.5h6.9v6.6h-6.9zM1437.4 386.5h6.9v6.6h-6.9zM1271.7 391.9h6.9v6.6h-6.9zM1448.8 391.9h6.9v6.6h-6.9zM1265.9 397.3h6.9v6.6h-6.9zM1454.5 397.3h6.9v6.6h-6.9zM1265.9 402.7h6.9v6.6h-6.9zM1454.5 402.7h6.9v6.6h-6.9zM1265.9 408.1h6.9v6.6h-6.9zM1454.5 408.1h6.9v6.6h-6.9zM1271.7 413.5h6.9v6.6h-6.9zM1448.8 413.5h6.9v6.6h-6.9zM1288.8 424.3h6.9v6.6h-6.9zM1431.7 424.3h6.9v6.6h-6.9zM1305.9 429.7h18.3v6.6h-18.3zM1403.1 429.7h18.3v6.6h-18.3zM1277.4 462.1h41.2v6.6h-41.2zM1408.8 462.1h41.2v6.6h-41.2zM1180.2 505.3h6.9v6.6h-6.9zM1185.9 510.7h6.9v6.6h-6.9zM1534.6 510.7h6.9v6.6h-6.9zM1180.2 516.1h12.6v6.6h-12.6zM1534.6 516.1h12.6v6.6h-12.6zM1197.3 521.5h12.6v6.6h-12.6zM1517.4 521.5h12.6v6.6h-12.6zM1197.3 526.9h6.9v6.6h-6.9zM1214.5 526.9h6.9v6.6h-6.9zM1506.0 526.9h6.9v6.6h-6.9zM1523.1 526.9h6.9v6.6h-6.9zM1220.2 532.3h6.9v6.6h-6.9zM1500.3 532.3h6.9v6.6h-6.9zM1523.1 532.3h6.9v6.6h-6.9zM1197.3 537.7h6.9v6.6h-6.9zM1225.9 537.7h6.9v6.6h-6.9zM1494.6 537.7h6.9v6.6h-6.9zM1523.1 537.7h6.9v6.6h-6.9zM1237.4 543.1h6.9v6.6h-6.9zM1483.1 543.1h6.9v6.6h-6.9zM1203.1 548.5h6.9v6.6h-6.9zM1517.4 548.5h6.9v6.6h-6.9zM1208.8 553.9h12.6v6.6h-12.6zM1254.5 553.9h6.9v6.6h-6.9zM1466.0 553.9h6.9v6.6h-6.9zM1506.0 553.9h6.9v6.6h-6.9zM1220.2 559.3h6.9v6.6h-6.9zM1265.9 559.3h6.9v6.6h-6.9zM1454.5 559.3h6.9v6.6h-6.9zM1500.3 559.3h6.9v6.6h-6.9zM1225.9 564.7h6.9v6.6h-6.9zM1277.4 564.7h6.9v6.6h-6.9zM1443.1 564.7h6.9v6.6h-6.9zM1237.4 570.1h6.9v6.6h-6.9zM1288.8 570.1h6.9v6.6h-6.9zM1431.7 570.1h6.9v6.6h-6.9zM1483.1 570.1h6.9v6.6h-6.9zM1248.8 575.5h6.9v6.6h-6.9zM1305.9 575.5h12.6v6.6h-12.6zM1408.8 575.5h12.6v6.6h-12.6zM1471.7 575.5h6.9v6.6h-6.9zM1254.5 580.9h6.9v6.6h-6.9zM1466.0 580.9h6.9v6.6h-6.9zM1265.9 586.3h12.6v6.6h-12.6zM1448.8 586.3h12.6v6.6h-12.6zM1283.1 591.7h6.9v6.6h-6.9zM1437.4 591.7h6.9v6.6h-6.9zM1300.2 597.1h18.3v6.6h-18.3zM1408.8 597.1h18.3v6.6h-18.3z"/><path fill="#00efff" d="M1225.9 305.5h29.8v6.6h-29.8zM1471.7 305.5h29.8v6.6h-29.8zM1203.1 310.9h18.3v6.6h-18.3zM1506.0 310.9h18.3v6.6h-18.3zM1180.2 316.3h18.3v6.6h-18.3zM1528.9 316.3h18.3v6.6h-18.3zM1351.7 370.3h24.1v6.6h-24.1zM1305.9 375.7h12.6v6.6h-12.6zM1408.8 375.7h12.6v6.6h-12.6zM1288.8 381.1h6.9v6.6h-6.9zM1431.7 381.1h6.9v6.6h-6.9zM1277.4 386.5h6.9v6.6h-6.9zM1443.1 386.5h6.9v6.6h-6.9zM1265.9 391.9h6.9v6.6h-6.9zM1454.5 391.9h6.9v6.6h-6.9zM1260.2 402.7h6.9v6.6h-6.9zM1460.3 402.7h6.9v6.6h-6.9zM1260.2 408.1h6.9v6.6h-6.9zM1265.9 413.5h6.9v6.6h-6.9zM1454.5 413.5h6.9v6.6h-6.9zM1277.4 418.9h6.9v6.6h-6.9zM1443.1 418.9h6.9v6.6h-6.9zM1283.1 424.3h6.9v6.6h-6.9zM1437.4 424.3h6.9v6.6h-6.9zM1294.5 429.7h12.6v6.6h-12.6zM1420.3 429.7h12.6v6.6h-12.6zM1334.5 435.1h58.4v6.6h-58.4zM1180.2 456.7h69.8v6.6h-69.8zM1477.4 456.7h69.8v6.6h-69.8zM1317.4 462.1h92.7v6.6h-92.7zM1540.3 505.3h6.9v6.6h-6.9zM1180.2 510.7h6.9v6.6h-6.9zM1540.3 510.7h6.9v6.6h-6.9zM1203.1 526.9h6.9v6.6h-6.9zM1517.4 526.9h6.9v6.6h-6.9zM1197.3 532.3h6.9v6.6h-6.9zM1220.2 537.7h6.9v6.6h-6.9zM1500.3 537.7h6.9v6.6h-6.9zM1203.1 543.1h6.9v6.6h-6.9zM1225.9 543.1h12.6v6.6h-12.6zM1488.8 543.1h12.6v6.6h-12.6zM1517.4 543.1h6.9v6.6h-6.9zM1208.8 548.5h6.9v6.6h-6.9zM1243.1 548.5h6.9v6.6h-6.9zM1477.4 548.5h6.9v6.6h-6.9zM1511.7 548.5h6.9v6.6h-6.9zM1220.2 553.9h6.9v6.6h-6.9zM1248.8 553.9h6.9v6.6h-6.9zM1471.7 553.9h6.9v6.6h-6.9zM1500.3 553.9h6.9v6.6h-6.9zM1225.9 559.3h6.9v6.6h-6.9zM1260.2 559.3h6.9v6.6h-6.9zM1460.3 559.3h6.9v6.6h-6.9zM1494.6 559.3h6.9v6.6h-6.9zM1231.6 564.7h6.9v6.6h-6.9zM1271.7 564.7h6.9v6.6h-6.9zM1448.8 564.7h6.9v6.6h-6.9zM1488.8 564.7h6.9v6.6h-6.9zM1243.1 570.1h12.6v6.6h-12.6zM1283.1 570.1h6.9v6.6h-6.9zM1437.4 570.1h6.9v6.6h-6.9zM1471.7 570.1h12.6v6.6h-12.6zM1254.5 575.5h6.9v6.6h-6.9zM1294.5 575.5h12.6v6.6h-12.6zM1420.3 575.5h12.6v6.6h-12.6zM1466.0 575.5h6.9v6.6h-6.9zM1260.2 580.9h12.6v6.6h-12.6zM1328.8 580.9h69.8v6.6h-69.8zM1454.5 580.9h12.6v6.6h-12.6zM1277.4 586.3h12.6v6.6h-12.6zM1437.4 586.3h12.6v6.6h-12.6zM1288.8 591.7h12.6v6.6h-12.6zM1426.0 591.7h12.6v6.6h-12.6zM1317.4 597.1h92.7v6.6h-92.7z"/><path fill="#00ffff" d="M1254.5 305.5h75.5v6.6h-75.5zM1397.4 305.5h75.5v6.6h-75.5zM1220.2 310.9h12.6v6.6h-12.6zM1494.6 310.9h12.6v6.6h-12.6zM1197.3 316.3h18.3v6.6h-18.3zM1511.7 316.3h18.3v6.6h-18.3zM1328.8 370.3h24.1v6.6h-24.1zM1374.5 370.3h24.1v6.6h-24.1zM1300.2 375.7h6.9v6.6h-6.9zM1420.3 375.7h6.9v6.6h-6.9zM1283.1 381.1h6.9v6.6h-6.9zM1437.4 381.1h6.9v6.6h-6.9zM1271.7 386.5h6.9v6.6h-6.9zM1448.8 386.5h6.9v6.6h-6.9zM1260.2 397.3h6.9v6.6h-6.9zM1460.3 397.3h6.9v6.6h-6.9zM1460.3 408.1h6.9v6.6h-6.9zM1271.7 418.9h6.9v6.6h-6.9zM1448.8 418.9h6.9v6.6h-6.9zM1277.4 424.3h6.9v6.6h-6.9zM1443.1 424.3h6.9v6.6h-6.9zM1288.8 429.7h6.9v6.6h-6.9zM1431.7 429.7h6.9v6.6h-6.9zM1311.7 435.1h24.1v6.6h-24.1zM1391.7 435.1h24.1v6.6h-24.1zM1334.5 440.5h58.4v6.6h-58.4zM1328.8 445.9h69.8v6.6h-69.8zM1317.4 451.3h92.7v6.6h-92.7zM1248.8 456.7h229.8v6.6h-229.8zM1208.8 526.9h6.9v6.6h-6.9zM1511.7 526.9h6.9v6.6h-6.9zM1203.1 532.3h6.9v6.6h-6.9zM1214.5 532.3h6.9v6.6h-6.9zM1506.0 532.3h6.9v6.6h-6.9zM1517.4 532.3h6.9v6.6h-6.9zM1203.1 537.7h6.9v6.6h-6.9zM1214.5 537.7h6.9v6.6h-6.9zM1506.0 537.7h6.9v6.6h-6.9zM1517.4 537.7h6.9v6.6h-6.9zM1214.5 543.1h12.6v6.6h-12.6zM1500.3 543.1h12.6v6.6h-12.6zM1214.5 548.5h29.8v6.6h-29.8zM1483.1 548.5h29.8v6.6h-29.8zM1225.9 553.9h12.6v6.6h-12.6zM1243.1 553.9h6.9v6.6h-6.9zM1477.4 553.9h6.9v6.6h-6.9zM1488.8 553.9h12.6v6.6h-12.6zM1231.6 559.3h6.9v6.6h-6.9zM1248.8 559.3h12.6v6.6h-12.6zM1466.0 559.3h12.6v6.6h-12.6zM1488.8 559.3h6.9v6.6h-6.9zM1237.4 564.7h35.5v6.6h-35.5zM1454.5 564.7h35.5v6.6h-35.5zM1254.5 570.1h12.6v6.6h-12.6zM1271.7 570.1h12.6v6.6h-12.6zM1443.1 570.1h12.6v6.6h-12.6zM1460.3 570.1h12.6v6.6h-12.6zM1260.2 575.5h35.5v6.6h-35.5zM1431.7 575.5h35.5v6.6h-35.5zM1271.7 580.9h58.4v6.6h-58.4zM1397.4 580.9h58.4v6.6h-58.4zM1288.8 586.3h12.6v6.6h-12.6zM1426.0 586.3h12.6v6.6h-12.6zM1300.2 591.7h18.3v6.6h-18.3zM1408.8 591.7h18.3v6.6h-18.3z"/><path fill="#10ffef" d="M1328.8 305.5h69.8v6.6h-69.8zM1231.6 310.9h24.1v6.6h-24.1zM1471.7 310.9h24.1v6.6h-24.1zM1214.5 316.3h18.3v6.6h-18.3zM1494.6 316.3h18.3v6.6h-18.3zM1180.2 321.7h24.1v6.6h-24.1zM1523.1 321.7h24.1v6.6h-24.1zM1317.4 370.3h12.6v6.6h-12.6zM1397.4 370.3h12.6v6.6h-12.6zM1294.5 375.7h6.9v6.6h-6.9zM1426.0 375.7h6.9v6.6h-6.9zM1277.4 381.1h6.9v6.6h-6.9zM1443.1 381.1h6.9v6.6h-6.9zM1265.9 386.5h6.9v6.6h-6.9zM1454.5 386.5h6.9v6.6h-6.9zM1260.2 391.9h6.9v6.6h-6.9zM1460.3 391.9h6.9v6.6h-6.9zM1254.5 397.3h6.9v6.6h-6.9zM1466.0 397.3h6.9v6.6h-6.9zM1254.5 402.7h6.9v6.6h-6.9zM1466.0 402.7h6.9v6.6h-6.9zM1254.5 408.1h6.9v6.6h-6.9zM1466.0 408.1h6.9v6.6h-6.9zM1260.2 413.5h6.9v6.6h-6.9zM1460.3 413.5h6.9v6.6h-6.9zM1265.9 418.9h6.9v6.6h-6.9zM1454.5 418.9h6.9v6.6h-6.9zM1271.7 424.3h6.9v6.6h-6.9zM1448.8 424.3h6.9v6.6h-6.9zM1277.4 429.7h12.6v6.6h-12.6zM1437.4 429.7h12.6v6.6h-12.6zM1294.5 435.1h18.3v6.6h-18.3zM1414.5 435.1h18.3v6.6h-18.3zM1300.2 440.5h35.5v6.6h-35.5zM1391.7 440.5h35.5v6.6h-35.5zM1288.8 445.9h41.2v6.6h-41.2zM1397.4 445.9h41.2v6.6h-41.2zM1180.2 451.3h46.9v6.6h-46.9zM1254.5 451.3h64.1v6.6h-64.1zM1408.8 451.3h64.1v6.6h-64.1zM1500.3 451.3h46.9v6.6h-46.9zM1208.8 532.3h6.9v6.6h-6.9zM1511.7 532.3h6.9v6.6h-6.9zM1208.8 537.7h6.9v6.6h-6.9zM1511.7 537.7h6.9v6.6h-6.9zM1208.8 543.1h6.9v6.6h-6.9zM1511.7 543.1h6.9v6.6h-6.9zM1237.4 553.9h6.9v6.6h-6.9zM1483.1 553.9h6.9v6.6h-6.9zM1237.4 559.3h12.6v6.6h-12.6zM1477.4 559.3h12.6v6.6h-12.6zM1265.9 570.1h6.9v6.6h-6.9zM1454.5 570.1h6.9v6.6h-6.9zM1300.2 586.3h18.3v6.6h-18.3zM1408.8 586.3h18.3v6.6h-18.3zM1317.4 591.7h92.7v6.6h-92.7z"/><path fill="#20ffdf" d="M1254.5 310.9h24.1v6.6h-24.1zM1448.8 310.9h24.1v6.6h-24.1zM1231.6 316.3h12.6v6.6h-12.6zM1483.1 316.3h12.6v6.6h-12.6zM1203.1 321.7h18.3v6.6h-18.3zM1506.0 321.7h18.3v6.6h-18.3zM1180.2 327.1h12.6v6.6h-12.6zM1534.6 327.1h12.6v6.6h-12.6zM1311.7 370.3h6.9v6.6h-6.9zM1408.8 370.3h6.9v6.6h-6.9zM1288.8 375.7h6.9v6.6h-6.9zM1431.7 375.7h6.9v6.6h-6.9zM1271.7 381.1h6.9v6.6h-6.9zM1448.8 381.1h6.9v6.6h-6.9zM1260.2 386.5h6.9v6.6h-6.9zM1460.3 386.5h6.9v6.6h-6.9zM1254.5 391.9h6.9v6.6h-6.9zM1466.0 391.9h6.9v6.6h-6.9zM1248.8 397.3h6.9v6.6h-6.9zM1248.8 402.7h6.9v6.6h-6.9zM1471.7 402.7h6.9v6.6h-6.9zM1248.8 408.1h6.9v6.6h-6.9zM1471.7 408.1h6.9v6.6h-6.9zM1254.5 413.5h6.9v6.6h-6.9zM1466.0 413.5h6.9v6.6h-6.9zM1260.2 418.9h6.9v6.6h-6.9zM1460.3 418.9h6.9v6.6h-6.9zM1260.2 424.3h12.6v6.6h-12.6zM1454.5 424.3h12.6v6.6h-12.6zM1271.7 429.7h6.9v6.6h-6.9zM1448.8 429.7h6.9v6.6h-6.9zM1277.4 435.1h18.3v6.6h-18.3zM1431.7 435.1h18.3v6.6h-18.3zM1277.4 440.5h24.1v6.6h-24.1zM1426.0 440.5h24.1v6.6h-24.1zM1265.9 445.9h24.1v6.6h-24.1zM1437.4 445.9h24.1v6.6h-24.1zM1225.9 451.3h29.8v6.6h-29.8zM1471.7 451.3h29.8v6.6h-29.8zM1317.4 586.3h92.7v6.6h-92.7z"/><path fill="#30ffcf" d="M1277.4 310.9h18.3v6.6h-18.3zM1431.7 310.9h18.3v6.6h-18.3zM1243.1 316.3h12.6v6.6h-12.6zM1471.7 316.3h12.6v6.6h-12.6zM1220.2 321.7h18.3v6.6h-18.3zM1488.8 321.7h18.3v6.6h-18.3zM1191.6 327.1h24.1v6.6h-24.1zM1511.7 327.1h24.1v6.6h-24.1zM1180.2 332.5h24.1v6.6h-24.1zM1523.1 332.5h24.1v6.6h-24.1zM1180.2 337.9h12.6v6.6h-12.6zM1534.6 337.9h12.6v6.6h-12.6zM1180.2 343.3h18.3v6.6h-18.3zM1528.9 343.3h18.3v6.6h-18.3zM1180.2 348.7h29.8v6.6h-29.8zM1517.4 348.7h29.8v6.6h-29.8zM1180.2 354.1h35.5v6.6h-35.5zM1511.7 354.1h35.5v6.6h-35.5zM1180.2 359.5h35.5v6.6h-35.5zM1511.7 359.5h35.5v6.6h-35.5zM1180.2 364.9h12.6v6.6h-12.6zM1346.0 364.9h35.5v6.6h-35.5zM1534.6 364.9h12.6v6.6h-12.6zM1300.2 370.3h12.6v6.6h-12.6zM1414.5 370.3h12.6v6.6h-12.6zM1283.1 375.7h6.9v6.6h-6.9zM1437.4 375.7h6.9v6.6h-6.9zM1265.9 381.1h6.9v6.6h-6.9zM1454.5 381.1h6.9v6.6h-6.9zM1254.5 386.5h6.9v6.6h-6.9zM1466.0 386.5h6.9v6.6h-6.9zM1248.8 391.9h6.9v6.6h-6.9zM1471.7 391.9h6.9v6.6h-6.9zM1471.7 397.3h6.9v6.6h-6.9zM1248.8 413.5h6.9v6.6h-6.9zM1471.7 413.5h6.9v6.6h-6.9zM1248.8 418.9h12.6v6.6h-12.6zM1466.0 418.9h6.9v6.6h-6.9zM1254.5 424.3h6.9v6.6h-6.9zM1466.0 424.3h6.9v6.6h-6.9zM1260.2 429.7h12.6v6.6h-12.6zM1454.5 429.7h12.6v6.6h-12.6zM1260.2 435.1h18.3v6.6h-18.3zM1448.8 435.1h18.3v6.6h-18.3zM1254.5 440.5h24.1v6.6h-24.1zM1448.8 440.5h24.1v6.6h-24.1zM1208.8 445.9h58.4v6.6h-58.4zM1460.3 445.9h58.4v6.6h-58.4z"/><path fill="#40ffbf" d="M1294.5 310.9h24.1v6.6h-24.1zM1408.8 310.9h24.1v6.6h-24.1zM1254.5 316.3h12.6v6.6h-12.6zM1460.3 316.3h12.6v6.6h-12.6zM1237.4 321.7h12.6v6.6h-12.6zM1477.4 321.7h12.6v6.6h-12.6zM1214.5 327.1h18.3v6.6h-18.3zM1494.6 327.1h18.3v6.6h-18.3zM1203.1 332.5h18.3v6.6h-18.3zM1506.0 332.5h18.3v6.6h-18.3zM1191.6 337.9h24.1v6.6h-24.1zM1511.7 337.9h24.1v6.6h-24.1zM1197.3 343.3h24.1v6.6h-24.1zM1506.0 343.3h24.1v6.6h-24.1zM1208.8 348.7h12.6v6.6h-12.6zM1506.0 348.7h12.6v6.6h-12.6zM1214.5 354.1h12.6v6.6h-12.6zM1500.3 354.1h12.6v6.6h-12.6zM1214.5 359.5h12.6v6.6h-12.6zM1500.3 359.5h12.6v6.6h-12.6zM1191.6 364.9h29.8v6.6h-29.8zM1323.1 364.9h24.1v6.6h-24.1zM1380.2 364.9h24.1v6.6h-24.1zM1506.0 364.9h29.8v6.6h-29.8zM1288.8 370.3h12.6v6.6h-12.6zM1426.0 370.3h6.9v6.6h-6.9zM1271.7 375.7h12.6v6.6h-12.6zM1443.1 375.7h6.9v6.6h-6.9zM1254.5 381.1h12.6v6.6h-12.6zM1460.3 381.1h12.6v6.6h-12.6zM1248.8 386.5h6.9v6.6h-6.9zM1471.7 386.5h6.9v6.6h-6.9zM1243.1 391.9h6.9v6.6h-6.9zM1477.4 391.9h6.9v6.6h-6.9zM1243.1 397.3h6.9v6.6h-6.9zM1477.4 397.3h6.9v6.6h-6.9zM1243.1 402.7h6.9v6.6h-6.9zM1477.4 402.7h6.9v6.6h-6.9zM1243.1 408.1h6.9v6.6h-6.9zM1477.4 408.1h6.9v6.6h-6.9zM1243.1 413.5h6.9v6.6h-6.9zM1477.4 413.5h6.9v6.6h-6.9zM1243.1 418.9h6.9v6.6h-6.9zM1471.7 418.9h12.6v6.6h-12.6zM1248.8 424.3h6.9v6.6h-6.9zM1471.7 424.3h6.9v6.6h-6.9zM1243.1 429.7h18.3v6.6h-18.3zM1466.0 429.7h12.6v6.6h-12.6zM1237.4 435.1h24.1v6.6h-24.1zM1466.0 435.1h24.1v6.6h-24.1zM1220.2 440.5h35.5v6.6h-35.5zM1471.7 440.5h35.5v6.6h-35.5zM1180.2 445.9h29.8v6.6h-29.8zM1517.4 445.9h29.8v6.6h-29.8z"/><path fill="#50ffaf" d="M1317.4 310.9h92.7v6.6h-92.7zM1265.9 316.3h12.6v6.6h-12.6zM1448.8 316.3h12.6v6.6h-12.6zM1248.8 321.7h12.6v6.6h-12.6zM1466.0 321.7h12.6v6.6h-12.6zM1231.6 327.1h12.6v6.6h-12.6zM1483.1 327.1h12.6v6.6h-12.6zM1220.2 332.5h12.6v6.6h-12.6zM1494.6 332.5h12.6v6.6h-12.6zM1214.5 337.9h18.3v6.6h-18.3zM1494.6 337.9h18.3v6.6h-18.3zM1220.2 343.3h12.6v6.6h-12.6zM1494.6 343.3h12.6v6.6h-12.6zM1220.2 348.7h12.6v6.6h-12.6zM1494.6 348.7h12.6v6.6h-12.6zM1225.9 354.1h12.6v6.6h-12.6zM1488.8 354.1h12.6v6.6h-12.6zM1225.9 359.5h6.9v6.6h-6.9zM1494.6 359.5h6.9v6.6h-6.9zM1220.2 364.9h12.6v6.6h-12.6zM1311.7 364.9h12.6v6.6h-12.6zM1403.1 364.9h12.6v6.6h-12.6zM1494.6 364.9h12.6v6.6h-12.6zM1180.2 370.3h41.2v6.6h-41.2zM1283.1 370.3h6.9v6.6h-6.9zM1431.7 370.3h12.6v6.6h-12.6zM1506.0 370.3h41.2v6.6h-41.2zM1265.9 375.7h6.9v6.6h-6.9zM1448.8 375.7h12.6v6.6h-12.6zM1243.1 381.1h12.6v6.6h-12.6zM1471.7 381.1h6.9v6.6h-6.9zM1237.4 386.5h12.6v6.6h-12.6zM1477.4 386.5h6.9v6.6h-6.9zM1237.4 391.9h6.9v6.6h-6.9zM1483.1 391.9h6.9v6.6h-6.9zM1237.4 397.3h6.9v6.6h-6.9zM1483.1 397.3h6.9v6.6h-6.9zM1237.4 402.7h6.9v6.6h-6.9zM1483.1 402.7h6.9v6.6h-6.9zM1237.4 408.1h6.9v6.6h-6.9zM1483.1 408.1h6.9v6.6h-6.9zM1237.4 413.5h6.9v6.6h-6.9zM1483.1 413.5h6.9v6.6h-6.9zM1237.4 418.9h6.9v6.6h-6.9zM1483.1 418.9h6.9v6.6h-6.9zM1237.4 424.3h12.6v6.6h-12.6zM1477.4 424.3h12.6v6.6h-12.6zM1231.6 429.7h12.6v6.6h-12.6zM1477.4 429.7h12.6v6.6h-12.6zM1220.2 435.1h18.3v6.6h-18.3zM1488.8 435.1h18.3v6.6h-18.3zM1180.2 440.5h41.2v6.6h-41.2zM1506.0 440.5h41.2v6.6h-41.2z"/><path fill="#60ff9f" d="M1277.4 316.3h12.6v6.6h-12.6zM1437.4 316.3h12.6v6.6h-12.6zM1260.2 321.7h6.9v6.6h-6.9zM1460.3 321.7h6.9v6.6h-6.9zM1243.1 327.1h12.6v6.6h-12.6zM1471.7 327.1h12.6v6.6h-12.6zM1231.6 332.5h12.6v6.6h-12.6zM1483.1 332.5h12.6v6.6h-12.6zM1231.6 337.9h12.6v6.6h-12.6zM1483.1 337.9h12.6v6.6h-12.6zM1231.6 343.3h12.6v6.6h-12.6zM1483.1 343.3h12.6v6.6h-12.6zM1231.6 348.7h12.6v6.6h-12.6zM1483.1 348.7h12.6v6.6h-12.6zM1237.4 354.1h12.6v6.6h-12.6zM1477.4 354.1h12.6v6.6h-12.6zM1231.6 359.5h12.6v6.6h-12.6zM1483.1 359.5h12.6v6.6h-12.6zM1231.6 364.9h12.6v6.6h-12.6zM1300.2 364.9h12.6v6.6h-12.6zM1414.5 364.9h12.6v6.6h-12.6zM1483.1 364.9h12.6v6.6h-12.6zM1220.2 370.3h18.3v6.6h-18.3zM1277.4 370.3h6.9v6.6h-6.9zM1443.1 370.3h6.9v6.6h-6.9zM1488.8 370.3h18.3v6.6h-18.3zM1191.6 375.7h75.5v6.6h-75.5zM1460.3 375.7h75.5v6.6h-75.5zM1231.6 381.1h12.6v6.6h-12.6zM1477.4 381.1h18.3v6.6h-18.3zM1231.6 386.5h6.9v6.6h-6.9zM1483.1 386.5h12.6v6.6h-12.6zM1231.6 391.9h6.9v6.6h-6.9zM1231.6 418.9h6.9v6.6h-6.9zM1488.8 418.9h6.9v6.6h-6.9zM1231.6 424.3h6.9v6.6h-6.9zM1488.8 424.3h6.9v6.6h-6.9zM1225.9 429.7h6.9v6.6h-6.9zM1488.8 429.7h12.6v6.6h-12.6zM1180.2 435.1h41.2v6.6h-41.2zM1506.0 435.1h41.2v6.6h-41.2z"/><path fill="#70ff8f" d="M1288.8 316.3h12.6v6.6h-12.6zM1426.0 316.3h12.6v6.6h-12.6zM1265.9 321.7h12.6v6.6h-12.6zM1448.8 321.7h12.6v6.6h-12.6zM1254.5 327.1h6.9v6.6h-6.9zM1466.0 327.1h6.9v6.6h-6.9zM1243.1 332.5h12.6v6.6h-12.6zM1471.7 332.5h12.6v6.6h-12.6zM1243.1 337.9h6.9v6.6h-6.9zM1477.4 337.9h6.9v6.6h-6.9zM1243.1 343.3h12.6v6.6h-12.6zM1471.7 343.3h12.6v6.6h-12.6zM1243.1 348.7h12.6v6.6h-12.6zM1466.0 348.7h18.3v6.6h-18.3zM1248.8 354.1h12.6v6.6h-12.6zM1466.0 354.1h12.6v6.6h-12.6zM1243.1 359.5h12.6v6.6h-12.6zM1340.2 359.5h46.9v6.6h-46.9zM1466.0 359.5h18.3v6.6h-18.3zM1243.1 364.9h12.6v6.6h-12.6zM1283.1 364.9h18.3v6.6h-18.3zM1426.0 364.9h18.3v6.6h-18.3zM1471.7 364.9h12.6v6.6h-12.6zM1237.4 370.3h41.2v6.6h-41.2zM1448.8 370.3h41.2v6.6h-41.2zM1180.2 375.7h12.6v6.6h-12.6zM1534.6 375.7h12.6v6.6h-12.6zM1214.5 381.1h18.3v6.6h-18.3zM1494.6 381.1h18.3v6.6h-18.3zM1225.9 386.5h6.9v6.6h-6.9zM1494.6 386.5h6.9v6.6h-6.9zM1488.8 391.9h6.9v6.6h-6.9zM1231.6 397.3h6.9v6.6h-6.9zM1488.8 397.3h6.9v6.6h-6.9zM1231.6 402.7h6.9v6.6h-6.9zM1488.8 402.7h6.9v6.6h-6.9zM1231.6 408.1h6.9v6.6h-6.9zM1488.8 408.1h6.9v6.6h-6.9zM1231.6 413.5h6.9v6.6h-6.9zM1488.8 413.5h6.9v6.6h-6.9zM1225.9 424.3h6.9v6.6h-6.9zM1494.6 424.3h6.9v6.6h-6.9zM1214.5 429.7h12.6v6.6h-12.6zM1500.3 429.7h12.6v6.6h-12.6z"/><path fill="#80ff80" d="M1300.2 316.3h12.6v6.6h-12.6zM1414.5 316.3h12.6v6.6h-12.6zM1277.4 321.7h6.9v6.6h-6.9zM1443.1 321.7h6.9v6.6h-6.9zM1260.2 327.1h12.6v6.6h-12.6zM1454.5 327.1h12.6v6.6h-12.6zM1254.5 332.5h12.6v6.6h-12.6zM1460.3 332.5h12.6v6.6h-12.6zM1248.8 337.9h12.6v6.6h-12.6zM1466.0 337.9h12.6v6.6h-12.6zM1254.5 343.3h12.6v6.6h-12.6zM1460.3 343.3h12.6v6.6h-12.6zM1254.5 348.7h12.6v6.6h-12.6zM1460.3 348.7h6.9v6.6h-6.9zM1260.2 354.1h12.6v6.6h-12.6zM1454.5 354.1h12.6v6.6h-12.6zM1254.5 359.5h18.3v6.6h-18.3zM1317.4 359.5h24.1v6.6h-24.1zM1386.0 359.5h24.1v6.6h-24.1zM1454.5 359.5h12.6v6.6h-12.6zM1254.5 364.9h29.8v6.6h-29.8zM1443.1 364.9h29.8v6.6h-29.8zM1191.6 381.1h24.1v6.6h-24.1zM1511.7 381.1h24.1v6.6h-24.1zM1220.2 386.5h6.9v6.6h-6.9zM1500.3 386.5h6.9v6.6h-6.9zM1225.9 391.9h6.9v6.6h-6.9zM1494.6 391.9h6.9v6.6h-6.9zM1225.9 397.3h6.9v6.6h-6.9zM1494.6 397.3h6.9v6.6h-6.9zM1225.9 413.5h6.9v6.6h-6.9zM1494.6 413.5h6.9v6.6h-6.9zM1225.9 418.9h6.9v6.6h-6.9zM1494.6 418.9h6.9v6.6h-6.9zM1214.5 424.3h12.6v6.6h-12.6zM1500.3 424.3h12.6v6.6h-12.6zM1180.2 429.7h35.5v6.6h-35.5zM1511.7 429.7h35.5v6.6h-35.5z"/><path fill="#8fff70" d="M1311.7 316.3h6.9v6.6h-6.9zM1408.8 316.3h6.9v6.6h-6.9zM1283.1 321.7h6.9v6.6h-6.9zM1437.4 321.7h6.9v6.6h-6.9zM1271.7 327.1h6.9v6.6h-6.9zM1448.8 327.1h6.9v6.6h-6.9zM1265.9 332.5h6.9v6.6h-6.9zM1454.5 332.5h6.9v6.6h-6.9zM1260.2 337.9h12.6v6.6h-12.6zM1454.5 337.9h12.6v6.6h-12.6zM1265.9 343.3h6.9v6.6h-6.9zM1454.5 343.3h6.9v6.6h-6.9zM1265.9 348.7h12.6v6.6h-12.6zM1448.8 348.7h12.6v6.6h-12.6zM1271.7 354.1h12.6v6.6h-12.6zM1443.1 354.1h12.6v6.6h-12.6zM1271.7 359.5h46.9v6.6h-46.9zM1408.8 359.5h46.9v6.6h-46.9zM1180.2 381.1h12.6v6.6h-12.6zM1534.6 381.1h12.6v6.6h-12.6zM1208.8 386.5h12.6v6.6h-12.6zM1506.0 386.5h12.6v6.6h-12.6zM1220.2 391.9h6.9v6.6h-6.9zM1500.3 391.9h6.9v6.6h-6.9zM1225.9 402.7h6.9v6.6h-6.9zM1494.6 402.7h6.9v6.6h-6.9zM1225.9 408.1h6.9v6.6h-6.9zM1494.6 408.1h6.9v6.6h-6.9zM1220.2 418.9h6.9v6.6h-6.9zM1500.3 418.9h6.9v6.6h-6.9zM1203.1 424.3h12.6v6.6h-12.6zM1511.7 424.3h12.6v6.6h-12.6z"/><path fill="#9fff60" d="M1317.4 316.3h18.3v6.6h-18.3zM1391.7 316.3h18.3v6.6h-18.3zM1288.8 321.7h6.9v6.6h-6.9zM1431.7 321.7h6.9v6.6h-6.9zM1277.4 327.1h6.9v6.6h-6.9zM1443.1 327.1h6.9v6.6h-6.9zM1271.7 332.5h6.9v6.6h-6.9zM1448.8 332.5h6.9v6.6h-6.9zM1271.7 337.9h6.9v6.6h-6.9zM1448.8 337.9h6.9v6.6h-6.9zM1271.7 343.3h6.9v6.6h-6.9zM1448.8 343.3h6.9v6.6h-6.9zM1277.4 348.7h6.9v6.6h-6.9zM1443.1 348.7h6.9v6.6h-6.9zM1283.1 354.1h12.6v6.6h-12.6zM1431.7 354.1h12.6v6.6h-12.6zM1191.6 386.5h18.3v6.6h-18.3zM1517.4 386.5h18.3v6.6h-18.3zM1214.5 391.9h6.9v6.6h-6.9zM1506.0 391.9h6.9v6.6h-6.9zM1220.2 397.3h6.9v6.6h-6.9zM1500.3 397.3h6.9v6.6h-6.9zM1220.2 402.7h6.9v6.6h-6.9zM1500.3 402.7h6.9v6.6h-6.9zM1220.2 408.1h6.9v6.6h-6.9zM1500.3 408.1h6.9v6.6h-6.9zM1220.2 413.5h6.9v6.6h-6.9zM1500.3 413.5h6.9v6.6h-6.9zM1214.5 418.9h6.9v6.6h-6.9zM1506.0 418.9h6.9v6.6h-6.9zM1180.2 424.3h24.1v6.6h-24.1zM1523.1 424.3h24.1v6.6h-24.1z"/><path fill="#afff50" d="M1334.5 316.3h58.4v6.6h-58.4zM1294.5 321.7h6.9v6.6h-6.9zM1426.0 321.7h6.9v6.6h-6.9zM1283.1 327.1h6.9v6.6h-6.9zM1437.4 327.1h6.9v6.6h-6.9zM1277.4 332.5h6.9v6.6h-6.9zM1443.1 332.5h6.9v6.6h-6.9zM1277.4 337.9h6.9v6.6h-6.9zM1443.1 337.9h6.9v6.6h-6.9zM1277.4 343.3h12.6v6.6h-12.6zM1437.4 343.3h12.6v6.6h-12.6zM1283.1 348.7h12.6v6.6h-12.6zM1431.7 348.7h12.6v6.6h-12.6zM1294.5 354.1h138.4v6.6h-138.4zM1180.2 386.5h12.6v6.6h-12.6zM1534.6 386.5h12.6v6.6h-12.6zM1208.8 391.9h6.9v6.6h-6.9zM1511.7 391.9h6.9v6.6h-6.9zM1214.5 397.3h6.9v6.6h-6.9zM1506.0 397.3h6.9v6.6h-6.9zM1214.5 413.5h6.9v6.6h-6.9zM1506.0 413.5h6.9v6.6h-6.9zM1197.3 418.9h18.3v6.6h-18.3zM1511.7 418.9h18.3v6.6h-18.3z"/><path fill="#bfff40" d="M1300.2 321.7h6.9v6.6h-6.9zM1420.3 321.7h6.9v6.6h-6.9zM1288.8 327.1h6.9v6.6h-6.9zM1431.7 327.1h6.9v6.6h-6.9zM1283.1 332.5h6.9v6.6h-6.9zM1437.4 332.5h6.9v6.6h-6.9zM1283.1 337.9h6.9v6.6h-6.9zM1437.4 337.9h6.9v6.6h-6.9zM1288.8 343.3h6.9v6.6h-6.9zM1431.7 343.3h6.9v6.6h-6.9zM1294.5 348.7h6.9v6.6h-6.9zM1426.0 348.7h6.9v6.6h-6.9zM1180.2 391.9h29.8v6.6h-29.8zM1517.4 391.9h29.8v6.6h-29.8zM1214.5 402.7h6.9v6.6h-6.9zM1506.0 402.7h6.9v6.6h-6.9zM1214.5 408.1h6.9v6.6h-6.9zM1506.0 408.1h6.9v6.6h-6.9zM1208.8 413.5h6.9v6.6h-6.9zM1511.7 413.5h6.9v6.6h-6.9zM1180.2 418.9h18.3v6.6h-18.3zM1528.9 418.9h18.3v6.6h-18.3z"/><path fill="#cfff30" d="M1305.9 321.7h12.6v6.6h-12.6zM1408.8 321.7h12.6v6.6h-12.6zM1288.8 332.5h6.9v6.6h-6.9zM1431.7 332.5h6.9v6.6h-6.9zM1288.8 337.9h6.9v6.6h-6.9zM1431.7 337.9h6.9v6.6h-6.9zM1294.5 343.3h6.9v6.6h-6.9zM1426.0 343.3h6.9v6.6h-6.9zM1300.2 348.7h18.3v6.6h-18.3zM1408.8 348.7h18.3v6.6h-18.3zM1180.2 397.3h35.5v6.6h-35.5zM1511.7 397.3h35.5v6.6h-35.5zM1208.8 402.7h6.9v6.6h-6.9zM1180.2 413.5h29.8v6.6h-29.8zM1517.4 413.5h29.8v6.6h-29.8z"/><path fill="#dfff20" d="M1317.4 321.7h6.9v6.6h-6.9zM1403.1 321.7h6.9v6.6h-6.9zM1294.5 327.1h6.9v6.6h-6.9zM1426.0 327.1h6.9v6.6h-6.9zM1294.5 332.5h6.9v6.6h-6.9zM1426.0 332.5h6.9v6.6h-6.9zM1294.5 337.9h6.9v6.6h-6.9zM1426.0 337.9h6.9v6.6h-6.9zM1300.2 343.3h6.9v6.6h-6.9zM1420.3 343.3h6.9v6.6h-6.9zM1317.4 348.7h92.7v6.6h-92.7zM1180.2 402.7h29.8v6.6h-29.8zM1511.7 402.7h35.5v6.6h-35.5zM1180.2 408.1h35.5v6.6h-35.5zM1511.7 408.1h35.5v6.6h-35.5z"/><path fill="#efff10" d="M1323.1 321.7h6.9v6.6h-6.9zM1397.4 321.7h6.9v6.6h-6.9zM1300.2 327.1h6.9v6.6h-6.9zM1420.3 327.1h6.9v6.6h-6.9zM1300.2 332.5h6.9v6.6h-6.9zM1420.3 332.5h6.9v6.6h-6.9zM1300.2 337.9h6.9v6.6h-6.9zM1420.3 337.9h6.9v6.6h-6.9zM1305.9 343.3h12.6v6.6h-12.6zM1408.8 343.3h12.6v6.6h-12.6z"/><path fill="#ffff00" d="M1328.8 321.7h12.6v6.6h-12.6zM1386.0 321.7h12.6v6.6h-12.6zM1305.9 327.1h6.9v6.6h-6.9zM1414.5 327.1h6.9v6.6h-6.9zM1305.9 332.5h6.9v6.6h-6.9zM1414.5 332.5h6.9v6.6h-6.9zM1305.9 337.9h6.9v6.6h-6.9zM1414.5 337.9h6.9v6.6h-6.9zM1317.4 343.3h6.9v6.6h-6.9zM1403.1 343.3h6.9v6.6h-6.9z"/><path fill="#ffef00" d="M1340.2 321.7h18.3v6.6h-18.3zM1368.8 321.7h18.3v6.6h-18.3zM1311.7 327.1h6.9v6.6h-6.9zM1408.8 327.1h6.9v6.6h-6.9zM1311.7 337.9h6.9v6.6h-6.9zM1408.8 337.9h6.9v6.6h-6.9zM1323.1 343.3h18.3v6.6h-18.3zM1386.0 343.3h18.3v6.6h-18.3z"/><path fill="#ffdf00" d="M1357.4 321.7h12.6v6.6h-12.6zM1317.4 327.1h6.9v6.6h-6.9zM1403.1 327.1h6.9v6.6h-6.9zM1311.7 332.5h6.9v6.6h-6.9zM1408.8 332.5h6.9v6.6h-6.9zM1317.4 337.9h6.9v6.6h-6.9zM1403.1 337.9h6.9v6.6h-6.9zM1340.2 343.3h46.9v6.6h-46.9z"/><path fill="#ffcf00" d="M1323.1 327.1h6.9v6.6h-6.9zM1397.4 327.1h6.9v6.6h-6.9zM1317.4 332.5h6.9v6.6h-6.9zM1403.1 332.5h6.9v6.6h-6.9zM1323.1 337.9h6.9v6.6h-6.9zM1397.4 337.9h6.9v6.6h-6.9z"/><path fill="#ffbf00" d="M1328.8 327.1h6.9v6.6h-6.9zM1391.7 327.1h6.9v6.6h-6.9zM1323.1 332.5h6.9v6.6h-6.9zM1397.4 332.5h6.9v6.6h-6.9zM1328.8 337.9h12.6v6.6h-12.6zM1386.0 337.9h12.6v6.6h-12.6z"/><path fill="#ffaf00" d="M1334.5 327.1h12.6v6.6h-12.6zM1380.2 327.1h12.6v6.6h-12.6zM1328.8 332.5h6.9v6.6h-6.9zM1386.0 332.5h12.6v6.6h-12.6zM1340.2 337.9h12.6v6.6h-12.6zM1374.5 337.9h12.6v6.6h-12.6z"/><path fill="#ff9f00" d="M1346.0 327.1h6.9v6.6h-6.9zM1374.5 327.1h6.9v6.6h-6.9zM1334.5 332.5h12.6v6.6h-12.6zM1380.2 332.5h6.9v6.6h-6.9zM1351.7 337.9h24.1v6.6h-24.1z"/><path fill="#ff8f00" d="M1351.7 327.1h24.1v6.6h-24.1zM1346.0 332.5h12.6v6.6h-12.6zM1368.8 332.5h12.6v6.6h-12.6z"/><path fill="#ff8000" d="M1357.4 332.5h12.6v6.6h-12.6z"/></g>
<path d="M118.9 250.0 L119.5 260.5 L121.0 267.9 L123.7 272.1 L128.9 276.8 L141.6 282.6 L154.2 286.3 L162.6 291.0 L172.1 296.8 L183.6 301.0 L194.1 304.7 L201.5 307.8 L204.7 313.1 L204.1 318.4 L201.5 323.6 L194.1 330.5 L187.8 334.7 L177.3 339.4 L189.9 339.9 L230.0 342.6 L280.0 345.1 L429.3 349.2 L483.2 349.9 L429.3 352.6 L347.9 360.7 L311.2 366.2 L291.9 370.7 L296.0 376.1 L307.5 381.1 L286.5 387.0 L259.3 392.4 L222.7 397.1 L205.0 401.9 L184.7 412.1 L177.9 417.5 L181.3 422.9 L190.1 429.0 L200.9 439.2 L210.4 448.1 L219.3 458.9 L186.0 464.3 L150.7 467.1 L118.8 470.2 L117.5 470.1 Z" fill="#99ccff" stroke="none"/>
<path d="M119.1 564.2 L143.7 567.3 L192.9 573.3 L206.6 579.6 L213.4 587.8 L223.0 599.6 L214.8 603.4 L195.6 606.9 L160.1 611.6 L152.0 617.0 L149.2 622.0 L145.5 630.0 L143.7 638.4 L141.5 663.0 L142.3 690.3 L146.4 714.9 L150.0 725.0 L157.4 735.4 L176.5 746.3 L173.8 753.1 L162.8 764.0 L146.4 775.0 L119.1 787.3 L117.5 787.3 Z" fill="#ffb2b2" stroke="none"/>
<g stroke="#262626" stroke-width="1.4" fill="none"><rect x="117.0" y="57.8" width="366.50" height="782.50"/><path d="M238.00 840.3v-8.5M238.00 57.8v8.5M373.60 840.3v-8.5M373.60 57.8v8.5M117.0 73.34h8.5M483.5 73.34h-8.5M117.0 177.72h8.5M483.5 177.72h-8.5M117.0 282.10h8.5M483.5 282.10h-8.5M117.0 386.48h8.5M483.5 386.48h-8.5M117.0 490.86h8.5M483.5 490.86h-8.5M117.0 595.24h8.5M483.5 595.24h-8.5M117.0 699.62h8.5M483.5 699.62h-8.5M117.0 804.00h8.5M483.5 804.00h-8.5"/></g>
<path d="M117.8 57.8V539M117.8 547V840.3" stroke="#000" stroke-width="3.8" fill="none"/>
<path d="M117.8 57.8 L118.9 250.0 L119.5 260.5 L121.0 267.9 L123.7 272.1 L128.9 276.8 L141.6 282.6 L154.2 286.3 L162.6 291.0 L172.1 296.8 L183.6 301.0 L194.1 304.7 L201.5 307.8 L204.7 313.1 L204.1 318.4 L201.5 323.6 L194.1 330.5 L187.8 334.7 L177.3 339.4 L189.9 339.9 L230.0 342.6 L280.0 345.1 L429.3 349.2 L483.2 349.9 L429.3 352.6 L347.9 360.7 L311.2 366.2 L291.9 370.7 L296.0 376.1 L307.5 381.1 L286.5 387.0 L259.3 392.4 L222.7 397.1 L205.0 401.9 L184.7 412.1 L177.9 417.5 L181.3 422.9 L190.1 429.0 L200.9 439.2 L210.4 448.1 L219.3 458.9 L186.0 464.3 L150.7 467.1 L118.8 470.2 L117.8 470.1 L117.8 539" fill="none" stroke="#000" stroke-width="4" stroke-linejoin="round"/>
<path d="M117.8 547 L117.8 563.4 L119.1 564.2 L143.7 567.3 L192.9 573.3 L206.6 579.6 L213.4 587.8 L223.0 599.6 L214.8 603.4 L195.6 606.9 L160.1 611.6 L152.0 617.0 L149.2 622.0 L145.5 630.0 L143.7 638.4 L141.5 663.0 L142.3 690.3 L146.4 714.9 L150.0 725.0 L157.4 735.4 L176.5 746.3 L173.8 753.1 L162.8 764.0 L146.4 775.0 L119.1 787.3 L117.8 787.3 L117.8 840.3" fill="none" stroke="#000" stroke-width="4" stroke-linejoin="round"/>
<rect x="252.3" y="88.2" width="85.4" height="27.2" fill="#99ccff" stroke="#000" stroke-width="4.2"/>
<rect x="252.3" y="126.1" width="85.4" height="27.5" fill="#ffb2b2" stroke="#000" stroke-width="4.2"/>
<text font-family="Liberation Sans, Arial, Helvetica, sans-serif" font-size="28.3" fill="#000" x="344" y="113.9">d bands</text>
<text font-family="Liberation Sans, Arial, Helvetica, sans-serif" font-size="28.3" fill="#000" x="344" y="151.8">sp bands</text>
<text font-family="Liberation Sans, Arial, Helvetica, sans-serif" font-size="31.5" fill="#262626" x="104.5" y="85.2" text-anchor="end">4</text>
<text font-family="Liberation Sans, Arial, Helvetica, sans-serif" font-size="31.5" fill="#262626" x="104.5" y="189.6" text-anchor="end">2</text>
<text font-family="Liberation Sans, Arial, Helvetica, sans-serif" font-size="31.5" fill="#262626" x="104.5" y="294.0" text-anchor="end">0</text>
<text font-family="Liberation Sans, Arial, Helvetica, sans-serif" font-size="31.5" fill="#262626" x="104.5" y="398.4" text-anchor="end">-2</text>
<text font-family="Liberation Sans, Arial, Helvetica, sans-serif" font-size="31.5" fill="#262626" x="104.5" y="502.8" text-anchor="end">-4</text>
<text font-family="Liberation Sans, Arial, Helvetica, sans-serif" font-size="31.5" fill="#262626" x="104.5" y="607.1" text-anchor="end">-6</text>
<text font-family="Liberation Sans, Arial, Helvetica, sans-serif" font-size="31.5" fill="#262626" x="104.5" y="711.5" text-anchor="end">-8</text>
<text font-family="Liberation Sans, Arial, Helvetica, sans-serif" font-size="31.5" fill="#262626" x="104.5" y="815.9" text-anchor="end">-10</text>
<text font-family="Liberation Sans, Arial, Helvetica, sans-serif" font-size="34.7" fill="#262626" x="299.5" y="888.5" text-anchor="middle">partial DOS (a.u.)</text>
<text font-family="Liberation Sans, Arial, Helvetica, sans-serif" font-size="34.7" fill="#262626" transform="translate(25.9 450.5) rotate(-90)" text-anchor="middle">E - E<tspan font-size="27.4" dy="16.8">F</tspan><tspan dy="-16.8"> (eV)</tspan></text>
<text font-family="Liberation Sans, Arial, Helvetica, sans-serif" font-size="35" fill="#000" x="7.8" y="25.8">(a)</text>
<g clip-path="url(#cb)" fill="none" stroke="#000" stroke-width="4.2" stroke-linecap="butt" stroke-linejoin="round"><path d="M651.5 346.35L748.3 280.3"/><path d="M919.7 280.3L1016.5 346.35"/><path d="M748.9 286.2C751.8 290.0 761.3 302.9 766.4 308.8C771.5 314.7 775.0 317.6 779.3 321.7C783.6 325.8 787.9 329.9 792.2 333.3C796.5 336.8 800.8 339.9 805.1 342.4C809.4 344.9 813.3 346.8 818.1 348.2C822.9 349.6 828.7 351.0 834.0 351.0C839.3 351.0 845.1 349.6 849.9 348.2C854.7 346.8 858.6 344.9 862.9 342.4C867.2 339.9 871.5 336.8 875.8 333.3C880.1 329.9 884.4 325.8 888.7 321.7C893.0 317.6 896.5 314.7 901.6 308.8C906.7 302.9 916.2 290.0 919.1 286.2"/><path d="M652.0 439.8C656.2 437.2 668.5 430.1 677.3 424.5C686.1 418.9 695.6 412.1 704.7 406.0C713.8 399.9 722.9 393.5 732.0 387.6C741.1 381.7 750.3 375.3 759.4 370.5C768.5 365.7 777.6 361.9 786.7 358.9C795.8 355.9 806.1 354.0 814.0 352.7C821.9 351.4 827.3 351.2 834.0 351.2C840.7 351.2 846.1 351.4 854.0 352.7C861.9 354.0 872.2 355.9 881.3 358.9C890.4 361.9 899.5 365.7 908.6 370.5C917.7 375.3 926.9 381.7 936.0 387.6C945.1 393.5 954.2 399.9 963.3 406.0C972.4 412.1 981.9 418.9 990.7 424.5C999.5 430.1 1011.8 437.2 1016.0 439.8"/><path d="M652.0 469.0C658.5 469.1 677.7 469.8 691.0 469.8C704.3 469.8 718.3 469.3 732.0 469.1C745.7 468.9 756.0 468.7 773.0 468.4C790.0 468.1 814.0 467.5 834.0 467.4C854.0 467.3 876.2 467.7 893.0 467.9C909.8 468.1 921.3 468.4 935.0 468.6C948.7 468.9 961.5 469.3 975.0 469.4C988.5 469.5 1009.2 469.4 1016.0 469.4"/><path d="M652.0 524.8C656.0 527.4 667.6 534.9 675.9 540.4C684.2 545.9 693.1 552.3 701.7 557.8C710.3 563.3 719.0 568.5 727.6 573.3C736.2 578.0 744.8 582.7 753.4 586.3C762.0 589.9 770.7 592.3 779.3 594.7C787.9 597.1 796.0 599.1 805.1 600.5C814.2 601.9 824.4 602.8 834.0 602.8C843.6 602.8 853.8 601.9 862.9 600.5C872.0 599.1 880.1 597.1 888.7 594.7C897.3 592.3 906.0 589.9 914.6 586.3C923.2 582.7 931.8 578.0 940.4 573.3C949.0 568.5 957.7 563.3 966.3 557.8C974.9 552.3 983.8 545.9 992.1 540.4C1000.4 534.9 1012.0 527.4 1016.0 524.8"/><path d="M652.5 577.3C655.9 582.6 665.8 597.8 673.1 609.3C680.4 620.8 688.5 634.3 696.2 646.3C703.9 658.2 711.7 669.8 719.4 681.0C727.1 692.2 734.8 703.4 742.5 713.4C750.2 723.4 757.9 733.0 765.6 741.1C773.3 749.2 781.0 756.5 788.7 761.9C796.4 767.3 804.2 771.1 811.8 773.5C819.3 775.9 826.6 776.5 834.0 776.5C841.4 776.5 848.7 775.9 856.2 773.5C863.8 771.1 871.6 767.3 879.3 761.9C887.0 756.5 894.7 749.2 902.4 741.1C910.1 733.0 917.8 723.4 925.5 713.4C933.2 703.4 940.9 692.2 948.6 681.0C956.3 669.8 964.1 658.2 971.8 646.3C979.5 634.3 987.6 620.8 994.9 609.3C1002.2 597.8 1012.1 582.6 1015.5 577.3"/></g>
<g stroke="#262626" stroke-width="1.4" fill="none"><rect x="653.5" y="57.1" width="360.00" height="775.30"/><path d="M696.20 832.4v-8.5M696.20 57.1v8.5M833.20 832.4v-8.5M833.20 57.1v8.5M970.20 832.4v-8.5M970.20 57.1v8.5M653.5 57.10h8.5M1013.5 57.10h-8.5M653.5 315.55h8.5M1013.5 315.55h-8.5M653.5 574.00h8.5M1013.5 574.00h-8.5M653.5 832.45h8.5M1013.5 832.45h-8.5"/></g>
<text font-family="Liberation Sans, Arial, Helvetica, sans-serif" font-size="31.5" fill="#262626" x="640.5" y="69.0" text-anchor="end">40</text>
<text font-family="Liberation Sans, Arial, Helvetica, sans-serif" font-size="31.5" fill="#262626" x="640.5" y="327.4" text-anchor="end">35</text>
<text font-family="Liberation Sans, Arial, Helvetica, sans-serif" font-size="31.5" fill="#262626" x="640.5" y="585.9" text-anchor="end">30</text>
<text font-family="Liberation Sans, Arial, Helvetica, sans-serif" font-size="31.5" fill="#262626" x="640.5" y="844.3" text-anchor="end">25</text>
<text font-family="Liberation Sans, Arial, Helvetica, sans-serif" font-size="31.5" fill="#262626" x="696.2" y="876" text-anchor="middle">-0.2</text>
<text font-family="Liberation Sans, Arial, Helvetica, sans-serif" font-size="31.5" fill="#262626" x="833.2" y="876" text-anchor="middle">0</text>
<text font-family="Liberation Sans, Arial, Helvetica, sans-serif" font-size="31.5" fill="#262626" x="970.2" y="876" text-anchor="middle">0.2</text>
<text font-family="Liberation Sans, Arial, Helvetica, sans-serif" font-size="34.5" fill="#262626" transform="translate(588.9 445.4) rotate(-90)" text-anchor="middle">kinetic energy (eV)</text>
<text font-family="Liberation Sans, Arial, Helvetica, sans-serif" font-size="35" fill="#000" x="546.5" y="25.8">(b)</text>
<g stroke="#262626" stroke-width="1.4" fill="none"><rect x="1180.2" y="57.0" width="365.80" height="783.20"/><path d="M1223.10 840.2v-8.5M1223.10 57.0v8.5M1362.90 840.2v-8.5M1362.90 57.0v8.5M1502.70 840.2v-8.5M1502.70 57.0v8.5M1180.2 57.00h8.5M1546.0 57.00h-8.5M1180.2 318.05h8.5M1546.0 318.05h-8.5M1180.2 579.10h8.5M1546.0 579.10h-8.5M1180.2 840.15h8.5M1546.0 840.15h-8.5"/></g>
<text font-family="Liberation Sans, Arial, Helvetica, sans-serif" font-size="31.5" fill="#262626" x="1166.5" y="68.9" text-anchor="end">40</text>
<text font-family="Liberation Sans, Arial, Helvetica, sans-serif" font-size="31.5" fill="#262626" x="1166.5" y="329.9" text-anchor="end">35</text>
<text font-family="Liberation Sans, Arial, Helvetica, sans-serif" font-size="31.5" fill="#262626" x="1166.5" y="591.0" text-anchor="end">30</text>
<text font-family="Liberation Sans, Arial, Helvetica, sans-serif" font-size="31.5" fill="#262626" x="1166.5" y="852.0" text-anchor="end">25</text>
<text font-family="Liberation Sans, Arial, Helvetica, sans-serif" font-size="31.5" fill="#262626" x="1223.1" y="885" text-anchor="middle">-0.2</text>
<text font-family="Liberation Sans, Arial, Helvetica, sans-serif" font-size="31.5" fill="#262626" x="1362.9" y="885" text-anchor="middle">0</text>
<text font-family="Liberation Sans, Arial, Helvetica, sans-serif" font-size="31.5" fill="#262626" x="1502.7" y="885" text-anchor="middle">0.2</text>
<text font-family="Liberation Sans, Arial, Helvetica, sans-serif" font-size="34.5" fill="#262626" transform="translate(1115 450) rotate(-90)" text-anchor="middle">kinetic energy (eV)</text>
<text font-family="Liberation Sans, Arial, Helvetica, sans-serif" font-size="35" fill="#000" x="1070.6" y="25.8">(c)</text>
<g transform="translate(0 0)" fill="#262626"><text font-family="Liberation Sans, Arial, Helvetica, sans-serif" font-size="34.7" x="765.5" y="924">k</text><text font-family="Liberation Sans, Arial, Helvetica, sans-serif" font-size="22" x="785.1" y="936.8">|</text><text font-family="Liberation Sans, Arial, Helvetica, sans-serif" font-size="22" x="792.3" y="936.8">|</text><text font-family="Liberation Sans, Arial, Helvetica, sans-serif" font-size="34.7" x="809" y="924">(2π/a)</text></g>
<g transform="translate(530.4 8.8)" fill="#262626"><text font-family="Liberation Sans, Arial, Helvetica, sans-serif" font-size="34.7" x="765.5" y="924">k</text><text font-family="Liberation Sans, Arial, Helvetica, sans-serif" font-size="22" x="785.1" y="936.8">|</text><text font-family="Liberation Sans, Arial, Helvetica, sans-serif" font-size="22" x="792.3" y="936.8">|</text><text font-family="Liberation Sans, Arial, Helvetica, sans-serif" font-size="34.7" x="809" y="924">(2π/a)</text></g>
<rect x="833" y="69.9" width="166" height="36.3" fill="url(#jet)" stroke="#262626" stroke-width="1.4"/><text font-family="Liberation Sans, Arial, Helvetica, sans-serif" font-size="28" fill="#fff" x="842" y="97.7">0</text><text font-family="Liberation Sans, Arial, Helvetica, sans-serif" font-size="28" fill="#fff" x="988" y="97.7" text-anchor="end">1</text>
<rect x="1362.3" y="69.9" width="168.8" height="36" fill="url(#jet)" stroke="#262626" stroke-width="1.4"/><text font-family="Liberation Sans, Arial, Helvetica, sans-serif" font-size="28" fill="#fff" x="1371.3" y="97.7">0</text><text font-family="Liberation Sans, Arial, Helvetica, sans-serif" font-size="28" fill="#fff" x="1520.1" y="97.7" text-anchor="end">1</text>
</svg></body></html>
